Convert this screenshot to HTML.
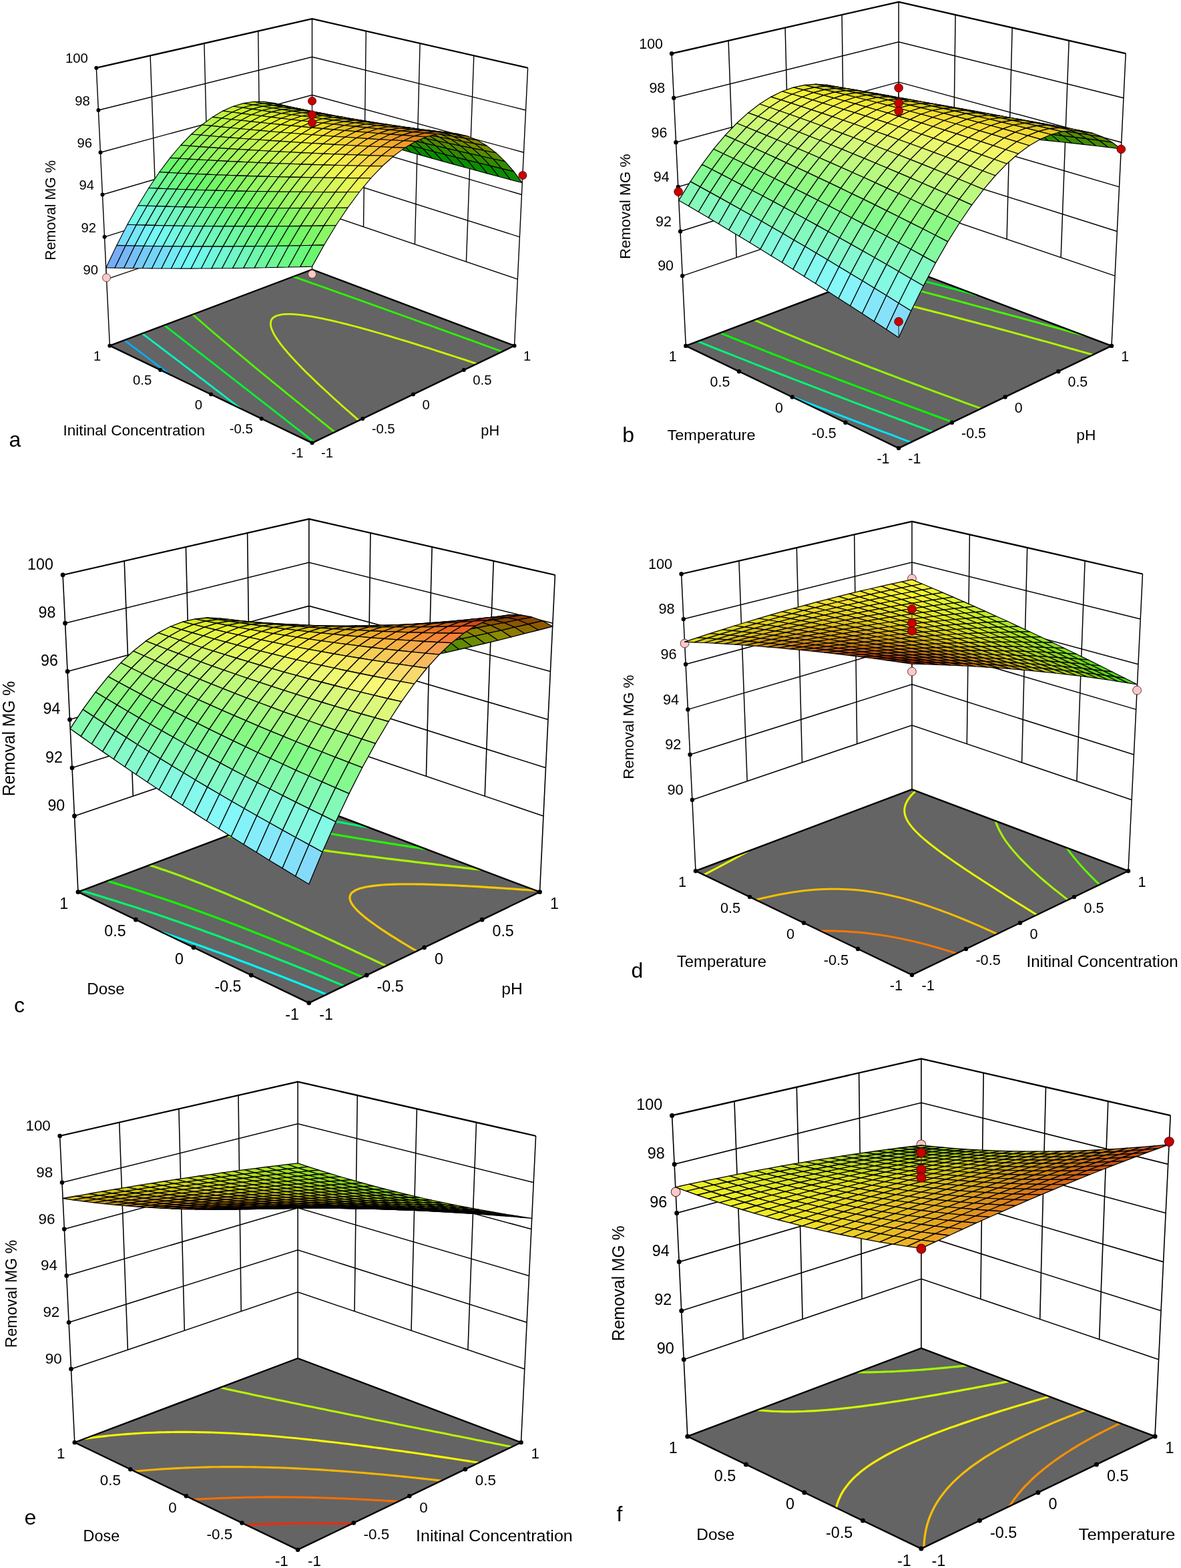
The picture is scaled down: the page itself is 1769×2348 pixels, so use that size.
<!DOCTYPE html>
<html><head><meta charset="utf-8"><style>html,body{margin:0;padding:0;background:#fff}svg{display:block}</style></head>
<body><svg xmlns="http://www.w3.org/2000/svg" width="1769" height="2348" viewBox="0 0 1769 2348" font-family="Liberation Sans, Arial, Helvetica, sans-serif" fill="#000">
<rect width="1769" height="2348" fill="#fff"/>
<path d="M159.6 418.1 L467.5 313.6 L775.3 418.1 M156.6 354.8 L467.5 256.5 L778.4 354.8 M153.5 291.5 L467.5 199.4 L781.5 291.5 M150.5 228.2 L467.5 142.3 L784.5 228.2 M147.4 165 L467.5 85.2 L787.6 165 M236.6 391.9 L225.1 83.3 M698.4 391.9 L709.8 83.3 M313.6 365.8 L305.9 64.9 M621.4 365.8 L629.1 64.9 M390.5 339.7 L386.7 46.5 M544.5 339.7 L548.3 46.5 M164.4 517.7 L144.3 101.7 M467.5 403.5 L467.5 28.2 M770.5 517.7 L790.6 101.7" fill="none" stroke="#000" stroke-width="1.40"/>
<path d="M144.3 101.7 L467.5 28.2 L790.6 101.7" fill="none" stroke="#000" stroke-width="2.30" stroke-linejoin="round"/>
<path d="M164.4 517.7 L467.5 403.5 L770.5 517.7 L467.5 663.3Z" fill="#646464"/>
<path d="M254.8 561.1 L251.3 558.5 L247 555.2 L244 552.9 L240.5 550.3 L236.2 547 L233.3 544.8 L229.8 542.2 L225.5 539 L222.7 536.8 L219.2 534.2 L215 531 L212.2 528.9 L208.8 526.3 L204.7 523.2 L201.8 521.1 L198.5 518.6 L194.4 515.5 L191.5 513.3 L188.4 511 L186.3 509.5" fill="none" stroke="#00adf7" stroke-width="2.80" stroke-linecap="round" stroke-linejoin="round"/>
<path d="M360.3 611.8 L356.7 609 L351.9 605.4 L349.4 603.4 L344.8 599.9 L340.1 596.3 L337.8 594.5 L333.1 590.9 L328.5 587.4 L326.2 585.6 L321.6 582.1 L317.5 578.9 L314.8 576.8 L310.2 573.4 L307 570.9 L303.5 568.2 L299 564.8 L296.7 563.1 L292.4 559.7 L288 556.4 L285.8 554.7 L281.5 551.4 L277.1 548.1 L275 546.5 L270.7 543.2 L266.5 540 L264.3 538.3 L260.1 535.1 L256.6 532.5 L253.7 530.3 L249.6 527.1 L246.8 525.1 L243.3 522.4 L239.2 519.3 L237.2 517.7 L233.1 514.6 L229 511.6 L227 510 L223 507 L218.9 503.9 L216.9 502.4 L213 499.4" fill="none" stroke="#00f7bd" stroke-width="2.80" stroke-linecap="round" stroke-linejoin="round"/>
<path d="M246 487 L249.9 490 L252 491.6 L255.7 494.5 L259.6 497.5 L261.6 499.1 L265.5 502.1 L268.5 504.5 L271.5 506.8 L275.5 509.9 L277.5 511.4 L281.5 514.6 L285.4 517.6 L287.6 519.3 L291.7 522.5 L294.1 524.3 L297.9 527.3 L302.1 530.6 L304.2 532.2 L308.4 535.5 L311.6 538 L314.7 540.4 L319 543.7 L321.1 545.4 L325.4 548.7 L329.6 552 L331.9 553.8 L336.3 557.2 L338.7 559.1 L342.9 562.4 L347.3 565.8 L349.6 567.5 L354 571 L357.3 573.6 L360.8 576.3 L365.3 579.9 L367.6 581.6 L372.2 585.2 L376.5 588.5 L379.2 590.6 L383.8 594.3 L386.2 596.1 L390.9 599.8 L395.6 603.4 L398 605.3 L402.8 609 L406.1 611.6 L410 614.7 L414.8 618.5 L417.3 620.4 L422.2 624.2 L426.5 627.5 L429.6 630 L434.6 633.9 L437.1 635.9 L442.1 639.8 L447.2 643.7 L449.8 645.7 L454.9 649.7 L458.1 652.3 L462.6 655.8 L467.8 659.9 L470.5 661.9" fill="none" stroke="#00f733" stroke-width="2.80" stroke-linecap="round" stroke-linejoin="round"/>
<path d="M288.6 470.9 L290.4 472.4 L293.9 475.5 L295.8 477.2 L299.2 480.1 L301.7 482.3 L304.6 484.8 L307.7 487.5 L310 489.5 L313.7 492.7 L315.5 494.3 L319.3 497.5 L321.1 499.1 L324.9 502.3 L326.8 503.9 L330.6 507.1 L333 509.2 L336.4 512 L339.7 514.8 L342.2 516.9 L346.1 520.2 L348.1 521.9 L352.1 525.2 L354.1 526.9 L358.1 530.2 L360.5 532.2 L364.2 535.3 L367.7 538.2 L370.4 540.4 L374.5 543.9 L376.6 545.6 L380.8 549.1 L382.9 550.8 L387.2 554.3 L390 556.7 L393.6 559.6 L397.8 563 L400.1 564.9 L404.5 568.5 L406.6 570.3 L411.1 573.9 L413.6 576 L417.8 579.4 L421.7 582.6 L424.5 584.9 L429.1 588.6 L431.3 590.5 L435.9 594.2 L438.4 596.2 L442.9 599.8 L446.9 603.1 L449.9 605.5 L454.7 609.4 L457.1 611.3 L461.8 615.2 L464.4 617.3 L469.1 621 L473.4 624.5 L476.4 626.9 L481.3 630.9 L483.8 632.9 L488.8 636.9 L491.8 639.3 L496.3 642.9 L501.2 646.9 L501.4 647" fill="none" stroke="#51f700" stroke-width="2.80" stroke-linecap="round" stroke-linejoin="round"/>
<path d="M714.2 544.8 L706.9 542.4 L699.5 539.9 L695.9 538.7 L688.6 536.4 L681.3 534 L674 531.6 L666.8 529.3 L663.2 528.1 L656 525.8 L648.8 523.5 L641.6 521.2 L634.4 519 L630.8 517.9 L623.7 515.6 L616.5 513.4 L609.4 511.2 L605.8 510.1 L598.7 508 L591.6 505.8 L584.4 503.7 L580.9 502.6 L573.7 500.5 L566.6 498.5 L559.9 496.5 L555.9 495.4 L548.7 493.4 L541.6 491.4 L538 490.4 L530.7 488.5 L523.5 486.6 L519.8 485.7 L512.5 483.8 L507.3 482.5 L501.4 481.2 L493.9 479.4 L490.1 478.6 L482.4 476.9 L478.5 476.2 L470.6 474.6 L466.5 473.9 L459.9 472.8 L453.9 472 L449.5 471.4 L443.4 470.8 L436.5 470.4 L430.6 470.3 L425.3 470.6 L420.9 471.1 L413.8 473 L409.1 475.8 L407.5 477.6 L406.3 479.5 L405.6 482 L405.4 484.4 L405.5 486.7 L405.9 489.2 L406.7 492.1 L407.9 495 L408.9 497.3 L409.9 499.3 L411.1 501.5 L413.2 504.9 L414.6 507.1 L415.9 509 L418.1 512.2 L420.1 514.8 L421.5 516.7 L424.1 519.9 L426.1 522.3 L427.7 524.2 L430.9 528 L432.6 529.9 L434.8 532.5 L437.6 535.5 L439.4 537.4 L442.9 541.2 L444.7 543.1 L447.6 546.1 L450.2 548.8 L452.2 550.9 L455.8 554.5 L457.7 556.4 L461.5 560.2 L463.5 562.1 L467.3 565.8 L469.4 567.8 L472.8 571.1 L475.5 573.6 L478.4 576.4 L481.7 579.5 L484.2 581.8 L488 585.3 L490.2 587.3 L494.4 591.2 L496.6 593.2 L501 597.2 L503.2 599.2 L507.6 603.1 L509.8 605.2 L514.3 609.2 L516.6 611.2 L521.2 615.3 L523.5 617.3 L528.2 621.4 L530.5 623.4 L535.2 627.6 L537.6 629.6" fill="none" stroke="#ccf700" stroke-width="2.80" stroke-linecap="round" stroke-linejoin="round"/>
<path d="M439.2 414.1 L444.9 416.1 L450.6 418.1 L456.3 420.1 L459.9 421.4 L464.9 423.2 L470.7 425.2 L476.5 427.3 L482.3 429.3 L488.1 431.4 L494 433.5 L499.8 435.5 L505.7 437.6 L511.6 439.8 L517.6 441.9 L523.6 444 L529.5 446.1 L532.6 447.2 L538.6 449.4 L544.6 451.5 L550.7 453.7 L556.8 455.9 L562.9 458.1 L569 460.3 L575.2 462.5 L581.4 464.7 L587.6 467 L593.9 469.2 L600.2 471.5 L606.5 473.7 L612.8 476 L619.1 478.3 L622.3 479.5 L628.7 481.8 L635.1 484.1 L641.6 486.4 L648.1 488.8 L654.6 491.1 L661.1 493.5 L667.7 495.9 L674.2 498.2 L680.9 500.6 L687.5 503 L694.2 505.5 L700.9 507.9 L707.6 510.3 L714.4 512.8 L721.2 515.3 L728 517.8 L731.5 519 L738.3 521.5 L745.3 524 L752.2 526.5" fill="none" stroke="#2bf700" stroke-width="2.80" stroke-linecap="round" stroke-linejoin="round"/>
<path d="M164.4 517.7 L467.5 403.5 L770.5 517.7 L467.5 663.3Z" fill="none" stroke="#000" stroke-width="2.40" stroke-linejoin="round"/>
<g fill="#000"><circle cx="164.4" cy="517.7" r="3.0"/><circle cx="240.2" cy="554.1" r="3.0"/><circle cx="316" cy="590.5" r="3.0"/><circle cx="391.7" cy="626.9" r="3.0"/><circle cx="467.5" cy="663.3" r="3.0"/><circle cx="543.2" cy="626.9" r="3.0"/><circle cx="619" cy="590.5" r="3.0"/><circle cx="694.8" cy="554.1" r="3.0"/><circle cx="770.5" cy="517.7" r="3.0"/><circle cx="159.6" cy="418.1" r="3.0"/><circle cx="156.6" cy="354.8" r="3.0"/><circle cx="153.5" cy="291.5" r="3.0"/><circle cx="150.5" cy="228.2" r="3.0"/><circle cx="147.4" cy="165" r="3.0"/><circle cx="144.3" cy="101.7" r="3.0"/></g>
<path d="M159.5 415.8L158.8 400.9" stroke="#222" stroke-width="1.00"/>
<circle cx="159.5" cy="415.8" r="6.0" fill="#ffc8c8" stroke="#533" stroke-width="0.90"/>
<path d="M467.5 410.5L467.5 399.1" stroke="#222" stroke-width="1.00"/>
<circle cx="467.5" cy="410.5" r="6.0" fill="#ffc8c8" stroke="#533" stroke-width="0.90"/>
<g stroke="#000" stroke-width="1.15" stroke-linejoin="round">
<path d="M467.5 177.7 L453.4 173.6 L467.5 184.1 L481.5 188.4Z" fill="#058c00"/>
<path d="M481.7 181.7 L467.5 177.7 L481.5 188.4 L495.8 192.8Z" fill="#048c00"/>
<path d="M453.2 168.9 L439.1 165.2 L453.4 173.6 L467.5 177.7Z" fill="#218c00"/>
<path d="M496.2 185.8 L481.7 181.7 L495.8 192.8 L510.1 197.1Z" fill="#048c00"/>
<path d="M467.5 172.6 L453.2 168.9 L467.5 177.7 L481.7 181.7Z" fill="#218c00"/>
<path d="M438.7 162.2 L424.6 158.7 L439.1 165.2 L453.2 168.9Z" fill="#398c00"/>
<path d="M510.7 189.8 L496.2 185.8 L510.1 197.1 L524.7 201.5Z" fill="#048c00"/>
<path d="M481.9 176.4 L467.5 172.6 L481.7 181.7 L496.2 185.8Z" fill="#228c00"/>
<path d="M453 165.6 L438.7 162.2 L453.2 168.9 L467.5 172.6Z" fill="#3a8c00"/>
<path d="M424 157.6 L409.9 154.4 L424.6 158.7 L438.7 162.2Z" fill="#539603"/>
<path d="M525.5 193.9 L510.7 189.8 L524.7 201.5 L539.4 205.9Z" fill="#048c00"/>
<path d="M496.6 180.2 L481.9 176.4 L496.2 185.8 L510.7 189.8Z" fill="#228c00"/>
<path d="M467.5 169.1 L453 165.6 L467.5 172.6 L481.9 176.4Z" fill="#3b8c00"/>
<path d="M438.3 160.8 L424 157.6 L438.7 162.2 L453 165.6Z" fill="#529202"/>
<path d="M540.4 198 L525.5 193.9 L539.4 205.9 L554.3 210.3Z" fill="#048c00"/>
<path d="M409.1 155.2 L395 152.3 L409.9 154.4 L424 157.6Z" fill="#72aa08"/>
<path d="M511.3 183.9 L496.6 180.2 L510.7 189.8 L525.5 193.9Z" fill="#238c00"/>
<path d="M482.1 172.6 L467.5 169.1 L481.9 176.4 L496.6 180.2Z" fill="#3c8c00"/>
<path d="M452.8 163.9 L438.3 160.8 L453 165.6 L467.5 169.1Z" fill="#528f01"/>
<path d="M555.5 202.1 L540.4 198 L554.3 210.3 L569.3 214.7Z" fill="#048c00"/>
<path d="M423.5 158.1 L409.1 155.2 L424 157.6 L438.3 160.8Z" fill="#72a607"/>
<path d="M394.1 155 L379.9 152.3 L395 152.3 L409.1 155.2Z" fill="#8ebe0e"/>
<path d="M526.3 187.7 L511.3 183.9 L525.5 193.9 L540.4 198Z" fill="#248c00"/>
<path d="M496.9 176 L482.1 172.6 L496.6 180.2 L511.3 183.9Z" fill="#3d8c00"/>
<path d="M467.5 167.1 L452.8 163.9 L467.5 169.1 L482.1 172.6Z" fill="#528c00"/>
<path d="M570.8 206.2 L555.5 202.1 L569.3 214.7 L584.6 219.2Z" fill="#058c00"/>
<path d="M438 160.9 L423.5 158.1 L438.3 160.8 L452.8 163.9Z" fill="#72a306"/>
<path d="M408.4 157.6 L394.1 155 L409.1 155.2 L423.5 158.1Z" fill="#8fbb0d"/>
<path d="M378.8 157 L364.7 154.6 L379.9 152.3 L394.1 155Z" fill="#a7d216"/>
<path d="M541.4 191.5 L526.3 187.7 L540.4 198 L555.5 202.1Z" fill="#248c00"/>
<path d="M511.9 179.5 L496.9 176 L511.3 183.9 L526.3 187.7Z" fill="#3f8c00"/>
<path d="M586.3 210.3 L570.8 206.2 L584.6 219.2 L600 223.6Z" fill="#058c00"/>
<path d="M482.3 170.3 L467.5 167.1 L482.1 172.6 L496.9 176Z" fill="#538c00"/>
<path d="M452.6 163.8 L438 160.9 L452.8 163.9 L467.5 167.1Z" fill="#72a005"/>
<path d="M422.9 160.2 L408.4 157.6 L423.5 158.1 L438 160.9Z" fill="#90b70c"/>
<path d="M363.5 161.3 L349.3 159.2 L364.7 154.6 L378.8 157Z" fill="#bae521"/>
<path d="M393.2 159.3 L378.8 157 L394.1 155 L408.4 157.6Z" fill="#a9cf14"/>
<path d="M556.8 195.3 L541.4 191.5 L555.5 202.1 L570.8 206.2Z" fill="#258c00"/>
<path d="M527.1 183 L511.9 179.5 L526.3 187.7 L541.4 191.5Z" fill="#408c00"/>
<path d="M601.9 214.5 L586.3 210.3 L600 223.6 L615.6 228.1Z" fill="#058c00"/>
<path d="M497.3 173.4 L482.3 170.3 L496.9 176 L511.9 179.5Z" fill="#558c00"/>
<path d="M467.5 166.7 L452.6 163.8 L467.5 167.1 L482.3 170.3Z" fill="#719c04"/>
<path d="M347.9 168 L333.8 166.1 L349.3 159.2 L363.5 161.3Z" fill="#c5f42c"/>
<path d="M437.6 162.8 L422.9 160.2 L438 160.9 L452.6 163.8Z" fill="#90b40b"/>
<path d="M377.8 163.4 L363.5 161.3 L378.8 157 L393.2 159.3Z" fill="#bde21f"/>
<path d="M407.7 161.7 L393.2 159.3 L408.4 157.6 L422.9 160.2Z" fill="#aacb12"/>
<path d="M572.3 199.1 L556.8 195.3 L570.8 206.2 L586.3 210.3Z" fill="#268c00"/>
<path d="M542.5 186.5 L527.1 183 L541.4 191.5 L556.8 195.3Z" fill="#418c00"/>
<path d="M617.8 218.6 L601.9 214.5 L615.6 228.1 L631.3 232.6Z" fill="#068c00"/>
<path d="M512.6 176.6 L497.3 173.4 L511.9 179.5 L527.1 183Z" fill="#578c00"/>
<path d="M332.3 177 L318.2 175.4 L333.8 166.1 L347.9 168Z" fill="#bff53b"/>
<path d="M482.5 169.6 L467.5 166.7 L482.3 170.3 L497.3 173.4Z" fill="#719904"/>
<path d="M362.2 169.9 L347.9 168 L363.5 161.3 L377.8 163.4Z" fill="#c9f229"/>
<path d="M452.4 165.4 L437.6 162.8 L452.6 163.8 L467.5 166.7Z" fill="#91b10a"/>
<path d="M588 202.9 L572.3 199.1 L586.3 210.3 L601.9 214.5Z" fill="#278c00"/>
<path d="M392.2 165.5 L377.8 163.4 L393.2 159.3 L407.7 161.7Z" fill="#c0df1d"/>
<path d="M422.3 164 L407.7 161.7 L422.9 160.2 L437.6 162.8Z" fill="#abc811"/>
<path d="M558 189.9 L542.5 186.5 L556.8 195.3 L572.3 199.1Z" fill="#438c00"/>
<path d="M633.8 222.8 L617.8 218.6 L631.3 232.6 L647.3 237.1Z" fill="#068c00"/>
<path d="M316.5 188.4 L302.5 187 L318.2 175.4 L332.3 177Z" fill="#b5f648"/>
<path d="M527.9 179.8 L512.6 176.6 L527.1 183 L542.5 186.5Z" fill="#598c00"/>
<path d="M346.5 178.7 L332.3 177 L347.9 168 L362.2 169.9Z" fill="#c5f538"/>
<path d="M497.8 172.5 L482.5 169.6 L497.3 173.4 L512.6 176.6Z" fill="#719603"/>
<path d="M376.7 171.7 L362.2 169.9 L377.8 163.4 L392.2 165.5Z" fill="#cdef27"/>
<path d="M467.5 168 L452.4 165.4 L467.5 166.7 L482.5 169.6Z" fill="#91ad09"/>
<path d="M603.9 206.7 L588 202.9 L601.9 214.5 L617.8 218.6Z" fill="#288c00"/>
<path d="M406.9 167.6 L392.2 165.5 L407.7 161.7 L422.3 164Z" fill="#c2db1b"/>
<path d="M437.2 166.4 L422.3 164 L437.6 162.8 L452.4 165.4Z" fill="#adc510"/>
<path d="M573.8 193.4 L558 189.9 L572.3 199.1 L588 202.9Z" fill="#448c00"/>
<path d="M300.7 202.3 L286.7 201 L302.5 187 L316.5 188.4Z" fill="#a6f653"/>
<path d="M650 227 L633.8 222.8 L647.3 237.1 L663.5 241.6Z" fill="#078c00"/>
<path d="M543.5 183 L527.9 179.8 L542.5 186.5 L558 189.9Z" fill="#5b8c00"/>
<path d="M330.7 189.9 L316.5 188.4 L332.3 177 L346.5 178.7Z" fill="#bbf646"/>
<path d="M513.2 175.3 L497.8 172.5 L512.6 176.6 L527.9 179.8Z" fill="#719302"/>
<path d="M361 180.3 L346.5 178.7 L362.2 169.9 L376.7 171.7Z" fill="#cbf536"/>
<path d="M620 210.6 L603.9 206.7 L617.8 218.6 L633.8 222.8Z" fill="#298c00"/>
<path d="M482.7 170.6 L467.5 168 L482.5 169.6 L497.8 172.5Z" fill="#92aa08"/>
<path d="M391.3 173.5 L376.7 171.7 L392.2 165.5 L406.9 167.6Z" fill="#d1ed26"/>
<path d="M452.2 168.7 L437.2 166.4 L452.4 165.4 L467.5 168Z" fill="#afc10f"/>
<path d="M421.8 169.7 L406.9 167.6 L422.3 164 L437.2 166.4Z" fill="#c5d819"/>
<path d="M284.7 218.5 L270.8 217.5 L286.7 201 L300.7 202.3Z" fill="#94f75c"/>
<path d="M589.7 196.9 L573.8 193.4 L588 202.9 L603.9 206.7Z" fill="#468c00"/>
<path d="M314.8 203.5 L300.7 202.3 L316.5 188.4 L330.7 189.9Z" fill="#acf651"/>
<path d="M666.4 231.2 L650 227 L663.5 241.6 L679.8 246.1Z" fill="#078c00"/>
<path d="M559.3 186.1 L543.5 183 L558 189.9 L573.8 193.4Z" fill="#5d8c00"/>
<path d="M345.1 191.3 L330.7 189.9 L346.5 178.7 L361 180.3Z" fill="#c1f643"/>
<path d="M268.7 237.3 L254.8 236.4 L270.8 217.5 L284.7 218.5Z" fill="#7ef763"/>
<path d="M528.8 178.2 L513.2 175.3 L527.9 179.8 L543.5 183Z" fill="#718f01"/>
<path d="M375.6 181.9 L361 180.3 L376.7 171.7 L391.3 173.5Z" fill="#d2f533"/>
<path d="M636.3 214.4 L620 210.6 L633.8 222.8 L650 227Z" fill="#2a8c00"/>
<path d="M498.2 173.2 L482.7 170.6 L497.8 172.5 L513.2 175.3Z" fill="#93a707"/>
<path d="M406.2 175.4 L391.3 173.5 L406.9 167.6 L421.8 169.7Z" fill="#d5ea24"/>
<path d="M467.5 171 L452.2 168.7 L467.5 168 L482.7 170.6Z" fill="#b0be0e"/>
<path d="M436.8 171.7 L421.8 169.7 L437.2 166.4 L452.2 168.7Z" fill="#c7d518"/>
<path d="M298.8 219.6 L284.7 218.5 L300.7 202.3 L314.8 203.5Z" fill="#9af75a"/>
<path d="M605.9 200.4 L589.7 196.9 L603.9 206.7 L620 210.6Z" fill="#478c00"/>
<path d="M252.6 258.4 L238.8 257.7 L254.8 236.4 L268.7 237.3Z" fill="#69f76e"/>
<path d="M329.2 204.7 L314.8 203.5 L330.7 189.9 L345.1 191.3Z" fill="#b3f64f"/>
<path d="M683.1 235.4 L666.4 231.2 L679.8 246.1 L696.4 250.7Z" fill="#088c00"/>
<path d="M575.3 189.3 L559.3 186.1 L573.8 193.4 L589.7 196.9Z" fill="#5f8c00"/>
<path d="M359.7 192.7 L345.1 191.3 L361 180.3 L375.6 181.9Z" fill="#c8f641"/>
<path d="M282.8 238.1 L268.7 237.3 L284.7 218.5 L298.8 219.6Z" fill="#84f762"/>
<path d="M544.6 181.1 L528.8 178.2 L543.5 183 L559.3 186.1Z" fill="#718c00"/>
<path d="M236.6 282.1 L222.8 281.5 L238.8 257.7 L252.6 258.4Z" fill="#6df894"/>
<path d="M390.4 183.5 L375.6 181.9 L391.3 173.5 L406.2 175.4Z" fill="#d8f531"/>
<path d="M652.8 218.3 L636.3 214.4 L650 227 L666.4 231.2Z" fill="#2b8c00"/>
<path d="M513.8 175.7 L498.2 173.2 L513.2 175.3 L528.8 178.2Z" fill="#93a306"/>
<path d="M421.2 177.2 L406.2 175.4 L421.8 169.7 L436.8 171.7Z" fill="#d9e722"/>
<path d="M482.9 173.3 L467.5 171 L482.7 170.6 L498.2 173.2Z" fill="#b1bb0d"/>
<path d="M452 173.8 L436.8 171.7 L452.2 168.7 L467.5 171Z" fill="#cad216"/>
<path d="M313.1 220.6 L298.8 219.6 L314.8 203.5 L329.2 204.7Z" fill="#a1f759"/>
<path d="M622.2 204 L605.9 200.4 L620 210.6 L636.3 214.4Z" fill="#498c00"/>
<path d="M220.4 308.2 L206.8 307.7 L222.8 281.5 L236.6 282.1Z" fill="#71f8bc"/>
<path d="M266.6 259.2 L252.6 258.4 L268.7 237.3 L282.8 238.1Z" fill="#6bf768"/>
<path d="M699.9 239.6 L683.1 235.4 L696.4 250.7 L713.1 255.3Z" fill="#098c00"/>
<path d="M343.7 205.9 L329.2 204.7 L345.1 191.3 L359.7 192.7Z" fill="#baf64d"/>
<path d="M591.5 192.5 L575.3 189.3 L589.7 196.9 L605.9 200.4Z" fill="#618c00"/>
<path d="M374.5 194 L359.7 192.7 L375.6 181.9 L390.4 183.5Z" fill="#cff53f"/>
<path d="M204.3 336.7 L190.8 336.3 L206.8 307.7 L220.4 308.2Z" fill="#73f8e6"/>
<path d="M560.6 184 L544.6 181.1 L559.3 186.1 L575.3 189.3Z" fill="#748c00"/>
<path d="M297 239 L282.8 238.1 L298.8 219.6 L313.1 220.6Z" fill="#8bf760"/>
<path d="M669.5 222.1 L652.8 218.3 L666.4 231.2 L683.1 235.4Z" fill="#2d8c00"/>
<path d="M250.5 282.7 L236.6 282.1 L252.6 258.4 L266.6 259.2Z" fill="#6cf88b"/>
<path d="M405.4 185 L390.4 183.5 L406.2 175.4 L421.2 177.2Z" fill="#dff52e"/>
<path d="M529.6 178.3 L513.8 175.7 L528.8 178.2 L544.6 181.1Z" fill="#94a005"/>
<path d="M436.4 179 L421.2 177.2 L436.8 171.7 L452 173.8Z" fill="#dce420"/>
<path d="M498.6 175.6 L482.9 173.3 L498.2 173.2 L513.8 175.7Z" fill="#b3b80c"/>
<path d="M467.5 175.8 L452 173.8 L467.5 171 L482.9 173.3Z" fill="#cccf14"/>
<path d="M188.2 367.7 L174.8 367.4 L190.8 336.3 L204.3 336.7Z" fill="#75ddf8"/>
<path d="M327.6 221.6 L313.1 220.6 L329.2 204.7 L343.7 205.9Z" fill="#a8f757"/>
<path d="M638.8 207.5 L622.2 204 L636.3 214.4 L652.8 218.3Z" fill="#4b8c00"/>
<path d="M234.3 308.6 L220.4 308.2 L236.6 282.1 L250.5 282.7Z" fill="#70f8b3"/>
<path d="M717 243.8 L699.9 239.6 L713.1 255.3 L730.1 259.9Z" fill="#0a8c00"/>
<path d="M280.8 259.9 L266.6 259.2 L282.8 238.1 L297 239Z" fill="#72f766"/>
<path d="M172.2 401.1 L158.8 400.9 L174.8 367.4 L188.2 367.7Z" fill="#77adf8"/>
<path d="M358.5 207 L343.7 205.9 L359.7 192.7 L374.5 194Z" fill="#c0f64b"/>
<path d="M607.9 195.7 L591.5 192.5 L605.9 200.4 L622.2 204Z" fill="#648c00"/>
<path d="M389.5 195.4 L374.5 194 L390.4 183.5 L405.4 185Z" fill="#d6f53c"/>
<path d="M576.8 186.8 L560.6 184 L575.3 189.3 L591.5 192.5Z" fill="#778c00"/>
<path d="M218.1 337.1 L204.3 336.7 L220.4 308.2 L234.3 308.6Z" fill="#73f8dd"/>
<path d="M686.4 226 L669.5 222.1 L683.1 235.4 L699.9 239.6Z" fill="#2e8c00"/>
<path d="M311.5 239.8 L297 239 L313.1 220.6 L327.6 221.6Z" fill="#92f75f"/>
<path d="M420.6 186.6 L405.4 185 L421.2 177.2 L436.4 179Z" fill="#e6f42b"/>
<path d="M545.7 180.9 L529.6 178.3 L544.6 181.1 L560.6 184Z" fill="#949d04"/>
<path d="M264.6 283.2 L250.5 282.7 L266.6 259.2 L280.8 259.9Z" fill="#6bf882"/>
<path d="M451.9 180.7 L436.4 179 L452 173.8 L467.5 175.8Z" fill="#e0e11f"/>
<path d="M514.4 177.9 L498.6 175.6 L513.8 175.7 L529.6 178.3Z" fill="#b4b40b"/>
<path d="M483.1 177.8 L467.5 175.8 L482.9 173.3 L498.6 175.6Z" fill="#cbc812"/>
<path d="M201.9 368 L188.2 367.7 L204.3 336.7 L218.1 337.1Z" fill="#75e6f8"/>
<path d="M655.5 211 L638.8 207.5 L652.8 218.3 L669.5 222.1Z" fill="#4d8c00"/>
<path d="M342.3 222.6 L327.6 221.6 L343.7 205.9 L358.5 207Z" fill="#aff755"/>
<path d="M734.3 248.1 L717 243.8 L730.1 259.9 L747.3 264.5Z" fill="#0b8c00"/>
<path d="M248.3 309.1 L234.3 308.6 L250.5 282.7 L264.6 283.2Z" fill="#6ff8a9"/>
<path d="M295.2 260.5 L280.8 259.9 L297 239 L311.5 239.8Z" fill="#79f765"/>
<path d="M185.7 401.4 L172.2 401.1 L188.2 367.7 L201.9 368Z" fill="#76b7f8"/>
<path d="M624.5 198.9 L607.9 195.7 L622.2 204 L638.8 207.5Z" fill="#668c00"/>
<path d="M373.4 208.2 L358.5 207 L374.5 194 L389.5 195.4Z" fill="#c8f649"/>
<path d="M593.3 189.7 L576.8 186.8 L591.5 192.5 L607.9 195.7Z" fill="#7a8c00"/>
<path d="M404.7 196.7 L389.5 195.4 L405.4 185 L420.6 186.6Z" fill="#ddf53a"/>
<path d="M703.5 229.9 L686.4 226 L699.9 239.6 L717 243.8Z" fill="#308c00"/>
<path d="M232 337.4 L218.1 337.1 L234.3 308.6 L248.3 309.1Z" fill="#72f8d4"/>
<path d="M326.1 240.6 L311.5 239.8 L327.6 221.6 L342.3 222.6Z" fill="#99f75d"/>
<path d="M561.9 183.5 L545.7 180.9 L560.6 184 L576.8 186.8Z" fill="#949904"/>
<path d="M436 188.1 L420.6 186.6 L436.4 179 L451.9 180.7Z" fill="#ecf229"/>
<path d="M278.9 283.7 L264.6 283.2 L280.8 259.9 L295.2 260.5Z" fill="#6af878"/>
<path d="M530.5 180.2 L514.4 177.9 L529.6 178.3 L545.7 180.9Z" fill="#b1ac0a"/>
<path d="M467.5 182.5 L451.9 180.7 L467.5 175.8 L483.1 177.8Z" fill="#dfd91d"/>
<path d="M499 179.9 L483.1 177.8 L498.6 175.6 L514.4 177.9Z" fill="#c8bf11"/>
<path d="M672.5 214.5 L655.5 211 L669.5 222.1 L686.4 226Z" fill="#4f8c00"/>
<path d="M215.7 368.3 L201.9 368 L218.1 337.1 L232 337.4Z" fill="#74f0f8"/>
<path d="M357.2 223.5 L342.3 222.6 L358.5 207 L373.4 208.2Z" fill="#b6f653"/>
<path d="M751.8 252.4 L734.3 248.1 L747.3 264.5 L764.7 269.1Z" fill="#0c8c00"/>
<path d="M641.3 202.1 L624.5 198.9 L638.8 207.5 L655.5 211Z" fill="#688c00"/>
<path d="M262.5 309.5 L248.3 309.1 L264.6 283.2 L278.9 283.7Z" fill="#6ef8a0"/>
<path d="M309.8 261.1 L295.2 260.5 L311.5 239.8 L326.1 240.6Z" fill="#80f764"/>
<path d="M388.6 209.3 L373.4 208.2 L389.5 195.4 L404.7 196.7Z" fill="#cff647"/>
<path d="M199.5 401.6 L185.7 401.4 L201.9 368 L215.7 368.3Z" fill="#76c0f8"/>
<path d="M609.9 192.6 L593.3 189.7 L607.9 195.7 L624.5 198.9Z" fill="#7d8c00"/>
<path d="M720.9 233.8 L703.5 229.9 L717 243.8 L734.3 248.1Z" fill="#318c00"/>
<path d="M420 198 L404.7 196.7 L420.6 186.6 L436 188.1Z" fill="#e5f538"/>
<path d="M578.4 186 L561.9 183.5 L576.8 186.8 L593.3 189.7Z" fill="#959603"/>
<path d="M340.9 241.4 L326.1 240.6 L342.3 222.6 L357.2 223.5Z" fill="#a0f75c"/>
<path d="M246.1 337.7 L232 337.4 L248.3 309.1 L262.5 309.5Z" fill="#71f8ca"/>
<path d="M451.7 189.6 L436 188.1 L451.9 180.7 L467.5 182.5Z" fill="#efed27"/>
<path d="M546.7 182.4 L530.5 180.2 L545.7 180.9 L561.9 183.5Z" fill="#aea409"/>
<path d="M483.3 184.3 L467.5 182.5 L483.1 177.8 L499 179.9Z" fill="#dbcf1b"/>
<path d="M293.4 284.2 L278.9 283.7 L295.2 260.5 L309.8 261.1Z" fill="#69f86e"/>
<path d="M515 181.9 L499 179.9 L514.4 177.9 L530.5 180.2Z" fill="#c5b710"/>
<path d="M689.7 218.1 L672.5 214.5 L686.4 226 L703.5 229.9Z" fill="#518c00"/>
<path d="M769.5 256.6 L751.8 252.4 L764.7 269.1 L782.3 273.8Z" fill="#0d8c00"/>
<path d="M372.3 224.4 L357.2 223.5 L373.4 208.2 L388.6 209.3Z" fill="#bdf651"/>
<path d="M229.8 368.5 L215.7 368.3 L232 337.4 L246.1 337.7Z" fill="#73f8f7"/>
<path d="M658.4 205.3 L641.3 202.1 L655.5 211 L672.5 214.5Z" fill="#6b8c00"/>
<path d="M324.5 261.8 L309.8 261.1 L326.1 240.6 L340.9 241.4Z" fill="#88f763"/>
<path d="M276.9 309.9 L262.5 309.5 L278.9 283.7 L293.4 284.2Z" fill="#6df896"/>
<path d="M403.9 210.4 L388.6 209.3 L404.7 196.7 L420 198Z" fill="#d7f645"/>
<path d="M213.4 401.7 L199.5 401.6 L215.7 368.3 L229.8 368.5Z" fill="#75caf8"/>
<path d="M626.8 195.4 L609.9 192.6 L624.5 198.9 L641.3 202.1Z" fill="#808c00"/>
<path d="M738.5 237.7 L720.9 233.8 L734.3 248.1 L751.8 252.4Z" fill="#338c00"/>
<path d="M435.6 199.3 L420 198 L436 188.1 L451.7 189.6Z" fill="#edf535"/>
<path d="M595.1 188.6 L578.4 186 L593.3 189.7 L609.9 192.6Z" fill="#939002"/>
<path d="M467.5 191.1 L451.7 189.6 L467.5 182.5 L483.3 184.3Z" fill="#ece325"/>
<path d="M356 242.1 L340.9 241.4 L357.2 223.5 L372.3 224.4Z" fill="#a8f75a"/>
<path d="M260.5 338 L246.1 337.7 L262.5 309.5 L276.9 309.9Z" fill="#70f8c0"/>
<path d="M563.2 184.7 L546.7 182.4 L561.9 183.5 L578.4 186Z" fill="#aa9d08"/>
<path d="M499.4 186 L483.3 184.3 L499 179.9 L515 181.9Z" fill="#d8c519"/>
<path d="M531.3 183.8 L515 181.9 L530.5 180.2 L546.7 182.4Z" fill="#c2ae0f"/>
<path d="M308.1 284.7 L293.4 284.2 L309.8 261.1 L324.5 261.8Z" fill="#6cf768"/>
<path d="M707.2 221.6 L689.7 218.1 L703.5 229.9 L720.9 233.8Z" fill="#538c00"/>
<path d="M387.6 225.3 L372.3 224.4 L388.6 209.3 L403.9 210.4Z" fill="#c5f64f"/>
<path d="M244 368.7 L229.8 368.5 L246.1 337.7 L260.5 338Z" fill="#72f8ed"/>
<path d="M675.6 208.5 L658.4 205.3 L672.5 214.5 L689.7 218.1Z" fill="#6e8c00"/>
<path d="M339.5 262.3 L324.5 261.8 L340.9 241.4 L356 242.1Z" fill="#8ff761"/>
<path d="M419.5 211.4 L403.9 210.4 L420 198 L435.6 199.3Z" fill="#dff642"/>
<path d="M291.6 310.2 L276.9 309.9 L293.4 284.2 L308.1 284.7Z" fill="#6cf88c"/>
<path d="M756.3 241.6 L738.5 237.7 L751.8 252.4 L769.5 256.6Z" fill="#348c00"/>
<path d="M643.9 198.3 L626.8 195.4 L641.3 202.1 L658.4 205.3Z" fill="#838c00"/>
<path d="M227.5 401.9 L213.4 401.7 L229.8 368.5 L244 368.7Z" fill="#74d4f8"/>
<path d="M451.5 200.5 L435.6 199.3 L451.7 189.6 L467.5 191.1Z" fill="#f5f533"/>
<path d="M612 191.1 L595.1 188.6 L609.9 192.6 L626.8 195.4Z" fill="#8f8901"/>
<path d="M483.5 192.6 L467.5 191.1 L483.3 184.3 L499.4 186Z" fill="#ead824"/>
<path d="M371.2 242.8 L356 242.1 L372.3 224.4 L387.6 225.3Z" fill="#b0f758"/>
<path d="M579.9 187 L563.2 184.7 L578.4 186 L595.1 188.6Z" fill="#a79507"/>
<path d="M515.7 187.7 L499.4 186 L515 181.9 L531.3 183.8Z" fill="#d5bb18"/>
<path d="M275 338.3 L260.5 338 L276.9 309.9 L291.6 310.2Z" fill="#6ff8b6"/>
<path d="M547.8 185.8 L531.3 183.8 L546.7 182.4 L563.2 184.7Z" fill="#bea50e"/>
<path d="M724.9 225.2 L707.2 221.6 L720.9 233.8 L738.5 237.7Z" fill="#558c00"/>
<path d="M323 285.1 L308.1 284.7 L324.5 261.8 L339.5 262.3Z" fill="#73f767"/>
<path d="M403.2 226.2 L387.6 225.3 L403.9 210.4 L419.5 211.4Z" fill="#cdf64e"/>
<path d="M693.1 211.7 L675.6 208.5 L689.7 218.1 L707.2 221.6Z" fill="#708c00"/>
<path d="M258.5 368.9 L244 368.7 L260.5 338 L275 338.3Z" fill="#72f8e3"/>
<path d="M435.3 212.5 L419.5 211.4 L435.6 199.3 L451.5 200.5Z" fill="#e7f540"/>
<path d="M354.7 262.9 L339.5 262.3 L356 242.1 L371.2 242.8Z" fill="#97f760"/>
<path d="M306.4 310.5 L291.6 310.2 L308.1 284.7 L323 285.1Z" fill="#6bf882"/>
<path d="M661.2 201.2 L643.9 198.3 L658.4 205.3 L675.6 208.5Z" fill="#868c00"/>
<path d="M241.9 402 L227.5 401.9 L244 368.7 L258.5 368.9Z" fill="#74def8"/>
<path d="M467.5 201.8 L451.5 200.5 L467.5 191.1 L483.5 192.6Z" fill="#f5ec30"/>
<path d="M629.1 193.7 L612 191.1 L626.8 195.4 L643.9 198.3Z" fill="#8c8300"/>
<path d="M499.8 194.1 L483.5 192.6 L499.4 186 L515.7 187.7Z" fill="#e7ce22"/>
<path d="M596.9 189.2 L579.9 187 L595.1 188.6 L612 191.1Z" fill="#a48d06"/>
<path d="M386.7 243.5 L371.2 242.8 L387.6 225.3 L403.2 226.2Z" fill="#b8f757"/>
<path d="M532.2 189.4 L515.7 187.7 L531.3 183.8 L547.8 185.8Z" fill="#d2b116"/>
<path d="M742.8 228.7 L724.9 225.2 L738.5 237.7 L756.3 241.6Z" fill="#578c00"/>
<path d="M564.5 187.8 L547.8 185.8 L563.2 184.7 L579.9 187Z" fill="#bb9c0d"/>
<path d="M289.8 338.5 L275 338.3 L291.6 310.2 L306.4 310.5Z" fill="#6ef8ac"/>
<path d="M338.1 285.5 L323 285.1 L339.5 262.3 L354.7 262.9Z" fill="#7cf765"/>
<path d="M418.9 227 L403.2 226.2 L419.5 211.4 L435.3 212.5Z" fill="#d5f64c"/>
<path d="M710.9 214.9 L693.1 211.7 L707.2 221.6 L724.9 225.2Z" fill="#738c00"/>
<path d="M273.1 369 L258.5 368.9 L275 338.3 L289.8 338.5Z" fill="#71f8d8"/>
<path d="M451.3 213.5 L435.3 212.5 L451.5 200.5 L467.5 201.8Z" fill="#f0f53e"/>
<path d="M678.8 204 L661.2 201.2 L675.6 208.5 L693.1 211.7Z" fill="#898c00"/>
<path d="M370.1 263.4 L354.7 262.9 L371.2 242.8 L386.7 243.5Z" fill="#a0f75e"/>
<path d="M321.5 310.8 L306.4 310.5 L323 285.1 L338.1 285.5Z" fill="#6af878"/>
<path d="M483.7 203 L467.5 201.8 L483.5 192.6 L499.8 194.1Z" fill="#f5e32d"/>
<path d="M646.5 196.2 L629.1 193.7 L643.9 198.3 L661.2 201.2Z" fill="#8c7f00"/>
<path d="M256.5 402 L241.9 402 L258.5 368.9 L273.1 369Z" fill="#73e9f8"/>
<path d="M516.3 195.5 L499.8 194.1 L515.7 187.7 L532.2 189.4Z" fill="#e4c320"/>
<path d="M614 191.4 L596.9 189.2 L612 191.1 L629.1 193.7Z" fill="#a08505"/>
<path d="M548.9 191.1 L532.2 189.4 L547.8 185.8 L564.5 187.8Z" fill="#cfa714"/>
<path d="M581.5 189.7 L564.5 187.8 L579.9 187 L596.9 189.2Z" fill="#b8930c"/>
<path d="M402.4 244.1 L386.7 243.5 L403.2 226.2 L418.9 227Z" fill="#c0f755"/>
<path d="M304.8 338.6 L289.8 338.5 L306.4 310.5 L321.5 310.8Z" fill="#6df8a2"/>
<path d="M353.5 285.9 L338.1 285.5 L354.7 262.9 L370.1 263.4Z" fill="#84f764"/>
<path d="M728.9 218.1 L710.9 214.9 L724.9 225.2 L742.8 228.7Z" fill="#768c00"/>
<path d="M434.9 227.8 L418.9 227 L435.3 212.5 L451.3 213.5Z" fill="#def64a"/>
<path d="M288 369.1 L273.1 369 L289.8 338.5 L304.8 338.6Z" fill="#70f8ce"/>
<path d="M696.6 206.9 L678.8 204 L693.1 211.7 L710.9 214.9Z" fill="#8c8c00"/>
<path d="M467.5 214.5 L451.3 213.5 L467.5 201.8 L483.7 203Z" fill="#f5f23b"/>
<path d="M385.8 263.9 L370.1 263.4 L386.7 243.5 L402.4 244.1Z" fill="#a8f75d"/>
<path d="M336.7 311 L321.5 310.8 L338.1 285.5 L353.5 285.9Z" fill="#69f76d"/>
<path d="M664.1 198.7 L646.5 196.2 L661.2 201.2 L678.8 204Z" fill="#8c7b00"/>
<path d="M500.2 204.2 L483.7 203 L499.8 194.1 L516.3 195.5Z" fill="#f4d92b"/>
<path d="M271.2 402.1 L256.5 402 L273.1 369 L288 369.1Z" fill="#72f3f8"/>
<path d="M631.5 193.7 L614 191.4 L629.1 193.7 L646.5 196.2Z" fill="#9d7e05"/>
<path d="M533 196.9 L516.3 195.5 L532.2 189.4 L548.9 191.1Z" fill="#e1b81f"/>
<path d="M598.7 191.7 L581.5 189.7 L596.9 189.2 L614 191.4Z" fill="#b58b0b"/>
<path d="M565.9 192.8 L548.9 191.1 L564.5 187.8 L581.5 189.7Z" fill="#cb9d12"/>
<path d="M418.3 244.7 L402.4 244.1 L418.9 227 L434.9 227.8Z" fill="#c9f653"/>
<path d="M319.9 338.8 L304.8 338.6 L321.5 310.8 L336.7 311Z" fill="#6df897"/>
<path d="M369.1 286.2 L353.5 285.9 L370.1 263.4 L385.8 263.9Z" fill="#8cf763"/>
<path d="M451.1 228.6 L434.9 227.8 L451.3 213.5 L467.5 214.5Z" fill="#e7f647"/>
<path d="M714.6 209.7 L696.6 206.9 L710.9 214.9 L728.9 218.1Z" fill="#8c8900"/>
<path d="M303.1 369.1 L288 369.1 L304.8 338.6 L319.9 338.8Z" fill="#6ff8c3"/>
<path d="M483.9 215.4 L467.5 214.5 L483.7 203 L500.2 204.2Z" fill="#f5e939"/>
<path d="M401.6 264.3 L385.8 263.9 L402.4 244.1 L418.3 244.7Z" fill="#b0f75b"/>
<path d="M352.2 311.2 L336.7 311 L353.5 285.9 L369.1 286.2Z" fill="#6df768"/>
<path d="M682 201.3 L664.1 198.7 L678.8 204 L696.6 206.9Z" fill="#8c7700"/>
<path d="M516.9 205.3 L500.2 204.2 L516.3 195.5 L533 196.9Z" fill="#f1cd28"/>
<path d="M649.1 195.9 L631.5 193.7 L646.5 196.2 L664.1 198.7Z" fill="#9a7604"/>
<path d="M550 198.3 L533 196.9 L548.9 191.1 L565.9 192.8Z" fill="#dead1d"/>
<path d="M286.2 402.1 L271.2 402.1 L288 369.1 L303.1 369.1Z" fill="#72f8f2"/>
<path d="M616.1 193.6 L598.7 191.7 L614 191.4 L631.5 193.7Z" fill="#b1820a"/>
<path d="M583.1 194.4 L565.9 192.8 L581.5 189.7 L598.7 191.7Z" fill="#c89411"/>
<path d="M434.5 245.3 L418.3 244.7 L434.9 227.8 L451.1 228.6Z" fill="#d2f652"/>
<path d="M335.4 338.9 L319.9 338.8 L336.7 311 L352.2 311.2Z" fill="#6cf88c"/>
<path d="M384.9 286.5 L369.1 286.2 L385.8 263.9 L401.6 264.3Z" fill="#95f762"/>
<path d="M467.5 229.3 L451.1 228.6 L467.5 214.5 L483.9 215.4Z" fill="#f0f645"/>
<path d="M500.6 216.4 L483.9 215.4 L500.2 204.2 L516.9 205.3Z" fill="#f5df37"/>
<path d="M318.4 369.1 L303.1 369.1 L319.9 338.8 L335.4 338.9Z" fill="#6ff8b8"/>
<path d="M417.7 264.7 L401.6 264.3 L418.3 244.7 L434.5 245.3Z" fill="#b9f75a"/>
<path d="M700.1 203.8 L682 201.3 L696.6 206.9 L714.6 209.7Z" fill="#8c7300"/>
<path d="M368 311.4 L352.2 311.2 L369.1 286.2 L384.9 286.5Z" fill="#76f767"/>
<path d="M533.9 206.5 L516.9 205.3 L533 196.9 L550 198.3Z" fill="#efc227"/>
<path d="M667 198.1 L649.1 195.9 L664.1 198.7 L682 201.3Z" fill="#966f03"/>
<path d="M567.2 199.7 L550 198.3 L565.9 192.8 L583.1 194.4Z" fill="#dba31b"/>
<path d="M633.8 195.5 L616.1 193.6 L631.5 193.7 L649.1 195.9Z" fill="#ae7a09"/>
<path d="M600.5 196 L583.1 194.4 L598.7 191.7 L616.1 193.6Z" fill="#c58a10"/>
<path d="M301.5 402 L286.2 402.1 L303.1 369.1 L318.4 369.1Z" fill="#71f8e7"/>
<path d="M450.9 245.9 L434.5 245.3 L451.1 228.6 L467.5 229.3Z" fill="#dbf650"/>
<path d="M351 338.9 L335.4 338.9 L352.2 311.2 L368 311.4Z" fill="#6bf881"/>
<path d="M400.9 286.8 L384.9 286.5 L401.6 264.3 L417.7 264.7Z" fill="#9ef760"/>
<path d="M484.2 230.1 L467.5 229.3 L483.9 215.4 L500.6 216.4Z" fill="#f6f243"/>
<path d="M517.6 217.3 L500.6 216.4 L516.9 205.3 L533.9 206.5Z" fill="#f5d534"/>
<path d="M334 369.1 L318.4 369.1 L335.4 338.9 L351 338.9Z" fill="#6ef8ad"/>
<path d="M434.1 265.1 L417.7 264.7 L434.5 245.3 L450.9 245.9Z" fill="#c2f758"/>
<path d="M551.1 207.6 L533.9 206.5 L550 198.3 L567.2 199.7Z" fill="#ecb625"/>
<path d="M383.9 311.5 L368 311.4 L384.9 286.5 L400.9 286.8Z" fill="#7ff766"/>
<path d="M685.2 200.3 L667 198.1 L682 201.3 L700.1 203.8Z" fill="#936702"/>
<path d="M584.7 201.1 L567.2 199.7 L583.1 194.4 L600.5 196Z" fill="#d89819"/>
<path d="M651.8 197.4 L633.8 195.5 L649.1 195.9 L667 198.1Z" fill="#ab7108"/>
<path d="M618.3 197.6 L600.5 196 L616.1 193.6 L633.8 195.5Z" fill="#c2810f"/>
<path d="M316.9 401.9 L301.5 402 L318.4 369.1 L334 369.1Z" fill="#70f8dc"/>
<path d="M467.5 246.4 L450.9 245.9 L467.5 229.3 L484.2 230.1Z" fill="#e4f64e"/>
<path d="M366.9 338.9 L351 338.9 L368 311.4 L383.9 311.5Z" fill="#6af876"/>
<path d="M417.2 287 L400.9 286.8 L417.7 264.7 L434.1 265.1Z" fill="#a7f75f"/>
<path d="M501.1 230.7 L484.2 230.1 L500.6 216.4 L517.6 217.3Z" fill="#f6e841"/>
<path d="M534.8 218.2 L517.6 217.3 L533.9 206.5 L551.1 207.6Z" fill="#f5ca32"/>
<path d="M349.8 369 L334 369.1 L351 338.9 L366.9 338.9Z" fill="#6df8a2"/>
<path d="M450.7 265.4 L434.1 265.1 L450.9 245.9 L467.5 246.4Z" fill="#ccf757"/>
<path d="M568.6 208.7 L551.1 207.6 L567.2 199.7 L584.7 201.1Z" fill="#e9aa23"/>
<path d="M400.1 311.6 L383.9 311.5 L400.9 286.8 L417.2 287Z" fill="#89f764"/>
<path d="M602.4 202.4 L584.7 201.1 L600.5 196 L618.3 197.6Z" fill="#d58d18"/>
<path d="M670 199.3 L651.8 197.4 L667 198.1 L685.2 200.3Z" fill="#a76907"/>
<path d="M636.2 199.2 L618.3 197.6 L633.8 195.5 L651.8 197.4Z" fill="#bf770e"/>
<path d="M484.4 246.9 L467.5 246.4 L484.2 230.1 L501.1 230.7Z" fill="#eef64c"/>
<path d="M332.6 401.8 L316.9 401.9 L334 369.1 L349.8 369Z" fill="#6ff8d1"/>
<path d="M433.7 287.2 L417.2 287 L434.1 265.1 L450.7 265.4Z" fill="#b0f75e"/>
<path d="M383 338.9 L366.9 338.9 L383.9 311.5 L400.1 311.6Z" fill="#69f76b"/>
<path d="M518.2 231.4 L501.1 230.7 L517.6 217.3 L534.8 218.2Z" fill="#f5de3f"/>
<path d="M552.2 219 L534.8 218.2 L551.1 207.6 L568.6 208.7Z" fill="#f5c02f"/>
<path d="M467.5 265.8 L450.7 265.4 L467.5 246.4 L484.4 246.9Z" fill="#d5f655"/>
<path d="M365.8 368.9 L349.8 369 L366.9 338.9 L383 338.9Z" fill="#6cf897"/>
<path d="M586.3 209.8 L568.6 208.7 L584.7 201.1 L602.4 202.4Z" fill="#e79e22"/>
<path d="M416.6 311.7 L400.1 311.6 L417.2 287 L433.7 287.2Z" fill="#92f763"/>
<path d="M620.4 203.7 L602.4 202.4 L618.3 197.6 L636.2 199.2Z" fill="#d28216"/>
<path d="M654.4 200.8 L636.2 199.2 L651.8 197.4 L670 199.3Z" fill="#bb6e0d"/>
<path d="M501.5 247.3 L484.4 246.9 L501.1 230.7 L518.2 231.4Z" fill="#f6f44a"/>
<path d="M348.6 401.6 L332.6 401.8 L349.8 369 L365.8 368.9Z" fill="#6ff8c5"/>
<path d="M450.5 287.3 L433.7 287.2 L450.7 265.4 L467.5 265.8Z" fill="#baf75c"/>
<path d="M399.4 338.9 L383 338.9 L400.1 311.6 L416.6 311.7Z" fill="#70f768"/>
<path d="M535.7 232 L518.2 231.4 L534.8 218.2 L552.2 219Z" fill="#f5d33d"/>
<path d="M569.9 219.8 L552.2 219 L568.6 208.7 L586.3 209.8Z" fill="#f4b52d"/>
<path d="M484.6 266 L467.5 265.8 L484.4 246.9 L501.5 247.3Z" fill="#dff653"/>
<path d="M604.3 210.8 L586.3 209.8 L602.4 202.4 L620.4 203.7Z" fill="#e49320"/>
<path d="M382.1 368.8 L365.8 368.9 L383 338.9 L399.4 338.9Z" fill="#6bf88b"/>
<path d="M638.6 205 L620.4 203.7 L636.2 199.2 L654.4 200.8Z" fill="#cf7714"/>
<path d="M433.3 311.7 L416.6 311.7 L433.7 287.2 L450.5 287.3Z" fill="#9cf762"/>
<path d="M518.9 247.8 L501.5 247.3 L518.2 231.4 L535.7 232Z" fill="#f6ea48"/>
<path d="M364.7 401.4 L348.6 401.6 L365.8 368.9 L382.1 368.8Z" fill="#6ef8b9"/>
<path d="M467.5 287.5 L450.5 287.3 L467.5 265.8 L484.6 266Z" fill="#c4f75b"/>
<path d="M553.4 232.6 L535.7 232 L552.2 219 L569.9 219.8Z" fill="#f5c83a"/>
<path d="M416 338.7 L399.4 338.9 L416.6 311.7 L433.3 311.7Z" fill="#7af767"/>
<path d="M587.9 220.6 L569.9 219.8 L586.3 209.8 L604.3 210.8Z" fill="#f3a82a"/>
<path d="M622.5 211.8 L604.3 210.8 L620.4 203.7 L638.6 205Z" fill="#e1871e"/>
<path d="M501.9 266.3 L484.6 266 L501.5 247.3 L518.9 247.8Z" fill="#e9f651"/>
<path d="M398.6 368.6 L382.1 368.8 L399.4 338.9 L416 338.7Z" fill="#6af87f"/>
<path d="M450.3 311.6 L433.3 311.7 L450.5 287.3 L467.5 287.5Z" fill="#a6f761"/>
<path d="M536.5 248.2 L518.9 247.8 L535.7 232 L553.4 232.6Z" fill="#f6df46"/>
<path d="M381.2 401.1 L364.7 401.4 L382.1 368.8 L398.6 368.6Z" fill="#6df8ad"/>
<path d="M484.8 287.5 L467.5 287.5 L484.6 266 L501.9 266.3Z" fill="#cef759"/>
<path d="M571.3 233.2 L553.4 232.6 L569.9 219.8 L587.9 220.6Z" fill="#f5bd38"/>
<path d="M432.9 338.6 L416 338.7 L433.3 311.7 L450.3 311.6Z" fill="#84f765"/>
<path d="M606.2 221.4 L587.9 220.6 L604.3 210.8 L622.5 211.8Z" fill="#f19b28"/>
<path d="M519.5 266.5 L501.9 266.3 L518.9 247.8 L536.5 248.2Z" fill="#f4f650"/>
<path d="M415.4 368.3 L398.6 368.6 L416 338.7 L432.9 338.6Z" fill="#69f873"/>
<path d="M467.5 311.6 L450.3 311.6 L467.5 287.5 L484.8 287.5Z" fill="#b0f75f"/>
<path d="M554.5 248.5 L536.5 248.2 L553.4 232.6 L571.3 233.2Z" fill="#f6d444"/>
<path d="M397.9 400.8 L381.2 401.1 L398.6 368.6 L415.4 368.3Z" fill="#6cf8a1"/>
<path d="M589.5 233.7 L571.3 233.2 L587.9 220.6 L606.2 221.4Z" fill="#f5b136"/>
<path d="M502.3 287.6 L484.8 287.5 L501.9 266.3 L519.5 266.5Z" fill="#d8f758"/>
<path d="M450.1 338.4 L432.9 338.6 L450.3 311.6 L467.5 311.6Z" fill="#8ef764"/>
<path d="M537.4 266.6 L519.5 266.5 L536.5 248.2 L554.5 248.5Z" fill="#f6ee4e"/>
<path d="M432.5 368 L415.4 368.3 L432.9 338.6 L450.1 338.4Z" fill="#6af768"/>
<path d="M485 311.5 L467.5 311.6 L484.8 287.5 L502.3 287.6Z" fill="#baf75e"/>
<path d="M572.7 248.8 L554.5 248.5 L571.3 233.2 L589.5 233.7Z" fill="#f6c842"/>
<path d="M414.9 400.4 L397.9 400.8 L415.4 368.3 L432.5 368Z" fill="#6bf895"/>
<path d="M520.2 287.5 L502.3 287.6 L519.5 266.5 L537.4 266.6Z" fill="#e3f756"/>
<path d="M467.5 338.2 L450.1 338.4 L467.5 311.6 L485 311.5Z" fill="#99f763"/>
<path d="M555.6 266.7 L537.4 266.6 L554.5 248.5 L572.7 248.8Z" fill="#f6e24c"/>
<path d="M449.9 367.7 L432.5 368 L450.1 338.4 L467.5 338.2Z" fill="#74f767"/>
<path d="M502.8 311.3 L485 311.5 L502.3 287.6 L520.2 287.5Z" fill="#c5f75d"/>
<path d="M432.1 400 L414.9 400.4 L432.5 368 L449.9 367.7Z" fill="#6af888"/>
<path d="M538.3 287.5 L520.2 287.5 L537.4 266.6 L555.6 266.7Z" fill="#eef655"/>
<path d="M485.2 337.9 L467.5 338.2 L485 311.5 L502.8 311.3Z" fill="#a4f762"/>
<path d="M467.5 367.3 L449.9 367.7 L467.5 338.2 L485.2 337.9Z" fill="#7ff766"/>
<path d="M520.8 311.1 L502.8 311.3 L520.2 287.5 L538.3 287.5Z" fill="#d0f75b"/>
<path d="M449.7 399.6 L432.1 400 L449.9 367.7 L467.5 367.3Z" fill="#6af87c"/>
<path d="M503.2 337.5 L485.2 337.9 L502.8 311.3 L520.8 311.1Z" fill="#aff761"/>
<path d="M485.4 366.9 L467.5 367.3 L485.2 337.9 L503.2 337.5Z" fill="#8af765"/>
<path d="M467.5 399.1 L449.7 399.6 L467.5 367.3 L485.4 366.9Z" fill="#69f76f"/>
</g>
<path d="M467.5 151.3L467.5 191.1" stroke="#222" stroke-width="1.00"/>
<circle cx="467.5" cy="151.3" r="6.0" fill="#c80000" stroke="#500" stroke-width="0.90"/>
<path d="M467.5 171.8L467.5 191.1" stroke="#222" stroke-width="1.00"/>
<circle cx="467.5" cy="171.8" r="6.0" fill="#c80000" stroke="#500" stroke-width="0.90"/>
<path d="M467.5 183.7L467.5 191.1" stroke="#222" stroke-width="1.00"/>
<circle cx="467.5" cy="183.7" r="6.0" fill="#c80000" stroke="#500" stroke-width="0.90"/>
<path d="M782.9 262.6L782.3 273.8" stroke="#222" stroke-width="1.00"/>
<circle cx="782.9" cy="262.6" r="6.0" fill="#c80000" stroke="#500" stroke-width="0.90"/>
<text x="147.1" y="410.8" font-size="20.3" text-anchor="end">90</text>
<text x="144.1" y="347.5" font-size="20.3" text-anchor="end">92</text>
<text x="141" y="284.2" font-size="20.3" text-anchor="end">94</text>
<text x="138" y="220.9" font-size="20.3" text-anchor="end">96</text>
<text x="134.9" y="157.7" font-size="20.3" text-anchor="end">98</text>
<text x="131.8" y="94.4" font-size="20.3" text-anchor="end">100</text>
<text x="151.4" y="539.7" font-size="20.3" text-anchor="end">1</text>
<text x="784" y="539.7" font-size="20.3" text-anchor="start">1</text>
<text x="227.2" y="576.1" font-size="20.3" text-anchor="end">0.5</text>
<text x="708.3" y="576.1" font-size="20.3" text-anchor="start">0.5</text>
<text x="303" y="612.5" font-size="20.3" text-anchor="end">0</text>
<text x="632.5" y="612.5" font-size="20.3" text-anchor="start">0</text>
<text x="378.7" y="648.9" font-size="20.3" text-anchor="end">-0.5</text>
<text x="556.7" y="648.9" font-size="20.3" text-anchor="start">-0.5</text>
<text x="454.5" y="685.3" font-size="20.3" text-anchor="end">-1</text>
<text x="481" y="685.3" font-size="20.3" text-anchor="start">-1</text>
<text x="200.8" y="652.1" font-size="21.5" text-anchor="middle" textLength="212.7" lengthAdjust="spacingAndGlyphs">Initinal Concentration</text>
<text x="734.2" y="652.1" font-size="21.5" text-anchor="middle" textLength="27.7" lengthAdjust="spacingAndGlyphs">pH</text>
<text transform="translate(82.5 314.9) rotate(-90)" font-size="21.7" text-anchor="middle" textLength="149.7" lengthAdjust="spacingAndGlyphs">Removal MG %</text>
<text x="13.4" y="668.9" font-size="32.0" text-anchor="start">a</text>
<path d="M1022.2 413.1 L1346.1 303.1 L1670.1 413.1 M1019 346.5 L1346.1 243 L1673.3 346.5 M1015.8 279.9 L1346.1 183 L1676.5 279.9 M1012.5 213.3 L1346.1 122.9 L1679.7 213.3 M1009.3 146.7 L1346.1 62.8 L1683 146.7 M1103.2 385.6 L1091.1 60.8 M1589.1 385.6 L1601.2 60.8 M1184.2 358.1 L1176.1 41.5 M1508.1 358.1 L1516.2 41.5 M1265.2 330.6 L1261.1 22.1 M1427.1 330.6 L1431.1 22.1 M1027.3 517.9 L1006.1 80.2 M1346.1 397.7 L1346.1 2.8 M1665 517.9 L1686.2 80.2" fill="none" stroke="#000" stroke-width="1.47"/>
<path d="M1006.1 80.2 L1346.1 2.8 L1686.2 80.2" fill="none" stroke="#000" stroke-width="2.30" stroke-linejoin="round"/>
<path d="M1027.3 517.9 L1346.1 397.7 L1665 517.9 L1346.1 671.1Z" fill="#646464"/>
<path d="M1183.4 593 L1189.9 595.5 L1197 598.3 L1204.2 601.1 L1211.5 603.9 L1218.7 606.7 L1222.4 608.1 L1229.7 610.9 L1237.1 613.7 L1244.5 616.6 L1251.9 619.5 L1255.7 620.9 L1263.2 623.8 L1270.7 626.7 L1278.3 629.6 L1286 632.5 L1290.2 634.1 L1297.5 636.9 L1305.2 639.8 L1313 642.8 L1320.8 645.8 L1325.6 647.6 L1332.6 650.2 L1340.5 653.2 L1348.5 656.3 L1356.5 659.3 L1360.9 661 L1364.5 662.3" fill="none" stroke="#00e4f7" stroke-width="2.95" stroke-linecap="round" stroke-linejoin="round"/>
<path d="M1045.4 511.1 L1051.5 513.6 L1057.7 516.1 L1063.9 518.6 L1070.1 521.1 L1076.4 523.6 L1082.7 526.1 L1085.9 527.4 L1092.2 529.9 L1098.6 532.4 L1105.1 535 L1111.5 537.5 L1118 540.1 L1123.7 542.4 L1127.8 544 L1134.4 546.6 L1141.1 549.2 L1147.7 551.8 L1154.4 554.4 L1161.2 557 L1164.5 558.4 L1171.3 561 L1178.2 563.7 L1185 566.3 L1191.9 569 L1198.9 571.7 L1202.3 573 L1209.3 575.7 L1216.4 578.4 L1223.5 581.2 L1230.6 583.9 L1237.7 586.6 L1241.3 588 L1248.5 590.8 L1255.8 593.5 L1263 596.3 L1270.4 599.1 L1276.1 601.3 L1281.4 603.3 L1288.8 606.1 L1296.3 608.9 L1303.8 611.8 L1311.4 614.6 L1315.1 616 L1322.8 618.9 L1330.4 621.8 L1338.1 624.7 L1345.8 627.6 L1349.7 629 L1357.5 631.9 L1365.3 634.9 L1373.2 637.8 L1381.1 640.7 L1385.4 642.3 L1393.1 645.2 L1397.1 646.7" fill="none" stroke="#00f771" stroke-width="2.95" stroke-linecap="round" stroke-linejoin="round"/>
<path d="M1078.8 498.5 L1084.8 501 L1090.9 503.4 L1095.6 505.4 L1100.1 507.1 L1106.3 509.6 L1112.5 512.1 L1118.7 514.6 L1125 517.1 L1131.3 519.6 L1137.7 522.2 L1143.9 524.7 L1147.2 526 L1153.7 528.5 L1160.2 531.1 L1166.7 533.6 L1173.2 536.2 L1179.8 538.8 L1186.4 541.4 L1189.8 542.7 L1196.5 545.3 L1203.2 547.9 L1210 550.5 L1216.7 553.2 L1223.6 555.8 L1230.4 558.4 L1233.9 559.8 L1240.8 562.4 L1247.8 565.1 L1254.8 567.8 L1261.9 570.5 L1269 573.2 L1272.5 574.5 L1279.7 577.2 L1286.9 580 L1294.1 582.7 L1301.3 585.4 L1308.6 588.2 L1312.3 589.6 L1319.7 592.3 L1327.1 595.1 L1334.6 597.9 L1342 600.7 L1349.6 603.5 L1353.4 604.9 L1361 607.8 L1368.6 610.6 L1376.3 613.4 L1384 616.3 L1387.9 617.7 L1395.7 620.6 L1403.5 623.5 L1411.4 626.4 L1419.3 629.3 L1424.7 631.2 L1427.2 632.2" fill="none" stroke="#0af700" stroke-width="2.95" stroke-linecap="round" stroke-linejoin="round"/>
<path d="M1129.9 479.3 L1135.6 481.7 L1141.4 484.2 L1147.2 486.7 L1153.1 489.2 L1159 491.8 L1164.9 494.3 L1170.9 496.8 L1174 498.1 L1180 500.6 L1186.1 503.1 L1192.3 505.7 L1198.5 508.2 L1204.7 510.8 L1211 513.3 L1217.3 515.9 L1223.7 518.4 L1230.1 521 L1236.6 523.6 L1243.1 526.2 L1248.6 528.4 L1252.9 530.1 L1259.5 532.7 L1266.1 535.3 L1272.8 537.9 L1279.6 540.6 L1286.3 543.2 L1293.1 545.9 L1300 548.5 L1304.5 550.3 L1310.4 552.5 L1317.3 555.2 L1324.3 557.8 L1331.4 560.5 L1338.5 563.2 L1345.6 565.9 L1352.8 568.7 L1356.4 570 L1363.6 572.7 L1370.9 575.5 L1378.3 578.2 L1385.6 581 L1393.1 583.7 L1397.7 585.5 L1404.3 587.9 L1411.8 590.6 L1419.4 593.4 L1427 596.2 L1434.7 599 L1439.7 600.9 L1446.2 603.3 L1454 606.1 L1461.8 608.9 L1469.7 611.8" fill="none" stroke="#92f700" stroke-width="2.95" stroke-linecap="round" stroke-linejoin="round"/>
<path d="M1254.6 432.2 L1258.3 433.1 L1265.7 434.7 L1269.5 435.5 L1276.9 437.2 L1282.5 438.5 L1288 439.8 L1295.4 441.5 L1299.1 442.3 L1306.5 444.1 L1310.8 445.1 L1317.7 446.7 L1325.1 448.5 L1328.8 449.4 L1336.2 451.2 L1340.8 452.3 L1347.4 453.9 L1354.9 455.7 L1358.6 456.7 L1366 458.5 L1372.6 460.1 L1377.3 461.3 L1384.8 463.2 L1389.1 464.3 L1396 466 L1403.5 468 L1407.3 468.9 L1414.8 470.9 L1422.4 472.8 L1426.2 473.8 L1433.7 475.7 L1441.3 477.7 L1445.1 478.7 L1452.7 480.7 L1460.4 482.7 L1464.2 483.7 L1471.8 485.8 L1479.5 487.8 L1483.4 488.8 L1491 490.9 L1498.8 493 L1502.6 494 L1510.4 496.1 L1518.1 498.2 L1522 499.3 L1529.8 501.4 L1537.6 503.5 L1541.5 504.6 L1549.4 506.8 L1557.2 509 L1563.2 510.6 L1569 512.2 L1576.9 514.4 L1584.9 516.7 L1588.9 517.8 L1596.8 520 L1604.8 522.3 L1609.4 523.5 L1616.8 525.7 L1624.9 527.9 L1633 530.2 L1637 531.4" fill="none" stroke="#b3f700" stroke-width="2.95" stroke-linecap="round" stroke-linejoin="round"/>
<path d="M1299.1 415.4 L1303 416.4 L1309.5 418.1 L1316.5 419.9 L1320 420.7 L1327 422.5 L1334 424.3 L1337.5 425.2 L1344.6 427 L1351.6 428.8 L1355.2 429.8 L1362.2 431.6 L1369.3 433.4 L1372.9 434.3 L1380 436.2 L1387.1 438.1 L1390.7 439 L1397.9 440.9 L1405.1 442.8 L1408.7 443.7 L1415.9 445.6 L1423.1 447.6 L1427.7 448.8 L1434 450.4 L1441.3 452.4 L1447.4 454 L1452.2 455.3 L1459.5 457.3 L1466.9 459.3 L1470.6 460.3 L1478 462.2 L1485.4 464.2 L1489.1 465.3 L1496.5 467.3 L1504 469.3 L1509.4 470.8 L1515.2 472.4 L1522.7 474.4 L1530.2 476.5 L1534 477.5 L1541.6 479.6 L1549.2 481.7 L1553.7 482.9 L1560.6 484.9 L1568.2 487 L1575.9 489.1 L1579.8 490.2 L1587.5 492.3 L1595.2 494.5 L1600.6 496 L1606.8 497.8 L1614.6 499.9 L1622.5 502.1 L1625.1 502.9" fill="none" stroke="#46f700" stroke-width="2.95" stroke-linecap="round" stroke-linejoin="round"/>
<path d="M1325.3 405.6 L1330 406.8 L1335.5 408.2 L1342.4 410 L1347.8 411.4 L1352.7 412.7 L1359.6 414.5 L1366 416.1 L1370 417.2 L1376.9 419 L1383.9 420.8 L1387.4 421.7 L1394.3 423.6 L1401.3 425.4 L1404.9 426.3 L1411.9 428.2 L1418.9 430.1 L1423.2 431.2 L1429.6 432.9 L1436.7 434.8 L1443.2 436.5 L1447.4 437.7 L1454.5 439.6 L1461.7 441.5 L1463.6 442" fill="none" stroke="#00f71c" stroke-width="2.95" stroke-linecap="round" stroke-linejoin="round"/>
<path d="M1027.3 517.9 L1346.1 397.7 L1665 517.9 L1346.1 671.1Z" fill="none" stroke="#000" stroke-width="2.40" stroke-linejoin="round"/>
<g fill="#000"><circle cx="1027.3" cy="517.9" r="3.2"/><circle cx="1107" cy="556.2" r="3.2"/><circle cx="1186.7" cy="594.5" r="3.2"/><circle cx="1266.4" cy="632.8" r="3.2"/><circle cx="1346.1" cy="671.1" r="3.2"/><circle cx="1425.9" cy="632.8" r="3.2"/><circle cx="1505.6" cy="594.5" r="3.2"/><circle cx="1585.3" cy="556.2" r="3.2"/><circle cx="1665" cy="517.9" r="3.2"/><circle cx="1022.2" cy="413.1" r="3.2"/><circle cx="1019" cy="346.5" r="3.2"/><circle cx="1015.8" cy="279.9" r="3.2"/><circle cx="1012.5" cy="213.3" r="3.2"/><circle cx="1009.3" cy="146.7" r="3.2"/><circle cx="1006.1" cy="80.2" r="3.2"/></g>

<g stroke="#000" stroke-width="1.21" stroke-linejoin="round">
<path d="M1346.1 179.2 L1331.4 178.3 L1346.1 193.8 L1360.9 194.5Z" fill="#008c29"/>
<path d="M1361.1 180.3 L1346.1 179.2 L1360.9 194.5 L1375.8 195.3Z" fill="#008c22"/>
<path d="M1331.1 165.9 L1316.3 164.7 L1331.4 178.3 L1346.1 179.2Z" fill="#008c04"/>
<path d="M1376.3 181.4 L1361.1 180.3 L1375.8 195.3 L1390.9 196.2Z" fill="#008c1b"/>
<path d="M1346.1 167.2 L1331.1 165.9 L1346.1 179.2 L1361.1 180.3Z" fill="#038c00"/>
<path d="M1315.9 154.5 L1301.1 153 L1316.3 164.7 L1331.1 165.9Z" fill="#1e8c00"/>
<path d="M1391.6 182.6 L1376.3 181.4 L1390.9 196.2 L1406.2 197.1Z" fill="#008c14"/>
<path d="M1361.3 168.5 L1346.1 167.2 L1361.1 180.3 L1376.3 181.4Z" fill="#098c00"/>
<path d="M1330.9 156.1 L1315.9 154.5 L1331.1 165.9 L1346.1 167.2Z" fill="#238c00"/>
<path d="M1300.4 145.2 L1285.6 143.4 L1301.1 153 L1315.9 154.5Z" fill="#3b8c00"/>
<path d="M1407.1 183.8 L1391.6 182.6 L1406.2 197.1 L1421.7 198.1Z" fill="#008c0e"/>
<path d="M1376.7 170 L1361.3 168.5 L1376.3 181.4 L1391.6 182.6Z" fill="#0f8c00"/>
<path d="M1346.1 157.7 L1330.9 156.1 L1346.1 167.2 L1361.3 168.5Z" fill="#298c00"/>
<path d="M1315.5 147 L1300.4 145.2 L1315.9 154.5 L1330.9 156.1Z" fill="#408c00"/>
<path d="M1422.8 185.2 L1407.1 183.8 L1421.7 198.1 L1437.4 199.2Z" fill="#008c07"/>
<path d="M1284.8 137.9 L1269.9 135.9 L1285.6 143.4 L1300.4 145.2Z" fill="#538c00"/>
<path d="M1392.3 171.5 L1376.7 170 L1391.6 182.6 L1407.1 183.8Z" fill="#158c00"/>
<path d="M1361.5 159.4 L1346.1 157.7 L1361.3 168.5 L1376.7 170Z" fill="#2f8c00"/>
<path d="M1330.7 148.9 L1315.5 147 L1330.9 156.1 L1346.1 157.7Z" fill="#458c00"/>
<path d="M1438.8 186.6 L1422.8 185.2 L1437.4 199.2 L1453.3 200.4Z" fill="#008c01"/>
<path d="M1299.8 140 L1284.8 137.9 L1300.4 145.2 L1315.5 147Z" fill="#588c00"/>
<path d="M1268.9 132.8 L1254 130.4 L1269.9 135.9 L1284.8 137.9Z" fill="#688c00"/>
<path d="M1408 173.1 L1392.3 171.5 L1407.1 183.8 L1422.8 185.2Z" fill="#1b8c00"/>
<path d="M1377.1 161.2 L1361.5 159.4 L1376.7 170 L1392.3 171.5Z" fill="#348c00"/>
<path d="M1346.1 150.9 L1330.7 148.9 L1346.1 157.7 L1361.5 159.4Z" fill="#4a8c00"/>
<path d="M1454.9 188.1 L1438.8 186.6 L1453.3 200.4 L1469.4 201.6Z" fill="#068c00"/>
<path d="M1315.1 142.3 L1299.8 140 L1315.5 147 L1330.7 148.9Z" fill="#5c8c00"/>
<path d="M1283.9 135.2 L1268.9 132.8 L1284.8 137.9 L1299.8 140Z" fill="#6c8c00"/>
<path d="M1424 174.8 L1408 173.1 L1422.8 185.2 L1438.8 186.6Z" fill="#218c00"/>
<path d="M1252.8 129.9 L1237.9 127.2 L1254 130.4 L1268.9 132.8Z" fill="#879d05"/>
<path d="M1392.9 163.1 L1377.1 161.2 L1392.3 171.5 L1408 173.1Z" fill="#398c00"/>
<path d="M1361.8 153 L1346.1 150.9 L1361.5 159.4 L1377.1 161.2Z" fill="#4e8c00"/>
<path d="M1471.2 189.6 L1454.9 188.1 L1469.4 201.6 L1485.7 202.9Z" fill="#0c8c00"/>
<path d="M1330.5 144.6 L1315.1 142.3 L1330.7 148.9 L1346.1 150.9Z" fill="#608c00"/>
<path d="M1299.2 137.8 L1283.9 135.2 L1299.8 140 L1315.1 142.3Z" fill="#6f8c00"/>
<path d="M1440.1 176.5 L1424 174.8 L1438.8 186.6 L1454.9 188.1Z" fill="#278c00"/>
<path d="M1267.8 132.6 L1252.8 129.9 L1268.9 132.8 L1283.9 135.2Z" fill="#8ea106"/>
<path d="M1236.5 129.2 L1221.6 126.1 L1237.9 127.2 L1252.8 129.9Z" fill="#acb70c"/>
<path d="M1408.9 165 L1392.9 163.1 L1408 173.1 L1424 174.8Z" fill="#3e8c00"/>
<path d="M1377.6 155.2 L1361.8 153 L1377.1 161.2 L1392.9 163.1Z" fill="#538c00"/>
<path d="M1487.8 191.3 L1471.2 189.6 L1485.7 202.9 L1502.2 204.3Z" fill="#128c00"/>
<path d="M1346.1 147 L1330.5 144.6 L1346.1 150.9 L1361.8 153Z" fill="#658c00"/>
<path d="M1314.7 140.4 L1299.2 137.8 L1315.1 142.3 L1330.5 144.6Z" fill="#769001"/>
<path d="M1456.5 178.4 L1440.1 176.5 L1454.9 188.1 L1471.2 189.6Z" fill="#2c8c00"/>
<path d="M1283.1 135.5 L1267.8 132.6 L1283.9 135.2 L1299.2 137.8Z" fill="#95a507"/>
<path d="M1251.6 132.3 L1236.5 129.2 L1252.8 129.9 L1267.8 132.6Z" fill="#b3ba0d"/>
<path d="M1220 130.8 L1205.1 127.4 L1221.6 126.1 L1236.5 129.2Z" fill="#cecf15"/>
<path d="M1425.1 167.1 L1408.9 165 L1424 174.8 L1440.1 176.5Z" fill="#448c00"/>
<path d="M1393.6 157.5 L1377.6 155.2 L1392.9 163.1 L1408.9 165Z" fill="#588c00"/>
<path d="M1504.5 193 L1487.8 191.3 L1502.2 204.3 L1518.9 205.8Z" fill="#188c00"/>
<path d="M1362 149.5 L1346.1 147 L1361.8 153 L1377.6 155.2Z" fill="#698c00"/>
<path d="M1330.3 143.2 L1314.7 140.4 L1330.5 144.6 L1346.1 147Z" fill="#7d9402"/>
<path d="M1473.1 180.3 L1456.5 178.4 L1471.2 189.6 L1487.8 191.3Z" fill="#328c00"/>
<path d="M1298.6 138.5 L1283.1 135.5 L1299.2 137.8 L1314.7 140.4Z" fill="#9ca908"/>
<path d="M1266.8 135.6 L1251.6 132.3 L1267.8 132.6 L1283.1 135.5Z" fill="#babe0e"/>
<path d="M1235.1 134.3 L1220 130.8 L1236.5 129.2 L1251.6 132.3Z" fill="#d3d217"/>
<path d="M1203.4 134.7 L1188.5 130.9 L1205.1 127.4 L1220 130.8Z" fill="#e7e422"/>
<path d="M1441.5 169.3 L1425.1 167.1 L1440.1 176.5 L1456.5 178.4Z" fill="#488c00"/>
<path d="M1409.8 159.8 L1393.6 157.5 L1408.9 165 L1425.1 167.1Z" fill="#5c8c00"/>
<path d="M1521.5 194.9 L1504.5 193 L1518.9 205.8 L1535.8 207.4Z" fill="#1e8c00"/>
<path d="M1378 152.1 L1362 149.5 L1377.6 155.2 L1393.6 157.5Z" fill="#6d8c00"/>
<path d="M1346.1 146 L1330.3 143.2 L1346.1 147 L1362 149.5Z" fill="#849703"/>
<path d="M1314.2 141.6 L1298.6 138.5 L1314.7 140.4 L1330.3 143.2Z" fill="#a3ad09"/>
<path d="M1489.8 182.3 L1473.1 180.3 L1487.8 191.3 L1504.5 193Z" fill="#378c00"/>
<path d="M1282.3 138.9 L1266.8 135.6 L1283.1 135.5 L1298.6 138.5Z" fill="#c1c20f"/>
<path d="M1186.6 141 L1171.7 136.8 L1188.5 130.9 L1203.4 134.7Z" fill="#f5f334"/>
<path d="M1250.4 137.9 L1235.1 134.3 L1251.6 132.3 L1266.8 135.6Z" fill="#d7d319"/>
<path d="M1218.5 138.6 L1203.4 134.7 L1220 130.8 L1235.1 134.3Z" fill="#ebe624"/>
<path d="M1458.1 171.5 L1441.5 169.3 L1456.5 178.4 L1473.1 180.3Z" fill="#4d8c00"/>
<path d="M1426.2 162.3 L1409.8 159.8 L1425.1 167.1 L1441.5 169.3Z" fill="#608c00"/>
<path d="M1394.2 154.8 L1378 152.1 L1393.6 157.5 L1409.8 159.8Z" fill="#708c00"/>
<path d="M1538.6 196.8 L1521.5 194.9 L1535.8 207.4 L1552.9 209Z" fill="#248c00"/>
<path d="M1362.2 148.9 L1346.1 146 L1362 149.5 L1378 152.1Z" fill="#8b9b04"/>
<path d="M1330.1 144.8 L1314.2 141.6 L1330.3 143.2 L1346.1 146Z" fill="#aab10a"/>
<path d="M1169.7 149.7 L1154.8 145.1 L1171.7 136.8 L1186.6 141Z" fill="#f1f648"/>
<path d="M1506.8 184.5 L1489.8 182.3 L1504.5 193 L1521.5 194.9Z" fill="#3c8c00"/>
<path d="M1298 142.4 L1282.3 138.9 L1298.6 138.5 L1314.2 141.6Z" fill="#c6c410"/>
<path d="M1201.7 145.3 L1186.6 141 L1203.4 134.7 L1218.5 138.6Z" fill="#f5f237"/>
<path d="M1265.8 141.6 L1250.4 137.9 L1266.8 135.6 L1282.3 138.9Z" fill="#dbd51b"/>
<path d="M1233.7 142.6 L1218.5 138.6 L1235.1 134.3 L1250.4 137.9Z" fill="#eee726"/>
<path d="M1474.9 173.8 L1458.1 171.5 L1473.1 180.3 L1489.8 182.3Z" fill="#528c00"/>
<path d="M1442.8 164.8 L1426.2 162.3 L1441.5 169.3 L1458.1 171.5Z" fill="#658c00"/>
<path d="M1410.7 157.6 L1394.2 154.8 L1409.8 159.8 L1426.2 162.3Z" fill="#748c00"/>
<path d="M1556 198.8 L1538.6 196.8 L1552.9 209 L1570.3 210.7Z" fill="#298c00"/>
<path d="M1152.7 160.8 L1137.8 155.8 L1154.8 145.1 L1169.7 149.7Z" fill="#e8f75b"/>
<path d="M1378.4 152 L1362.2 148.9 L1378 152.1 L1394.2 154.8Z" fill="#929f05"/>
<path d="M1184.8 154.4 L1169.7 149.7 L1186.6 141 L1201.7 145.3Z" fill="#f1f64b"/>
<path d="M1346.1 148.1 L1330.1 144.8 L1346.1 146 L1362.2 148.9Z" fill="#b1b50b"/>
<path d="M1216.9 149.7 L1201.7 145.3 L1218.5 138.6 L1233.7 142.6Z" fill="#f5f23a"/>
<path d="M1524.1 186.7 L1506.8 184.5 L1521.5 194.9 L1538.6 196.8Z" fill="#418c00"/>
<path d="M1313.8 145.9 L1298 142.4 L1314.2 141.6 L1330.1 144.8Z" fill="#cac512"/>
<path d="M1249.2 146.8 L1233.7 142.6 L1250.4 137.9 L1265.8 141.6Z" fill="#f1e928"/>
<path d="M1281.5 145.5 L1265.8 141.6 L1282.3 138.9 L1298 142.4Z" fill="#ded61d"/>
<path d="M1491.9 176.2 L1474.9 173.8 L1489.8 182.3 L1506.8 184.5Z" fill="#578c00"/>
<path d="M1459.7 167.5 L1442.8 164.8 L1458.1 171.5 L1474.9 173.8Z" fill="#698c00"/>
<path d="M1135.5 174.4 L1120.7 168.9 L1137.8 155.8 L1152.7 160.8Z" fill="#dcf86b"/>
<path d="M1427.3 160.5 L1410.7 157.6 L1426.2 162.3 L1442.8 164.8Z" fill="#798e00"/>
<path d="M1573.7 200.9 L1556 198.8 L1570.3 210.7 L1587.8 212.5Z" fill="#2f8c00"/>
<path d="M1167.7 166 L1152.7 160.8 L1169.7 149.7 L1184.8 154.4Z" fill="#e7f75d"/>
<path d="M1394.9 155.1 L1378.4 152 L1394.2 154.8 L1410.7 157.6Z" fill="#99a306"/>
<path d="M1200 159.3 L1184.8 154.4 L1201.7 145.3 L1216.9 149.7Z" fill="#f1f64e"/>
<path d="M1362.4 151.5 L1346.1 148.1 L1362.2 148.9 L1378.4 152Z" fill="#b8b80c"/>
<path d="M1232.4 154.3 L1216.9 149.7 L1233.7 142.6 L1249.2 146.8Z" fill="#f5f13d"/>
<path d="M1329.9 149.6 L1313.8 145.9 L1330.1 144.8 L1346.1 148.1Z" fill="#cdc613"/>
<path d="M1264.9 151 L1249.2 146.8 L1265.8 141.6 L1281.5 145.5Z" fill="#f4ea2b"/>
<path d="M1297.4 149.5 L1281.5 145.5 L1298 142.4 L1313.8 145.9Z" fill="#e2d71f"/>
<path d="M1541.5 189 L1524.1 186.7 L1538.6 196.8 L1556 198.8Z" fill="#468c00"/>
<path d="M1509.2 178.8 L1491.9 176.2 L1506.8 184.5 L1524.1 186.7Z" fill="#5b8c00"/>
<path d="M1118.3 190.5 L1103.5 184.5 L1120.7 168.9 L1135.5 174.4Z" fill="#cff878"/>
<path d="M1476.7 170.3 L1459.7 167.5 L1474.9 173.8 L1491.9 176.2Z" fill="#6d8c00"/>
<path d="M1150.5 180.1 L1135.5 174.4 L1152.7 160.8 L1167.7 166Z" fill="#dbf86d"/>
<path d="M1444.2 163.5 L1427.3 160.5 L1442.8 164.8 L1459.7 167.5Z" fill="#809201"/>
<path d="M1182.9 171.3 L1167.7 166 L1184.8 154.4 L1200 159.3Z" fill="#e7f760"/>
<path d="M1591.5 203.1 L1573.7 200.9 L1587.8 212.5 L1605.7 214.4Z" fill="#348c00"/>
<path d="M1411.5 158.4 L1394.9 155.1 L1410.7 157.6 L1427.3 160.5Z" fill="#a0a707"/>
<path d="M1215.4 164.3 L1200 159.3 L1216.9 149.7 L1232.4 154.3Z" fill="#f1f651"/>
<path d="M1378.9 155 L1362.4 151.5 L1378.4 152 L1394.9 155.1Z" fill="#bcb90e"/>
<path d="M1248 159 L1232.4 154.3 L1249.2 146.8 L1264.9 151Z" fill="#f5f141"/>
<path d="M1346.1 153.4 L1329.9 149.6 L1346.1 148.1 L1362.4 151.5Z" fill="#d1c816"/>
<path d="M1280.7 155.4 L1264.9 151 L1281.5 145.5 L1297.4 149.5Z" fill="#f5ea2f"/>
<path d="M1313.4 153.5 L1297.4 149.5 L1313.8 145.9 L1329.9 149.6Z" fill="#e5d921"/>
<path d="M1101 209.1 L1086.2 202.6 L1103.5 184.5 L1118.3 190.5Z" fill="#bcf87c"/>
<path d="M1559.2 191.4 L1541.5 189 L1556 198.8 L1573.7 200.9Z" fill="#4b8c00"/>
<path d="M1133.3 196.6 L1118.3 190.5 L1135.5 174.4 L1150.5 180.1Z" fill="#cdf879"/>
<path d="M1526.6 181.4 L1509.2 178.8 L1524.1 186.7 L1541.5 189Z" fill="#5f8c00"/>
<path d="M1165.8 185.8 L1150.5 180.1 L1167.7 166 L1182.9 171.3Z" fill="#dbf86f"/>
<path d="M1494 173.1 L1476.7 170.3 L1491.9 176.2 L1509.2 178.8Z" fill="#708c00"/>
<path d="M1083.6 230.2 L1068.9 223.2 L1086.2 202.6 L1101 209.1Z" fill="#a7f980"/>
<path d="M1198.4 176.8 L1182.9 171.3 L1200 159.3 L1215.4 164.3Z" fill="#e7f762"/>
<path d="M1461.3 166.6 L1444.2 163.5 L1459.7 167.5 L1476.7 170.3Z" fill="#879502"/>
<path d="M1609.6 205.3 L1591.5 203.1 L1605.7 214.4 L1623.7 216.4Z" fill="#398c00"/>
<path d="M1231.1 169.4 L1215.4 164.3 L1232.4 154.3 L1248 159Z" fill="#f1f654"/>
<path d="M1428.4 161.7 L1411.5 158.4 L1427.3 160.5 L1444.2 163.5Z" fill="#a7ab08"/>
<path d="M1263.9 163.8 L1248 159 L1264.9 151 L1280.7 155.4Z" fill="#f6f144"/>
<path d="M1395.5 158.6 L1378.9 155 L1394.9 155.1 L1411.5 158.4Z" fill="#c0ba0f"/>
<path d="M1116 215.7 L1101 209.1 L1118.3 190.5 L1133.3 196.6Z" fill="#baf87d"/>
<path d="M1296.8 159.9 L1280.7 155.4 L1297.4 149.5 L1313.4 153.5Z" fill="#f5e932"/>
<path d="M1362.6 157.3 L1346.1 153.4 L1362.4 151.5 L1378.9 155Z" fill="#d5c918"/>
<path d="M1329.7 157.7 L1313.4 153.5 L1329.9 149.6 L1346.1 153.4Z" fill="#e9da23"/>
<path d="M1577.1 193.9 L1559.2 191.4 L1573.7 200.9 L1591.5 203.1Z" fill="#508c00"/>
<path d="M1148.5 202.9 L1133.3 196.6 L1150.5 180.1 L1165.8 185.8Z" fill="#ccf879"/>
<path d="M1066.2 253.8 L1051.5 246.3 L1068.9 223.2 L1083.6 230.2Z" fill="#8ff982"/>
<path d="M1544.4 184.1 L1526.6 181.4 L1541.5 189 L1559.2 191.4Z" fill="#648c00"/>
<path d="M1181.1 191.7 L1165.8 185.8 L1182.9 171.3 L1198.4 176.8Z" fill="#daf871"/>
<path d="M1511.5 176.1 L1494 173.1 L1509.2 178.8 L1526.6 181.4Z" fill="#748c00"/>
<path d="M1098.6 237.3 L1083.6 230.2 L1101 209.1 L1116 215.7Z" fill="#a5f980"/>
<path d="M1214 182.3 L1198.4 176.8 L1215.4 164.3 L1231.1 169.4Z" fill="#e6f765"/>
<path d="M1478.6 169.8 L1461.3 166.6 L1476.7 170.3 L1494 173.1Z" fill="#8e9904"/>
<path d="M1048.8 279.9 L1034.1 271.9 L1051.5 246.3 L1066.2 253.8Z" fill="#83f994"/>
<path d="M1246.9 174.6 L1231.1 169.4 L1248 159 L1263.9 163.8Z" fill="#f1f757"/>
<path d="M1445.5 165.2 L1428.4 161.7 L1444.2 163.5 L1461.3 166.6Z" fill="#aeaf0a"/>
<path d="M1627.9 207.7 L1609.6 205.3 L1623.7 216.4 L1642 218.5Z" fill="#3e8c00"/>
<path d="M1279.9 168.7 L1263.9 163.8 L1280.7 155.4 L1296.8 159.9Z" fill="#f6f147"/>
<path d="M1131.1 222.4 L1116 215.7 L1133.3 196.6 L1148.5 202.9Z" fill="#b8f97d"/>
<path d="M1412.4 162.4 L1395.5 158.6 L1411.5 158.4 L1428.4 161.7Z" fill="#c4bb10"/>
<path d="M1313 164.5 L1296.8 159.9 L1313.4 153.5 L1329.7 157.7Z" fill="#f5e835"/>
<path d="M1379.3 161.3 L1362.6 157.3 L1378.9 155 L1395.5 158.6Z" fill="#d9ca1a"/>
<path d="M1346.1 162 L1329.7 157.7 L1346.1 153.4 L1362.6 157.3Z" fill="#ecdc25"/>
<path d="M1595.2 196.5 L1577.1 193.9 L1591.5 203.1 L1609.6 205.3Z" fill="#558c00"/>
<path d="M1081.1 261.4 L1066.2 253.8 L1083.6 230.2 L1098.6 237.3Z" fill="#8bf982"/>
<path d="M1163.8 209.3 L1148.5 202.9 L1165.8 185.8 L1181.1 191.7Z" fill="#caf87a"/>
<path d="M1031.4 308.6 L1016.7 300.1 L1034.1 271.9 L1048.8 279.9Z" fill="#84f9b6"/>
<path d="M1562.3 186.9 L1544.4 184.1 L1559.2 191.4 L1577.1 193.9Z" fill="#688c00"/>
<path d="M1196.7 197.8 L1181.1 191.7 L1198.4 176.8 L1214 182.3Z" fill="#d9f873"/>
<path d="M1113.7 244.5 L1098.6 237.3 L1116 215.7 L1131.1 222.4Z" fill="#a2f980"/>
<path d="M1529.2 179.1 L1511.5 176.1 L1526.6 181.4 L1544.4 184.1Z" fill="#788c00"/>
<path d="M1229.8 188 L1214 182.3 L1231.1 169.4 L1246.9 174.6Z" fill="#e5f767"/>
<path d="M1063.7 288.1 L1048.8 279.9 L1066.2 253.8 L1081.1 261.4Z" fill="#83f998"/>
<path d="M1496.1 173.1 L1478.6 169.8 L1494 173.1 L1511.5 176.1Z" fill="#959d05"/>
<path d="M1262.9 180 L1246.9 174.6 L1263.9 163.8 L1279.9 168.7Z" fill="#f1f759"/>
<path d="M1146.4 229.3 L1131.1 222.4 L1148.5 202.9 L1163.8 209.3Z" fill="#b6f97e"/>
<path d="M1462.8 168.8 L1445.5 165.2 L1461.3 166.6 L1478.6 169.8Z" fill="#b2b00b"/>
<path d="M1296.2 173.7 L1279.9 168.7 L1296.8 159.9 L1313 164.5Z" fill="#f6f14a"/>
<path d="M1646.5 210.2 L1627.9 207.7 L1642 218.5 L1660.5 220.7Z" fill="#448c00"/>
<path d="M1429.5 166.2 L1412.4 162.4 L1428.4 161.7 L1445.5 165.2Z" fill="#c8bc11"/>
<path d="M1329.5 169.2 L1313 164.5 L1329.7 157.7 L1346.1 162Z" fill="#f5e839"/>
<path d="M1396.2 165.5 L1379.3 161.3 L1395.5 158.6 L1412.4 162.4Z" fill="#ddcc1c"/>
<path d="M1362.8 166.5 L1346.1 162 L1362.6 157.3 L1379.3 161.3Z" fill="#f0de27"/>
<path d="M1096.2 269.2 L1081.1 261.4 L1098.6 237.3 L1113.7 244.5Z" fill="#88f982"/>
<path d="M1179.4 215.8 L1163.8 209.3 L1181.1 191.7 L1196.7 197.8Z" fill="#c8f87b"/>
<path d="M1613.6 199.2 L1595.2 196.5 L1609.6 205.3 L1627.9 207.7Z" fill="#598c00"/>
<path d="M1046.2 317.3 L1031.4 308.6 L1048.8 279.9 L1063.7 288.1Z" fill="#84f9ba"/>
<path d="M1212.5 204 L1196.7 197.8 L1214 182.3 L1229.8 188Z" fill="#d8f875"/>
<path d="M1580.5 189.9 L1562.3 186.9 L1577.1 193.9 L1595.2 196.5Z" fill="#6c8c00"/>
<path d="M1129 251.9 L1113.7 244.5 L1131.1 222.4 L1146.4 229.3Z" fill="#a0f981"/>
<path d="M1245.8 193.9 L1229.8 188 L1246.9 174.6 L1262.9 180Z" fill="#e5f86a"/>
<path d="M1547.2 182.3 L1529.2 179.1 L1544.4 184.1 L1562.3 186.9Z" fill="#7b8c00"/>
<path d="M1078.7 296.4 L1063.7 288.1 L1081.1 261.4 L1096.2 269.2Z" fill="#83f99c"/>
<path d="M1279.2 185.5 L1262.9 180 L1279.9 168.7 L1296.2 173.7Z" fill="#f0f75c"/>
<path d="M1513.8 176.5 L1496.1 173.1 L1511.5 176.1 L1529.2 179.1Z" fill="#9ca106"/>
<path d="M1162 236.4 L1146.4 229.3 L1163.8 209.3 L1179.4 215.8Z" fill="#b4f97e"/>
<path d="M1312.6 178.9 L1296.2 173.7 L1313 164.5 L1329.5 169.2Z" fill="#f6f24d"/>
<path d="M1480.4 172.5 L1462.8 168.8 L1478.6 169.8 L1496.1 173.1Z" fill="#b6b10c"/>
<path d="M1665.3 212.8 L1646.5 210.2 L1660.5 220.7 L1679.3 222.9Z" fill="#488c00"/>
<path d="M1346.1 174.1 L1329.5 169.2 L1346.1 162 L1362.8 166.5Z" fill="#f5e83c"/>
<path d="M1446.8 170.2 L1429.5 166.2 L1445.5 165.2 L1462.8 168.8Z" fill="#cbbd12"/>
<path d="M1379.7 171 L1362.8 166.5 L1379.3 161.3 L1396.2 165.5Z" fill="#f3e02a"/>
<path d="M1413.3 169.7 L1396.2 165.5 L1412.4 162.4 L1429.5 166.2Z" fill="#e0cd1e"/>
<path d="M1111.5 277.1 L1096.2 269.2 L1113.7 244.5 L1129 251.9Z" fill="#85f983"/>
<path d="M1195.2 222.5 L1179.4 215.8 L1196.7 197.8 L1212.5 204Z" fill="#c7f87b"/>
<path d="M1061.2 326.1 L1046.2 317.3 L1063.7 288.1 L1078.7 296.4Z" fill="#84f9be"/>
<path d="M1632.2 202 L1613.6 199.2 L1627.9 207.7 L1646.5 210.2Z" fill="#5e8c00"/>
<path d="M1228.5 210.3 L1212.5 204 L1229.8 188 L1245.8 193.9Z" fill="#d7f877"/>
<path d="M1144.5 259.5 L1129 251.9 L1146.4 229.3 L1162 236.4Z" fill="#9df981"/>
<path d="M1598.9 192.9 L1580.5 189.9 L1595.2 196.5 L1613.6 199.2Z" fill="#708c00"/>
<path d="M1262 199.9 L1245.8 193.9 L1262.9 180 L1279.2 185.5Z" fill="#e4f86c"/>
<path d="M1093.9 304.9 L1078.7 296.4 L1096.2 269.2 L1111.5 277.1Z" fill="#83f9a0"/>
<path d="M1565.4 185.6 L1547.2 182.3 L1562.3 186.9 L1580.5 189.9Z" fill="#829001"/>
<path d="M1295.6 191.2 L1279.2 185.5 L1296.2 173.7 L1312.6 178.9Z" fill="#f0f75f"/>
<path d="M1177.7 243.6 L1162 236.4 L1179.4 215.8 L1195.2 222.5Z" fill="#b2f97f"/>
<path d="M1531.8 180 L1513.8 176.5 L1529.2 179.1 L1547.2 182.3Z" fill="#a3a507"/>
<path d="M1329.3 184.2 L1312.6 178.9 L1329.5 169.2 L1346.1 174.1Z" fill="#f6f250"/>
<path d="M1498.1 176.3 L1480.4 172.5 L1496.1 173.1 L1513.8 176.5Z" fill="#bab20d"/>
<path d="M1363 179.1 L1346.1 174.1 L1362.8 166.5 L1379.7 171Z" fill="#f5e83f"/>
<path d="M1464.4 174.3 L1446.8 170.2 L1462.8 168.8 L1480.4 172.5Z" fill="#cfbf14"/>
<path d="M1396.8 175.7 L1379.7 171 L1396.2 165.5 L1413.3 169.7Z" fill="#f5e02d"/>
<path d="M1126.9 285.2 L1111.5 277.1 L1129 251.9 L1144.5 259.5Z" fill="#83f984"/>
<path d="M1430.6 174.1 L1413.3 169.7 L1429.5 166.2 L1446.8 170.2Z" fill="#e4cf20"/>
<path d="M1076.4 335.2 L1061.2 326.1 L1078.7 296.4 L1093.9 304.9Z" fill="#84f9c3"/>
<path d="M1211.1 229.3 L1195.2 222.5 L1212.5 204 L1228.5 210.3Z" fill="#c5f87c"/>
<path d="M1651 204.9 L1632.2 202 L1646.5 210.2 L1665.3 212.8Z" fill="#628c00"/>
<path d="M1244.7 216.8 L1228.5 210.3 L1245.8 193.9 L1262 199.9Z" fill="#d5f878"/>
<path d="M1160.2 267.2 L1144.5 259.5 L1162 236.4 L1177.7 243.6Z" fill="#9af982"/>
<path d="M1617.5 196 L1598.9 192.9 L1613.6 199.2 L1632.2 202Z" fill="#738c00"/>
<path d="M1109.3 313.5 L1093.9 304.9 L1111.5 277.1 L1126.9 285.2Z" fill="#83f9a4"/>
<path d="M1278.4 206 L1262 199.9 L1279.2 185.5 L1295.6 191.2Z" fill="#e3f86e"/>
<path d="M1583.8 189 L1565.4 185.6 L1580.5 189.9 L1598.9 192.9Z" fill="#899302"/>
<path d="M1312.2 197 L1295.6 191.2 L1312.6 178.9 L1329.3 184.2Z" fill="#eff761"/>
<path d="M1193.6 250.9 L1177.7 243.6 L1195.2 222.5 L1211.1 229.3Z" fill="#b0f97f"/>
<path d="M1550 183.7 L1531.8 180 L1547.2 182.3 L1565.4 185.6Z" fill="#a9a808"/>
<path d="M1346.1 189.7 L1329.3 184.2 L1346.1 174.1 L1363 179.1Z" fill="#f6f352"/>
<path d="M1516.1 180.2 L1498.1 176.3 L1513.8 176.5 L1531.8 180Z" fill="#beb20e"/>
<path d="M1142.6 293.5 L1126.9 285.2 L1144.5 259.5 L1160.2 267.2Z" fill="#83f987"/>
<path d="M1380.1 184.2 L1363 179.1 L1379.7 171 L1396.8 175.7Z" fill="#f6e842"/>
<path d="M1091.7 344.4 L1076.4 335.2 L1093.9 304.9 L1109.3 313.5Z" fill="#84f9c7"/>
<path d="M1482.2 178.5 L1464.4 174.3 L1480.4 172.5 L1498.1 176.3Z" fill="#d3c017"/>
<path d="M1414.1 180.5 L1396.8 175.7 L1413.3 169.7 L1430.6 174.1Z" fill="#f5e030"/>
<path d="M1448.2 178.6 L1430.6 174.1 L1446.8 170.2 L1464.4 174.3Z" fill="#e7d122"/>
<path d="M1227.3 236.3 L1211.1 229.3 L1228.5 210.3 L1244.7 216.8Z" fill="#c3f87d"/>
<path d="M1261.1 223.4 L1244.7 216.8 L1262 199.9 L1278.4 206Z" fill="#d4f879"/>
<path d="M1176 275.1 L1160.2 267.2 L1177.7 243.6 L1193.6 250.9Z" fill="#97f982"/>
<path d="M1124.9 322.3 L1109.3 313.5 L1126.9 285.2 L1142.6 293.5Z" fill="#83f9a8"/>
<path d="M1295 212.3 L1278.4 206 L1295.6 191.2 L1312.2 197Z" fill="#e2f870"/>
<path d="M1636.4 199.3 L1617.5 196 L1632.2 202 L1651 204.9Z" fill="#778c00"/>
<path d="M1209.7 258.4 L1193.6 250.9 L1211.1 229.3 L1227.3 236.3Z" fill="#adf980"/>
<path d="M1329.1 202.9 L1312.2 197 L1329.3 184.2 L1346.1 189.7Z" fill="#eef764"/>
<path d="M1602.5 192.5 L1583.8 189 L1598.9 192.9 L1617.5 196Z" fill="#909703"/>
<path d="M1363.2 195.3 L1346.1 189.7 L1363 179.1 L1380.1 184.2Z" fill="#f7f455"/>
<path d="M1568.5 187.5 L1550 183.7 L1565.4 185.6 L1583.8 189Z" fill="#ada809"/>
<path d="M1158.4 301.9 L1142.6 293.5 L1160.2 267.2 L1176 275.1Z" fill="#83f98b"/>
<path d="M1107.3 353.8 L1091.7 344.4 L1109.3 313.5 L1124.9 322.3Z" fill="#84f9cc"/>
<path d="M1397.4 189.5 L1380.1 184.2 L1396.8 175.7 L1414.1 180.5Z" fill="#f6e845"/>
<path d="M1534.4 184.3 L1516.1 180.2 L1531.8 180 L1550 183.7Z" fill="#c2b30f"/>
<path d="M1243.6 243.4 L1227.3 236.3 L1244.7 216.8 L1261.1 223.4Z" fill="#c1f97d"/>
<path d="M1431.7 185.5 L1414.1 180.5 L1430.6 174.1 L1448.2 178.6Z" fill="#f5e034"/>
<path d="M1500.2 182.8 L1482.2 178.5 L1498.1 176.3 L1516.1 180.2Z" fill="#d7c119"/>
<path d="M1465.9 183.3 L1448.2 178.6 L1464.4 174.3 L1482.2 178.5Z" fill="#ead224"/>
<path d="M1277.7 230.2 L1261.1 223.4 L1278.4 206 L1295 212.3Z" fill="#d2f87a"/>
<path d="M1192.1 283.2 L1176 275.1 L1193.6 250.9 L1209.7 258.4Z" fill="#94f982"/>
<path d="M1140.7 331.3 L1124.9 322.3 L1142.6 293.5 L1158.4 301.9Z" fill="#84f9ac"/>
<path d="M1311.8 218.7 L1295 212.3 L1312.2 197 L1329.1 202.9Z" fill="#e1f872"/>
<path d="M1226 266.1 L1209.7 258.4 L1227.3 236.3 L1243.6 243.4Z" fill="#abf980"/>
<path d="M1346.1 209 L1329.1 202.9 L1346.1 189.7 L1363.2 195.3Z" fill="#edf766"/>
<path d="M1621.5 196.1 L1602.5 192.5 L1617.5 196 L1636.4 199.3Z" fill="#979b04"/>
<path d="M1123 363.3 L1107.3 353.8 L1124.9 322.3 L1140.7 331.3Z" fill="#84f9d1"/>
<path d="M1174.4 310.5 L1158.4 301.9 L1176 275.1 L1192.1 283.2Z" fill="#83f98f"/>
<path d="M1380.5 201 L1363.2 195.3 L1380.1 184.2 L1397.4 189.5Z" fill="#f7f558"/>
<path d="M1587.2 191.4 L1568.5 187.5 L1583.8 189 L1602.5 192.5Z" fill="#b0a90a"/>
<path d="M1415 194.9 L1397.4 189.5 L1414.1 180.5 L1431.7 185.5Z" fill="#f6e948"/>
<path d="M1260.2 250.7 L1243.6 243.4 L1261.1 223.4 L1277.7 230.2Z" fill="#bef97e"/>
<path d="M1552.9 188.4 L1534.4 184.3 L1550 183.7 L1568.5 187.5Z" fill="#c6b410"/>
<path d="M1449.5 190.5 L1431.7 185.5 L1448.2 178.6 L1465.9 183.3Z" fill="#f5e037"/>
<path d="M1518.4 187.3 L1500.2 182.8 L1516.1 180.2 L1534.4 184.3Z" fill="#dbc31b"/>
<path d="M1484 188 L1465.9 183.3 L1482.2 178.5 L1500.2 182.8Z" fill="#eed426"/>
<path d="M1208.4 291.4 L1192.1 283.2 L1209.7 258.4 L1226 266.1Z" fill="#91f982"/>
<path d="M1294.5 237.1 L1277.7 230.2 L1295 212.3 L1311.8 218.7Z" fill="#d0f87a"/>
<path d="M1156.7 340.5 L1140.7 331.3 L1158.4 301.9 L1174.4 310.5Z" fill="#84f9b1"/>
<path d="M1328.9 225.3 L1311.8 218.7 L1329.1 202.9 L1346.1 209Z" fill="#dff874"/>
<path d="M1242.6 273.9 L1226 266.1 L1243.6 243.4 L1260.2 250.7Z" fill="#a8f981"/>
<path d="M1363.4 215.2 L1346.1 209 L1363.2 195.3 L1380.5 201Z" fill="#ecf768"/>
<path d="M1138.9 373.1 L1123 363.3 L1140.7 331.3 L1156.7 340.5Z" fill="#84f9d5"/>
<path d="M1190.7 319.3 L1174.4 310.5 L1192.1 283.2 L1208.4 291.4Z" fill="#83f993"/>
<path d="M1398.1 206.9 L1380.5 201 L1397.4 189.5 L1415 194.9Z" fill="#f7f55b"/>
<path d="M1606.2 195.4 L1587.2 191.4 L1602.5 192.5 L1621.5 196.1Z" fill="#b4aa0b"/>
<path d="M1276.9 258.2 L1260.2 250.7 L1277.7 230.2 L1294.5 237.1Z" fill="#bcf97e"/>
<path d="M1432.8 200.4 L1415 194.9 L1431.7 185.5 L1449.5 190.5Z" fill="#f6ea4b"/>
<path d="M1571.6 192.7 L1552.9 188.4 L1568.5 187.5 L1587.2 191.4Z" fill="#c9b611"/>
<path d="M1467.5 195.8 L1449.5 190.5 L1465.9 183.3 L1484 188Z" fill="#f5e03a"/>
<path d="M1536.9 191.9 L1518.4 187.3 L1534.4 184.3 L1552.9 188.4Z" fill="#dec51d"/>
<path d="M1502.2 192.9 L1484 188 L1500.2 182.8 L1518.4 187.3Z" fill="#f1d628"/>
<path d="M1224.9 299.8 L1208.4 291.4 L1226 266.1 L1242.6 273.9Z" fill="#8ef983"/>
<path d="M1311.5 244.2 L1294.5 237.1 L1311.8 218.7 L1328.9 225.3Z" fill="#cef87b"/>
<path d="M1172.9 349.8 L1156.7 340.5 L1174.4 310.5 L1190.7 319.3Z" fill="#84f9b5"/>
<path d="M1346.1 232 L1328.9 225.3 L1346.1 209 L1363.4 215.2Z" fill="#def876"/>
<path d="M1259.3 281.9 L1242.6 273.9 L1260.2 250.7 L1276.9 258.2Z" fill="#a5f981"/>
<path d="M1380.9 221.5 L1363.4 215.2 L1380.5 201 L1398.1 206.9Z" fill="#ebf86b"/>
<path d="M1155 383 L1138.9 373.1 L1156.7 340.5 L1172.9 349.8Z" fill="#84f9da"/>
<path d="M1207.1 328.2 L1190.7 319.3 L1208.4 291.4 L1224.9 299.8Z" fill="#83f997"/>
<path d="M1415.8 212.9 L1398.1 206.9 L1415 194.9 L1432.8 200.4Z" fill="#f7f75d"/>
<path d="M1293.9 265.8 L1276.9 258.2 L1294.5 237.1 L1311.5 244.2Z" fill="#baf97f"/>
<path d="M1450.8 206.1 L1432.8 200.4 L1449.5 190.5 L1467.5 195.8Z" fill="#f6ea4e"/>
<path d="M1485.7 201.1 L1467.5 195.8 L1484 188 L1502.2 192.9Z" fill="#f5e03d"/>
<path d="M1590.5 197.1 L1571.6 192.7 L1587.2 191.4 L1606.2 195.4Z" fill="#cdb713"/>
<path d="M1520.7 197.9 L1502.2 192.9 L1518.4 187.3 L1536.9 191.9Z" fill="#f4d82b"/>
<path d="M1555.6 196.6 L1536.9 191.9 L1552.9 188.4 L1571.6 192.7Z" fill="#e2c61f"/>
<path d="M1241.5 308.3 L1224.9 299.8 L1242.6 273.9 L1259.3 281.9Z" fill="#8af983"/>
<path d="M1328.7 251.5 L1311.5 244.2 L1328.9 225.3 L1346.1 232Z" fill="#ccf87c"/>
<path d="M1189.2 359.4 L1172.9 349.8 L1190.7 319.3 L1207.1 328.2Z" fill="#84f9b9"/>
<path d="M1363.6 238.9 L1346.1 232 L1363.4 215.2 L1380.9 221.5Z" fill="#ddf878"/>
<path d="M1276.2 290.1 L1259.3 281.9 L1276.9 258.2 L1293.9 265.8Z" fill="#a2f982"/>
<path d="M1171.4 393.1 L1155 383 L1172.9 349.8 L1189.2 359.4Z" fill="#84f9df"/>
<path d="M1398.7 228.1 L1380.9 221.5 L1398.1 206.9 L1415.8 212.9Z" fill="#eaf86d"/>
<path d="M1223.7 337.4 L1207.1 328.2 L1224.9 299.8 L1241.5 308.3Z" fill="#83f99b"/>
<path d="M1433.8 219.1 L1415.8 212.9 L1432.8 200.4 L1450.8 206.1Z" fill="#f6f760"/>
<path d="M1311.1 273.6 L1293.9 265.8 L1311.5 244.2 L1328.7 251.5Z" fill="#b7f97f"/>
<path d="M1469 211.9 L1450.8 206.1 L1467.5 195.8 L1485.7 201.1Z" fill="#f6eb51"/>
<path d="M1504.2 206.6 L1485.7 201.1 L1502.2 192.9 L1520.7 197.9Z" fill="#f5e041"/>
<path d="M1539.4 203.1 L1520.7 197.9 L1536.9 191.9 L1555.6 196.6Z" fill="#f5d82f"/>
<path d="M1258.4 317 L1241.5 308.3 L1259.3 281.9 L1276.2 290.1Z" fill="#87f983"/>
<path d="M1574.6 201.5 L1555.6 196.6 L1571.6 192.7 L1590.5 197.1Z" fill="#e5c821"/>
<path d="M1205.8 369.1 L1189.2 359.4 L1207.1 328.2 L1223.7 337.4Z" fill="#84f9be"/>
<path d="M1346.1 258.9 L1328.7 251.5 L1346.1 232 L1363.6 238.9Z" fill="#caf87c"/>
<path d="M1381.3 245.9 L1363.6 238.9 L1380.9 221.5 L1398.7 228.1Z" fill="#dbf879"/>
<path d="M1293.4 298.4 L1276.2 290.1 L1293.9 265.8 L1311.1 273.6Z" fill="#a0f982"/>
<path d="M1187.9 403.4 L1171.4 393.1 L1189.2 359.4 L1205.8 369.1Z" fill="#84f9e4"/>
<path d="M1240.5 346.7 L1223.7 337.4 L1241.5 308.3 L1258.4 317Z" fill="#83f99f"/>
<path d="M1416.6 234.7 L1398.7 228.1 L1415.8 212.9 L1433.8 219.1Z" fill="#e9f86f"/>
<path d="M1452 225.4 L1433.8 219.1 L1450.8 206.1 L1469 211.9Z" fill="#f5f762"/>
<path d="M1328.5 281.6 L1311.1 273.6 L1328.7 251.5 L1346.1 258.9Z" fill="#b5f980"/>
<path d="M1487.5 217.9 L1469 211.9 L1485.7 201.1 L1504.2 206.6Z" fill="#f6ec54"/>
<path d="M1275.5 326 L1258.4 317 L1276.2 290.1 L1293.4 298.4Z" fill="#83f983"/>
<path d="M1522.9 212.2 L1504.2 206.6 L1520.7 197.9 L1539.4 203.1Z" fill="#f6e144"/>
<path d="M1222.6 379 L1205.8 369.1 L1223.7 337.4 L1240.5 346.7Z" fill="#84f9c3"/>
<path d="M1558.4 208.4 L1539.4 203.1 L1555.6 196.6 L1574.6 201.5Z" fill="#f5d832"/>
<path d="M1363.8 266.4 L1346.1 258.9 L1363.6 238.9 L1381.3 245.9Z" fill="#c8f87d"/>
<path d="M1399.3 253.1 L1381.3 245.9 L1398.7 228.1 L1416.6 234.7Z" fill="#d9f879"/>
<path d="M1310.7 306.9 L1293.4 298.4 L1311.1 273.6 L1328.5 281.6Z" fill="#9cf982"/>
<path d="M1204.6 413.9 L1187.9 403.4 L1205.8 369.1 L1222.6 379Z" fill="#84f9ea"/>
<path d="M1257.6 356.2 L1240.5 346.7 L1258.4 317 L1275.5 326Z" fill="#84f9a3"/>
<path d="M1434.8 241.6 L1416.6 234.7 L1433.8 219.1 L1452 225.4Z" fill="#e8f871"/>
<path d="M1346.1 289.7 L1328.5 281.6 L1346.1 258.9 L1363.8 266.4Z" fill="#b2f980"/>
<path d="M1470.5 231.9 L1452 225.4 L1469 211.9 L1487.5 217.9Z" fill="#f4f765"/>
<path d="M1506.2 224 L1487.5 217.9 L1504.2 206.6 L1522.9 212.2Z" fill="#f7ed57"/>
<path d="M1292.8 335.1 L1275.5 326 L1293.4 298.4 L1310.7 306.9Z" fill="#83f986"/>
<path d="M1239.6 389.1 L1222.6 379 L1240.5 346.7 L1257.6 356.2Z" fill="#84f9c7"/>
<path d="M1541.9 218 L1522.9 212.2 L1539.4 203.1 L1558.4 208.4Z" fill="#f6e247"/>
<path d="M1381.7 274.2 L1363.8 266.4 L1381.3 245.9 L1399.3 253.1Z" fill="#c6f97d"/>
<path d="M1417.4 260.5 L1399.3 253.1 L1416.6 234.7 L1434.8 241.6Z" fill="#d7f87a"/>
<path d="M1328.3 315.6 L1310.7 306.9 L1328.5 281.6 L1346.1 289.7Z" fill="#99f982"/>
<path d="M1221.5 424.6 L1204.6 413.9 L1222.6 379 L1239.6 389.1Z" fill="#84f9ef"/>
<path d="M1274.9 365.9 L1257.6 356.2 L1275.5 326 L1292.8 335.1Z" fill="#84f9a8"/>
<path d="M1453.3 248.6 L1434.8 241.6 L1452 225.4 L1470.5 231.9Z" fill="#e6f874"/>
<path d="M1364 298 L1346.1 289.7 L1363.8 266.4 L1381.7 274.2Z" fill="#b0f981"/>
<path d="M1489.2 238.5 L1470.5 231.9 L1487.5 217.9 L1506.2 224Z" fill="#f3f767"/>
<path d="M1256.8 399.4 L1239.6 389.1 L1257.6 356.2 L1274.9 365.9Z" fill="#84f9cc"/>
<path d="M1310.4 344.3 L1292.8 335.1 L1310.7 306.9 L1328.3 315.6Z" fill="#83f98a"/>
<path d="M1525.2 230.3 L1506.2 224 L1522.9 212.2 L1541.9 218Z" fill="#f7ee59"/>
<path d="M1399.8 282.1 L1381.7 274.2 L1399.3 253.1 L1417.4 260.5Z" fill="#c3f97e"/>
<path d="M1238.7 435.6 L1221.5 424.6 L1239.6 389.1 L1256.8 399.4Z" fill="#85f9f4"/>
<path d="M1346.1 324.5 L1328.3 315.6 L1346.1 289.7 L1364 298Z" fill="#96f982"/>
<path d="M1435.8 268 L1417.4 260.5 L1434.8 241.6 L1453.3 248.6Z" fill="#d5f87b"/>
<path d="M1292.3 375.7 L1274.9 365.9 L1292.8 335.1 L1310.4 344.3Z" fill="#84f9ac"/>
<path d="M1471.9 255.7 L1453.3 248.6 L1470.5 231.9 L1489.2 238.5Z" fill="#e5f876"/>
<path d="M1382.1 306.5 L1364 298 L1381.7 274.2 L1399.8 282.1Z" fill="#adf981"/>
<path d="M1508.1 245.3 L1489.2 238.5 L1506.2 224 L1525.2 230.3Z" fill="#f2f86a"/>
<path d="M1274.2 409.9 L1256.8 399.4 L1274.9 365.9 L1292.3 375.7Z" fill="#84f9d1"/>
<path d="M1328.2 353.8 L1310.4 344.3 L1328.3 315.6 L1346.1 324.5Z" fill="#83f98e"/>
<path d="M1418.2 290.2 L1399.8 282.1 L1417.4 260.5 L1435.8 268Z" fill="#c1f97f"/>
<path d="M1256 446.7 L1238.7 435.6 L1256.8 399.4 L1274.2 409.9Z" fill="#85f8f9"/>
<path d="M1364.2 333.6 L1346.1 324.5 L1364 298 L1382.1 306.5Z" fill="#92f983"/>
<path d="M1454.5 275.7 L1435.8 268 L1453.3 248.6 L1471.9 255.7Z" fill="#d3f87b"/>
<path d="M1310.1 385.8 L1292.3 375.7 L1310.4 344.3 L1328.2 353.8Z" fill="#84f9b1"/>
<path d="M1490.9 263 L1471.9 255.7 L1489.2 238.5 L1508.1 245.3Z" fill="#e3f878"/>
<path d="M1400.4 315.1 L1382.1 306.5 L1399.8 282.1 L1418.2 290.2Z" fill="#aaf982"/>
<path d="M1291.9 420.5 L1274.2 409.9 L1292.3 375.7 L1310.1 385.8Z" fill="#84f9d6"/>
<path d="M1346.1 363.5 L1328.2 353.8 L1346.1 324.5 L1364.2 333.6Z" fill="#83f993"/>
<path d="M1436.8 298.4 L1418.2 290.2 L1435.8 268 L1454.5 275.7Z" fill="#bef97f"/>
<path d="M1273.6 458 L1256 446.7 L1274.2 409.9 L1291.9 420.5Z" fill="#85f3f9"/>
<path d="M1382.5 342.8 L1364.2 333.6 L1382.1 306.5 L1400.4 315.1Z" fill="#8ff983"/>
<path d="M1473.4 283.6 L1454.5 275.7 L1471.9 255.7 L1490.9 263Z" fill="#d1f87c"/>
<path d="M1328 396.1 L1310.1 385.8 L1328.2 353.8 L1346.1 363.5Z" fill="#84f9b5"/>
<path d="M1419 324 L1400.4 315.1 L1418.2 290.2 L1436.8 298.4Z" fill="#a7f982"/>
<path d="M1309.7 431.4 L1291.9 420.5 L1310.1 385.8 L1328 396.1Z" fill="#84f9db"/>
<path d="M1364.4 373.3 L1346.1 363.5 L1364.2 333.6 L1382.5 342.8Z" fill="#83f997"/>
<path d="M1455.7 306.9 L1436.8 298.4 L1454.5 275.7 L1473.4 283.6Z" fill="#bcf980"/>
<path d="M1291.4 469.5 L1273.6 458 L1291.9 420.5 L1309.7 431.4Z" fill="#85edf9"/>
<path d="M1401 352.3 L1382.5 342.8 L1400.4 315.1 L1419 324Z" fill="#8bf983"/>
<path d="M1346.1 406.5 L1328 396.1 L1346.1 363.5 L1364.4 373.3Z" fill="#84f9ba"/>
<path d="M1437.8 333 L1419 324 L1436.8 298.4 L1455.7 306.9Z" fill="#a4f982"/>
<path d="M1327.8 442.5 L1309.7 431.4 L1328 396.1 L1346.1 406.5Z" fill="#84f9e1"/>
<path d="M1382.8 383.4 L1364.4 373.3 L1382.5 342.8 L1401 352.3Z" fill="#84f99b"/>
<path d="M1309.4 481.3 L1291.4 469.5 L1309.7 431.4 L1327.8 442.5Z" fill="#85e7f9"/>
<path d="M1419.7 361.9 L1401 352.3 L1419 324 L1437.8 333Z" fill="#87f983"/>
<path d="M1364.5 417.2 L1346.1 406.5 L1364.4 373.3 L1382.8 383.4Z" fill="#84f9bf"/>
<path d="M1346.1 453.9 L1327.8 442.5 L1346.1 406.5 L1364.5 417.2Z" fill="#84f9e6"/>
<path d="M1401.5 393.6 L1382.8 383.4 L1401 352.3 L1419.7 361.9Z" fill="#84f9a0"/>
<path d="M1327.7 493.2 L1309.4 481.3 L1327.8 442.5 L1346.1 453.9Z" fill="#85e2f9"/>
<path d="M1383.2 428.1 L1364.5 417.2 L1382.8 383.4 L1401.5 393.6Z" fill="#84f9c4"/>
<path d="M1364.7 465.4 L1346.1 453.9 L1364.5 417.2 L1383.2 428.1Z" fill="#85f9eb"/>
<path d="M1346.1 505.4 L1327.7 493.2 L1346.1 453.9 L1364.7 465.4Z" fill="#85dcf9"/>
</g>
<path d="M1346.1 131.6L1346.1 174.1" stroke="#222" stroke-width="1.05"/>
<circle cx="1346.1" cy="131.6" r="6.3" fill="#c80000" stroke="#500" stroke-width="0.95"/>
<path d="M1346.1 154.3L1346.1 174.1" stroke="#222" stroke-width="1.05"/>
<circle cx="1346.1" cy="154.3" r="6.3" fill="#c80000" stroke="#500" stroke-width="0.95"/>
<path d="M1346.1 166.2L1346.1 174.1" stroke="#222" stroke-width="1.05"/>
<circle cx="1346.1" cy="166.2" r="6.3" fill="#c80000" stroke="#500" stroke-width="0.95"/>
<path d="M1016.1 287.1L1016.7 300.1" stroke="#222" stroke-width="1.05"/>
<circle cx="1016.1" cy="287.1" r="6.3" fill="#c80000" stroke="#500" stroke-width="0.95"/>
<path d="M1346.1 481.6L1346.1 505.4" stroke="#222" stroke-width="1.05"/>
<circle cx="1346.1" cy="481.6" r="6.3" fill="#c80000" stroke="#500" stroke-width="0.95"/>
<path d="M1679.3 223.4L1679.3 222.9" stroke="#222" stroke-width="1.05"/>
<circle cx="1679.3" cy="223.4" r="6.3" fill="#c80000" stroke="#500" stroke-width="0.95"/>
<text x="1009" y="405.4" font-size="21.4" text-anchor="end">90</text>
<text x="1005.8" y="338.8" font-size="21.4" text-anchor="end">92</text>
<text x="1002.6" y="272.2" font-size="21.4" text-anchor="end">94</text>
<text x="999.4" y="205.6" font-size="21.4" text-anchor="end">96</text>
<text x="996.2" y="139.1" font-size="21.4" text-anchor="end">98</text>
<text x="993" y="72.5" font-size="21.4" text-anchor="end">100</text>
<text x="1013.6" y="541.1" font-size="21.4" text-anchor="end">1</text>
<text x="1679.2" y="541.1" font-size="21.4" text-anchor="start">1</text>
<text x="1093.3" y="579.4" font-size="21.4" text-anchor="end">0.5</text>
<text x="1599.5" y="579.4" font-size="21.4" text-anchor="start">0.5</text>
<text x="1173" y="617.7" font-size="21.4" text-anchor="end">0</text>
<text x="1519.8" y="617.7" font-size="21.4" text-anchor="start">0</text>
<text x="1252.7" y="656" font-size="21.4" text-anchor="end">-0.5</text>
<text x="1440.1" y="656" font-size="21.4" text-anchor="start">-0.5</text>
<text x="1332.5" y="694.3" font-size="21.4" text-anchor="end">-1</text>
<text x="1360.3" y="694.3" font-size="21.4" text-anchor="start">-1</text>
<text x="1065.5" y="659.4" font-size="22.6" text-anchor="middle" textLength="132.0" lengthAdjust="spacingAndGlyphs">Temperature</text>
<text x="1626.8" y="659.4" font-size="22.6" text-anchor="middle" textLength="29.1" lengthAdjust="spacingAndGlyphs">pH</text>
<text transform="translate(943.6 309.2) rotate(-90)" font-size="22.9" text-anchor="middle" textLength="157.6" lengthAdjust="spacingAndGlyphs">Removal MG %</text>
<text x="932.2" y="661.6" font-size="32.0" text-anchor="start">b</text>
<path d="M111.5 1222 L462.8 1102.8 L814 1222 M108 1149.8 L462.8 1037.6 L817.5 1149.8 M104.5 1077.6 L462.8 972.5 L821 1077.6 M101.1 1005.4 L462.8 907.4 L824.5 1005.4 M97.6 933.2 L462.8 842.3 L828 933.2 M199.3 1192.2 L186.2 840.1 M726.2 1192.2 L739.3 840.1 M287.1 1162.4 L278.4 819.1 M638.4 1162.4 L647.1 819.1 M374.9 1132.6 L370.6 798.1 M550.6 1132.6 L554.9 798.1 M117 1335.7 L94.1 861 M462.8 1205.3 L462.8 777.1 M808.5 1335.7 L831.4 861" fill="none" stroke="#000" stroke-width="1.60"/>
<path d="M94.1 861 L462.8 777.1 L831.4 861" fill="none" stroke="#000" stroke-width="2.30" stroke-linejoin="round"/>
<path d="M117 1335.7 L462.8 1205.3 L808.5 1335.7 L462.8 1501.8Z" fill="#646464"/>
<path d="M242.5 1396 L249.2 1398.3 L257.1 1401 L265 1403.8 L269.1 1405.3 L276.9 1408 L284.9 1410.9 L292.8 1413.7 L297.9 1415.6 L304.8 1418 L312.8 1420.9 L320.8 1423.9 L328.8 1426.8 L332.9 1428.3 L340.9 1431.3 L349 1434.3 L357.1 1437.4 L364.5 1440.2 L369.2 1442 L377.3 1445.1 L385.5 1448.2 L393.7 1451.3 L401.8 1454.5 L405.9 1456.1 L414.2 1459.3 L422.4 1462.5 L430.6 1465.7 L438.9 1469 L447.2 1472.3 L451.4 1474 L459.7 1477.3 L468.1 1480.7 L476.5 1484.1 L484.9 1487.5 L489.1 1489.2" fill="none" stroke="#00f7f2" stroke-width="3.19" stroke-linecap="round" stroke-linejoin="round"/>
<path d="M122.4 1333.7 L130.1 1336 L134 1337.1 L141.7 1339.5 L149.4 1341.8 L153.3 1343 L161 1345.4 L168.8 1347.8 L172.7 1349 L180.4 1351.4 L188.1 1353.9 L193.9 1355.8 L199.7 1357.6 L207.4 1360.1 L215.1 1362.7 L219 1364 L226.7 1366.5 L234.4 1369.1 L241.2 1371.4 L246 1373.1 L253.7 1375.7 L261.5 1378.4 L267.9 1380.6 L273.1 1382.5 L280.9 1385.2 L288.6 1387.9 L296.4 1390.7 L300.3 1392.1 L308.1 1394.9 L315.8 1397.8 L323.6 1400.6 L330.1 1403 L335.4 1405 L343.2 1407.9 L351 1410.8 L358.9 1413.8 L366.8 1416.8 L370.7 1418.3 L378.6 1421.3 L386.5 1424.4 L394.4 1427.4 L402.3 1430.5 L410.3 1433.7 L414.3 1435.2 L422.3 1438.4 L430.3 1441.6 L438.3 1444.8 L446.3 1448 L454.4 1451.2 L462.5 1454.5 L466.9 1456.3 L474.7 1459.5 L482.8 1462.8 L491 1466.2 L499.2 1469.6 L507.4 1473 L515.6 1476.4" fill="none" stroke="#00f76c" stroke-width="3.19" stroke-linecap="round" stroke-linejoin="round"/>
<path d="M160.8 1319.2 L168.4 1321.5 L172.2 1322.6 L179.8 1324.9 L187.4 1327.3 L191.5 1328.6 L198.8 1330.8 L206.3 1333.2 L213.4 1335.5 L217.7 1336.9 L225.2 1339.4 L232.7 1341.9 L237.5 1343.4 L244 1345.6 L251.6 1348.2 L259.1 1350.8 L264.4 1352.6 L270.3 1354.7 L277.9 1357.3 L285.4 1360 L292.9 1362.7 L296.6 1364 L304.2 1366.8 L311.7 1369.5 L319.2 1372.3 L326.7 1375.1 L331 1376.7 L338 1379.3 L345.6 1382.2 L353.1 1385.1 L360.7 1388 L368.2 1390.9 L375.5 1393.8 L379.6 1395.4 L387.2 1398.4 L394.8 1401.4 L402.5 1404.4 L410.1 1407.5 L417.7 1410.6 L425.4 1413.7 L433.1 1416.8 L436.9 1418.4 L444.7 1421.6 L452.4 1424.8 L460.2 1428 L467.9 1431.2 L475.7 1434.5 L483.6 1437.8 L491.4 1441.1 L499.3 1444.5 L507.2 1447.8 L515.1 1451.2 L523 1454.6 L531 1458.1 L539 1461.5 L543 1463.3" fill="none" stroke="#10f700" stroke-width="3.19" stroke-linecap="round" stroke-linejoin="round"/>
<path d="M223.9 1295.4 L231 1297.8 L236.2 1299.5 L241.7 1301.4 L248.8 1303.8 L255.8 1306.3 L262.8 1308.8 L268.4 1310.8 L273.3 1312.6 L280.2 1315.2 L287.1 1317.8 L294 1320.4 L300.9 1323.1 L307.8 1325.8 L314.7 1328.6 L320.6 1331 L325 1332.7 L331.9 1335.5 L338.7 1338.3 L345.6 1341.2 L352.5 1344.1 L359.4 1347 L366.2 1349.9 L373.1 1352.8 L380 1355.8 L386.9 1358.8 L393.9 1361.8 L400.8 1364.9 L407.8 1367.9 L414.8 1371 L421.7 1374.1 L428.8 1377.3 L435.8 1380.4 L442.9 1383.6 L449.9 1386.8 L457 1390 L464.2 1393.3 L471.3 1396.5 L478.5 1399.8 L485.7 1403.1 L492.9 1406.5 L500.2 1409.8 L507.5 1413.2 L514.8 1416.6 L522.1 1420 L529.5 1423.4 L533.2 1425.2 L540.7 1428.6 L548.1 1432.1 L555.6 1435.6 L563.2 1439.2 L570.7 1442.7 L578.3 1446.3" fill="none" stroke="#9bf700" stroke-width="3.19" stroke-linecap="round" stroke-linejoin="round"/>
<path d="M803.2 1333.7 L794.6 1333 L787.5 1332.5 L781.6 1332.1 L775.6 1331.7 L769 1331.2 L760.5 1330.6 L752.1 1330 L745.6 1329.6 L739.6 1329.2 L733.5 1328.8 L727.3 1328.4 L719.1 1327.9 L711 1327.4 L703.1 1327 L697 1326.7 L690.8 1326.3 L684.6 1326 L678.4 1325.7 L671.5 1325.4 L663.9 1325.1 L656.3 1324.8 L648.8 1324.6 L641.4 1324.4 L634.2 1324.2 L627.3 1324.1 L620.6 1324 L613.8 1324 L607 1324 L599.9 1324 L593 1324.2 L586.7 1324.4 L580.5 1324.7 L574.5 1325 L568.8 1325.4 L560.5 1326.3 L552.8 1327.3 L548.1 1328.2 L539.5 1330.3 L532.4 1333.1 L527.2 1336.6 L525.4 1338.8 L524.1 1342.1 L523.9 1345.2 L524.5 1348 L525.5 1350.6 L527.5 1354.2 L530.2 1357.8 L532.1 1360 L535.2 1363.3 L538.6 1366.6 L541.1 1368.8 L545.9 1372.9 L548.4 1374.9 L553.7 1379 L557.5 1381.8 L562 1385 L567.7 1389 L570.6 1391 L576.5 1394.9 L581.4 1398.1 L585.6 1400.8 L591.8 1404.7 L596.8 1407.8 L601.3 1410.6 L607.8 1414.5 L614.3 1418.4 L617.6 1420.3 L624.2 1424.2" fill="none" stroke="#f7c700" stroke-width="3.19" stroke-linecap="round" stroke-linejoin="round"/>
<path d="M339.8 1251.7 L344.2 1252.5 L353.1 1254 L357.5 1254.8 L364.2 1255.8 L371.1 1257 L375.6 1257.7 L384.8 1259.2 L389.4 1259.9 L395.9 1260.9 L403.4 1262 L408.1 1262.7 L416.6 1264 L422.2 1264.8 L427 1265.5 L436.6 1266.9 L441.4 1267.5 L446.9 1268.3 L455.9 1269.6 L460.7 1270.2 L466.9 1271.1 L475.4 1272.2 L480.3 1272.9 L486.7 1273.7 L495.1 1274.9 L500.1 1275.5 L506.3 1276.3 L515 1277.5 L520 1278.1 L525.9 1278.9 L535.1 1280 L540.2 1280.7 L545.4 1281.3 L555.2 1282.6 L560.5 1283.2 L565.6 1283.9 L574.6 1285 L580.9 1285.8 L586.1 1286.4 L594 1287.4 L601.6 1288.3 L606.7 1288.9 L613.4 1289.7 L622.3 1290.8 L627.5 1291.4 L632.8 1292.1 L642.5 1293.2 L648.4 1293.9 L653.7 1294.6 L661.9 1295.5 L669.4 1296.4 L674.7 1297.1 L681.3 1297.8 L690.6 1298.9 L695.9 1299.6 L701.2 1300.2 L710.4 1301.3 L717.2 1302 L720.1 1302.4" fill="none" stroke="#a6f700" stroke-width="3.19" stroke-linecap="round" stroke-linejoin="round"/>
<path d="M396.9 1230.2 L405.1 1231.8 L409.3 1232.7 L417.7 1234.3 L421.9 1235.1 L430.4 1236.7 L434.6 1237.5 L443.2 1239.1 L447.5 1239.9 L456.1 1241.5 L460.4 1242.3 L469.1 1243.9 L473.6 1244.7 L480.9 1246 L486.8 1247 L492.5 1248 L500.2 1249.3 L504.7 1250.1 L513.7 1251.7 L518.2 1252.4 L527 1253.9 L531.9 1254.7 L538.4 1255.8 L545.7 1257 L550.3 1257.7 L559.6 1259.2 L564.2 1260 L572 1261.2 L578.3 1262.2 L583.1 1263 L592.4 1264.4 L597.2 1265.2 L605.1 1266.4 L611.5 1267.4 L616.3 1268.1 L625.9 1269.5 L630.7 1270.3 L637.8 1271.3" fill="none" stroke="#23f700" stroke-width="3.19" stroke-linecap="round" stroke-linejoin="round"/>
<path d="M433.3 1216.5 L439.4 1217.7 L445.5 1218.9 L452.4 1220.3 L457.8 1221.4 L465.4 1222.9 L470.2 1223.8 L478.1 1225.4 L482.8 1226.3 L490.8 1227.8 L495.5 1228.7 L503.3 1230.1 L508.2 1231.1 L515.7 1232.4 L521.1 1233.5 L528 1234.7 L534.2 1235.8 L540.2 1236.9 L547.3 1238.2 L552.3 1239.1" fill="none" stroke="#00f766" stroke-width="3.19" stroke-linecap="round" stroke-linejoin="round"/>
<path d="M117 1335.7 L462.8 1205.3 L808.5 1335.7 L462.8 1501.8Z" fill="none" stroke="#000" stroke-width="2.40" stroke-linejoin="round"/>
<g fill="#000"><circle cx="117" cy="1335.7" r="3.4"/><circle cx="203.4" cy="1377.2" r="3.4"/><circle cx="289.9" cy="1418.8" r="3.4"/><circle cx="376.3" cy="1460.3" r="3.4"/><circle cx="462.8" cy="1501.8" r="3.4"/><circle cx="549.2" cy="1460.3" r="3.4"/><circle cx="635.6" cy="1418.8" r="3.4"/><circle cx="722.1" cy="1377.2" r="3.4"/><circle cx="808.5" cy="1335.7" r="3.4"/><circle cx="111.5" cy="1222" r="3.4"/><circle cx="108" cy="1149.8" r="3.4"/><circle cx="104.5" cy="1077.6" r="3.4"/><circle cx="101.1" cy="1005.4" r="3.4"/><circle cx="97.6" cy="933.2" r="3.4"/><circle cx="94.1" cy="861" r="3.4"/></g>

<g stroke="#000" stroke-width="1.31" stroke-linejoin="round">
<path d="M462.8 995.3 L446.8 997.4 L462.8 1016.3 L478.7 1013.7Z" fill="#008c60"/>
<path d="M478.9 993.1 L462.8 995.3 L478.7 1013.7 L494.8 1011.1Z" fill="#008c52"/>
<path d="M446.6 978.9 L430.6 980.5 L446.8 997.4 L462.8 995.3Z" fill="#008c36"/>
<path d="M495.3 990.8 L478.9 993.1 L494.8 1011.1 L511.2 1008.3Z" fill="#008c45"/>
<path d="M462.8 977.2 L446.6 978.9 L462.8 995.3 L478.9 993.1Z" fill="#008c2a"/>
<path d="M430.1 964.7 L414.1 965.7 L430.6 980.5 L446.6 978.9Z" fill="#008c11"/>
<path d="M511.9 988.3 L495.3 990.8 L511.2 1008.3 L527.8 1005.3Z" fill="#008c37"/>
<path d="M479.2 975.4 L462.8 977.2 L478.9 993.1 L495.3 990.8Z" fill="#008c1d"/>
<path d="M446.3 963.5 L430.1 964.7 L446.6 978.9 L462.8 977.2Z" fill="#008c05"/>
<path d="M413.3 952.6 L397.3 953.1 L414.1 965.7 L430.1 964.7Z" fill="#108c00"/>
<path d="M528.8 985.8 L511.9 988.3 L527.8 1005.3 L544.6 1002.3Z" fill="#008c29"/>
<path d="M495.8 973.5 L479.2 975.4 L495.3 990.8 L511.9 988.3Z" fill="#008c10"/>
<path d="M462.8 962.2 L446.3 963.5 L462.8 977.2 L479.2 975.4Z" fill="#068c00"/>
<path d="M429.6 952 L413.3 952.6 L430.1 964.7 L446.3 963.5Z" fill="#1b8c00"/>
<path d="M396.4 942.8 L380.3 942.8 L397.3 953.1 L413.3 952.6Z" fill="#2d8c00"/>
<path d="M545.8 983.1 L528.8 985.8 L544.6 1002.3 L561.6 999.1Z" fill="#008c1a"/>
<path d="M512.7 971.4 L495.8 973.5 L511.9 988.3 L528.8 985.8Z" fill="#008c03"/>
<path d="M479.4 960.8 L462.8 962.2 L479.2 975.4 L495.8 973.5Z" fill="#128c00"/>
<path d="M446.1 951.3 L429.6 952 L446.3 963.5 L462.8 962.2Z" fill="#258c00"/>
<path d="M412.6 942.8 L396.4 942.8 L413.3 952.6 L429.6 952Z" fill="#368c00"/>
<path d="M563.1 980.2 L545.8 983.1 L561.6 999.1 L578.9 995.7Z" fill="#008c0c"/>
<path d="M379.2 935.4 L363.1 934.7 L380.3 942.8 L396.4 942.8Z" fill="#458c00"/>
<path d="M529.8 969.2 L512.7 971.4 L528.8 985.8 L545.8 983.1Z" fill="#0a8c00"/>
<path d="M496.3 959.3 L479.4 960.8 L495.8 973.5 L512.7 971.4Z" fill="#1d8c00"/>
<path d="M462.8 950.5 L446.1 951.3 L462.8 962.2 L479.4 960.8Z" fill="#2f8c00"/>
<path d="M429.1 942.7 L412.6 942.8 L429.6 952 L446.1 951.3Z" fill="#3f8c00"/>
<path d="M395.4 936 L379.2 935.4 L396.4 942.8 L412.6 942.8Z" fill="#4d8c00"/>
<path d="M580.7 977.2 L563.1 980.2 L578.9 995.7 L596.4 992.2Z" fill="#028c00"/>
<path d="M361.7 930.3 L345.6 929.1 L363.1 934.7 L379.2 935.4Z" fill="#598c00"/>
<path d="M547.1 966.9 L529.8 969.2 L545.8 983.1 L563.1 980.2Z" fill="#178c00"/>
<path d="M513.4 957.7 L496.3 959.3 L512.7 971.4 L529.8 969.2Z" fill="#298c00"/>
<path d="M479.7 949.5 L462.8 950.5 L479.4 960.8 L496.3 959.3Z" fill="#3a8c00"/>
<path d="M445.8 942.5 L429.1 942.7 L446.1 951.3 L462.8 950.5Z" fill="#498c00"/>
<path d="M411.9 936.5 L395.4 936 L412.6 942.8 L429.1 942.7Z" fill="#558c00"/>
<path d="M598.5 974.1 L580.7 977.2 L596.4 992.2 L614.2 988.6Z" fill="#118c00"/>
<path d="M378 931.5 L361.7 930.3 L379.2 935.4 L395.4 936Z" fill="#608c00"/>
<path d="M344.1 927.7 L327.9 925.8 L345.6 929.1 L361.7 930.3Z" fill="#719603"/>
<path d="M564.7 964.5 L547.1 966.9 L563.1 980.2 L580.7 977.2Z" fill="#248c00"/>
<path d="M530.8 956 L513.4 957.7 L529.8 969.2 L547.1 966.9Z" fill="#358c00"/>
<path d="M496.8 948.5 L479.7 949.5 L496.3 959.3 L513.4 957.7Z" fill="#458c00"/>
<path d="M462.8 942.1 L445.8 942.5 L462.8 950.5 L479.7 949.5Z" fill="#528c00"/>
<path d="M428.7 936.8 L411.9 936.5 L429.1 942.7 L445.8 942.5Z" fill="#5d8c00"/>
<path d="M394.5 932.7 L378 931.5 L395.4 936 L411.9 936.5Z" fill="#678c00"/>
<path d="M616.5 970.9 L598.5 974.1 L614.2 988.6 L632.2 984.8Z" fill="#208c00"/>
<path d="M360.4 929.6 L344.1 927.7 L361.7 930.3 L378 931.5Z" fill="#7b9b04"/>
<path d="M326.2 927.6 L310.1 925 L327.9 925.8 L344.1 927.7Z" fill="#95b20b"/>
<path d="M582.5 961.9 L564.7 964.5 L580.7 977.2 L598.5 974.1Z" fill="#328c00"/>
<path d="M548.4 954.1 L530.8 956 L547.1 966.9 L564.7 964.5Z" fill="#428c00"/>
<path d="M514.2 947.3 L496.8 948.5 L513.4 957.7 L530.8 956Z" fill="#508c00"/>
<path d="M479.9 941.7 L462.8 942.1 L479.7 949.5 L496.8 948.5Z" fill="#5c8c00"/>
<path d="M445.6 937.1 L428.7 936.8 L445.8 942.5 L462.8 942.1Z" fill="#668c00"/>
<path d="M411.3 933.7 L394.5 932.7 L411.9 936.5 L428.7 936.8Z" fill="#6e8c00"/>
<path d="M376.9 931.4 L360.4 929.6 L378 931.5 L394.5 932.7Z" fill="#85a005"/>
<path d="M342.5 930.2 L326.2 927.6 L344.1 927.7 L360.4 929.6Z" fill="#9fb70c"/>
<path d="M308.2 930.1 L292 926.8 L310.1 925 L326.2 927.6Z" fill="#b7ce14"/>
<path d="M634.8 967.5 L616.5 970.9 L632.2 984.8 L650.4 980.9Z" fill="#2f8c00"/>
<path d="M600.6 959.2 L582.5 961.9 L598.5 974.1 L616.5 970.9Z" fill="#408c00"/>
<path d="M566.2 952.1 L548.4 954.1 L564.7 964.5 L582.5 961.9Z" fill="#4e8c00"/>
<path d="M531.8 946.1 L514.2 947.3 L530.8 956 L548.4 954.1Z" fill="#5b8c00"/>
<path d="M497.3 941.1 L479.9 941.7 L496.8 948.5 L514.2 947.3Z" fill="#668c00"/>
<path d="M462.8 937.3 L445.6 937.1 L462.8 942.1 L479.9 941.7Z" fill="#6e8c00"/>
<path d="M428.2 934.6 L411.3 933.7 L428.7 936.8 L445.6 937.1Z" fill="#768d00"/>
<path d="M393.6 933.1 L376.9 931.4 L394.5 932.7 L411.3 933.7Z" fill="#90a507"/>
<path d="M359 932.6 L342.5 930.2 L360.4 929.6 L376.9 931.4Z" fill="#a9bc0d"/>
<path d="M290 935.1 L273.8 931.1 L292 926.8 L308.2 930.1Z" fill="#d4e823"/>
<path d="M324.5 933.3 L308.2 930.1 L326.2 927.6 L342.5 930.2Z" fill="#c0d316"/>
<path d="M653.4 963.9 L634.8 967.5 L650.4 980.9 L669 976.8Z" fill="#3f8c00"/>
<path d="M618.9 956.4 L600.6 959.2 L616.5 970.9 L634.8 967.5Z" fill="#4e8c00"/>
<path d="M584.3 950 L566.2 952.1 L582.5 961.9 L600.6 959.2Z" fill="#5b8c00"/>
<path d="M549.6 944.7 L531.8 946.1 L548.4 954.1 L566.2 952.1Z" fill="#668c00"/>
<path d="M514.9 940.5 L497.3 941.1 L514.2 947.3 L531.8 946.1Z" fill="#708c00"/>
<path d="M480.2 937.4 L462.8 937.3 L479.9 941.7 L497.3 941.1Z" fill="#778c00"/>
<path d="M271.6 942.8 L255.5 938 L273.8 931.1 L290 935.1Z" fill="#def538"/>
<path d="M445.4 935.5 L428.2 934.6 L445.6 937.1 L462.8 937.3Z" fill="#829202"/>
<path d="M306.3 939.1 L290 935.1 L308.2 930.1 L324.5 933.3Z" fill="#dbed26"/>
<path d="M410.6 934.7 L393.6 933.1 L411.3 933.7 L428.2 934.6Z" fill="#9caa08"/>
<path d="M341 936.5 L324.5 933.3 L342.5 930.2 L359 932.6Z" fill="#c9d819"/>
<path d="M375.8 935 L359 932.6 L376.9 931.4 L393.6 933.1Z" fill="#b4c10f"/>
<path d="M672.2 960.2 L653.4 963.9 L669 976.8 L687.8 972.5Z" fill="#4e8c00"/>
<path d="M637.5 953.4 L618.9 956.4 L634.8 967.5 L653.4 963.9Z" fill="#5c8c00"/>
<path d="M602.6 947.7 L584.3 950 L600.6 959.2 L618.9 956.4Z" fill="#688c00"/>
<path d="M567.7 943.2 L549.6 944.7 L566.2 952.1 L584.3 950Z" fill="#728c00"/>
<path d="M253.1 953.1 L237 947.6 L255.5 938 L271.6 942.8Z" fill="#dbf64e"/>
<path d="M532.8 939.7 L514.9 940.5 L531.8 946.1 L549.6 944.7Z" fill="#7a8c00"/>
<path d="M287.9 947.5 L271.6 942.8 L290 935.1 L306.3 939.1Z" fill="#e0f53c"/>
<path d="M497.8 937.4 L480.2 937.4 L497.3 941.1 L514.9 940.5Z" fill="#808c00"/>
<path d="M322.8 943 L306.3 939.1 L324.5 933.3 L341 936.5Z" fill="#e2f128"/>
<path d="M462.8 936.3 L445.4 935.5 L462.8 937.3 L480.2 937.4Z" fill="#8f9703"/>
<path d="M357.7 939.6 L341 936.5 L359 932.6 L375.8 935Z" fill="#d3dc1c"/>
<path d="M427.7 936.2 L410.6 934.7 L428.2 934.6 L445.4 935.5Z" fill="#a8af0a"/>
<path d="M392.7 937.4 L375.8 935 L393.6 933.1 L410.6 934.7Z" fill="#bfc610"/>
<path d="M691.4 956.3 L672.2 960.2 L687.8 972.5 L706.9 968.1Z" fill="#5e8c00"/>
<path d="M656.3 950.3 L637.5 953.4 L653.4 963.9 L672.2 960.2Z" fill="#6a8c00"/>
<path d="M234.5 966.2 L218.4 959.9 L237 947.6 L253.1 953.1Z" fill="#d3f762"/>
<path d="M621.2 945.3 L602.6 947.7 L618.9 956.4 L637.5 953.4Z" fill="#758c00"/>
<path d="M269.4 958.6 L253.1 953.1 L271.6 942.8 L287.9 947.5Z" fill="#dbf652"/>
<path d="M586.1 941.5 L567.7 943.2 L584.3 950 L602.6 947.7Z" fill="#7d8c00"/>
<path d="M304.4 952.2 L287.9 947.5 L306.3 939.1 L322.8 943Z" fill="#e2f53f"/>
<path d="M550.9 938.8 L532.8 939.7 L549.6 944.7 L567.7 943.2Z" fill="#848c00"/>
<path d="M339.5 946.8 L322.8 943 L341 936.5 L357.7 939.6Z" fill="#e9f42c"/>
<path d="M515.6 937.3 L497.8 937.4 L514.9 940.5 L532.8 939.7Z" fill="#898c00"/>
<path d="M374.7 942.7 L357.7 939.6 L375.8 935 L392.7 937.4Z" fill="#dce11e"/>
<path d="M480.4 936.9 L462.8 936.3 L480.2 937.4 L497.8 937.4Z" fill="#9c9c04"/>
<path d="M409.9 939.6 L392.7 937.4 L410.6 934.7 L427.7 936.2Z" fill="#caca12"/>
<path d="M445.1 937.7 L427.7 936.2 L445.4 935.5 L462.8 936.3Z" fill="#b4b30b"/>
<path d="M215.7 982 L199.6 974.9 L218.4 959.9 L234.5 966.2Z" fill="#caf874"/>
<path d="M250.8 972.5 L234.5 966.2 L253.1 953.1 L269.4 958.6Z" fill="#d3f765"/>
<path d="M710.8 952.3 L691.4 956.3 L706.9 968.1 L726.3 963.5Z" fill="#6d8c00"/>
<path d="M285.9 964.1 L269.4 958.6 L287.9 947.5 L304.4 952.2Z" fill="#dcf655"/>
<path d="M675.5 947 L656.3 950.3 L672.2 960.2 L691.4 956.3Z" fill="#798c00"/>
<path d="M321.1 956.8 L304.4 952.2 L322.8 943 L339.5 946.8Z" fill="#e5f643"/>
<path d="M640.1 942.8 L621.2 945.3 L637.5 953.4 L656.3 950.3Z" fill="#828c00"/>
<path d="M356.5 950.6 L339.5 946.8 L357.7 939.6 L374.7 942.7Z" fill="#edf530"/>
<path d="M604.7 939.7 L586.1 941.5 L602.6 947.7 L621.2 945.3Z" fill="#898c00"/>
<path d="M391.8 945.6 L374.7 942.7 L392.7 937.4 L409.9 939.6Z" fill="#e5e421"/>
<path d="M569.2 937.9 L550.9 938.8 L567.7 943.2 L586.1 941.5Z" fill="#8c8a00"/>
<path d="M427.3 941.8 L409.9 939.6 L427.7 936.2 L445.1 937.7Z" fill="#cfc915"/>
<path d="M533.8 937.1 L515.6 937.3 L532.8 939.7 L550.9 938.8Z" fill="#8c8600"/>
<path d="M462.8 939.1 L445.1 937.7 L462.8 936.3 L480.4 936.9Z" fill="#b9b00c"/>
<path d="M498.3 937.5 L480.4 936.9 L497.8 937.4 L515.6 937.3Z" fill="#a19906"/>
<path d="M196.9 1000.5 L180.9 992.6 L199.6 974.9 L215.7 982Z" fill="#bcf87c"/>
<path d="M232 989.1 L215.7 982 L234.5 966.2 L250.8 972.5Z" fill="#c9f876"/>
<path d="M267.2 978.7 L250.8 972.5 L269.4 958.6 L285.9 964.1Z" fill="#d2f768"/>
<path d="M302.6 969.5 L285.9 964.1 L304.4 952.2 L321.1 956.8Z" fill="#ddf758"/>
<path d="M730.5 948.1 L710.8 952.3 L726.3 963.5 L745.9 958.8Z" fill="#7d8c00"/>
<path d="M178 1021.9 L162 1013.1 L180.9 992.6 L196.9 1000.5Z" fill="#aaf980"/>
<path d="M338.1 961.4 L321.1 956.8 L339.5 946.8 L356.5 950.6Z" fill="#e7f647"/>
<path d="M694.9 943.5 L675.5 947 L691.4 956.3 L710.8 952.3Z" fill="#878c00"/>
<path d="M373.6 954.4 L356.5 950.6 L374.7 942.7 L391.8 945.6Z" fill="#f1f534"/>
<path d="M659.3 940.1 L640.1 942.8 L656.3 950.3 L675.5 947Z" fill="#8c8900"/>
<path d="M409.2 948.6 L391.8 945.6 L409.9 939.6 L427.3 941.8Z" fill="#e9e324"/>
<path d="M213.2 1008.5 L196.9 1000.5 L215.7 982 L232 989.1Z" fill="#b9f87c"/>
<path d="M623.6 937.9 L604.7 939.7 L621.2 945.3 L640.1 942.8Z" fill="#8c8300"/>
<path d="M444.9 943.9 L427.3 941.8 L445.1 937.7 L462.8 939.1Z" fill="#d4c617"/>
<path d="M587.9 936.7 L569.2 937.9 L586.1 941.5 L604.7 939.7Z" fill="#8c7f00"/>
<path d="M480.6 940.4 L462.8 939.1 L480.4 936.9 L498.3 937.5Z" fill="#beac0e"/>
<path d="M552.1 936.8 L533.8 937.1 L550.9 938.8 L569.2 937.9Z" fill="#8f7f01"/>
<path d="M516.4 938 L498.3 937.5 L515.6 937.3 L533.8 937.1Z" fill="#a69507"/>
<path d="M248.5 996.1 L232 989.1 L250.8 972.5 L267.2 978.7Z" fill="#c7f878"/>
<path d="M159.1 1046 L143.1 1036.4 L162 1013.1 L178 1021.9Z" fill="#94f983"/>
<path d="M283.9 984.9 L267.2 978.7 L285.9 964.1 L302.6 969.5Z" fill="#d2f86b"/>
<path d="M319.5 974.8 L302.6 969.5 L321.1 956.8 L338.1 961.4Z" fill="#def75b"/>
<path d="M194.3 1030.6 L178 1021.9 L196.9 1000.5 L213.2 1008.5Z" fill="#a6f981"/>
<path d="M355.2 965.9 L338.1 961.4 L356.5 950.6 L373.6 954.4Z" fill="#e9f64a"/>
<path d="M391 958.1 L373.6 954.4 L391.8 945.6 L409.2 948.6Z" fill="#f5f538"/>
<path d="M750.5 943.8 L730.5 948.1 L745.9 958.8 L765.9 953.9Z" fill="#8c8b00"/>
<path d="M229.6 1016.4 L213.2 1008.5 L232 989.1 L248.5 996.1Z" fill="#b6f87d"/>
<path d="M140.2 1072.9 L124.1 1062.4 L143.1 1036.4 L159.1 1046Z" fill="#84f98e"/>
<path d="M426.8 951.4 L409.2 948.6 L427.3 941.8 L444.9 943.9Z" fill="#ede126"/>
<path d="M714.6 940 L694.9 943.5 L710.8 952.3 L730.5 948.1Z" fill="#8c8300"/>
<path d="M462.8 945.9 L444.9 943.9 L462.8 939.1 L480.6 940.4Z" fill="#d9c31a"/>
<path d="M678.7 937.3 L659.3 940.1 L675.5 947 L694.9 943.5Z" fill="#8c7c00"/>
<path d="M498.7 941.6 L480.6 940.4 L498.3 937.5 L516.4 938Z" fill="#c2a80f"/>
<path d="M642.8 935.8 L623.6 937.9 L640.1 942.8 L659.3 940.1Z" fill="#8c7700"/>
<path d="M265.2 1003.2 L248.5 996.1 L267.2 978.7 L283.9 984.9Z" fill="#c6f879"/>
<path d="M534.7 938.4 L516.4 938 L533.8 937.1 L552.1 936.8Z" fill="#ab9009"/>
<path d="M606.8 935.5 L587.9 936.7 L604.7 939.7 L623.6 937.9Z" fill="#8c7400"/>
<path d="M570.8 936.4 L552.1 936.8 L569.2 937.9 L587.9 936.7Z" fill="#947a02"/>
<path d="M175.3 1055.6 L159.1 1046 L178 1021.9 L194.3 1030.6Z" fill="#8ff983"/>
<path d="M300.8 991.1 L283.9 984.9 L302.6 969.5 L319.5 974.8Z" fill="#d2f86d"/>
<path d="M121.2 1102.6 L105.2 1091.2 L124.1 1062.4 L140.2 1072.9Z" fill="#85f9ae"/>
<path d="M210.7 1039.4 L194.3 1030.6 L213.2 1008.5 L229.6 1016.4Z" fill="#a2f981"/>
<path d="M336.6 980.2 L319.5 974.8 L338.1 961.4 L355.2 965.9Z" fill="#dff75e"/>
<path d="M372.5 970.4 L355.2 965.9 L373.6 954.4 L391 958.1Z" fill="#ecf64e"/>
<path d="M156.3 1083.4 L140.2 1072.9 L159.1 1046 L175.3 1055.6Z" fill="#84f994"/>
<path d="M246.3 1024.2 L229.6 1016.4 L248.5 996.1 L265.2 1003.2Z" fill="#b4f97e"/>
<path d="M408.6 961.7 L391 958.1 L409.2 948.6 L426.8 951.4Z" fill="#f5f13c"/>
<path d="M444.7 954.2 L426.8 951.4 L444.9 943.9 L462.8 945.9Z" fill="#f1de28"/>
<path d="M770.8 939.2 L750.5 943.8 L765.9 953.9 L786.2 948.7Z" fill="#8c7b00"/>
<path d="M282 1010.2 L265.2 1003.2 L283.9 984.9 L300.8 991.1Z" fill="#c4f879"/>
<path d="M480.9 947.9 L462.8 945.9 L480.6 940.4 L498.7 941.6Z" fill="#ddc01c"/>
<path d="M191.7 1065.2 L175.3 1055.6 L194.3 1030.6 L210.7 1039.4Z" fill="#8af983"/>
<path d="M734.6 936.2 L714.6 940 L730.5 948.1 L750.5 943.8Z" fill="#8c7400"/>
<path d="M517.1 942.7 L498.7 941.6 L516.4 938 L534.7 938.4Z" fill="#c7a311"/>
<path d="M698.4 934.3 L678.7 937.3 L694.9 943.5 L714.6 940Z" fill="#8c6e00"/>
<path d="M553.4 938.7 L534.7 938.4 L552.1 936.8 L570.8 936.4Z" fill="#b08a0a"/>
<path d="M662.2 933.7 L642.8 935.8 L659.3 940.1 L678.7 937.3Z" fill="#8c6b00"/>
<path d="M589.6 935.8 L570.8 936.4 L587.9 936.7 L606.8 935.5Z" fill="#997403"/>
<path d="M625.9 934.2 L606.8 935.5 L623.6 937.9 L642.8 935.8Z" fill="#8c6900"/>
<path d="M137.3 1114 L121.2 1102.6 L140.2 1072.9 L156.3 1083.4Z" fill="#85f9b4"/>
<path d="M317.9 997.3 L300.8 991.1 L319.5 974.8 L336.6 980.2Z" fill="#d2f86f"/>
<path d="M227.3 1048.1 L210.7 1039.4 L229.6 1016.4 L246.3 1024.2Z" fill="#9ff981"/>
<path d="M354 985.5 L336.6 980.2 L355.2 965.9 L372.5 970.4Z" fill="#e0f761"/>
<path d="M172.7 1093.9 L156.3 1083.4 L175.3 1055.6 L191.7 1065.2Z" fill="#84f99a"/>
<path d="M390.1 974.8 L372.5 970.4 L391 958.1 L408.6 961.7Z" fill="#eff651"/>
<path d="M263.1 1032.1 L246.3 1024.2 L265.2 1003.2 L282 1010.2Z" fill="#b1f97e"/>
<path d="M426.4 965.3 L408.6 961.7 L426.8 951.4 L444.7 954.2Z" fill="#f5ed3f"/>
<path d="M462.8 956.9 L444.7 954.2 L462.8 945.9 L480.9 947.9Z" fill="#f4db2c"/>
<path d="M208.3 1074.9 L191.7 1065.2 L210.7 1039.4 L227.3 1048.1Z" fill="#85f983"/>
<path d="M299.1 1017.2 L282 1010.2 L300.8 991.1 L317.9 997.3Z" fill="#c3f87a"/>
<path d="M153.7 1125.4 L137.3 1114 L156.3 1083.4 L172.7 1093.9Z" fill="#85f9bb"/>
<path d="M499.2 949.7 L480.9 947.9 L498.7 941.6 L517.1 942.7Z" fill="#e2bb1f"/>
<path d="M791.4 934.5 L770.8 939.2 L786.2 948.7 L806.8 943.5Z" fill="#8c6a00"/>
<path d="M535.7 943.7 L517.1 942.7 L534.7 938.4 L553.4 938.7Z" fill="#cc9d13"/>
<path d="M335.2 1003.4 L317.9 997.3 L336.6 980.2 L354 985.5Z" fill="#d2f871"/>
<path d="M755 932.3 L734.6 936.2 L750.5 943.8 L770.8 939.2Z" fill="#8c6400"/>
<path d="M572.2 938.9 L553.4 938.7 L570.8 936.4 L589.6 935.8Z" fill="#b5840b"/>
<path d="M718.5 931.2 L698.4 934.3 L714.6 940 L734.6 936.2Z" fill="#8c6000"/>
<path d="M608.8 935.2 L589.6 935.8 L606.8 935.5 L625.9 934.2Z" fill="#9e6e05"/>
<path d="M244.1 1056.9 L227.3 1048.1 L246.3 1024.2 L263.1 1032.1Z" fill="#9bf982"/>
<path d="M681.9 931.4 L662.2 933.7 L678.7 937.3 L698.4 934.3Z" fill="#8c5e00"/>
<path d="M645.4 932.7 L625.9 934.2 L642.8 935.8 L662.2 933.7Z" fill="#8c5e00"/>
<path d="M371.5 990.7 L354 985.5 L372.5 970.4 L390.1 974.8Z" fill="#e1f763"/>
<path d="M189.3 1104.4 L172.7 1093.9 L191.7 1065.2 L208.3 1074.9Z" fill="#84f9a0"/>
<path d="M280.2 1040 L263.1 1032.1 L282 1010.2 L299.1 1017.2Z" fill="#aff97e"/>
<path d="M407.9 979.2 L390.1 974.8 L408.6 961.7 L426.4 965.3Z" fill="#f1f654"/>
<path d="M444.5 968.8 L426.4 965.3 L444.7 954.2 L462.8 956.9Z" fill="#f6e843"/>
<path d="M225.1 1084.5 L208.3 1074.9 L227.3 1048.1 L244.1 1056.9Z" fill="#83f985"/>
<path d="M316.4 1024.2 L299.1 1017.2 L317.9 997.3 L335.2 1003.4Z" fill="#c2f87b"/>
<path d="M170.2 1136.8 L153.7 1125.4 L172.7 1093.9 L189.3 1104.4Z" fill="#85f9c2"/>
<path d="M481.1 959.6 L462.8 956.9 L480.9 947.9 L499.2 949.7Z" fill="#f5d430"/>
<path d="M517.8 951.5 L499.2 949.7 L517.1 942.7 L535.7 943.7Z" fill="#e6b721"/>
<path d="M352.8 1009.5 L335.2 1003.4 L354 985.5 L371.5 990.7Z" fill="#d3f873"/>
<path d="M261.2 1065.6 L244.1 1056.9 L263.1 1032.1 L280.2 1040Z" fill="#98f982"/>
<path d="M554.6 944.6 L535.7 943.7 L553.4 938.7 L572.2 938.9Z" fill="#d09815"/>
<path d="M591.4 938.9 L572.2 938.9 L589.6 935.8 L608.8 935.2Z" fill="#ba7d0d"/>
<path d="M812.3 929.7 L791.4 934.5 L806.8 943.5 L827.7 938Z" fill="#8c5a00"/>
<path d="M206 1115 L189.3 1104.4 L208.3 1074.9 L225.1 1084.5Z" fill="#84f9a5"/>
<path d="M628.2 934.4 L608.8 935.2 L625.9 934.2 L645.4 932.7Z" fill="#a36606"/>
<path d="M775.6 928.2 L755 932.3 L770.8 939.2 L791.4 934.5Z" fill="#8c5500"/>
<path d="M665.1 931.1 L645.4 932.7 L662.2 933.7 L681.9 931.4Z" fill="#8c5300"/>
<path d="M738.8 928 L718.5 931.2 L734.6 936.2 L755 932.3Z" fill="#8c5200"/>
<path d="M389.3 996 L371.5 990.7 L390.1 974.8 L407.9 979.2Z" fill="#e3f766"/>
<path d="M702 928.9 L681.9 931.4 L698.4 934.3 L718.5 931.2Z" fill="#8c5200"/>
<path d="M297.4 1047.9 L280.2 1040 L299.1 1017.2 L316.4 1024.2Z" fill="#adf97f"/>
<path d="M426 983.6 L407.9 979.2 L426.4 965.3 L444.5 968.8Z" fill="#f4f757"/>
<path d="M242.1 1094.1 L225.1 1084.5 L244.1 1056.9 L261.2 1065.6Z" fill="#83f98a"/>
<path d="M186.9 1148.3 L170.2 1136.8 L189.3 1104.4 L206 1115Z" fill="#85f9c8"/>
<path d="M462.8 972.3 L444.5 968.8 L462.8 956.9 L481.1 959.6Z" fill="#f6e446"/>
<path d="M333.9 1031.2 L316.4 1024.2 L335.2 1003.4 L352.8 1009.5Z" fill="#c1f87b"/>
<path d="M499.7 962.2 L481.1 959.6 L499.2 949.7 L517.8 951.5Z" fill="#f5ce34"/>
<path d="M278.4 1074.4 L261.2 1065.6 L280.2 1040 L297.4 1047.9Z" fill="#95f982"/>
<path d="M370.5 1015.6 L352.8 1009.5 L371.5 990.7 L389.3 996Z" fill="#d3f875"/>
<path d="M536.6 953.2 L517.8 951.5 L535.7 943.7 L554.6 944.6Z" fill="#eab124"/>
<path d="M223 1125.5 L206 1115 L225.1 1084.5 L242.1 1094.1Z" fill="#84f9aa"/>
<path d="M573.7 945.5 L554.6 944.6 L572.2 938.9 L591.4 938.9Z" fill="#d59118"/>
<path d="M610.8 938.9 L591.4 938.9 L608.8 935.2 L628.2 934.4Z" fill="#bf750e"/>
<path d="M407.3 1001.2 L389.3 996 L407.9 979.2 L426 983.6Z" fill="#e5f768"/>
<path d="M648 933.5 L628.2 934.4 L645.4 932.7 L665.1 931.1Z" fill="#a85e08"/>
<path d="M314.9 1055.7 L297.4 1047.9 L316.4 1024.2 L333.9 1031.2Z" fill="#abf97f"/>
<path d="M685.1 929.3 L665.1 931.1 L681.9 931.4 L702 928.9Z" fill="#904a01"/>
<path d="M796.5 924 L775.6 928.2 L791.4 934.5 L812.3 929.7Z" fill="#8c4600"/>
<path d="M722.3 926.3 L702 928.9 L718.5 931.2 L738.8 928Z" fill="#8c4500"/>
<path d="M759.4 924.5 L738.8 928 L755 932.3 L775.6 928.2Z" fill="#8c4400"/>
<path d="M444.2 987.8 L426 983.6 L444.5 968.8 L462.8 972.3Z" fill="#f7f659"/>
<path d="M259.3 1103.8 L242.1 1094.1 L261.2 1065.6 L278.4 1074.4Z" fill="#83f98e"/>
<path d="M203.8 1159.7 L186.9 1148.3 L206 1115 L223 1125.5Z" fill="#85f9ce"/>
<path d="M351.6 1038.1 L333.9 1031.2 L352.8 1009.5 L370.5 1015.6Z" fill="#c0f87c"/>
<path d="M481.3 975.7 L462.8 972.3 L481.1 959.6 L499.7 962.2Z" fill="#f6e049"/>
<path d="M518.5 964.7 L499.7 962.2 L517.8 951.5 L536.6 953.2Z" fill="#f5c837"/>
<path d="M295.8 1083.2 L278.4 1074.4 L297.4 1047.9 L314.9 1055.7Z" fill="#92f982"/>
<path d="M388.5 1021.7 L370.5 1015.6 L389.3 996 L407.3 1001.2Z" fill="#d4f877"/>
<path d="M240.1 1136.1 L223 1125.5 L242.1 1094.1 L259.3 1103.8Z" fill="#84f9b0"/>
<path d="M555.8 954.9 L536.6 953.2 L554.6 944.6 L573.7 945.5Z" fill="#eeac26"/>
<path d="M593.1 946.2 L573.7 945.5 L591.4 938.9 L610.8 938.9Z" fill="#da8b1a"/>
<path d="M425.5 1006.3 L407.3 1001.2 L426 983.6 L444.2 987.8Z" fill="#e6f86a"/>
<path d="M332.6 1063.6 L314.9 1055.7 L333.9 1031.2 L351.6 1038.1Z" fill="#a9f980"/>
<path d="M630.5 938.8 L610.8 938.9 L628.2 934.4 L648 933.5Z" fill="#c36d10"/>
<path d="M220.9 1171.3 L203.8 1159.7 L223 1125.5 L240.1 1136.1Z" fill="#85f9d4"/>
<path d="M668 932.5 L648 933.5 L665.1 931.1 L685.1 929.3Z" fill="#ad5509"/>
<path d="M276.6 1113.5 L259.3 1103.8 L278.4 1074.4 L295.8 1083.2Z" fill="#83f992"/>
<path d="M705.5 927.4 L685.1 929.3 L702 928.9 L722.3 926.3Z" fill="#964103"/>
<path d="M462.8 992.1 L444.2 987.8 L462.8 972.3 L481.3 975.7Z" fill="#f7f35c"/>
<path d="M742.9 923.6 L722.3 926.3 L738.8 928 L759.4 924.5Z" fill="#8c3800"/>
<path d="M780.4 921 L759.4 924.5 L775.6 928.2 L796.5 924Z" fill="#8c3600"/>
<path d="M369.5 1045.1 L351.6 1038.1 L370.5 1015.6 L388.5 1021.7Z" fill="#bff87c"/>
<path d="M500.1 979 L481.3 975.7 L499.7 962.2 L518.5 964.7Z" fill="#f6dc4c"/>
<path d="M313.4 1091.9 L295.8 1083.2 L314.9 1055.7 L332.6 1063.6Z" fill="#8ff982"/>
<path d="M257.4 1146.7 L240.1 1136.1 L259.3 1103.8 L276.6 1113.5Z" fill="#84f9b5"/>
<path d="M537.6 967.1 L518.5 964.7 L536.6 953.2 L555.8 954.9Z" fill="#f5c23b"/>
<path d="M406.7 1027.7 L388.5 1021.7 L407.3 1001.2 L425.5 1006.3Z" fill="#d4f878"/>
<path d="M575.2 956.4 L555.8 954.9 L573.7 945.5 L593.1 946.2Z" fill="#f1a528"/>
<path d="M350.5 1071.4 L332.6 1063.6 L351.6 1038.1 L369.5 1045.1Z" fill="#a7f980"/>
<path d="M444 1011.4 L425.5 1006.3 L444.2 987.8 L462.8 992.1Z" fill="#e8f86c"/>
<path d="M612.8 946.9 L593.1 946.2 L610.8 938.9 L630.5 938.8Z" fill="#de831d"/>
<path d="M238.2 1182.8 L220.9 1171.3 L240.1 1136.1 L257.4 1146.7Z" fill="#85f9da"/>
<path d="M294.2 1123.2 L276.6 1113.5 L295.8 1083.2 L313.4 1091.9Z" fill="#83f996"/>
<path d="M650.5 938.5 L630.5 938.8 L648 933.5 L668 932.5Z" fill="#c86411"/>
<path d="M481.5 996.3 L462.8 992.1 L481.3 975.7 L500.1 979Z" fill="#f7f05f"/>
<path d="M688.3 931.4 L668 932.5 L685.1 929.3 L705.5 927.4Z" fill="#b24c0a"/>
<path d="M387.7 1052 L369.5 1045.1 L388.5 1021.7 L406.7 1027.7Z" fill="#bef87d"/>
<path d="M726.1 925.4 L705.5 927.4 L722.3 926.3 L742.9 923.6Z" fill="#9a3704"/>
<path d="M763.9 920.7 L742.9 923.6 L759.4 924.5 L780.4 921Z" fill="#8c2b00"/>
<path d="M519.2 982.3 L500.1 979 L518.5 964.7 L537.6 967.1Z" fill="#f6d74f"/>
<path d="M331.3 1100.7 L313.4 1091.9 L332.6 1063.6 L350.5 1071.4Z" fill="#8cf982"/>
<path d="M275 1157.3 L257.4 1146.7 L276.6 1113.5 L294.2 1123.2Z" fill="#84f9b9"/>
<path d="M425.1 1033.7 L406.7 1027.7 L425.5 1006.3 L444 1011.4Z" fill="#d5f879"/>
<path d="M556.9 969.5 L537.6 967.1 L555.8 954.9 L575.2 956.4Z" fill="#f5bc3e"/>
<path d="M368.6 1079.2 L350.5 1071.4 L369.5 1045.1 L387.7 1052Z" fill="#a6f980"/>
<path d="M594.8 957.8 L575.2 956.4 L593.1 946.2 L612.8 946.9Z" fill="#f49f2c"/>
<path d="M255.7 1194.4 L238.2 1182.8 L257.4 1146.7 L275 1157.3Z" fill="#85f9e0"/>
<path d="M462.8 1016.5 L444 1011.4 L462.8 992.1 L481.5 996.3Z" fill="#eaf86e"/>
<path d="M312 1132.9 L294.2 1123.2 L313.4 1091.9 L331.3 1100.7Z" fill="#83f99a"/>
<path d="M632.8 947.4 L612.8 946.9 L630.5 938.8 L650.5 938.5Z" fill="#e27b1f"/>
<path d="M670.8 938.1 L650.5 938.5 L668 932.5 L688.3 931.4Z" fill="#cd5b13"/>
<path d="M500.6 1000.4 L481.5 996.3 L500.1 979 L519.2 982.3Z" fill="#f7ed61"/>
<path d="M406.1 1058.9 L387.7 1052 L406.7 1027.7 L425.1 1033.7Z" fill="#bef87d"/>
<path d="M708.9 930.1 L688.3 931.4 L705.5 927.4 L726.1 925.4Z" fill="#b6410c"/>
<path d="M292.7 1168 L275 1157.3 L294.2 1123.2 L312 1132.9Z" fill="#84f9be"/>
<path d="M349.4 1109.4 L331.3 1100.7 L350.5 1071.4 L368.6 1079.2Z" fill="#89f982"/>
<path d="M747 923.3 L726.1 925.4 L742.9 923.6 L763.9 920.7Z" fill="#9f2c05"/>
<path d="M538.5 985.5 L519.2 982.3 L537.6 967.1 L556.9 969.5Z" fill="#f6d352"/>
<path d="M443.8 1039.6 L425.1 1033.7 L444 1011.4 L462.8 1016.5Z" fill="#d6f879"/>
<path d="M576.6 971.8 L556.9 969.5 L575.2 956.4 L594.8 957.8Z" fill="#f6b641"/>
<path d="M273.4 1206 L255.7 1194.4 L275 1157.3 L292.7 1168Z" fill="#85f9e6"/>
<path d="M386.9 1087.1 L368.6 1079.2 L387.7 1052 L406.1 1058.9Z" fill="#a4f980"/>
<path d="M330.1 1142.6 L312 1132.9 L331.3 1100.7 L349.4 1109.4Z" fill="#83f99e"/>
<path d="M481.7 1021.5 L462.8 1016.5 L481.5 996.3 L500.6 1000.4Z" fill="#ecf870"/>
<path d="M614.8 959.2 L594.8 957.8 L612.8 946.9 L632.8 947.4Z" fill="#f5972f"/>
<path d="M653.1 947.8 L632.8 947.4 L650.5 938.5 L670.8 938.1Z" fill="#e67321"/>
<path d="M424.7 1065.8 L406.1 1058.9 L425.1 1033.7 L443.8 1039.6Z" fill="#bef97d"/>
<path d="M519.8 1004.5 L500.6 1000.4 L519.2 982.3 L538.5 985.5Z" fill="#f7ea63"/>
<path d="M310.7 1178.6 L292.7 1168 L312 1132.9 L330.1 1142.6Z" fill="#84f9c3"/>
<path d="M691.4 937.7 L670.8 938.1 L688.3 931.4 L708.9 930.1Z" fill="#d15115"/>
<path d="M367.7 1118.2 L349.4 1109.4 L368.6 1079.2 L386.9 1087.1Z" fill="#87f982"/>
<path d="M729.9 928.7 L708.9 930.1 L726.1 925.4 L747 923.3Z" fill="#bb360d"/>
<path d="M558.1 988.6 L538.5 985.5 L556.9 969.5 L576.6 971.8Z" fill="#f6ce55"/>
<path d="M462.8 1045.6 L443.8 1039.6 L462.8 1016.5 L481.7 1021.5Z" fill="#d6f87a"/>
<path d="M291.3 1217.6 L273.4 1206 L292.7 1168 L310.7 1178.6Z" fill="#85f9eb"/>
<path d="M405.5 1094.9 L386.9 1087.1 L406.1 1058.9 L424.7 1065.8Z" fill="#a3f981"/>
<path d="M596.5 974 L576.6 971.8 L594.8 957.8 L614.8 959.2Z" fill="#f6b044"/>
<path d="M348.3 1152.3 L330.1 1142.6 L349.4 1109.4 L367.7 1118.2Z" fill="#83f9a1"/>
<path d="M501 1026.5 L481.7 1021.5 L500.6 1000.4 L519.8 1004.5Z" fill="#eef872"/>
<path d="M635 960.5 L614.8 959.2 L632.8 947.4 L653.1 947.8Z" fill="#f58f33"/>
<path d="M443.6 1072.6 L424.7 1065.8 L443.8 1039.6 L462.8 1045.6Z" fill="#bdf97e"/>
<path d="M328.9 1189.3 L310.7 1178.6 L330.1 1142.6 L348.3 1152.3Z" fill="#84f9c7"/>
<path d="M673.6 948.2 L653.1 947.8 L670.8 938.1 L691.4 937.7Z" fill="#ea6a24"/>
<path d="M539.4 1008.5 L519.8 1004.5 L538.5 985.5 L558.1 988.6Z" fill="#f7e765"/>
<path d="M386.2 1127 L367.7 1118.2 L386.9 1087.1 L405.5 1094.9Z" fill="#85f983"/>
<path d="M712.3 937.1 L691.4 937.7 L708.9 930.1 L729.9 928.7Z" fill="#d64718"/>
<path d="M578 991.7 L558.1 988.6 L576.6 971.8 L596.5 974Z" fill="#f7ca57"/>
<path d="M309.4 1229.3 L291.3 1217.6 L310.7 1178.6 L328.9 1189.3Z" fill="#85f9f1"/>
<path d="M482 1051.5 L462.8 1045.6 L481.7 1021.5 L501 1026.5Z" fill="#d7f87a"/>
<path d="M366.8 1162 L348.3 1152.3 L367.7 1118.2 L386.2 1127Z" fill="#83f9a4"/>
<path d="M424.4 1102.7 L405.5 1094.9 L424.7 1065.8 L443.6 1072.6Z" fill="#a2f981"/>
<path d="M616.7 976.1 L596.5 974 L614.8 959.2 L635 960.5Z" fill="#f6aa47"/>
<path d="M520.5 1031.4 L501 1026.5 L519.8 1004.5 L539.4 1008.5Z" fill="#f1f873"/>
<path d="M655.6 961.6 L635 960.5 L653.1 947.8 L673.6 948.2Z" fill="#f58636"/>
<path d="M347.3 1200 L328.9 1189.3 L348.3 1152.3 L366.8 1162Z" fill="#84f9cc"/>
<path d="M462.8 1079.5 L443.6 1072.6 L462.8 1045.6 L482 1051.5Z" fill="#bdf97e"/>
<path d="M405 1135.7 L386.2 1127 L405.5 1094.9 L424.4 1102.7Z" fill="#83f983"/>
<path d="M559.2 1012.5 L539.4 1008.5 L558.1 988.6 L578 991.7Z" fill="#f7e467"/>
<path d="M694.5 948.4 L673.6 948.2 L691.4 937.7 L712.3 937.1Z" fill="#ed6026"/>
<path d="M327.8 1241 L309.4 1229.3 L328.9 1189.3 L347.3 1200Z" fill="#85f9f6"/>
<path d="M501.4 1057.3 L482 1051.5 L501 1026.5 L520.5 1031.4Z" fill="#d8f87b"/>
<path d="M598.1 994.7 L578 991.7 L596.5 974 L616.7 976.1Z" fill="#f7c55a"/>
<path d="M385.5 1171.8 L366.8 1162 L386.2 1127 L405 1135.7Z" fill="#83f9a8"/>
<path d="M443.4 1110.5 L424.4 1102.7 L443.6 1072.6 L462.8 1079.5Z" fill="#a1f981"/>
<path d="M637.2 978.1 L616.7 976.1 L635 960.5 L655.6 961.6Z" fill="#f6a34a"/>
<path d="M540.3 1036.3 L520.5 1031.4 L539.4 1008.5 L559.2 1012.5Z" fill="#f3f875"/>
<path d="M365.9 1210.8 L347.3 1200 L366.8 1162 L385.5 1171.8Z" fill="#84f9d0"/>
<path d="M482.2 1086.3 L462.8 1079.5 L482 1051.5 L501.4 1057.3Z" fill="#bdf97e"/>
<path d="M676.4 962.7 L655.6 961.6 L673.6 948.2 L694.5 948.4Z" fill="#f57e3a"/>
<path d="M424 1144.5 L405 1135.7 L424.4 1102.7 L443.4 1110.5Z" fill="#83f985"/>
<path d="M579.3 1016.4 L559.2 1012.5 L578 991.7 L598.1 994.7Z" fill="#f8e069"/>
<path d="M346.3 1252.7 L327.8 1241 L347.3 1200 L365.9 1210.8Z" fill="#84f7f9"/>
<path d="M521.1 1063.2 L501.4 1057.3 L520.5 1031.4 L540.3 1036.3Z" fill="#daf87b"/>
<path d="M404.4 1181.5 L385.5 1171.8 L405 1135.7 L424 1144.5Z" fill="#83f9ab"/>
<path d="M618.6 997.7 L598.1 994.7 L616.7 976.1 L637.2 978.1Z" fill="#f7c05c"/>
<path d="M462.8 1118.3 L443.4 1110.5 L462.8 1079.5 L482.2 1086.3Z" fill="#a0f981"/>
<path d="M658 980.1 L637.2 978.1 L655.6 961.6 L676.4 962.7Z" fill="#f69d4d"/>
<path d="M560.3 1041.2 L540.3 1036.3 L559.2 1012.5 L579.3 1016.4Z" fill="#f6f876"/>
<path d="M384.8 1221.5 L365.9 1210.8 L385.5 1171.8 L404.4 1181.5Z" fill="#84f9d4"/>
<path d="M501.8 1093.1 L482.2 1086.3 L501.4 1057.3 L521.1 1063.2Z" fill="#bef97e"/>
<path d="M443.2 1153.3 L424 1144.5 L443.4 1110.5 L462.8 1118.3Z" fill="#83f987"/>
<path d="M365.1 1264.5 L346.3 1252.7 L365.9 1210.8 L384.8 1221.5Z" fill="#84f2f9"/>
<path d="M599.7 1020.3 L579.3 1016.4 L598.1 994.7 L618.6 997.7Z" fill="#f8dd6b"/>
<path d="M423.6 1191.3 L404.4 1181.5 L424 1144.5 L443.2 1153.3Z" fill="#83f9ae"/>
<path d="M541.1 1069 L521.1 1063.2 L540.3 1036.3 L560.3 1041.2Z" fill="#dbf87b"/>
<path d="M482.4 1126 L462.8 1118.3 L482.2 1086.3 L501.8 1093.1Z" fill="#9ff981"/>
<path d="M639.3 1000.5 L618.6 997.7 L637.2 978.1 L658 980.1Z" fill="#f7bb5e"/>
<path d="M403.9 1232.3 L384.8 1221.5 L404.4 1181.5 L423.6 1191.3Z" fill="#84f9d8"/>
<path d="M580.7 1046 L560.3 1041.2 L579.3 1016.4 L599.7 1020.3Z" fill="#f8f877"/>
<path d="M462.8 1162 L443.2 1153.3 L462.8 1118.3 L482.4 1126Z" fill="#83f989"/>
<path d="M521.7 1099.9 L501.8 1093.1 L521.1 1063.2 L541.1 1069Z" fill="#bef97f"/>
<path d="M384.2 1276.3 L365.1 1264.5 L384.8 1221.5 L403.9 1232.3Z" fill="#84edf9"/>
<path d="M620.4 1024.1 L599.7 1020.3 L618.6 997.7 L639.3 1000.5Z" fill="#f8d96c"/>
<path d="M443.1 1201.1 L423.6 1191.3 L443.2 1153.3 L462.8 1162Z" fill="#83f9b0"/>
<path d="M561.4 1074.7 L541.1 1069 L560.3 1041.2 L580.7 1046Z" fill="#dcf87c"/>
<path d="M502.2 1133.8 L482.4 1126 L501.8 1093.1 L521.7 1099.9Z" fill="#9ef981"/>
<path d="M423.3 1243.1 L403.9 1232.3 L423.6 1191.3 L443.1 1201.1Z" fill="#84f9db"/>
<path d="M601.3 1050.7 L580.7 1046 L599.7 1020.3 L620.4 1024.1Z" fill="#f8f678"/>
<path d="M482.5 1170.8 L462.8 1162 L482.4 1126 L502.2 1133.8Z" fill="#83f98b"/>
<path d="M541.9 1106.6 L521.7 1099.9 L541.1 1069 L561.4 1074.7Z" fill="#bef97f"/>
<path d="M403.4 1288.2 L384.2 1276.3 L403.9 1232.3 L423.3 1243.1Z" fill="#84e8f9"/>
<path d="M462.8 1210.9 L443.1 1201.1 L462.8 1162 L482.5 1170.8Z" fill="#83f9b3"/>
<path d="M582 1080.5 L561.4 1074.7 L580.7 1046 L601.3 1050.7Z" fill="#def87c"/>
<path d="M522.3 1141.6 L502.2 1133.8 L521.7 1099.9 L541.9 1106.6Z" fill="#9ef981"/>
<path d="M442.9 1254 L423.3 1243.1 L443.1 1201.1 L462.8 1210.9Z" fill="#84f9df"/>
<path d="M502.6 1179.6 L482.5 1170.8 L502.2 1133.8 L522.3 1141.6Z" fill="#83f98c"/>
<path d="M423 1300.1 L403.4 1288.2 L423.3 1243.1 L442.9 1254Z" fill="#84e4f9"/>
<path d="M562.4 1113.4 L541.9 1106.6 L561.4 1074.7 L582 1080.5Z" fill="#bff97f"/>
<path d="M482.7 1220.7 L462.8 1210.9 L482.5 1170.8 L502.6 1179.6Z" fill="#83f9b6"/>
<path d="M542.7 1149.3 L522.3 1141.6 L541.9 1106.6 L562.4 1113.4Z" fill="#9df982"/>
<path d="M462.8 1264.9 L442.9 1254 L462.8 1210.9 L482.7 1220.7Z" fill="#84f9e2"/>
<path d="M442.7 1312 L423 1300.1 L442.9 1254 L462.8 1264.9Z" fill="#84dff9"/>
<path d="M522.9 1188.4 L502.6 1179.6 L522.3 1141.6 L542.7 1149.3Z" fill="#83f98e"/>
<path d="M502.9 1230.6 L482.7 1220.7 L502.6 1179.6 L522.9 1188.4Z" fill="#83f9b8"/>
<path d="M482.9 1275.8 L462.8 1264.9 L482.7 1220.7 L502.9 1230.6Z" fill="#84f9e6"/>
<path d="M462.8 1324 L442.7 1312 L462.8 1264.9 L482.9 1275.8Z" fill="#84dbf9"/>
</g>

<text x="97.2" y="1213.7" font-size="23.2" text-anchor="end">90</text>
<text x="93.8" y="1141.5" font-size="23.2" text-anchor="end">92</text>
<text x="90.3" y="1069.3" font-size="23.2" text-anchor="end">94</text>
<text x="86.8" y="997.1" font-size="23.2" text-anchor="end">96</text>
<text x="83.3" y="924.9" font-size="23.2" text-anchor="end">98</text>
<text x="79.8" y="852.7" font-size="23.2" text-anchor="end">100</text>
<text x="102.2" y="1360.8" font-size="23.2" text-anchor="end">1</text>
<text x="823.9" y="1360.8" font-size="23.2" text-anchor="start">1</text>
<text x="188.6" y="1402.3" font-size="23.2" text-anchor="end">0.5</text>
<text x="737.5" y="1402.3" font-size="23.2" text-anchor="start">0.5</text>
<text x="275" y="1443.9" font-size="23.2" text-anchor="end">0</text>
<text x="651" y="1443.9" font-size="23.2" text-anchor="start">0</text>
<text x="361.5" y="1485.4" font-size="23.2" text-anchor="end">-0.5</text>
<text x="564.6" y="1485.4" font-size="23.2" text-anchor="start">-0.5</text>
<text x="447.9" y="1526.9" font-size="23.2" text-anchor="end">-1</text>
<text x="478.2" y="1526.9" font-size="23.2" text-anchor="start">-1</text>
<text x="158.5" y="1489" font-size="24.5" text-anchor="middle" textLength="56.5" lengthAdjust="spacingAndGlyphs">Dose</text>
<text x="767.1" y="1489" font-size="24.5" text-anchor="middle" textLength="31.5" lengthAdjust="spacingAndGlyphs">pH</text>
<text transform="translate(22 1106.1) rotate(-90)" font-size="25.0" text-anchor="middle" textLength="172.3" lengthAdjust="spacingAndGlyphs">Removal MG %</text>
<text x="21.1" y="1515.5" font-size="32.0" text-anchor="start">c</text>
<path d="M1036.9 1197.7 L1366 1086 L1695.1 1197.7 M1033.6 1130 L1366 1024.9 L1698.4 1130 M1030.4 1062.4 L1366 963.9 L1701.7 1062.4 M1027.1 994.7 L1366 902.9 L1704.9 994.7 M1023.8 927.1 L1366 841.9 L1708.2 927.1 M1119.2 1169.7 L1106.9 839.8 M1612.9 1169.7 L1625.1 839.8 M1201.5 1141.8 L1193.3 820.1 M1530.6 1141.8 L1538.7 820.1 M1283.7 1113.9 L1279.7 800.5 M1448.3 1113.9 L1452.4 800.5 M1042 1304.2 L1020.6 859.5 M1366 1182.1 L1366 780.8 M1690 1304.2 L1711.5 859.5" fill="none" stroke="#000" stroke-width="1.50"/>
<path d="M1020.6 859.5 L1366 780.8 L1711.5 859.5" fill="none" stroke="#000" stroke-width="2.30" stroke-linejoin="round"/>
<path d="M1042 1304.2 L1366 1182.1 L1690 1304.2 L1366 1459.9Z" fill="#646464"/>
<path d="M1054.2 1310.1 L1058.8 1307.7 L1063.6 1305.2 L1069.7 1302 L1075.8 1298.8 L1078.9 1297.2 L1084.9 1294 L1090.9 1290.8 L1093.9 1289.2 L1099.8 1286 L1105.6 1282.8 L1108.5 1281.3 L1114.3 1278.1 L1120 1274.9 L1120.5 1274.6" fill="none" stroke="#eaf700" stroke-width="2.99" stroke-linecap="round" stroke-linejoin="round"/>
<path d="M1132.2 1347.5 L1141 1345.3 L1145.5 1344.3 L1154.6 1342.2 L1159.2 1341.2 L1168.6 1339.3 L1173.4 1338.5 L1181.7 1337 L1188.1 1336 L1193.2 1335.3 L1202.2 1334.1 L1209 1333.3 L1214.5 1332.8 L1220.1 1332.3 L1227.6 1331.8 L1235.1 1331.5 L1242.2 1331.3 L1249 1331.2 L1255.5 1331.3 L1261.8 1331.4 L1267.8 1331.7 L1273.6 1332 L1280.3 1332.5 L1288.7 1333.3 L1295.3 1334.1 L1300.4 1334.8 L1307.7 1335.8 L1315 1337.1 L1319.6 1337.9 L1328.8 1339.7 L1333.2 1340.7 L1342 1342.7 L1346.3 1343.7 L1354.7 1345.9 L1361.5 1347.8 L1367 1349.4 L1375 1351.8 L1382.9 1354.3 L1386.8 1355.5 L1394.5 1358.1 L1402.2 1360.8 L1409.7 1363.5 L1417.2 1366.3 L1421 1367.7 L1428.4 1370.6 L1435.7 1373.5 L1443 1376.5 L1450.3 1379.5 L1457.6 1382.6 L1464.8 1385.7 L1472 1388.9 L1479.2 1392.1 L1486.4 1395.3 L1493.6 1398.6" fill="none" stroke="#f7bd00" stroke-width="2.99" stroke-linecap="round" stroke-linejoin="round"/>
<path d="M1229.1 1394.1 L1235.9 1394 L1243 1394 L1250.2 1394.1 L1257.6 1394.4 L1264 1394.6 L1270.2 1395 L1276.3 1395.4 L1282.2 1395.8 L1290.3 1396.6 L1299.4 1397.5 L1304.9 1398.2 L1310.4 1398.9 L1319 1400.1 L1326.2 1401.3 L1331.3 1402.1 L1341.2 1403.9 L1346.4 1404.9 L1353.6 1406.4 L1360.9 1408 L1367.2 1409.4 L1375 1411.3 L1382.3 1413.1 L1388.7 1414.8 L1397.8 1417.2 L1402.2 1418.5 L1411 1421.1 L1419.5 1423.6 L1424.1 1425.1 L1432.7 1427.8" fill="none" stroke="#f77800" stroke-width="2.99" stroke-linecap="round" stroke-linejoin="round"/>
<path d="M1371.7 1184.2 L1370.1 1185.8 L1367.9 1187.9 L1365.4 1190.6 L1363.9 1192.3 L1362.1 1194.6 L1360.1 1197.5 L1358.9 1199.4 L1357.9 1201.2 L1357 1203.3 L1356 1205.9 L1355.3 1208.5 L1354.9 1210.9 L1354.7 1213.3 L1354.8 1215.6 L1355.1 1217.8 L1355.5 1220 L1356.1 1222.1 L1356.9 1224.1 L1358.1 1226.9 L1359.8 1230 L1361.1 1232 L1362.4 1233.9 L1364.4 1236.6 L1366.7 1239.4 L1368.3 1241.2 L1370.9 1244.1 L1373.4 1246.5 L1375.2 1248.3 L1378.9 1251.8 L1380.8 1253.5 L1384.7 1257 L1386.8 1258.7 L1390.8 1262 L1393 1263.8 L1397.3 1267.1 L1399.5 1268.8 L1404 1272.2 L1406.2 1273.9 L1410.8 1277.3 L1413.1 1279 L1417.8 1282.3 L1420.5 1284.2 L1425 1287.4 L1429.5 1290.5 L1432.4 1292.4 L1437.3 1295.8 L1439.8 1297.5 L1444.9 1300.9 L1449.1 1303.7 L1452.6 1306 L1457.7 1309.5 L1460.4 1311.2 L1465.6 1314.6 L1470.8 1318 L1473.6 1319.8 L1479 1323.3 L1482.5 1325.5 L1487.2 1328.5 L1492.7 1332 L1495.4 1333.8 L1501 1337.3 L1506.6 1340.9 L1509.4 1342.7 L1515.1 1346.3 L1520.1 1349.4 L1523.7 1351.7 L1529.5 1355.3 L1533.6 1357.8 L1538.3 1360.8 L1544.2 1364.4 L1547.4 1366.4 L1553.1 1370" fill="none" stroke="#e7f700" stroke-width="2.99" stroke-linecap="round" stroke-linejoin="round"/>
<path d="M1491.2 1229.3 L1492.1 1231.9 L1493 1234.6 L1494.1 1237.2 L1495.1 1239.4 L1496 1241.5 L1497.1 1243.7 L1498.2 1245.8 L1499.9 1248.8 L1501.7 1251.9 L1503.1 1254.2 L1504.4 1256.2 L1505.8 1258.3 L1508.1 1261.5 L1510.2 1264.4 L1511.8 1266.4 L1513.4 1268.5 L1516.2 1271.9 L1518.4 1274.5 L1520.1 1276.5 L1522.6 1279.3 L1525.5 1282.5 L1527.3 1284.5 L1529.8 1287.1 L1533.1 1290.4 L1535 1292.4 L1538.1 1295.4 L1541.1 1298.3 L1543.2 1300.3 L1547.3 1304.2 L1549.6 1306.2 L1552.4 1308.7 L1556.2 1312.1 L1558.4 1314.1 L1562.9 1318 L1565.3 1320 L1569.1 1323.2 L1572.3 1325.9 L1575.3 1328.3 L1579.5 1331.8 L1582 1333.7 L1587 1337.7 L1589.5 1339.7 L1594.5 1343.6 L1597.1 1345.6 L1599.7 1347.6" fill="none" stroke="#a7f700" stroke-width="2.99" stroke-linecap="round" stroke-linejoin="round"/>
<path d="M1597.8 1269.5 L1599.6 1272 L1601.1 1274.2 L1602.7 1276.3 L1605.1 1279.4 L1607.7 1282.7 L1609.4 1284.8 L1611.1 1286.9 L1613.6 1289.9 L1616.5 1293.3 L1618.4 1295.4 L1620.3 1297.5 L1623.5 1301.1 L1626.1 1303.8 L1628.1 1305.9 L1631 1309 L1634.2 1312.2 L1636.3 1314.3 L1639.2 1317.2 L1642.7 1320.6 L1644.9 1322.7 L1647.1 1324.8" fill="none" stroke="#61f700" stroke-width="2.99" stroke-linecap="round" stroke-linejoin="round"/>
<path d="M1042 1304.2 L1366 1182.1 L1690 1304.2 L1366 1459.9Z" fill="none" stroke="#000" stroke-width="2.40" stroke-linejoin="round"/>
<g fill="#000"><circle cx="1042" cy="1304.2" r="3.2"/><circle cx="1123" cy="1343.1" r="3.2"/><circle cx="1204" cy="1382" r="3.2"/><circle cx="1285" cy="1421" r="3.2"/><circle cx="1366" cy="1459.9" r="3.2"/><circle cx="1447" cy="1421" r="3.2"/><circle cx="1528" cy="1382" r="3.2"/><circle cx="1609" cy="1343.1" r="3.2"/><circle cx="1690" cy="1304.2" r="3.2"/><circle cx="1036.9" cy="1197.7" r="3.2"/><circle cx="1033.6" cy="1130" r="3.2"/><circle cx="1030.4" cy="1062.4" r="3.2"/><circle cx="1027.1" cy="994.7" r="3.2"/><circle cx="1023.8" cy="927.1" r="3.2"/><circle cx="1020.6" cy="859.5" r="3.2"/></g>
<path d="M1025.6 963.5L1025.5 961.2" stroke="#222" stroke-width="1.07"/>
<circle cx="1025.6" cy="963.5" r="6.4" fill="#ffc8c8" stroke="#533" stroke-width="0.96"/>
<path d="M1366 866.4L1366 867.9" stroke="#222" stroke-width="1.07"/>
<circle cx="1366" cy="866.4" r="6.4" fill="#ffc8c8" stroke="#533" stroke-width="0.96"/>
<path d="M1366 1005.6L1366 994.2" stroke="#222" stroke-width="1.07"/>
<circle cx="1366" cy="1005.6" r="6.4" fill="#ffc8c8" stroke="#533" stroke-width="0.96"/>
<path d="M1703.1 1033.7L1703.5 1025" stroke="#222" stroke-width="1.07"/>
<circle cx="1703.1" cy="1033.7" r="6.4" fill="#ffc8c8" stroke="#533" stroke-width="0.96"/>
<g stroke="#000" stroke-width="1.23" stroke-linejoin="round">
<path d="M1366 877.2 L1350.8 871.1 L1366 867.9 L1381.2 874.3Z" fill="#f5f134"/>
<path d="M1381.4 883.4 L1366 877.2 L1381.2 874.3 L1396.6 880.7Z" fill="#f3f531"/>
<path d="M1350.6 880.2 L1335.4 874.4 L1350.8 871.1 L1366 877.2Z" fill="#f5ee32"/>
<path d="M1396.9 889.7 L1381.4 883.4 L1396.6 880.7 L1412.1 887.4Z" fill="#ecf52f"/>
<path d="M1366 886.1 L1350.6 880.2 L1366 877.2 L1381.4 883.4Z" fill="#f5f330"/>
<path d="M1335.1 883.4 L1319.9 877.9 L1335.4 874.4 L1350.6 880.2Z" fill="#f5ec30"/>
<path d="M1412.6 896.2 L1396.9 889.7 L1412.1 887.4 L1427.8 894.1Z" fill="#e6f52d"/>
<path d="M1381.6 892.2 L1366 886.1 L1381.4 883.4 L1396.9 889.7Z" fill="#f0f52e"/>
<path d="M1350.5 889 L1335.1 883.4 L1350.6 880.2 L1366 886.1Z" fill="#f5f02e"/>
<path d="M1319.3 886.7 L1304.1 881.5 L1319.9 877.9 L1335.1 883.4Z" fill="#f5ea2f"/>
<path d="M1428.5 902.9 L1412.6 896.2 L1427.8 894.1 L1443.7 901.1Z" fill="#def42b"/>
<path d="M1397.3 898.4 L1381.6 892.2 L1396.9 889.7 L1412.6 896.2Z" fill="#eaf42b"/>
<path d="M1366 894.8 L1350.5 889 L1366 886.1 L1381.6 892.2Z" fill="#f4f42c"/>
<path d="M1334.7 892.1 L1319.3 886.7 L1335.1 883.4 L1350.5 889Z" fill="#f4ed2c"/>
<path d="M1303.4 890.2 L1288.2 885.2 L1304.1 881.5 L1319.3 886.7Z" fill="#f4e82d"/>
<path d="M1444.6 909.7 L1428.5 902.9 L1443.7 901.1 L1459.7 908.1Z" fill="#d5f229"/>
<path d="M1413.2 904.8 L1397.3 898.4 L1412.6 896.2 L1428.5 902.9Z" fill="#e2f229"/>
<path d="M1381.8 900.8 L1366 894.8 L1381.6 892.2 L1397.3 898.4Z" fill="#eef32a"/>
<path d="M1350.3 897.6 L1334.7 892.1 L1350.5 889 L1366 894.8Z" fill="#f3f02a"/>
<path d="M1318.8 895.3 L1303.4 890.2 L1319.3 886.7 L1334.7 892.1Z" fill="#f4ea2b"/>
<path d="M1287.3 893.8 L1272.1 889.1 L1288.2 885.2 L1303.4 890.2Z" fill="#f4e62b"/>
<path d="M1460.8 916.6 L1444.6 909.7 L1459.7 908.1 L1475.9 915.4Z" fill="#cbef27"/>
<path d="M1429.3 911.3 L1413.2 904.8 L1428.5 902.9 L1444.6 909.7Z" fill="#daf028"/>
<path d="M1397.7 906.9 L1381.8 900.8 L1397.3 898.4 L1413.2 904.8Z" fill="#e7f128"/>
<path d="M1366 903.3 L1350.3 897.6 L1366 894.8 L1381.8 900.8Z" fill="#f1f128"/>
<path d="M1334.4 900.5 L1318.8 895.3 L1334.7 892.1 L1350.3 897.6Z" fill="#f2eb29"/>
<path d="M1302.7 898.6 L1287.3 893.8 L1303.4 890.2 L1318.8 895.3Z" fill="#f2e629"/>
<path d="M1271 897.6 L1255.8 893.2 L1272.1 889.1 L1287.3 893.8Z" fill="#f2e329"/>
<path d="M1477.2 923.8 L1460.8 916.6 L1475.9 915.4 L1492.3 922.8Z" fill="#c2ed26"/>
<path d="M1445.5 918 L1429.3 911.3 L1444.6 909.7 L1460.8 916.6Z" fill="#d2ee26"/>
<path d="M1413.7 913.1 L1397.7 906.9 L1413.2 904.8 L1429.3 911.3Z" fill="#dfef27"/>
<path d="M1381.9 909.1 L1366 903.3 L1381.8 900.8 L1397.7 906.9Z" fill="#eaef27"/>
<path d="M1350.1 905.9 L1334.4 900.5 L1350.3 897.6 L1366 903.3Z" fill="#f0ec27"/>
<path d="M1318.2 903.6 L1302.7 898.6 L1318.8 895.3 L1334.4 900.5Z" fill="#f0e628"/>
<path d="M1286.4 902.1 L1271 897.6 L1287.3 893.8 L1302.7 898.6Z" fill="#f0e228"/>
<path d="M1254.5 901.5 L1239.3 897.4 L1255.8 893.2 L1271 897.6Z" fill="#f1e128"/>
<path d="M1493.8 931.1 L1477.2 923.8 L1492.3 922.8 L1508.9 930.3Z" fill="#b8eb25"/>
<path d="M1461.9 924.9 L1445.5 918 L1460.8 916.6 L1477.2 923.8Z" fill="#c9ec25"/>
<path d="M1430 919.6 L1413.7 913.1 L1429.3 911.3 L1445.5 918Z" fill="#d8ec25"/>
<path d="M1398 915.1 L1381.9 909.1 L1397.7 906.9 L1413.7 913.1Z" fill="#e4ed26"/>
<path d="M1366 911.5 L1350.1 905.9 L1366 903.3 L1381.9 909.1Z" fill="#eded26"/>
<path d="M1334 908.7 L1318.2 903.6 L1334.4 900.5 L1350.1 905.9Z" fill="#eee626"/>
<path d="M1301.9 906.8 L1286.4 902.1 L1302.7 898.6 L1318.2 903.6Z" fill="#eee227"/>
<path d="M1269.8 905.8 L1254.5 901.5 L1271 897.6 L1286.4 902.1Z" fill="#efdf27"/>
<path d="M1237.8 905.6 L1222.6 901.7 L1239.3 897.4 L1254.5 901.5Z" fill="#efdf27"/>
<path d="M1510.6 938.5 L1493.8 931.1 L1508.9 930.3 L1525.6 938.1Z" fill="#aee923"/>
<path d="M1478.6 931.9 L1461.9 924.9 L1477.2 923.8 L1493.8 931.1Z" fill="#c0ea24"/>
<path d="M1446.5 926.1 L1430 919.6 L1445.5 918 L1461.9 924.9Z" fill="#d0ea24"/>
<path d="M1414.3 921.2 L1398 915.1 L1413.7 913.1 L1430 919.6Z" fill="#ddeb24"/>
<path d="M1382.1 917.1 L1366 911.5 L1381.9 909.1 L1398 915.1Z" fill="#e8eb25"/>
<path d="M1349.9 913.9 L1334 908.7 L1350.1 905.9 L1366 911.5Z" fill="#ece725"/>
<path d="M1317.6 911.6 L1301.9 906.8 L1318.2 903.6 L1334 908.7Z" fill="#ece125"/>
<path d="M1285.4 910.2 L1269.8 905.8 L1286.4 902.1 L1301.9 906.8Z" fill="#ecdd25"/>
<path d="M1220.9 909.8 L1205.7 906.3 L1222.6 901.7 L1237.8 905.6Z" fill="#eddd26"/>
<path d="M1253.1 909.6 L1237.8 905.6 L1254.5 901.5 L1269.8 905.8Z" fill="#eddc26"/>
<path d="M1527.5 946.1 L1510.6 938.5 L1525.6 938.1 L1542.5 946Z" fill="#a4e722"/>
<path d="M1495.4 939.1 L1478.6 931.9 L1493.8 931.1 L1510.6 938.5Z" fill="#b7e722"/>
<path d="M1463.1 932.8 L1446.5 926.1 L1461.9 924.9 L1478.6 931.9Z" fill="#c8e823"/>
<path d="M1430.8 927.5 L1414.3 921.2 L1430 919.6 L1446.5 926.1Z" fill="#d6e923"/>
<path d="M1398.4 923 L1382.1 917.1 L1398 915.1 L1414.3 921.2Z" fill="#e2e923"/>
<path d="M1366 919.3 L1349.9 913.9 L1366 911.5 L1382.1 917.1Z" fill="#eae724"/>
<path d="M1333.6 916.6 L1317.6 911.6 L1334 908.7 L1349.9 913.9Z" fill="#eae024"/>
<path d="M1301.1 914.7 L1285.4 910.2 L1301.9 906.8 L1317.6 911.6Z" fill="#eadc24"/>
<path d="M1203.8 914.2 L1188.6 911 L1205.7 906.3 L1220.9 909.8Z" fill="#ebdb25"/>
<path d="M1268.7 913.7 L1253.1 909.6 L1269.8 905.8 L1285.4 910.2Z" fill="#ebda24"/>
<path d="M1236.2 913.5 L1220.9 909.8 L1237.8 905.6 L1253.1 909.6Z" fill="#ebd924"/>
<path d="M1544.7 953.9 L1527.5 946.1 L1542.5 946 L1559.6 954Z" fill="#9ae420"/>
<path d="M1512.4 946.4 L1495.4 939.1 L1510.6 938.5 L1527.5 946.1Z" fill="#aee521"/>
<path d="M1479.9 939.7 L1463.1 932.8 L1478.6 931.9 L1495.4 939.1Z" fill="#c0e621"/>
<path d="M1447.5 933.9 L1430.8 927.5 L1446.5 926.1 L1463.1 932.8Z" fill="#cfe622"/>
<path d="M1414.9 929 L1398.4 923 L1414.3 921.2 L1430.8 927.5Z" fill="#dce722"/>
<path d="M1382.3 924.9 L1366 919.3 L1382.1 917.1 L1398.4 923Z" fill="#e7e722"/>
<path d="M1349.7 921.7 L1333.6 916.6 L1349.9 913.9 L1366 919.3Z" fill="#e8e023"/>
<path d="M1317.1 919.4 L1301.1 914.7 L1317.6 911.6 L1333.6 916.6Z" fill="#e8db23"/>
<path d="M1186.5 918.8 L1171.4 915.8 L1188.6 911 L1203.8 914.2Z" fill="#e9da23"/>
<path d="M1284.4 917.9 L1268.7 913.7 L1285.4 910.2 L1301.1 914.7Z" fill="#e9d723"/>
<path d="M1219.1 917.6 L1203.8 914.2 L1220.9 909.8 L1236.2 913.5Z" fill="#e9d723"/>
<path d="M1251.7 917.3 L1236.2 913.5 L1253.1 909.6 L1268.7 913.7Z" fill="#e9d623"/>
<path d="M1562 961.9 L1544.7 953.9 L1559.6 954 L1576.9 962.3Z" fill="#90e21f"/>
<path d="M1529.5 953.9 L1512.4 946.4 L1527.5 946.1 L1544.7 953.9Z" fill="#a5e31f"/>
<path d="M1497 946.8 L1479.9 939.7 L1495.4 939.1 L1512.4 946.4Z" fill="#b7e320"/>
<path d="M1464.3 940.5 L1447.5 933.9 L1463.1 932.8 L1479.9 939.7Z" fill="#c8e420"/>
<path d="M1431.6 935.1 L1414.9 929 L1430.8 927.5 L1447.5 933.9Z" fill="#d6e521"/>
<path d="M1398.8 930.6 L1382.3 924.9 L1398.4 923 L1414.9 929Z" fill="#e2e521"/>
<path d="M1366 927 L1349.7 921.7 L1366 919.3 L1382.3 924.9Z" fill="#e6e021"/>
<path d="M1333.2 924.2 L1317.1 919.4 L1333.6 916.6 L1349.7 921.7Z" fill="#e6d922"/>
<path d="M1168.9 923.6 L1153.9 920.9 L1171.4 915.8 L1186.5 918.8Z" fill="#e7d922"/>
<path d="M1300.3 922.3 L1284.4 917.9 L1301.1 914.7 L1317.1 919.4Z" fill="#e7d522"/>
<path d="M1579.6 970 L1562 961.9 L1576.9 962.3 L1594.4 970.7Z" fill="#85e01e"/>
<path d="M1201.8 921.9 L1186.5 918.8 L1203.8 914.2 L1219.1 917.6Z" fill="#e7d522"/>
<path d="M1267.5 921.3 L1251.7 917.3 L1268.7 913.7 L1284.4 917.9Z" fill="#e7d322"/>
<path d="M1234.6 921.2 L1219.1 917.6 L1236.2 913.5 L1251.7 917.3Z" fill="#e7d322"/>
<path d="M1546.9 961.6 L1529.5 953.9 L1544.7 953.9 L1562 961.9Z" fill="#9be01e"/>
<path d="M1514.2 954 L1497 946.8 L1512.4 946.4 L1529.5 953.9Z" fill="#afe11f"/>
<path d="M1481.4 947.3 L1464.3 940.5 L1479.9 939.7 L1497 946.8Z" fill="#c0e21f"/>
<path d="M1448.5 941.4 L1431.6 935.1 L1447.5 933.9 L1464.3 940.5Z" fill="#cfe21f"/>
<path d="M1415.5 936.4 L1398.8 930.6 L1414.9 929 L1431.6 935.1Z" fill="#dce320"/>
<path d="M1382.5 932.4 L1366 927 L1382.3 924.9 L1398.8 930.6Z" fill="#e3e020"/>
<path d="M1597.3 978.3 L1579.6 970 L1594.4 970.7 L1612.1 979.3Z" fill="#7bdd1c"/>
<path d="M1349.5 929.1 L1333.2 924.2 L1349.7 921.7 L1366 927Z" fill="#e4d820"/>
<path d="M1151.2 928.5 L1136.2 926.1 L1153.9 920.9 L1168.9 923.6Z" fill="#e5d821"/>
<path d="M1316.4 926.8 L1300.3 922.3 L1317.1 919.4 L1333.2 924.2Z" fill="#e4d320"/>
<path d="M1184.2 926.4 L1168.9 923.6 L1186.5 918.8 L1201.8 921.9Z" fill="#e5d321"/>
<path d="M1283.4 925.4 L1267.5 921.3 L1284.4 917.9 L1300.3 922.3Z" fill="#e5d021"/>
<path d="M1217.2 925.2 L1201.8 921.9 L1219.1 917.6 L1234.6 921.2Z" fill="#e5cf21"/>
<path d="M1250.3 924.8 L1234.6 921.2 L1251.7 917.3 L1267.5 921.3Z" fill="#e5ce21"/>
<path d="M1564.5 969.4 L1546.9 961.6 L1562 961.9 L1579.6 970Z" fill="#92de1d"/>
<path d="M1531.6 961.4 L1514.2 954 L1529.5 953.9 L1546.9 961.6Z" fill="#a6df1d"/>
<path d="M1498.6 954.2 L1481.4 947.3 L1497 946.8 L1514.2 954Z" fill="#b8df1e"/>
<path d="M1465.6 947.9 L1448.5 941.4 L1464.3 940.5 L1481.4 947.3Z" fill="#c9e01e"/>
<path d="M1432.4 942.5 L1415.5 936.4 L1431.6 935.1 L1448.5 941.4Z" fill="#d7e11e"/>
<path d="M1615.2 986.8 L1597.3 978.3 L1612.1 979.3 L1630 988.1Z" fill="#70db1b"/>
<path d="M1399.2 937.9 L1382.5 932.4 L1398.8 930.6 L1415.5 936.4Z" fill="#e1e01f"/>
<path d="M1366 934.3 L1349.5 929.1 L1366 927 L1382.5 932.4Z" fill="#e2d71f"/>
<path d="M1133.3 933.6 L1118.3 931.5 L1136.2 926.1 L1151.2 928.5Z" fill="#e3d720"/>
<path d="M1332.8 931.5 L1316.4 926.8 L1333.2 924.2 L1349.5 929.1Z" fill="#e2d11f"/>
<path d="M1166.4 931 L1151.2 928.5 L1168.9 923.6 L1184.2 926.4Z" fill="#e3d120"/>
<path d="M1299.5 929.6 L1283.4 925.4 L1300.3 922.3 L1316.4 926.8Z" fill="#e2cd1f"/>
<path d="M1199.7 929.3 L1184.2 926.4 L1201.8 921.9 L1217.2 925.2Z" fill="#e3cd20"/>
<path d="M1582.3 977.4 L1564.5 969.4 L1579.6 970 L1597.3 978.3Z" fill="#88dc1b"/>
<path d="M1266.2 928.6 L1250.3 924.8 L1267.5 921.3 L1283.4 925.4Z" fill="#e3ca20"/>
<path d="M1232.9 928.5 L1217.2 925.2 L1234.6 921.2 L1250.3 924.8Z" fill="#e3ca20"/>
<path d="M1549.2 968.9 L1531.6 961.4 L1546.9 961.6 L1564.5 969.4Z" fill="#9ddc1c"/>
<path d="M1516.1 961.3 L1498.6 954.2 L1514.2 954 L1531.6 961.4Z" fill="#b1dd1c"/>
<path d="M1482.9 954.5 L1465.6 947.9 L1481.4 947.3 L1498.6 954.2Z" fill="#c2de1d"/>
<path d="M1449.5 948.6 L1432.4 942.5 L1448.5 941.4 L1465.6 947.9Z" fill="#d1de1d"/>
<path d="M1633.4 995.5 L1615.2 986.8 L1630 988.1 L1648 997Z" fill="#65d81a"/>
<path d="M1416.2 943.6 L1399.2 937.9 L1415.5 936.4 L1432.4 942.5Z" fill="#dedf1d"/>
<path d="M1382.7 939.5 L1366 934.3 L1382.5 932.4 L1399.2 937.9Z" fill="#dfd71e"/>
<path d="M1115.1 938.8 L1100.2 937 L1118.3 931.5 L1133.3 933.6Z" fill="#e1d71f"/>
<path d="M1600.3 985.6 L1582.3 977.4 L1597.3 978.3 L1615.2 986.8Z" fill="#7ed91a"/>
<path d="M1349.3 936.3 L1332.8 931.5 L1349.5 929.1 L1366 934.3Z" fill="#e0cf1e"/>
<path d="M1148.5 935.8 L1133.3 933.6 L1151.2 928.5 L1166.4 931Z" fill="#e1cf1f"/>
<path d="M1315.8 934 L1299.5 929.6 L1316.4 926.8 L1332.8 931.5Z" fill="#e0ca1e"/>
<path d="M1181.9 933.6 L1166.4 931 L1184.2 926.4 L1199.7 929.3Z" fill="#e1ca1f"/>
<path d="M1282.3 932.5 L1266.2 928.6 L1283.4 925.4 L1299.5 929.6Z" fill="#e1c71e"/>
<path d="M1215.3 932.4 L1199.7 929.3 L1217.2 925.2 L1232.9 928.5Z" fill="#e1c71f"/>
<path d="M1248.8 932 L1232.9 928.5 L1250.3 924.8 L1266.2 928.6Z" fill="#e1c61e"/>
<path d="M1567.1 976.6 L1549.2 968.9 L1564.5 969.4 L1582.3 977.4Z" fill="#94da1a"/>
<path d="M1533.7 968.5 L1516.1 961.3 L1531.6 961.4 L1549.2 968.9Z" fill="#a9db1b"/>
<path d="M1500.3 961.3 L1482.9 954.5 L1498.6 954.2 L1516.1 961.3Z" fill="#bbdb1b"/>
<path d="M1651.7 1004.3 L1633.4 995.5 L1648 997 L1666.3 1006.2Z" fill="#5ad618"/>
<path d="M1466.9 955 L1449.5 948.6 L1465.6 947.9 L1482.9 954.5Z" fill="#cbdc1c"/>
<path d="M1433.3 949.5 L1416.2 943.6 L1432.4 942.5 L1449.5 948.6Z" fill="#d8dd1c"/>
<path d="M1618.5 994 L1600.3 985.6 L1615.2 986.8 L1633.4 995.5Z" fill="#74d719"/>
<path d="M1399.7 944.9 L1382.7 939.5 L1399.2 937.9 L1416.2 943.6Z" fill="#ddd61c"/>
<path d="M1096.7 944.3 L1081.8 942.8 L1100.2 937 L1115.1 938.8Z" fill="#dfd71d"/>
<path d="M1366 941.2 L1349.3 936.3 L1366 934.3 L1382.7 939.5Z" fill="#dece1c"/>
<path d="M1130.3 940.8 L1115.1 938.8 L1133.3 933.6 L1148.5 935.8Z" fill="#dfce1d"/>
<path d="M1332.3 938.5 L1315.8 934 L1332.8 931.5 L1349.3 936.3Z" fill="#dec71d"/>
<path d="M1163.9 938.1 L1148.5 935.8 L1166.4 931 L1181.9 933.6Z" fill="#dfc81d"/>
<path d="M1298.6 936.6 L1282.3 932.5 L1299.5 929.6 L1315.8 934Z" fill="#dec31d"/>
<path d="M1197.5 936.4 L1181.9 933.6 L1199.7 929.3 L1215.3 932.4Z" fill="#dfc31d"/>
<path d="M1264.9 935.6 L1248.8 932 L1266.2 928.6 L1282.3 932.5Z" fill="#dfc11d"/>
<path d="M1585.1 984.6 L1567.1 976.6 L1582.3 977.4 L1600.3 985.6Z" fill="#8bd819"/>
<path d="M1231.2 935.6 L1215.3 932.4 L1232.9 928.5 L1248.8 932Z" fill="#dfc11d"/>
<path d="M1551.6 976 L1533.7 968.5 L1549.2 968.9 L1567.1 976.6Z" fill="#a0d819"/>
<path d="M1518 968.3 L1500.3 961.3 L1516.1 961.3 L1533.7 968.5Z" fill="#b3d91a"/>
<path d="M1670.2 1013.4 L1651.7 1004.3 L1666.3 1006.2 L1684.8 1015.5Z" fill="#4fd417"/>
<path d="M1484.4 961.4 L1466.9 955 L1482.9 954.5 L1500.3 961.3Z" fill="#c4da1a"/>
<path d="M1450.6 955.5 L1433.3 949.5 L1449.5 948.6 L1466.9 955Z" fill="#d3da1b"/>
<path d="M1636.9 1002.6 L1618.5 994 L1633.4 995.5 L1651.7 1004.3Z" fill="#6ad417"/>
<path d="M1416.8 950.5 L1399.7 944.9 L1416.2 943.6 L1433.3 949.5Z" fill="#dbd61b"/>
<path d="M1078.1 949.9 L1063.3 948.7 L1081.8 942.8 L1096.7 944.3Z" fill="#ddd71c"/>
<path d="M1383 946.4 L1366 941.2 L1382.7 939.5 L1399.7 944.9Z" fill="#dbcc1b"/>
<path d="M1111.9 945.9 L1096.7 944.3 L1115.1 938.8 L1130.3 940.8Z" fill="#ddcd1c"/>
<path d="M1603.3 992.6 L1585.1 984.6 L1600.3 985.6 L1618.5 994Z" fill="#82d518"/>
<path d="M1349.1 943.1 L1332.3 938.5 L1349.3 936.3 L1366 941.2Z" fill="#dcc51b"/>
<path d="M1145.6 942.8 L1130.3 940.8 L1148.5 935.8 L1163.9 938.1Z" fill="#ddc61c"/>
<path d="M1315.1 940.8 L1298.6 936.6 L1315.8 934 L1332.3 938.5Z" fill="#dcc01c"/>
<path d="M1179.5 940.6 L1163.9 938.1 L1181.9 933.6 L1197.5 936.4Z" fill="#ddc01c"/>
<path d="M1281.2 939.4 L1264.9 935.6 L1282.3 932.5 L1298.6 936.6Z" fill="#dcbd1c"/>
<path d="M1213.4 939.3 L1197.5 936.4 L1215.3 932.4 L1231.2 935.6Z" fill="#ddbd1c"/>
<path d="M1247.3 938.9 L1231.2 935.6 L1248.8 932 L1264.9 935.6Z" fill="#ddbc1c"/>
<path d="M1569.7 983.6 L1551.6 976 L1567.1 976.6 L1585.1 984.6Z" fill="#98d618"/>
<path d="M1535.9 975.4 L1518 968.3 L1533.7 968.5 L1551.6 976Z" fill="#acd718"/>
<path d="M1689 1022.6 L1670.2 1013.4 L1684.8 1015.5 L1703.5 1025Z" fill="#44d115"/>
<path d="M1502.1 968.1 L1484.4 961.4 L1500.3 961.3 L1518 968.3Z" fill="#bed719"/>
<path d="M1655.5 1011.3 L1636.9 1002.6 L1651.7 1004.3 L1670.2 1013.4Z" fill="#5fd216"/>
<path d="M1468.2 961.7 L1450.6 955.5 L1466.9 955 L1484.4 961.4Z" fill="#ced819"/>
<path d="M1434.2 956.2 L1416.8 950.5 L1433.3 949.5 L1450.6 955.5Z" fill="#d8d61a"/>
<path d="M1059.3 955.7 L1044.5 954.8 L1063.3 948.7 L1078.1 949.9Z" fill="#dbd71b"/>
<path d="M1400.1 951.6 L1383 946.4 L1399.7 944.9 L1416.8 950.5Z" fill="#d9cb1a"/>
<path d="M1621.8 1000.9 L1603.3 992.6 L1618.5 994 L1636.9 1002.6Z" fill="#78d316"/>
<path d="M1093.2 951.2 L1078.1 949.9 L1096.7 944.3 L1111.9 945.9Z" fill="#dbcc1b"/>
<path d="M1366 947.9 L1349.1 943.1 L1366 941.2 L1383 946.4Z" fill="#d9c31a"/>
<path d="M1127.2 947.6 L1111.9 945.9 L1130.3 940.8 L1145.6 942.8Z" fill="#dbc41b"/>
<path d="M1331.9 945.1 L1315.1 940.8 L1332.3 938.5 L1349.1 943.1Z" fill="#dabd1a"/>
<path d="M1161.2 944.9 L1145.6 942.8 L1163.9 938.1 L1179.5 940.6Z" fill="#dbbd1b"/>
<path d="M1297.7 943.3 L1281.2 939.4 L1298.6 936.6 L1315.1 940.8Z" fill="#dab91b"/>
<path d="M1195.3 943.1 L1179.5 940.6 L1197.5 936.4 L1213.4 939.3Z" fill="#dbb91b"/>
<path d="M1263.6 942.3 L1247.3 938.9 L1264.9 935.6 L1281.2 939.4Z" fill="#dbb71b"/>
<path d="M1229.4 942.3 L1213.4 939.3 L1231.2 935.6 L1247.3 938.9Z" fill="#dbb71b"/>
<path d="M1588 991.4 L1569.7 983.6 L1585.1 984.6 L1603.3 992.6Z" fill="#8fd317"/>
<path d="M1554.1 982.7 L1535.9 975.4 L1551.6 976 L1569.7 983.6Z" fill="#a4d417"/>
<path d="M1520.1 974.9 L1502.1 968.1 L1518 968.3 L1535.9 975.4Z" fill="#b7d517"/>
<path d="M1674.3 1020.3 L1655.5 1011.3 L1670.2 1013.4 L1689 1022.6Z" fill="#55cf15"/>
<path d="M1485.9 968.1 L1468.2 961.7 L1484.4 961.4 L1502.1 968.1Z" fill="#c8d518"/>
<path d="M1451.7 962.1 L1434.2 956.2 L1450.6 955.5 L1468.2 961.7Z" fill="#d6d618"/>
<path d="M1040.2 961.8 L1025.5 961.2 L1044.5 954.8 L1059.3 955.7Z" fill="#d9d71a"/>
<path d="M1640.5 1009.4 L1621.8 1000.9 L1636.9 1002.6 L1655.5 1011.3Z" fill="#6fd015"/>
<path d="M1417.5 957 L1400.1 951.6 L1416.8 950.5 L1434.2 956.2Z" fill="#d7ca18"/>
<path d="M1074.3 956.8 L1059.3 955.7 L1078.1 949.9 L1093.2 951.2Z" fill="#d9cc1a"/>
<path d="M1383.2 952.9 L1366 947.9 L1383 946.4 L1400.1 951.6Z" fill="#d7c119"/>
<path d="M1108.5 952.7 L1093.2 951.2 L1111.9 945.9 L1127.2 947.6Z" fill="#d9c21a"/>
<path d="M1348.8 949.6 L1331.9 945.1 L1349.1 943.1 L1366 947.9Z" fill="#d8ba19"/>
<path d="M1606.5 999.3 L1588 991.4 L1603.3 992.6 L1621.8 1000.9Z" fill="#87d115"/>
<path d="M1142.7 949.5 L1127.2 947.6 L1145.6 942.8 L1161.2 944.9Z" fill="#d9bb1a"/>
<path d="M1314.5 947.3 L1297.7 943.3 L1315.1 940.8 L1331.9 945.1Z" fill="#d8b519"/>
<path d="M1177 947.2 L1161.2 944.9 L1179.5 940.6 L1195.3 943.1Z" fill="#d9b51a"/>
<path d="M1280.1 945.9 L1263.6 942.3 L1281.2 939.4 L1297.7 943.3Z" fill="#d8b219"/>
<path d="M1211.4 945.8 L1195.3 943.1 L1213.4 939.3 L1229.4 942.3Z" fill="#d9b21a"/>
<path d="M1245.7 945.4 L1229.4 942.3 L1247.3 938.9 L1263.6 942.3Z" fill="#d9b11a"/>
<path d="M1572.4 990.2 L1554.1 982.7 L1569.7 983.6 L1588 991.4Z" fill="#9dd216"/>
<path d="M1538.2 981.9 L1520.1 974.9 L1535.9 975.4 L1554.1 982.7Z" fill="#b0d216"/>
<path d="M1503.9 974.6 L1485.9 968.1 L1502.1 968.1 L1520.1 974.9Z" fill="#c2d316"/>
<path d="M1469.5 968.1 L1451.7 962.1 L1468.2 961.7 L1485.9 968.1Z" fill="#d2d417"/>
<path d="M1659.4 1018 L1640.5 1009.4 L1655.5 1011.3 L1674.3 1020.3Z" fill="#65ce14"/>
<path d="M1435.1 962.6 L1417.5 957 L1434.2 956.2 L1451.7 962.1Z" fill="#d4c917"/>
<path d="M1055.2 962.5 L1040.2 961.8 L1059.3 955.7 L1074.3 956.8Z" fill="#d7cb19"/>
<path d="M1400.6 958 L1383.2 952.9 L1400.1 951.6 L1417.5 957Z" fill="#d5bf17"/>
<path d="M1089.6 957.9 L1074.3 956.8 L1093.2 951.2 L1108.5 952.7Z" fill="#d7c119"/>
<path d="M1625.2 1007.5 L1606.5 999.3 L1621.8 1000.9 L1640.5 1009.4Z" fill="#7ecf14"/>
<path d="M1366 954.3 L1348.8 949.6 L1366 947.9 L1383.2 952.9Z" fill="#d5b718"/>
<path d="M1124 954.2 L1108.5 952.7 L1127.2 947.6 L1142.7 949.5Z" fill="#d7b819"/>
<path d="M1331.4 951.5 L1314.5 947.3 L1331.9 945.1 L1348.8 949.6Z" fill="#d6b118"/>
<path d="M1158.5 951.4 L1142.7 949.5 L1161.2 944.9 L1177 947.2Z" fill="#d7b219"/>
<path d="M1296.8 949.6 L1280.1 945.9 L1297.7 943.3 L1314.5 947.3Z" fill="#d6ad18"/>
<path d="M1193 949.6 L1177 947.2 L1195.3 943.1 L1211.4 945.8Z" fill="#d7ad19"/>
<path d="M1262.2 948.7 L1245.7 945.4 L1263.6 942.3 L1280.1 945.9Z" fill="#d6ab18"/>
<path d="M1227.6 948.7 L1211.4 945.8 L1229.4 942.3 L1245.7 945.4Z" fill="#d6ab18"/>
<path d="M1591 997.8 L1572.4 990.2 L1588 991.4 L1606.5 999.3Z" fill="#95cf14"/>
<path d="M1556.6 989.1 L1538.2 981.9 L1554.1 982.7 L1572.4 990.2Z" fill="#a9d015"/>
<path d="M1522.1 981.3 L1503.9 974.6 L1520.1 974.9 L1538.2 981.9Z" fill="#bcd115"/>
<path d="M1487.6 974.3 L1469.5 968.1 L1485.9 968.1 L1503.9 974.6Z" fill="#ccd115"/>
<path d="M1452.9 968.3 L1435.1 962.6 L1451.7 962.1 L1469.5 968.1Z" fill="#d2c916"/>
<path d="M1644.2 1015.8 L1625.2 1007.5 L1640.5 1009.4 L1659.4 1018Z" fill="#75cc13"/>
<path d="M1418.2 963.2 L1400.6 958 L1417.5 957 L1435.1 962.6Z" fill="#d2be16"/>
<path d="M1070.4 963.2 L1055.2 962.5 L1074.3 956.8 L1089.6 957.9Z" fill="#d5c017"/>
<path d="M1383.4 959 L1366 954.3 L1383.2 952.9 L1400.6 958Z" fill="#d3b416"/>
<path d="M1105 959.1 L1089.6 957.9 L1108.5 952.7 L1124 954.2Z" fill="#d5b617"/>
<path d="M1348.6 955.8 L1331.4 951.5 L1348.8 949.6 L1366 954.3Z" fill="#d3ad17"/>
<path d="M1139.7 955.8 L1124 954.2 L1142.7 949.5 L1158.5 951.4Z" fill="#d5af17"/>
<path d="M1609.8 1005.7 L1591 997.8 L1606.5 999.3 L1625.2 1007.5Z" fill="#8dcd13"/>
<path d="M1313.8 953.5 L1296.8 949.6 L1314.5 947.3 L1331.4 951.5Z" fill="#d4a817"/>
<path d="M1174.5 953.5 L1158.5 951.4 L1177 947.2 L1193 949.6Z" fill="#d5a917"/>
<path d="M1278.9 952.1 L1262.2 948.7 L1280.1 945.9 L1296.8 949.6Z" fill="#d4a517"/>
<path d="M1209.3 952.1 L1193 949.6 L1211.4 945.8 L1227.6 948.7Z" fill="#d4a617"/>
<path d="M1244.1 951.6 L1227.6 948.7 L1245.7 945.4 L1262.2 948.7Z" fill="#d4a517"/>
<path d="M1575.2 996.5 L1556.6 989.1 L1572.4 990.2 L1591 997.8Z" fill="#a2cd13"/>
<path d="M1540.6 988.1 L1522.1 981.3 L1538.2 981.9 L1556.6 989.1Z" fill="#b6ce14"/>
<path d="M1505.8 980.7 L1487.6 974.3 L1503.9 974.6 L1522.1 981.3Z" fill="#c7cf14"/>
<path d="M1471 974.2 L1452.9 968.3 L1469.5 968.1 L1487.6 974.3Z" fill="#cfc814"/>
<path d="M1436 968.6 L1418.2 963.2 L1435.1 962.6 L1452.9 968.3Z" fill="#d0bc15"/>
<path d="M1085.8 964.1 L1070.4 963.2 L1089.6 957.9 L1105 959.1Z" fill="#d3b416"/>
<path d="M1401 964 L1383.4 959 L1400.6 958 L1418.2 963.2Z" fill="#d0b215"/>
<path d="M1628.8 1013.7 L1609.8 1005.7 L1625.2 1007.5 L1644.2 1015.8Z" fill="#84ca12"/>
<path d="M1120.7 960.4 L1105 959.1 L1124 954.2 L1139.7 955.8Z" fill="#d3ac16"/>
<path d="M1366 960.3 L1348.6 955.8 L1366 954.3 L1383.4 959Z" fill="#d1aa15"/>
<path d="M1155.7 957.6 L1139.7 955.8 L1158.5 951.4 L1174.5 953.5Z" fill="#d2a516"/>
<path d="M1331 957.5 L1313.8 953.5 L1331.4 951.5 L1348.6 955.8Z" fill="#d1a415"/>
<path d="M1190.7 955.7 L1174.5 953.5 L1193 949.6 L1209.3 952.1Z" fill="#d2a116"/>
<path d="M1295.9 955.6 L1278.9 952.1 L1296.8 949.6 L1313.8 953.5Z" fill="#d2a016"/>
<path d="M1225.7 954.7 L1209.3 952.1 L1227.6 948.7 L1244.1 951.6Z" fill="#d29e16"/>
<path d="M1260.8 954.7 L1244.1 951.6 L1262.2 948.7 L1278.9 952.1Z" fill="#d29e16"/>
<path d="M1594.1 1004 L1575.2 996.5 L1591 997.8 L1609.8 1005.7Z" fill="#9bcb12"/>
<path d="M1559.2 995.2 L1540.6 988.1 L1556.6 989.1 L1575.2 996.5Z" fill="#afcc12"/>
<path d="M1524.3 987.3 L1505.8 980.7 L1522.1 981.3 L1540.6 988.1Z" fill="#c2cc13"/>
<path d="M1489.2 980.3 L1471 974.2 L1487.6 974.3 L1505.8 980.7Z" fill="#cdc813"/>
<path d="M1454.1 974.2 L1436 968.6 L1452.9 968.3 L1471 974.2Z" fill="#cdbb13"/>
<path d="M1418.9 969.1 L1401 964 L1418.2 963.2 L1436 968.6Z" fill="#ceb014"/>
<path d="M1101.4 965.1 L1085.8 964.1 L1105 959.1 L1120.7 960.4Z" fill="#d0a915"/>
<path d="M1383.7 964.9 L1366 960.3 L1383.4 959 L1401 964Z" fill="#cea714"/>
<path d="M1136.6 961.8 L1120.7 960.4 L1139.7 955.8 L1155.7 957.6Z" fill="#d0a115"/>
<path d="M1348.4 961.6 L1331 957.5 L1348.6 955.8 L1366 960.3Z" fill="#cfa014"/>
<path d="M1613.1 1011.7 L1594.1 1004 L1609.8 1005.7 L1628.8 1013.7Z" fill="#94c911"/>
<path d="M1171.8 959.4 L1155.7 957.6 L1174.5 953.5 L1190.7 955.7Z" fill="#d09c15"/>
<path d="M1313.1 959.3 L1295.9 955.6 L1313.8 953.5 L1331 957.5Z" fill="#cf9b14"/>
<path d="M1207.1 958 L1190.7 955.7 L1209.3 952.1 L1225.7 954.7Z" fill="#d09915"/>
<path d="M1277.7 957.9 L1260.8 954.7 L1278.9 952.1 L1295.9 955.6Z" fill="#d09815"/>
<path d="M1242.4 957.5 L1225.7 954.7 L1244.1 951.6 L1260.8 954.7Z" fill="#d09715"/>
<path d="M1578.1 1002.4 L1559.2 995.2 L1575.2 996.5 L1594.1 1004Z" fill="#a9c911"/>
<path d="M1543 994 L1524.3 987.3 L1540.6 988.1 L1559.2 995.2Z" fill="#bcca12"/>
<path d="M1507.7 986.5 L1489.2 980.3 L1505.8 980.7 L1524.3 987.3Z" fill="#cac812"/>
<path d="M1472.4 980 L1454.1 974.2 L1471 974.2 L1489.2 980.3Z" fill="#cbba12"/>
<path d="M1437 974.3 L1418.9 969.1 L1436 968.6 L1454.1 974.2Z" fill="#cbae12"/>
<path d="M1401.5 969.7 L1383.7 964.9 L1401 964 L1418.9 969.1Z" fill="#cca413"/>
<path d="M1117.3 966.2 L1101.4 965.1 L1120.7 960.4 L1136.6 961.8Z" fill="#ce9e14"/>
<path d="M1366 965.9 L1348.4 961.6 L1366 960.3 L1383.7 964.9Z" fill="#cc9c13"/>
<path d="M1152.7 963.3 L1136.6 961.8 L1155.7 957.6 L1171.8 959.4Z" fill="#ce9814"/>
<path d="M1330.5 963.1 L1313.1 959.3 L1331 957.5 L1348.4 961.6Z" fill="#cd9613"/>
<path d="M1188.2 961.4 L1171.8 959.4 L1190.7 955.7 L1207.1 958Z" fill="#ce9314"/>
<path d="M1294.9 961.3 L1277.7 957.9 L1295.9 955.6 L1313.1 959.3Z" fill="#cd9213"/>
<path d="M1223.8 960.4 L1207.1 958 L1225.7 954.7 L1242.4 957.5Z" fill="#ce9114"/>
<path d="M1259.3 960.4 L1242.4 957.5 L1260.8 954.7 L1277.7 957.9Z" fill="#cd9013"/>
<path d="M1597.3 1009.8 L1578.1 1002.4 L1594.1 1004 L1613.1 1011.7Z" fill="#a2c711"/>
<path d="M1561.9 1000.9 L1543 994 L1559.2 995.2 L1578.1 1002.4Z" fill="#b6c711"/>
<path d="M1526.5 992.9 L1507.7 986.5 L1524.3 987.3 L1543 994Z" fill="#c8c811"/>
<path d="M1491 985.9 L1472.4 980 L1489.2 980.3 L1507.7 986.5Z" fill="#c9b911"/>
<path d="M1455.3 979.7 L1437 974.3 L1454.1 974.2 L1472.4 980Z" fill="#c9ac11"/>
<path d="M1419.7 974.6 L1401.5 969.7 L1418.9 969.1 L1437 974.3Z" fill="#caa112"/>
<path d="M1383.9 970.3 L1366 965.9 L1383.7 964.9 L1401.5 969.7Z" fill="#ca9812"/>
<path d="M1133.4 967.5 L1117.3 966.2 L1136.6 961.8 L1152.7 963.3Z" fill="#cc9313"/>
<path d="M1348.1 967.1 L1330.5 963.1 L1348.4 961.6 L1366 965.9Z" fill="#ca9112"/>
<path d="M1169.1 965 L1152.7 963.3 L1171.8 959.4 L1188.2 961.4Z" fill="#cc8e13"/>
<path d="M1312.3 964.7 L1294.9 961.3 L1313.1 959.3 L1330.5 963.1Z" fill="#cb8d12"/>
<path d="M1204.9 963.5 L1188.2 961.4 L1207.1 958 L1223.8 960.4Z" fill="#cc8a12"/>
<path d="M1276.5 963.4 L1259.3 960.4 L1277.7 957.9 L1294.9 961.3Z" fill="#cb8a12"/>
<path d="M1240.7 963 L1223.8 960.4 L1242.4 957.5 L1259.3 960.4Z" fill="#cb8912"/>
<path d="M1581.1 1008 L1561.9 1000.9 L1578.1 1002.4 L1597.3 1009.8Z" fill="#b0c510"/>
<path d="M1545.5 999.5 L1526.5 992.9 L1543 994 L1561.9 1000.9Z" fill="#c3c610"/>
<path d="M1509.8 991.9 L1491 985.9 L1507.7 986.5 L1526.5 992.9Z" fill="#c6b811"/>
<path d="M1473.9 985.3 L1455.3 979.7 L1472.4 980 L1491 985.9Z" fill="#c7ab11"/>
<path d="M1438 979.7 L1419.7 974.6 L1437 974.3 L1455.3 979.7Z" fill="#c79f11"/>
<path d="M1402 974.9 L1383.9 970.3 L1401.5 969.7 L1419.7 974.6Z" fill="#c89511"/>
<path d="M1366 971.2 L1348.1 967.1 L1366 965.9 L1383.9 970.3Z" fill="#c88d11"/>
<path d="M1149.7 968.8 L1133.4 967.5 L1152.7 963.3 L1169.1 965Z" fill="#ca8912"/>
<path d="M1330 968.4 L1312.3 964.7 L1330.5 963.1 L1348.1 967.1Z" fill="#c88711"/>
<path d="M1185.7 966.8 L1169.1 965 L1188.2 961.4 L1204.9 963.5Z" fill="#c98512"/>
<path d="M1293.9 966.5 L1276.5 963.4 L1294.9 961.3 L1312.3 964.7Z" fill="#c98411"/>
<path d="M1221.8 965.7 L1204.9 963.5 L1223.8 960.4 L1240.7 963Z" fill="#c98211"/>
<path d="M1257.8 965.7 L1240.7 963 L1259.3 960.4 L1276.5 963.4Z" fill="#c98211"/>
<path d="M1564.7 1006.3 L1545.5 999.5 L1561.9 1000.9 L1581.1 1008Z" fill="#bec310"/>
<path d="M1528.8 998.2 L1509.8 991.9 L1526.5 992.9 L1545.5 999.5Z" fill="#c4b810"/>
<path d="M1492.7 991.1 L1473.9 985.3 L1491 985.9 L1509.8 991.9Z" fill="#c4a910"/>
<path d="M1456.6 984.9 L1438 979.7 L1455.3 979.7 L1473.9 985.3Z" fill="#c59d10"/>
<path d="M1420.4 979.7 L1402 974.9 L1419.7 974.6 L1438 979.7Z" fill="#c59210"/>
<path d="M1384.2 975.4 L1366 971.2 L1383.9 970.3 L1402 974.9Z" fill="#c68910"/>
<path d="M1347.9 972.2 L1330 968.4 L1348.1 967.1 L1366 971.2Z" fill="#c68311"/>
<path d="M1166.3 970.2 L1149.7 968.8 L1169.1 965 L1185.7 966.8Z" fill="#c77f11"/>
<path d="M1311.5 969.8 L1293.9 966.5 L1312.3 964.7 L1330 968.4Z" fill="#c67e11"/>
<path d="M1202.6 968.7 L1185.7 966.8 L1204.9 963.5 L1221.8 965.7Z" fill="#c77c11"/>
<path d="M1275.2 968.5 L1257.8 965.7 L1276.5 963.4 L1293.9 966.5Z" fill="#c77b11"/>
<path d="M1238.9 968.1 L1221.8 965.7 L1240.7 963 L1257.8 965.7Z" fill="#c77a11"/>
<path d="M1548.1 1004.6 L1528.8 998.2 L1545.5 999.5 L1564.7 1006.3Z" fill="#c1b70f"/>
<path d="M1511.8 997 L1492.7 991.1 L1509.8 991.9 L1528.8 998.2Z" fill="#c2a80f"/>
<path d="M1475.5 990.3 L1456.6 984.9 L1473.9 985.3 L1492.7 991.1Z" fill="#c29b0f"/>
<path d="M1439.1 984.6 L1420.4 979.7 L1438 979.7 L1456.6 984.9Z" fill="#c38f10"/>
<path d="M1402.6 979.9 L1384.2 975.4 L1402 974.9 L1420.4 979.7Z" fill="#c38510"/>
<path d="M1366 976.1 L1347.9 972.2 L1366 971.2 L1384.2 975.4Z" fill="#c47e10"/>
<path d="M1329.4 973.3 L1311.5 969.8 L1330 968.4 L1347.9 972.2Z" fill="#c47810"/>
<path d="M1183.1 971.8 L1166.3 970.2 L1185.7 966.8 L1202.6 968.7Z" fill="#c57610"/>
<path d="M1292.9 971.4 L1275.2 968.5 L1293.9 966.5 L1311.5 969.8Z" fill="#c47510"/>
<path d="M1219.7 970.7 L1202.6 968.7 L1221.8 965.7 L1238.9 968.1Z" fill="#c57310"/>
<path d="M1256.3 970.6 L1238.9 968.1 L1257.8 965.7 L1275.2 968.5Z" fill="#c57310"/>
<path d="M1531.2 1003.1 L1511.8 997 L1528.8 998.2 L1548.1 1004.6Z" fill="#c0a70f"/>
<path d="M1494.6 995.9 L1475.5 990.3 L1492.7 991.1 L1511.8 997Z" fill="#c0990f"/>
<path d="M1457.9 989.7 L1439.1 984.6 L1456.6 984.9 L1475.5 990.3Z" fill="#c18c0f"/>
<path d="M1421.2 984.4 L1402.6 979.9 L1420.4 979.7 L1439.1 984.6Z" fill="#c1820f"/>
<path d="M1384.4 980.1 L1366 976.1 L1384.2 975.4 L1402.6 979.9Z" fill="#c1790f"/>
<path d="M1347.6 976.8 L1329.4 973.3 L1347.9 972.2 L1366 976.1Z" fill="#c2730f"/>
<path d="M1310.7 974.5 L1292.9 971.4 L1311.5 969.8 L1329.4 973.3Z" fill="#c26e0f"/>
<path d="M1200.2 973.4 L1183.1 971.8 L1202.6 968.7 L1219.7 970.7Z" fill="#c36d10"/>
<path d="M1273.9 973.2 L1256.3 970.6 L1275.2 968.5 L1292.9 971.4Z" fill="#c26c0f"/>
<path d="M1237 972.8 L1219.7 970.7 L1238.9 968.1 L1256.3 970.6Z" fill="#c36b0f"/>
<path d="M1514 1001.6 L1494.6 995.9 L1511.8 997 L1531.2 1003.1Z" fill="#be970e"/>
<path d="M1477.1 994.9 L1457.9 989.7 L1475.5 990.3 L1494.6 995.9Z" fill="#be8a0e"/>
<path d="M1440.1 989.2 L1421.2 984.4 L1439.1 984.6 L1457.9 989.7Z" fill="#bf7f0e"/>
<path d="M1403.1 984.4 L1384.4 980.1 L1402.6 979.9 L1421.2 984.4Z" fill="#bf750e"/>
<path d="M1366 980.6 L1347.6 976.8 L1366 976.1 L1384.4 980.1Z" fill="#bf6e0e"/>
<path d="M1328.9 977.7 L1310.7 974.5 L1329.4 973.3 L1347.6 976.8Z" fill="#c0680f"/>
<path d="M1291.8 975.9 L1273.9 973.2 L1292.9 971.4 L1310.7 974.5Z" fill="#c0650f"/>
<path d="M1217.5 975.2 L1200.2 973.4 L1219.7 970.7 L1237 972.8Z" fill="#c1640f"/>
<path d="M1254.6 975.1 L1237 972.8 L1256.3 970.6 L1273.9 973.2Z" fill="#c0630f"/>
<path d="M1496.5 1000.3 L1477.1 994.9 L1494.6 995.9 L1514 1001.6Z" fill="#bc880d"/>
<path d="M1459.3 994 L1440.1 989.2 L1457.9 989.7 L1477.1 994.9Z" fill="#bc7c0e"/>
<path d="M1422 988.7 L1403.1 984.4 L1421.2 984.4 L1440.1 989.2Z" fill="#bd710e"/>
<path d="M1384.7 984.4 L1366 980.6 L1384.4 980.1 L1403.1 984.4Z" fill="#bd690e"/>
<path d="M1347.3 981.1 L1328.9 977.7 L1347.6 976.8 L1366 980.6Z" fill="#bd630e"/>
<path d="M1309.9 978.8 L1291.8 975.9 L1310.7 974.5 L1328.9 977.7Z" fill="#be5e0e"/>
<path d="M1272.5 977.5 L1254.6 975.1 L1273.9 973.2 L1291.8 975.9Z" fill="#be5c0e"/>
<path d="M1235.1 977.1 L1217.5 975.2 L1237 972.8 L1254.6 975.1Z" fill="#be5b0e"/>
<path d="M1478.8 999.1 L1459.3 994 L1477.1 994.9 L1496.5 1000.3Z" fill="#ba790d"/>
<path d="M1441.2 993.3 L1422 988.7 L1440.1 989.2 L1459.3 994Z" fill="#ba6e0d"/>
<path d="M1403.7 988.5 L1384.7 984.4 L1403.1 984.4 L1422 988.7Z" fill="#bb640d"/>
<path d="M1366 984.6 L1347.3 981.1 L1366 980.6 L1384.7 984.4Z" fill="#bb5d0d"/>
<path d="M1328.3 981.8 L1309.9 978.8 L1328.9 977.7 L1347.3 981.1Z" fill="#bb580d"/>
<path d="M1290.7 980 L1272.5 977.5 L1291.8 975.9 L1309.9 978.8Z" fill="#bc540d"/>
<path d="M1253 979.2 L1235.1 977.1 L1254.6 975.1 L1272.5 977.5Z" fill="#bc530d"/>
<path d="M1460.7 998 L1441.2 993.3 L1459.3 994 L1478.8 999.1Z" fill="#b86a0c"/>
<path d="M1422.9 992.6 L1403.7 988.5 L1422 988.7 L1441.2 993.3Z" fill="#b8600c"/>
<path d="M1385 988.3 L1366 984.6 L1384.7 984.4 L1403.7 988.5Z" fill="#b9580c"/>
<path d="M1347 985 L1328.3 981.8 L1347.3 981.1 L1366 984.6Z" fill="#b9520d"/>
<path d="M1309.1 982.6 L1290.7 980 L1309.9 978.8 L1328.3 981.8Z" fill="#b94d0d"/>
<path d="M1271.1 981.3 L1253 979.2 L1272.5 977.5 L1290.7 980Z" fill="#ba4b0d"/>
<path d="M1442.4 997 L1422.9 992.6 L1441.2 993.3 L1460.7 998Z" fill="#b65c0c"/>
<path d="M1404.2 992.1 L1385 988.3 L1403.7 988.5 L1422.9 992.6Z" fill="#b6530c"/>
<path d="M1366 988.3 L1347 985 L1366 984.6 L1385 988.3Z" fill="#b74c0c"/>
<path d="M1327.8 985.4 L1309.1 982.6 L1328.3 981.8 L1347 985Z" fill="#b7470c"/>
<path d="M1289.5 983.6 L1271.1 981.3 L1290.7 980 L1309.1 982.6Z" fill="#b7430c"/>
<path d="M1423.8 996.1 L1404.2 992.1 L1422.9 992.6 L1442.4 997Z" fill="#b44e0b"/>
<path d="M1385.3 991.7 L1366 988.3 L1385 988.3 L1404.2 992.1Z" fill="#b4460b"/>
<path d="M1346.7 988.4 L1327.8 985.4 L1347 985 L1366 988.3Z" fill="#b5400b"/>
<path d="M1308.2 986 L1289.5 983.6 L1309.1 982.6 L1327.8 985.4Z" fill="#b53c0b"/>
<path d="M1404.8 995.3 L1385.3 991.7 L1404.2 992.1 L1423.8 996.1Z" fill="#b2410b"/>
<path d="M1366 991.5 L1346.7 988.4 L1366 988.3 L1385.3 991.7Z" fill="#b23a0b"/>
<path d="M1327.2 988.6 L1308.2 986 L1327.8 985.4 L1346.7 988.4Z" fill="#b3350b"/>
<path d="M1385.6 994.7 L1366 991.5 L1385.3 991.7 L1404.8 995.3Z" fill="#b0340a"/>
<path d="M1346.4 991.3 L1327.2 988.6 L1346.7 988.4 L1366 991.5Z" fill="#b02e0a"/>
<path d="M1366 994.2 L1346.4 991.3 L1366 991.5 L1385.6 994.7Z" fill="#ae2809"/>
</g>
<path d="M1366 912L1366 947.9" stroke="#222" stroke-width="1.07"/>
<circle cx="1366" cy="912" r="6.4" fill="#c80000" stroke="#500" stroke-width="0.96"/>
<path d="M1366 933.1L1366 947.9" stroke="#222" stroke-width="1.07"/>
<circle cx="1366" cy="933.1" r="6.4" fill="#c80000" stroke="#500" stroke-width="0.96"/>
<path d="M1366 944.8L1366 947.9" stroke="#222" stroke-width="1.07"/>
<circle cx="1366" cy="944.8" r="6.4" fill="#c80000" stroke="#500" stroke-width="0.96"/>
<text x="1023.5" y="1189.9" font-size="21.7" text-anchor="end">90</text>
<text x="1020.3" y="1122.2" font-size="21.7" text-anchor="end">92</text>
<text x="1017" y="1054.6" font-size="21.7" text-anchor="end">94</text>
<text x="1013.7" y="986.9" font-size="21.7" text-anchor="end">96</text>
<text x="1010.5" y="919.3" font-size="21.7" text-anchor="end">98</text>
<text x="1007.2" y="851.7" font-size="21.7" text-anchor="end">100</text>
<text x="1028.1" y="1327.7" font-size="21.7" text-anchor="end">1</text>
<text x="1704.4" y="1327.7" font-size="21.7" text-anchor="start">1</text>
<text x="1109.1" y="1366.6" font-size="21.7" text-anchor="end">0.5</text>
<text x="1623.4" y="1366.6" font-size="21.7" text-anchor="start">0.5</text>
<text x="1190.1" y="1405.6" font-size="21.7" text-anchor="end">0</text>
<text x="1542.4" y="1405.6" font-size="21.7" text-anchor="start">0</text>
<text x="1271.1" y="1444.5" font-size="21.7" text-anchor="end">-0.5</text>
<text x="1461.4" y="1444.5" font-size="21.7" text-anchor="start">-0.5</text>
<text x="1352.1" y="1483.4" font-size="21.7" text-anchor="end">-1</text>
<text x="1380.5" y="1483.4" font-size="21.7" text-anchor="start">-1</text>
<text x="1080.9" y="1447.9" font-size="23.0" text-anchor="middle" textLength="134.1" lengthAdjust="spacingAndGlyphs">Temperature</text>
<text x="1651.1" y="1447.9" font-size="23.0" text-anchor="middle" textLength="227.3" lengthAdjust="spacingAndGlyphs">Initinal Concentration</text>
<text transform="translate(949.4 1088.7) rotate(-90)" font-size="22.7" text-anchor="middle" textLength="156.2" lengthAdjust="spacingAndGlyphs">Removal MG %</text>
<text x="945.4" y="1463.7" font-size="32.0" text-anchor="start">d</text>
<path d="M106.5 2050.1 L446.1 1934.8 L785.8 2050.1 M103.1 1980.2 L446.1 1871.8 L789.2 1980.2 M99.7 1910.4 L446.1 1808.8 L792.5 1910.4 M96.3 1840.6 L446.1 1745.8 L795.9 1840.6 M93 1770.8 L446.1 1682.8 L799.3 1770.8 M191.4 2021.2 L178.7 1680.7 M700.9 2021.2 L713.5 1680.7 M276.3 1992.4 L267.9 1660.4 M616 1992.4 L624.4 1660.4 M361.2 1963.6 L357 1640.1 M531 1963.6 L535.3 1640.1 M111.8 2160 L89.6 1701 M446.1 2034 L446.1 1619.9 M780.5 2160 L802.6 1701" fill="none" stroke="#000" stroke-width="1.54"/>
<path d="M89.6 1701 L446.1 1619.9 L802.6 1701" fill="none" stroke="#000" stroke-width="2.30" stroke-linejoin="round"/>
<path d="M111.8 2160 L446.1 2034 L780.5 2160 L446.1 2320.7Z" fill="#646464"/>
<path d="M329.7 2077.8 L335.6 2079.1 L341.5 2080.4 L349 2082 L353.5 2083 L361.5 2084.7 L365.5 2085.6 L373.6 2087.3 L377.6 2088.2 L385.8 2089.9 L389.8 2090.7 L398 2092.5 L402.1 2093.3 L410.4 2095 L414.5 2095.9 L422.8 2097.6 L427.5 2098.6 L435.4 2100.2 L440.5 2101.3 L448 2102.8 L453.5 2103.9 L460.6 2105.4 L466.5 2106.6 L473.4 2108 L479.5 2109.2 L486.2 2110.6 L492.6 2111.9 L499.1 2113.2 L505.7 2114.6 L512 2115.8 L518.8 2117.2 L525.1 2118.5 L531.9 2119.9 L538.2 2121.1 L545.1 2122.5 L551.3 2123.8 L558.3 2125.2 L564.6 2126.4 L571.6 2127.8 L577.9 2129.1 L584.9 2130.5 L591.2 2131.8 L598.2 2133.2 L604.7 2134.5 L611.6 2135.9 L618.2 2137.2 L625.1 2138.5 L631.8 2139.9 L638.6 2141.2 L645.4 2142.6 L652.1 2143.9 L659.1 2145.3 L665.7 2146.6 L672.9 2148.1 L679.3 2149.4 L686.8 2150.8 L693 2152.1 L700.7 2153.6 L706.8 2154.8 L714.7 2156.4 L720.6 2157.6 L728.8 2159.2 L734.5 2160.3 L742.9 2162 L748.4 2163.1 L757.1 2164.8 L762.3 2165.8 L766.6 2166.7" fill="none" stroke="#b8f700" stroke-width="3.09" stroke-linecap="round" stroke-linejoin="round"/>
<path d="M126.8 2154.4 L137 2153 L142.2 2152.3 L147.5 2151.6 L156.6 2150.6 L163.5 2149.8 L169 2149.3 L174.7 2148.8 L183.3 2148 L191.3 2147.4 L197 2147 L202.8 2146.6 L208.6 2146.2 L215.4 2145.8 L223 2145.5 L230.3 2145.2 L237.6 2144.9 L244.7 2144.7 L251.2 2144.6 L257.6 2144.5 L264 2144.4 L270.5 2144.4 L277.1 2144.4 L283.8 2144.4 L290.6 2144.5 L297.4 2144.6 L304.1 2144.7 L310.3 2144.9 L316.5 2145 L322.6 2145.2 L328.6 2145.5 L334.6 2145.7 L340.5 2146 L347.7 2146.3 L355.3 2146.8 L362.9 2147.2 L369.6 2147.6 L375.3 2148 L380.9 2148.4 L386.6 2148.8 L394.5 2149.4 L402.6 2150 L408.8 2150.5 L414.3 2151 L419.8 2151.5 L427.6 2152.2 L436.1 2153 L441.6 2153.5 L446.9 2154 L453.5 2154.7 L462.4 2155.6 L468.3 2156.3 L473.7 2156.8 L480.4 2157.6 L489.5 2158.6 L494.8 2159.2 L500.1 2159.8 L508.2 2160.8 L515.8 2161.7 L521 2162.3 L527.2 2163.1 L536.7 2164.3 L541.9 2165 L547.1 2165.6 L556.5 2166.9 L562.6 2167.7 L567.8 2168.4 L576.6 2169.5 L583.3 2170.5 L588.5 2171.2 L597 2172.4 L603.9 2173.3 L609.1 2174.1 L617.9 2175.3 L624.5 2176.3 L629.7 2177 L639.2 2178.4 L645.1 2179.3 L650.3 2180.1 L660.6 2181.6 L665.7 2182.4 L671.8 2183.3 L681.2 2184.7 L686.3 2185.5 L694 2186.7 L701.8 2187.9 L707 2188.7 L716.7 2190.3 L717.3 2190.4" fill="none" stroke="#f7f700" stroke-width="3.09" stroke-linecap="round" stroke-linejoin="round"/>
<path d="M201.7 2203.2 L207.5 2202.7 L215.1 2202 L223.8 2201.3 L231.1 2200.7 L237.1 2200.3 L243.2 2199.9 L249.3 2199.5 L256.9 2199.1 L264.9 2198.6 L272.7 2198.3 L280.4 2197.9 L286.8 2197.7 L293.2 2197.5 L299.7 2197.3 L306.2 2197.1 L312.8 2196.9 L319.4 2196.8 L326.1 2196.7 L332.8 2196.6 L339.6 2196.6 L346.5 2196.6 L353.4 2196.6 L360.4 2196.6 L367.4 2196.7 L374.5 2196.8 L381.6 2196.9 L388.8 2197 L396.1 2197.2 L403.4 2197.4 L410.9 2197.6 L418.3 2197.8 L425 2198.1 L431.3 2198.3 L437.6 2198.6 L443.9 2198.9 L450.1 2199.2 L456.7 2199.5 L464.6 2200 L472.6 2200.4 L480.6 2200.9 L486.9 2201.3 L492.9 2201.7 L498.9 2202.1 L505.2 2202.5 L513.5 2203.1 L521.9 2203.8 L528.7 2204.3 L534.6 2204.8 L540.5 2205.2 L547.6 2205.8 L556.4 2206.6 L563.9 2207.2 L569.7 2207.8 L575.5 2208.3 L583 2209 L592.1 2209.9 L598.6 2210.5 L604.3 2211.1 L610.4 2211.7 L619.7 2212.7 L627.2 2213.5 L632.9 2214.1 L638.6 2214.7 L648.1 2215.7 L655.7 2216.6 L661.4 2217.2" fill="none" stroke="#f7b500" stroke-width="3.09" stroke-linecap="round" stroke-linejoin="round"/>
<path d="M289.7 2245.5 L296.1 2245.1 L302.9 2244.8 L311 2244.3 L319.1 2244 L327 2243.6 L334.9 2243.3 L341.9 2243.1 L348.6 2242.8 L355.4 2242.6 L362.1 2242.5 L369 2242.3 L375.9 2242.2 L382.8 2242.1 L389.8 2242 L396.8 2241.9 L403.8 2241.9 L411 2241.9 L418.1 2241.9 L425.3 2241.9 L432.6 2242 L439.9 2242 L447.3 2242.1 L454.7 2242.2 L462.2 2242.4 L469.7 2242.6 L477.3 2242.7 L484.9 2243 L492.6 2243.2 L499.4 2243.4 L506 2243.7 L512.6 2243.9 L519.2 2244.2 L525.8 2244.5 L532.3 2244.8 L540.1 2245.2 L548.2 2245.6 L556.3 2246 L564.6 2246.5 L571 2246.8 L577.4 2247.2 L583.7 2247.6 L590.1 2248 L596.4 2248.4" fill="none" stroke="#f76e00" stroke-width="3.09" stroke-linecap="round" stroke-linejoin="round"/>
<path d="M368.3 2283.3 L375.1 2283 L382 2282.7 L388.8 2282.5 L395.8 2282.3 L402.7 2282.1 L409.8 2281.9 L416.8 2281.7 L424.1 2281.6 L431.7 2281.5 L439.3 2281.4 L446.9 2281.3 L454.4 2281.2 L461.8 2281.2 L469.2 2281.2 L476.6 2281.2 L483.9 2281.2 L491.2 2281.3 L498.4 2281.4 L505.6 2281.4 L512.8 2281.5 L520 2281.7 L527 2281.8" fill="none" stroke="#f72900" stroke-width="3.09" stroke-linecap="round" stroke-linejoin="round"/>
<path d="M111.8 2160 L446.1 2034 L780.5 2160 L446.1 2320.7Z" fill="none" stroke="#000" stroke-width="2.40" stroke-linejoin="round"/>
<g fill="#000"><circle cx="111.8" cy="2160" r="3.3"/><circle cx="195.3" cy="2200.2" r="3.3"/><circle cx="278.9" cy="2240.3" r="3.3"/><circle cx="362.5" cy="2280.5" r="3.3"/><circle cx="446.1" cy="2320.7" r="3.3"/><circle cx="529.7" cy="2280.5" r="3.3"/><circle cx="613.3" cy="2240.3" r="3.3"/><circle cx="696.9" cy="2200.2" r="3.3"/><circle cx="780.5" cy="2160" r="3.3"/><circle cx="106.5" cy="2050.1" r="3.3"/><circle cx="103.1" cy="1980.2" r="3.3"/><circle cx="99.7" cy="1910.4" r="3.3"/><circle cx="96.3" cy="1840.6" r="3.3"/><circle cx="93" cy="1770.8" r="3.3"/><circle cx="89.6" cy="1701" r="3.3"/></g>

<g stroke="#000" stroke-width="1.27" stroke-linejoin="round">
<path d="M446.1 1748.8 L430.5 1743.7 L446.1 1741.9 L461.7 1747.1Z" fill="#97e420"/>
<path d="M461.9 1753.7 L446.1 1748.8 L461.7 1747.1 L477.5 1752.2Z" fill="#93e11e"/>
<path d="M430.3 1750.5 L414.7 1745.6 L430.5 1743.7 L446.1 1748.8Z" fill="#9de320"/>
<path d="M477.9 1758.5 L461.9 1753.7 L477.5 1752.2 L493.5 1757.1Z" fill="#8fde1d"/>
<path d="M446.1 1755.3 L430.3 1750.5 L446.1 1748.8 L461.9 1753.7Z" fill="#99e01e"/>
<path d="M414.3 1752.3 L398.7 1747.5 L414.7 1745.6 L430.3 1750.5Z" fill="#a3e21f"/>
<path d="M494.1 1763.2 L477.9 1758.5 L493.5 1757.1 L509.7 1762Z" fill="#8bdb1b"/>
<path d="M462.1 1760 L446.1 1755.3 L461.9 1753.7 L477.9 1758.5Z" fill="#96dd1c"/>
<path d="M430.1 1757 L414.3 1752.3 L430.3 1750.5 L446.1 1755.3Z" fill="#9fdf1d"/>
<path d="M398.1 1754.2 L382.5 1749.6 L398.7 1747.5 L414.3 1752.3Z" fill="#a8e11e"/>
<path d="M510.4 1767.8 L494.1 1763.2 L509.7 1762 L526 1766.7Z" fill="#88d819"/>
<path d="M478.3 1764.5 L462.1 1760 L477.9 1758.5 L494.1 1763.2Z" fill="#92da1a"/>
<path d="M446.1 1761.5 L430.1 1757 L446.1 1755.3 L462.1 1760Z" fill="#9cdc1b"/>
<path d="M413.9 1758.7 L398.1 1754.2 L414.3 1752.3 L430.1 1757Z" fill="#a5de1d"/>
<path d="M381.7 1756.2 L366.1 1751.7 L382.5 1749.6 L398.1 1754.2Z" fill="#ade01e"/>
<path d="M527 1772.3 L510.4 1767.8 L526 1766.7 L542.5 1771.4Z" fill="#85d517"/>
<path d="M494.7 1769 L478.3 1764.5 L494.1 1763.2 L510.4 1767.8Z" fill="#8fd719"/>
<path d="M462.3 1765.9 L446.1 1761.5 L462.1 1760 L478.3 1764.5Z" fill="#99d91a"/>
<path d="M429.9 1763.1 L413.9 1758.7 L430.1 1757 L446.1 1761.5Z" fill="#a2db1b"/>
<path d="M397.5 1760.5 L381.7 1756.2 L398.1 1754.2 L413.9 1758.7Z" fill="#abdd1c"/>
<path d="M365.1 1758.2 L349.5 1753.9 L366.1 1751.7 L381.7 1756.2Z" fill="#b2df1d"/>
<path d="M543.7 1776.7 L527 1772.3 L542.5 1771.4 L559.3 1775.9Z" fill="#83d216"/>
<path d="M511.2 1773.4 L494.7 1769 L510.4 1767.8 L527 1772.3Z" fill="#8dd417"/>
<path d="M478.7 1770.2 L462.3 1765.9 L478.3 1764.5 L494.7 1769Z" fill="#97d618"/>
<path d="M446.1 1767.4 L429.9 1763.1 L446.1 1761.5 L462.3 1765.9Z" fill="#a0d819"/>
<path d="M413.5 1764.8 L397.5 1760.5 L413.9 1758.7 L429.9 1763.1Z" fill="#a8da1a"/>
<path d="M380.9 1762.5 L365.1 1758.2 L381.7 1756.2 L397.5 1760.5Z" fill="#b0dc1b"/>
<path d="M348.3 1760.4 L332.7 1756.2 L349.5 1753.9 L365.1 1758.2Z" fill="#b7de1d"/>
<path d="M560.7 1781 L543.7 1776.7 L559.3 1775.9 L576.2 1780.4Z" fill="#81cf14"/>
<path d="M528 1777.6 L511.2 1773.4 L527 1772.3 L543.7 1776.7Z" fill="#8bd115"/>
<path d="M495.3 1774.5 L478.7 1770.2 L494.7 1769 L511.2 1773.4Z" fill="#95d316"/>
<path d="M462.5 1771.6 L446.1 1767.4 L462.3 1765.9 L478.7 1770.2Z" fill="#9ed517"/>
<path d="M429.7 1768.9 L413.5 1764.8 L429.9 1763.1 L446.1 1767.4Z" fill="#a6d719"/>
<path d="M396.9 1766.6 L380.9 1762.5 L397.5 1760.5 L413.5 1764.8Z" fill="#aed91a"/>
<path d="M364.1 1764.5 L348.3 1760.4 L365.1 1758.2 L380.9 1762.5Z" fill="#b5db1b"/>
<path d="M331.3 1762.6 L315.7 1758.6 L332.7 1756.2 L348.3 1760.4Z" fill="#bcdd1c"/>
<path d="M577.8 1785.2 L560.7 1781 L576.2 1780.4 L593.3 1784.7Z" fill="#7fcb12"/>
<path d="M544.9 1781.7 L528 1777.6 L543.7 1776.7 L560.7 1781Z" fill="#89cd13"/>
<path d="M512 1778.6 L495.3 1774.5 L511.2 1773.4 L528 1777.6Z" fill="#93d015"/>
<path d="M479.1 1775.6 L462.5 1771.6 L478.7 1770.2 L495.3 1774.5Z" fill="#9cd216"/>
<path d="M446.1 1773 L429.7 1768.9 L446.1 1767.4 L462.5 1771.6Z" fill="#a4d417"/>
<path d="M413.1 1770.6 L396.9 1766.6 L413.5 1764.8 L429.7 1768.9Z" fill="#acd618"/>
<path d="M380.1 1768.4 L364.1 1764.5 L380.9 1762.5 L396.9 1766.6Z" fill="#b4d819"/>
<path d="M347.1 1766.5 L331.3 1762.6 L348.3 1760.4 L364.1 1764.5Z" fill="#bada1a"/>
<path d="M314.1 1764.9 L298.4 1761 L315.7 1758.6 L331.3 1762.6Z" fill="#c0dc1b"/>
<path d="M595.2 1789.2 L577.8 1785.2 L593.3 1784.7 L610.7 1788.9Z" fill="#7ec811"/>
<path d="M562.1 1785.8 L544.9 1781.7 L560.7 1781 L577.8 1785.2Z" fill="#88ca12"/>
<path d="M529 1782.5 L512 1778.6 L528 1777.6 L544.9 1781.7Z" fill="#91cc13"/>
<path d="M495.9 1779.6 L479.1 1775.6 L495.3 1774.5 L512 1778.6Z" fill="#9bcf14"/>
<path d="M462.7 1776.9 L446.1 1773 L462.5 1771.6 L479.1 1775.6Z" fill="#a3d115"/>
<path d="M429.5 1774.4 L413.1 1770.6 L429.7 1768.9 L446.1 1773Z" fill="#abd316"/>
<path d="M396.3 1772.3 L380.1 1768.4 L396.9 1766.6 L413.1 1770.6Z" fill="#b2d517"/>
<path d="M363.1 1770.4 L347.1 1766.5 L364.1 1764.5 L380.1 1768.4Z" fill="#b9d719"/>
<path d="M329.9 1768.7 L314.1 1764.9 L331.3 1762.6 L347.1 1766.5Z" fill="#bfd91a"/>
<path d="M296.6 1767.3 L281 1763.6 L298.4 1761 L314.1 1764.9Z" fill="#c5db1b"/>
<path d="M612.8 1793.2 L595.2 1789.2 L610.7 1788.9 L628.2 1793Z" fill="#7dc510"/>
<path d="M579.5 1789.7 L562.1 1785.8 L577.8 1785.2 L595.2 1789.2Z" fill="#87c711"/>
<path d="M546.2 1786.4 L529 1782.5 L544.9 1781.7 L562.1 1785.8Z" fill="#91c911"/>
<path d="M512.9 1783.4 L495.9 1779.6 L512 1778.6 L529 1782.5Z" fill="#9acb12"/>
<path d="M479.5 1780.7 L462.7 1776.9 L479.1 1775.6 L495.9 1779.6Z" fill="#a2cd13"/>
<path d="M446.1 1778.2 L429.5 1774.4 L446.1 1773 L462.7 1776.9Z" fill="#aad015"/>
<path d="M412.7 1776 L396.3 1772.3 L413.1 1770.6 L429.5 1774.4Z" fill="#b1d216"/>
<path d="M379.3 1774.1 L363.1 1770.4 L380.1 1768.4 L396.3 1772.3Z" fill="#b8d417"/>
<path d="M345.9 1772.4 L329.9 1768.7 L347.1 1766.5 L363.1 1770.4Z" fill="#bed618"/>
<path d="M312.4 1771 L296.6 1767.3 L314.1 1764.9 L329.9 1768.7Z" fill="#c4d819"/>
<path d="M279 1769.8 L263.4 1766.2 L281 1763.6 L296.6 1767.3Z" fill="#c9da1a"/>
<path d="M630.6 1797 L612.8 1793.2 L628.2 1793 L646 1797Z" fill="#7dc20f"/>
<path d="M597.1 1793.4 L579.5 1789.7 L595.2 1789.2 L612.8 1793.2Z" fill="#87c410"/>
<path d="M563.6 1790.1 L546.2 1786.4 L562.1 1785.8 L579.5 1789.7Z" fill="#90c611"/>
<path d="M530.1 1787.1 L512.9 1783.4 L529 1782.5 L546.2 1786.4Z" fill="#99c811"/>
<path d="M496.5 1784.3 L479.5 1780.7 L495.9 1779.6 L512.9 1783.4Z" fill="#a1ca12"/>
<path d="M462.9 1781.8 L446.1 1778.2 L462.7 1776.9 L479.5 1780.7Z" fill="#a9cc13"/>
<path d="M429.3 1779.6 L412.7 1776 L429.5 1774.4 L446.1 1778.2Z" fill="#b1ce14"/>
<path d="M395.7 1777.6 L379.3 1774.1 L396.3 1772.3 L412.7 1776Z" fill="#b8d115"/>
<path d="M362 1775.9 L345.9 1772.4 L363.1 1770.4 L379.3 1774.1Z" fill="#bed316"/>
<path d="M328.4 1774.5 L312.4 1771 L329.9 1768.7 L345.9 1772.4Z" fill="#c3d517"/>
<path d="M294.7 1773.3 L279 1769.8 L296.6 1767.3 L312.4 1771Z" fill="#c8d719"/>
<path d="M261.1 1772.4 L245.5 1769 L263.4 1766.2 L279 1769.8Z" fill="#cdd91a"/>
<path d="M648.6 1800.7 L630.6 1797 L646 1797 L664 1800.8Z" fill="#7dbf0e"/>
<path d="M614.9 1797.1 L597.1 1793.4 L612.8 1793.2 L630.6 1797Z" fill="#87c10f"/>
<path d="M581.2 1793.8 L563.6 1790.1 L579.5 1789.7 L597.1 1793.4Z" fill="#90c310"/>
<path d="M547.5 1790.7 L530.1 1787.1 L546.2 1786.4 L563.6 1790.1Z" fill="#99c510"/>
<path d="M513.7 1787.9 L496.5 1784.3 L512.9 1783.4 L530.1 1787.1Z" fill="#a1c711"/>
<path d="M479.9 1785.3 L462.9 1781.8 L479.5 1780.7 L496.5 1784.3Z" fill="#a9c911"/>
<path d="M446.1 1783.1 L429.3 1779.6 L446.1 1778.2 L462.9 1781.8Z" fill="#b0cb12"/>
<path d="M412.3 1781.1 L395.7 1777.6 L412.7 1776 L429.3 1779.6Z" fill="#b7cd13"/>
<path d="M378.4 1779.3 L362 1775.9 L379.3 1774.1 L395.7 1777.6Z" fill="#becf15"/>
<path d="M344.6 1777.9 L328.4 1774.5 L345.9 1772.4 L362 1775.9Z" fill="#c3d216"/>
<path d="M310.7 1776.7 L294.7 1773.3 L312.4 1771 L328.4 1774.5Z" fill="#c8d417"/>
<path d="M276.8 1775.8 L261.1 1772.4 L279 1769.8 L294.7 1773.3Z" fill="#cdd618"/>
<path d="M243 1775.1 L227.4 1771.8 L245.5 1769 L261.1 1772.4Z" fill="#d1d819"/>
<path d="M666.8 1804.3 L648.6 1800.7 L664 1800.8 L682.2 1804.6Z" fill="#7dbc0d"/>
<path d="M633 1800.6 L614.9 1797.1 L630.6 1797 L648.6 1800.7Z" fill="#87be0e"/>
<path d="M599.1 1797.2 L581.2 1793.8 L597.1 1793.4 L614.9 1797.1Z" fill="#90c00f"/>
<path d="M565.1 1794.1 L547.5 1790.7 L563.6 1790.1 L581.2 1793.8Z" fill="#99c20f"/>
<path d="M531.2 1791.3 L513.7 1787.9 L530.1 1787.1 L547.5 1790.7Z" fill="#a2c410"/>
<path d="M497.2 1788.7 L479.9 1785.3 L496.5 1784.3 L513.7 1787.9Z" fill="#a9c611"/>
<path d="M463.1 1786.4 L446.1 1783.1 L462.9 1781.8 L479.9 1785.3Z" fill="#b1c811"/>
<path d="M429.1 1784.4 L412.3 1781.1 L429.3 1779.6 L446.1 1783.1Z" fill="#b7ca12"/>
<path d="M395 1782.6 L378.4 1779.3 L395.7 1777.6 L412.3 1781.1Z" fill="#becc13"/>
<path d="M361 1781.2 L344.6 1777.9 L362 1775.9 L378.4 1779.3Z" fill="#c3ce14"/>
<path d="M326.9 1779.9 L310.7 1776.7 L328.4 1774.5 L344.6 1777.9Z" fill="#c9d015"/>
<path d="M292.8 1779 L276.8 1775.8 L294.7 1773.3 L310.7 1776.7Z" fill="#cdd216"/>
<path d="M258.7 1778.3 L243 1775.1 L261.1 1772.4 L276.8 1775.8Z" fill="#d1d417"/>
<path d="M224.6 1777.9 L209.1 1774.7 L227.4 1771.8 L243 1775.1Z" fill="#d4d718"/>
<path d="M685.3 1807.7 L666.8 1804.3 L682.2 1804.6 L700.7 1808.2Z" fill="#7eb90d"/>
<path d="M651.3 1804 L633 1800.6 L648.6 1800.7 L666.8 1804.3Z" fill="#88bb0d"/>
<path d="M617.2 1800.6 L599.1 1797.2 L614.9 1797.1 L633 1800.6Z" fill="#91bd0e"/>
<path d="M583 1797.5 L565.1 1794.1 L581.2 1793.8 L599.1 1797.2Z" fill="#9abf0e"/>
<path d="M548.8 1794.6 L531.2 1791.3 L547.5 1790.7 L565.1 1794.1Z" fill="#a2c10f"/>
<path d="M514.6 1792 L497.2 1788.7 L513.7 1787.9 L531.2 1791.3Z" fill="#aac310"/>
<path d="M480.4 1789.7 L463.1 1786.4 L479.9 1785.3 L497.2 1788.7Z" fill="#b1c510"/>
<path d="M446.1 1787.6 L429.1 1784.4 L446.1 1783.1 L463.1 1786.4Z" fill="#b8c711"/>
<path d="M411.8 1785.8 L395 1782.6 L412.3 1781.1 L429.1 1784.4Z" fill="#bec911"/>
<path d="M377.6 1784.3 L361 1781.2 L378.4 1779.3 L395 1782.6Z" fill="#c4cb12"/>
<path d="M343.3 1783 L326.9 1779.9 L344.6 1777.9 L361 1781.2Z" fill="#c9cd13"/>
<path d="M308.9 1782.1 L292.8 1779 L310.7 1776.7 L326.9 1779.9Z" fill="#cecf14"/>
<path d="M274.6 1781.4 L258.7 1778.3 L276.8 1775.8 L292.8 1779Z" fill="#d1d116"/>
<path d="M240.3 1780.9 L224.6 1777.9 L243 1775.1 L258.7 1778.3Z" fill="#d3d217"/>
<path d="M206 1780.8 L190.5 1777.8 L209.1 1774.7 L224.6 1777.9Z" fill="#d5d318"/>
<path d="M704.1 1811 L685.3 1807.7 L700.7 1808.2 L719.4 1811.7Z" fill="#7fb60c"/>
<path d="M669.8 1807.3 L651.3 1804 L666.8 1804.3 L685.3 1807.7Z" fill="#89b80c"/>
<path d="M635.5 1803.9 L617.2 1800.6 L633 1800.6 L651.3 1804Z" fill="#92ba0d"/>
<path d="M601.1 1800.7 L583 1797.5 L599.1 1797.2 L617.2 1800.6Z" fill="#9bbc0d"/>
<path d="M566.7 1797.8 L548.8 1794.6 L565.1 1794.1 L583 1797.5Z" fill="#a3be0e"/>
<path d="M532.3 1795.1 L514.6 1792 L531.2 1791.3 L548.8 1794.6Z" fill="#abc00f"/>
<path d="M497.8 1792.8 L480.4 1789.7 L497.2 1788.7 L514.6 1792Z" fill="#b2c20f"/>
<path d="M463.4 1790.7 L446.1 1787.6 L463.1 1786.4 L480.4 1789.7Z" fill="#b9c410"/>
<path d="M428.9 1788.8 L411.8 1785.8 L429.1 1784.4 L446.1 1787.6Z" fill="#bfc610"/>
<path d="M394.4 1787.3 L377.6 1784.3 L395 1782.6 L411.8 1785.8Z" fill="#c5c811"/>
<path d="M359.8 1786 L343.3 1783 L361 1781.2 L377.6 1784.3Z" fill="#caca12"/>
<path d="M325.3 1785 L308.9 1782.1 L326.9 1779.9 L343.3 1783Z" fill="#ccca13"/>
<path d="M290.8 1784.3 L274.6 1781.4 L292.8 1779 L308.9 1782.1Z" fill="#ceca14"/>
<path d="M256.3 1783.9 L240.3 1780.9 L258.7 1778.3 L274.6 1781.4Z" fill="#d0cb15"/>
<path d="M221.7 1783.7 L206 1780.8 L224.6 1777.9 L240.3 1780.9Z" fill="#d2cc16"/>
<path d="M187.2 1783.8 L171.7 1780.9 L190.5 1777.8 L206 1780.8Z" fill="#d4ce17"/>
<path d="M723.1 1814.2 L704.1 1811 L719.4 1811.7 L738.3 1815Z" fill="#80b20b"/>
<path d="M688.6 1810.5 L669.8 1807.3 L685.3 1807.7 L704.1 1811Z" fill="#8ab40b"/>
<path d="M654 1807 L635.5 1803.9 L651.3 1804 L669.8 1807.3Z" fill="#93b70c"/>
<path d="M619.5 1803.7 L601.1 1800.7 L617.2 1800.6 L635.5 1803.9Z" fill="#9cb90c"/>
<path d="M584.8 1800.8 L566.7 1797.8 L583 1797.5 L601.1 1800.7Z" fill="#a4bb0d"/>
<path d="M550.2 1798.1 L532.3 1795.1 L548.8 1794.6 L566.7 1797.8Z" fill="#acbd0e"/>
<path d="M515.5 1795.7 L497.8 1792.8 L514.6 1792 L532.3 1795.1Z" fill="#b3bf0e"/>
<path d="M480.8 1793.6 L463.4 1790.7 L480.4 1789.7 L497.8 1792.8Z" fill="#bac10f"/>
<path d="M446.1 1791.7 L428.9 1788.8 L446.1 1787.6 L463.4 1790.7Z" fill="#c0c310"/>
<path d="M411.4 1790.2 L394.4 1787.3 L411.8 1785.8 L428.9 1788.8Z" fill="#c5c410"/>
<path d="M376.6 1788.9 L359.8 1786 L377.6 1784.3 L394.4 1787.3Z" fill="#c7c311"/>
<path d="M341.9 1787.8 L325.3 1785 L343.3 1783 L359.8 1786Z" fill="#c9c211"/>
<path d="M307.1 1787.1 L290.8 1784.3 L308.9 1782.1 L325.3 1785Z" fill="#cbc212"/>
<path d="M272.4 1786.6 L256.3 1783.9 L274.6 1781.4 L290.8 1784.3Z" fill="#cdc313"/>
<path d="M168.1 1786.9 L152.7 1784.2 L171.7 1780.9 L187.2 1783.8Z" fill="#d3c917"/>
<path d="M237.6 1786.4 L221.7 1783.7 L240.3 1780.9 L256.3 1783.9Z" fill="#cfc414"/>
<path d="M202.9 1786.5 L187.2 1783.8 L206 1780.8 L221.7 1783.7Z" fill="#d1c615"/>
<path d="M742.3 1817.3 L723.1 1814.2 L738.3 1815 L757.5 1818.3Z" fill="#82af0a"/>
<path d="M707.6 1813.5 L688.6 1810.5 L704.1 1811 L723.1 1814.2Z" fill="#8bb10a"/>
<path d="M672.8 1809.9 L654 1807 L669.8 1807.3 L688.6 1810.5Z" fill="#94b30b"/>
<path d="M638.1 1806.7 L619.5 1803.7 L635.5 1803.9 L654 1807Z" fill="#9db50c"/>
<path d="M603.2 1803.7 L584.8 1800.8 L601.1 1800.7 L619.5 1803.7Z" fill="#a5b80c"/>
<path d="M568.4 1801 L550.2 1798.1 L566.7 1797.8 L584.8 1800.8Z" fill="#adba0d"/>
<path d="M533.5 1798.5 L515.5 1795.7 L532.3 1795.1 L550.2 1798.1Z" fill="#b5bc0d"/>
<path d="M498.5 1796.4 L480.8 1793.6 L497.8 1792.8 L515.5 1795.7Z" fill="#bbbe0e"/>
<path d="M463.6 1794.5 L446.1 1791.7 L463.4 1790.7 L480.8 1793.6Z" fill="#c0be0f"/>
<path d="M428.6 1792.9 L411.4 1790.2 L428.9 1788.8 L446.1 1791.7Z" fill="#c2bc0f"/>
<path d="M393.7 1791.6 L376.6 1788.9 L394.4 1787.3 L411.4 1790.2Z" fill="#c4bb10"/>
<path d="M358.7 1790.5 L341.9 1787.8 L359.8 1786 L376.6 1788.9Z" fill="#c6ba10"/>
<path d="M323.7 1789.8 L307.1 1787.1 L325.3 1785 L341.9 1787.8Z" fill="#c8ba11"/>
<path d="M148.8 1790.1 L133.4 1787.5 L152.7 1784.2 L168.1 1786.9Z" fill="#d2c316"/>
<path d="M288.7 1789.3 L272.4 1786.6 L290.8 1784.3 L307.1 1787.1Z" fill="#cabb12"/>
<path d="M183.8 1789.4 L168.1 1786.9 L187.2 1783.8 L202.9 1786.5Z" fill="#d0c015"/>
<path d="M253.7 1789 L237.6 1786.4 L256.3 1783.9 L272.4 1786.6Z" fill="#ccbc13"/>
<path d="M218.7 1789.1 L202.9 1786.5 L221.7 1783.7 L237.6 1786.4Z" fill="#cebe14"/>
<path d="M761.8 1820.2 L742.3 1817.3 L757.5 1818.3 L777 1821.4Z" fill="#83ac09"/>
<path d="M726.9 1816.4 L707.6 1813.5 L723.1 1814.2 L742.3 1817.3Z" fill="#8dae09"/>
<path d="M691.9 1812.8 L672.8 1809.9 L688.6 1810.5 L707.6 1813.5Z" fill="#96b00a"/>
<path d="M656.9 1809.5 L638.1 1806.7 L654 1807 L672.8 1809.9Z" fill="#9fb20b"/>
<path d="M621.8 1806.5 L603.2 1803.7 L619.5 1803.7 L638.1 1806.7Z" fill="#a7b40b"/>
<path d="M586.7 1803.7 L568.4 1801 L584.8 1800.8 L603.2 1803.7Z" fill="#afb60c"/>
<path d="M551.6 1801.2 L533.5 1798.5 L550.2 1798.1 L568.4 1801Z" fill="#b6b90c"/>
<path d="M516.5 1799 L498.5 1796.4 L515.5 1795.7 L533.5 1798.5Z" fill="#bbb80d"/>
<path d="M481.3 1797.1 L463.6 1794.5 L480.8 1793.6 L498.5 1796.4Z" fill="#bdb60e"/>
<path d="M446.1 1795.5 L428.6 1792.9 L446.1 1791.7 L463.6 1794.5Z" fill="#bfb40e"/>
<path d="M410.9 1794.1 L393.7 1791.6 L411.4 1790.2 L428.6 1792.9Z" fill="#c1b30f"/>
<path d="M375.7 1793.1 L358.7 1790.5 L376.6 1788.9 L393.7 1791.6Z" fill="#c3b20f"/>
<path d="M129.3 1793.4 L113.9 1791 L133.4 1787.5 L148.8 1790.1Z" fill="#d1bf15"/>
<path d="M340.5 1792.3 L323.7 1789.8 L341.9 1787.8 L358.7 1790.5Z" fill="#c5b210"/>
<path d="M164.4 1792.5 L148.8 1790.1 L168.1 1786.9 L183.8 1789.4Z" fill="#cfbb14"/>
<path d="M305.3 1791.7 L288.7 1789.3 L307.1 1787.1 L323.7 1789.8Z" fill="#c7b311"/>
<path d="M199.6 1791.9 L183.8 1789.4 L202.9 1786.5 L218.7 1789.1Z" fill="#cdb813"/>
<path d="M270 1791.5 L253.7 1789 L272.4 1786.6 L288.7 1789.3Z" fill="#c9b411"/>
<path d="M234.8 1791.6 L218.7 1789.1 L237.6 1786.4 L253.7 1789Z" fill="#cbb512"/>
<path d="M781.6 1823 L761.8 1820.2 L777 1821.4 L796.7 1824.3Z" fill="#85a908"/>
<path d="M746.4 1819.1 L726.9 1816.4 L742.3 1817.3 L761.8 1820.2Z" fill="#8fab09"/>
<path d="M711.2 1815.5 L691.9 1812.8 L707.6 1813.5 L726.9 1816.4Z" fill="#98ad09"/>
<path d="M676 1812.2 L656.9 1809.5 L672.8 1809.9 L691.9 1812.8Z" fill="#a1af0a"/>
<path d="M640.7 1809.1 L621.8 1806.5 L638.1 1806.7 L656.9 1809.5Z" fill="#a9b10a"/>
<path d="M605.4 1806.3 L586.7 1803.7 L603.2 1803.7 L621.8 1806.5Z" fill="#b1b30b"/>
<path d="M570 1803.8 L551.6 1801.2 L568.4 1801 L586.7 1803.7Z" fill="#b5b30c"/>
<path d="M534.7 1801.6 L516.5 1799 L533.5 1798.5 L551.6 1801.2Z" fill="#b7b00c"/>
<path d="M499.3 1799.6 L481.3 1797.1 L498.5 1796.4 L516.5 1799Z" fill="#b9ae0d"/>
<path d="M463.8 1797.9 L446.1 1795.5 L463.6 1794.5 L481.3 1797.1Z" fill="#bcac0d"/>
<path d="M428.4 1796.6 L410.9 1794.1 L428.6 1792.9 L446.1 1795.5Z" fill="#beab0e"/>
<path d="M109.4 1796.8 L94.1 1794.5 L113.9 1791 L129.3 1793.4Z" fill="#d0ba15"/>
<path d="M393 1795.5 L375.7 1793.1 L393.7 1791.6 L410.9 1794.1Z" fill="#c0aa0f"/>
<path d="M144.8 1795.6 L129.3 1793.4 L148.8 1790.1 L164.4 1792.5Z" fill="#ceb614"/>
<path d="M357.5 1794.6 L340.5 1792.3 L358.7 1790.5 L375.7 1793.1Z" fill="#c2aa0f"/>
<path d="M180.2 1794.8 L164.4 1792.5 L183.8 1789.4 L199.6 1791.9Z" fill="#ccb213"/>
<path d="M322 1794.1 L305.3 1791.7 L323.7 1789.8 L340.5 1792.3Z" fill="#c4aa10"/>
<path d="M215.7 1794.2 L199.6 1791.9 L218.7 1789.1 L234.8 1791.6Z" fill="#caaf12"/>
<path d="M286.6 1793.8 L270 1791.5 L288.7 1789.3 L305.3 1791.7Z" fill="#c6ab10"/>
<path d="M251.1 1793.9 L234.8 1791.6 L253.7 1789 L270 1791.5Z" fill="#c8ad11"/>
<path d="M766.3 1821.7 L746.4 1819.1 L761.8 1820.2 L781.6 1823Z" fill="#91a808"/>
<path d="M730.8 1818.1 L711.2 1815.5 L726.9 1816.4 L746.4 1819.1Z" fill="#9aaa08"/>
<path d="M695.4 1814.7 L676 1812.2 L691.9 1812.8 L711.2 1815.5Z" fill="#a3ac09"/>
<path d="M659.8 1811.6 L640.7 1809.1 L656.9 1809.5 L676 1812.2Z" fill="#abae09"/>
<path d="M624.3 1808.7 L605.4 1806.3 L621.8 1806.5 L640.7 1809.1Z" fill="#b0ae0a"/>
<path d="M588.7 1806.2 L570 1803.8 L586.7 1803.7 L605.4 1806.3Z" fill="#b2aa0b"/>
<path d="M553.1 1803.9 L534.7 1801.6 L551.6 1801.2 L570 1803.8Z" fill="#b4a80b"/>
<path d="M517.5 1802 L499.3 1799.6 L516.5 1799 L534.7 1801.6Z" fill="#b6a50c"/>
<path d="M481.8 1800.3 L463.8 1797.9 L481.3 1797.1 L499.3 1799.6Z" fill="#b8a30c"/>
<path d="M446.1 1798.8 L428.4 1796.6 L446.1 1795.5 L463.8 1797.9Z" fill="#baa20d"/>
<path d="M125 1798.9 L109.4 1796.8 L129.3 1793.4 L144.8 1795.6Z" fill="#cdb013"/>
<path d="M410.4 1797.7 L393 1795.5 L410.9 1794.1 L428.4 1796.6Z" fill="#bca10e"/>
<path d="M160.6 1797.7 L144.8 1795.6 L164.4 1792.5 L180.2 1794.8Z" fill="#cbac12"/>
<path d="M374.7 1796.9 L357.5 1794.6 L375.7 1793.1 L393 1795.5Z" fill="#bfa10e"/>
<path d="M196.3 1796.9 L180.2 1794.8 L199.6 1791.9 L215.7 1794.2Z" fill="#c9a911"/>
<path d="M339 1796.3 L322 1794.1 L340.5 1792.3 L357.5 1794.6Z" fill="#c1a20f"/>
<path d="M231.9 1796.3 L215.7 1794.2 L234.8 1791.6 L251.1 1793.9Z" fill="#c7a611"/>
<path d="M303.3 1796 L286.6 1793.8 L305.3 1791.7 L322 1794.1Z" fill="#c3a20f"/>
<path d="M267.6 1796 L251.1 1793.9 L270 1791.5 L286.6 1793.8Z" fill="#c5a410"/>
<path d="M750.7 1820.5 L730.8 1818.1 L746.4 1819.1 L766.3 1821.7Z" fill="#9ca707"/>
<path d="M715 1817.1 L695.4 1814.7 L711.2 1815.5 L730.8 1818.1Z" fill="#a5a908"/>
<path d="M679.3 1813.9 L659.8 1811.6 L676 1812.2 L695.4 1814.7Z" fill="#aba908"/>
<path d="M643.5 1811 L624.3 1808.7 L640.7 1809.1 L659.8 1811.6Z" fill="#ada509"/>
<path d="M607.6 1808.5 L588.7 1806.2 L605.4 1806.3 L624.3 1808.7Z" fill="#afa20a"/>
<path d="M571.8 1806.2 L553.1 1803.9 L570 1803.8 L588.7 1806.2Z" fill="#b19f0a"/>
<path d="M535.9 1804.1 L517.5 1802 L534.7 1801.6 L553.1 1803.9Z" fill="#b39d0b"/>
<path d="M500 1802.4 L481.8 1800.3 L499.3 1799.6 L517.5 1802Z" fill="#b59b0b"/>
<path d="M464.1 1801 L446.1 1798.8 L463.8 1797.9 L481.8 1800.3Z" fill="#b7990c"/>
<path d="M140.7 1800.8 L125 1798.9 L144.8 1795.6 L160.6 1797.7Z" fill="#c9a712"/>
<path d="M428.2 1799.8 L410.4 1797.7 L428.4 1796.6 L446.1 1798.8Z" fill="#b9990d"/>
<path d="M176.6 1799.7 L160.6 1797.7 L180.2 1794.8 L196.3 1796.9Z" fill="#c7a311"/>
<path d="M392.2 1798.9 L374.7 1796.9 L393 1795.5 L410.4 1797.7Z" fill="#bb980d"/>
<path d="M212.5 1798.9 L196.3 1796.9 L215.7 1794.2 L231.9 1796.3Z" fill="#c5a010"/>
<path d="M356.3 1798.4 L339 1796.3 L357.5 1794.6 L374.7 1796.9Z" fill="#bd990e"/>
<path d="M248.4 1798.3 L231.9 1796.3 L251.1 1793.9 L267.6 1796Z" fill="#c39d10"/>
<path d="M320.3 1798 L303.3 1796 L322 1794.1 L339 1796.3Z" fill="#bf9a0f"/>
<path d="M284.4 1798 L267.6 1796 L286.6 1793.8 L303.3 1796Z" fill="#c19b0f"/>
<path d="M734.9 1819.3 L715 1817.1 L730.8 1818.1 L750.7 1820.5Z" fill="#a6a407"/>
<path d="M698.9 1816.1 L679.3 1813.9 L695.4 1814.7 L715 1817.1Z" fill="#a8a008"/>
<path d="M662.9 1813.2 L643.5 1811 L659.8 1811.6 L679.3 1813.9Z" fill="#aa9c08"/>
<path d="M626.8 1810.6 L607.6 1808.5 L624.3 1808.7 L643.5 1811Z" fill="#ac9909"/>
<path d="M590.7 1808.2 L571.8 1806.2 L588.7 1806.2 L607.6 1808.5Z" fill="#ae9609"/>
<path d="M554.6 1806.2 L535.9 1804.1 L553.1 1803.9 L571.8 1806.2Z" fill="#b0940a"/>
<path d="M518.5 1804.4 L500 1802.4 L517.5 1802 L535.9 1804.1Z" fill="#b2920b"/>
<path d="M482.3 1803 L464.1 1801 L481.8 1800.3 L500 1802.4Z" fill="#b4900b"/>
<path d="M446.1 1801.8 L428.2 1799.8 L446.1 1798.8 L464.1 1801Z" fill="#b6900c"/>
<path d="M156.7 1802.6 L140.7 1800.8 L160.6 1797.7 L176.6 1799.7Z" fill="#c69d11"/>
<path d="M409.9 1800.9 L392.2 1798.9 L410.4 1797.7 L428.2 1799.8Z" fill="#b88f0c"/>
<path d="M192.8 1801.5 L176.6 1799.7 L196.3 1796.9 L212.5 1798.9Z" fill="#c49910"/>
<path d="M373.7 1800.3 L356.3 1798.4 L374.7 1796.9 L392.2 1798.9Z" fill="#ba900d"/>
<path d="M229 1800.7 L212.5 1798.9 L231.9 1796.3 L248.4 1798.3Z" fill="#c2960f"/>
<path d="M337.5 1799.9 L320.3 1798 L339 1796.3 L356.3 1798.4Z" fill="#bc900e"/>
<path d="M265.1 1800.1 L248.4 1798.3 L267.6 1796 L284.4 1798Z" fill="#c0940f"/>
<path d="M301.3 1799.9 L284.4 1798 L303.3 1796 L320.3 1798Z" fill="#be920e"/>
<path d="M718.9 1818.1 L698.9 1816.1 L715 1817.1 L734.9 1819.3Z" fill="#a49707"/>
<path d="M682.6 1815.2 L662.9 1813.2 L679.3 1813.9 L698.9 1816.1Z" fill="#a79307"/>
<path d="M646.3 1812.5 L626.8 1810.6 L643.5 1811 L662.9 1813.2Z" fill="#a99008"/>
<path d="M610 1810.2 L590.7 1808.2 L607.6 1808.5 L626.8 1810.6Z" fill="#ab8d08"/>
<path d="M573.6 1808.1 L554.6 1806.2 L571.8 1806.2 L590.7 1808.2Z" fill="#ad8b09"/>
<path d="M537.2 1806.3 L518.5 1804.4 L535.9 1804.1 L554.6 1806.2Z" fill="#af890a"/>
<path d="M500.8 1804.8 L482.3 1803 L500 1802.4 L518.5 1804.4Z" fill="#b1870a"/>
<path d="M464.3 1803.6 L446.1 1801.8 L464.1 1801 L482.3 1803Z" fill="#b3860b"/>
<path d="M172.8 1804.3 L156.7 1802.6 L176.6 1799.7 L192.8 1801.5Z" fill="#c39310"/>
<path d="M427.9 1802.6 L409.9 1800.9 L428.2 1799.8 L446.1 1801.8Z" fill="#b5860b"/>
<path d="M209.2 1803.2 L192.8 1801.5 L212.5 1798.9 L229 1800.7Z" fill="#c18f0f"/>
<path d="M391.4 1802 L373.7 1800.3 L392.2 1798.9 L409.9 1800.9Z" fill="#b7860c"/>
<path d="M245.7 1802.3 L229 1800.7 L248.4 1798.3 L265.1 1800.1Z" fill="#bf8c0e"/>
<path d="M355 1801.7 L337.5 1799.9 L356.3 1798.4 L373.7 1800.3Z" fill="#b9870d"/>
<path d="M282.1 1801.8 L265.1 1800.1 L284.4 1798 L301.3 1799.9Z" fill="#bd8a0e"/>
<path d="M318.5 1801.6 L301.3 1799.9 L320.3 1798 L337.5 1799.9Z" fill="#bb880d"/>
<path d="M702.6 1817 L682.6 1815.2 L698.9 1816.1 L718.9 1818.1Z" fill="#a38a06"/>
<path d="M666.1 1814.3 L646.3 1812.5 L662.9 1813.2 L682.6 1815.2Z" fill="#a58707"/>
<path d="M629.5 1811.9 L610 1810.2 L626.8 1810.6 L646.3 1812.5Z" fill="#a78408"/>
<path d="M592.8 1809.8 L573.6 1808.1 L590.7 1808.2 L610 1810.2Z" fill="#aa8108"/>
<path d="M556.2 1808 L537.2 1806.3 L554.6 1806.2 L573.6 1808.1Z" fill="#ac7f09"/>
<path d="M519.5 1806.5 L500.8 1804.8 L518.5 1804.4 L537.2 1806.3Z" fill="#ae7e09"/>
<path d="M482.8 1805.2 L464.3 1803.6 L482.3 1803 L500.8 1804.8Z" fill="#b07d0a"/>
<path d="M189.2 1805.7 L172.8 1804.3 L192.8 1801.5 L209.2 1803.2Z" fill="#c0890f"/>
<path d="M446.1 1804.3 L427.9 1802.6 L446.1 1801.8 L464.3 1803.6Z" fill="#b27d0b"/>
<path d="M225.9 1804.7 L209.2 1803.2 L229 1800.7 L245.7 1802.3Z" fill="#be850e"/>
<path d="M409.4 1803.6 L391.4 1802 L409.9 1800.9 L427.9 1802.6Z" fill="#b47d0b"/>
<path d="M262.6 1803.9 L245.7 1802.3 L265.1 1800.1 L282.1 1801.8Z" fill="#bc820e"/>
<path d="M372.7 1803.2 L355 1801.7 L373.7 1800.3 L391.4 1802Z" fill="#b67d0c"/>
<path d="M299.3 1803.3 L282.1 1801.8 L301.3 1799.9 L318.5 1801.6Z" fill="#ba800d"/>
<path d="M336 1803.1 L318.5 1801.6 L337.5 1799.9 L355 1801.7Z" fill="#b87e0c"/>
<path d="M686.1 1816 L666.1 1814.3 L682.6 1815.2 L702.6 1817Z" fill="#a27d06"/>
<path d="M649.3 1813.5 L629.5 1811.9 L646.3 1812.5 L666.1 1814.3Z" fill="#a47b07"/>
<path d="M612.4 1811.4 L592.8 1809.8 L610 1810.2 L629.5 1811.9Z" fill="#a67807"/>
<path d="M575.5 1809.5 L556.2 1808 L573.6 1808.1 L592.8 1809.8Z" fill="#a87608"/>
<path d="M538.5 1808 L519.5 1806.5 L537.2 1806.3 L556.2 1808Z" fill="#ab7508"/>
<path d="M501.6 1806.7 L482.8 1805.2 L500.8 1804.8 L519.5 1806.5Z" fill="#ad7409"/>
<path d="M205.8 1807.1 L189.2 1805.7 L209.2 1803.2 L225.9 1804.7Z" fill="#bd7f0e"/>
<path d="M464.6 1805.7 L446.1 1804.3 L464.3 1803.6 L482.8 1805.2Z" fill="#af730a"/>
<path d="M242.8 1806 L225.9 1804.7 L245.7 1802.3 L262.6 1803.9Z" fill="#bb7b0d"/>
<path d="M427.6 1805 L409.4 1803.6 L427.9 1802.6 L446.1 1804.3Z" fill="#b1730a"/>
<path d="M279.7 1805.2 L262.6 1803.9 L282.1 1801.8 L299.3 1803.3Z" fill="#b9780d"/>
<path d="M390.7 1804.6 L372.7 1803.2 L391.4 1802 L409.4 1803.6Z" fill="#b3730b"/>
<path d="M316.7 1804.7 L299.3 1803.3 L318.5 1801.6 L336 1803.1Z" fill="#b7760c"/>
<path d="M353.7 1804.5 L336 1803.1 L355 1801.7 L372.7 1803.2Z" fill="#b5750b"/>
<path d="M669.3 1815 L649.3 1813.5 L666.1 1814.3 L686.1 1816Z" fill="#a17106"/>
<path d="M632.2 1812.8 L612.4 1811.4 L629.5 1811.9 L649.3 1813.5Z" fill="#a36f06"/>
<path d="M595 1810.9 L575.5 1809.5 L592.8 1809.8 L612.4 1811.4Z" fill="#a56d07"/>
<path d="M557.8 1809.3 L538.5 1808 L556.2 1808 L575.5 1809.5Z" fill="#a76b07"/>
<path d="M520.6 1808 L501.6 1806.7 L519.5 1806.5 L538.5 1808Z" fill="#a96a08"/>
<path d="M222.7 1808.2 L205.8 1807.1 L225.9 1804.7 L242.8 1806Z" fill="#ba740d"/>
<path d="M483.4 1807 L464.6 1805.7 L482.8 1805.2 L501.6 1806.7Z" fill="#ab6909"/>
<path d="M259.9 1807.1 L242.8 1806 L262.6 1803.9 L279.7 1805.2Z" fill="#b8710c"/>
<path d="M446.1 1806.3 L427.6 1805 L446.1 1804.3 L464.6 1805.7Z" fill="#ae6909"/>
<path d="M297.1 1806.4 L279.7 1805.2 L299.3 1803.3 L316.7 1804.7Z" fill="#b66e0c"/>
<path d="M408.9 1805.9 L390.7 1804.6 L409.4 1803.6 L427.6 1805Z" fill="#b06a0a"/>
<path d="M334.4 1805.9 L316.7 1804.7 L336 1803.1 L353.7 1804.5Z" fill="#b46c0b"/>
<path d="M371.6 1805.7 L353.7 1804.5 L372.7 1803.2 L390.7 1804.6Z" fill="#b26b0a"/>
<path d="M652.3 1814.1 L632.2 1812.8 L649.3 1813.5 L669.3 1815Z" fill="#a06505"/>
<path d="M614.9 1812.1 L595 1810.9 L612.4 1811.4 L632.2 1812.8Z" fill="#a26306"/>
<path d="M577.4 1810.5 L557.8 1809.3 L575.5 1809.5 L595 1810.9Z" fill="#a46107"/>
<path d="M539.9 1809.2 L520.6 1808 L538.5 1808 L557.8 1809.3Z" fill="#a66007"/>
<path d="M239.8 1809.2 L222.7 1808.2 L242.8 1806 L259.9 1807.1Z" fill="#b7690c"/>
<path d="M502.4 1808.1 L483.4 1807 L501.6 1806.7 L520.6 1808Z" fill="#a85f08"/>
<path d="M277.3 1808.1 L259.9 1807.1 L279.7 1805.2 L297.1 1806.4Z" fill="#b5660b"/>
<path d="M464.9 1807.4 L446.1 1806.3 L464.6 1805.7 L483.4 1807Z" fill="#aa5f08"/>
<path d="M314.8 1807.4 L297.1 1806.4 L316.7 1804.7 L334.4 1805.9Z" fill="#b3640b"/>
<path d="M427.4 1806.9 L408.9 1805.9 L427.6 1805 L446.1 1806.3Z" fill="#ac5f09"/>
<path d="M352.3 1806.9 L334.4 1805.9 L353.7 1804.5 L371.6 1805.7Z" fill="#b1620a"/>
<path d="M389.8 1806.8 L371.6 1805.7 L390.7 1804.6 L408.9 1805.9Z" fill="#af600a"/>
<path d="M635 1813.2 L614.9 1812.1 L632.2 1812.8 L652.3 1814.1Z" fill="#9f5905"/>
<path d="M597.3 1811.5 L577.4 1810.5 L595 1810.9 L614.9 1812.1Z" fill="#a15706"/>
<path d="M559.5 1810.1 L539.9 1809.2 L557.8 1809.3 L577.4 1810.5Z" fill="#a35606"/>
<path d="M257.2 1810 L239.8 1809.2 L259.9 1807.1 L277.3 1808.1Z" fill="#b45f0b"/>
<path d="M521.7 1809.1 L502.4 1808.1 L520.6 1808 L539.9 1809.2Z" fill="#a55507"/>
<path d="M294.9 1809 L277.3 1808.1 L297.1 1806.4 L314.8 1807.4Z" fill="#b15c0a"/>
<path d="M483.9 1808.3 L464.9 1807.4 L483.4 1807 L502.4 1808.1Z" fill="#a75507"/>
<path d="M332.7 1808.2 L314.8 1807.4 L334.4 1805.9 L352.3 1806.9Z" fill="#af590a"/>
<path d="M446.1 1807.8 L427.4 1806.9 L446.1 1806.3 L464.9 1807.4Z" fill="#a95508"/>
<path d="M370.5 1807.8 L352.3 1806.9 L371.6 1805.7 L389.8 1806.8Z" fill="#ad5709"/>
<path d="M408.3 1807.7 L389.8 1806.8 L408.9 1805.9 L427.4 1806.9Z" fill="#ab5609"/>
<path d="M617.4 1812.3 L597.3 1811.5 L614.9 1812.1 L635 1813.2Z" fill="#9e4d05"/>
<path d="M579.4 1810.9 L559.5 1810.1 L577.4 1810.5 L597.3 1811.5Z" fill="#a04c05"/>
<path d="M541.3 1809.8 L521.7 1809.1 L539.9 1809.2 L559.5 1810.1Z" fill="#a24b06"/>
<path d="M274.8 1810.6 L257.2 1810 L277.3 1808.1 L294.9 1809Z" fill="#b0540a"/>
<path d="M503.3 1809 L483.9 1808.3 L502.4 1808.1 L521.7 1809.1Z" fill="#a44b07"/>
<path d="M312.8 1809.6 L294.9 1809 L314.8 1807.4 L332.7 1808.2Z" fill="#ae5109"/>
<path d="M465.2 1808.5 L446.1 1807.8 L464.9 1807.4 L483.9 1808.3Z" fill="#a64b07"/>
<path d="M350.9 1808.9 L332.7 1808.2 L352.3 1806.9 L370.5 1807.8Z" fill="#ac4f09"/>
<path d="M427.1 1808.4 L408.3 1807.7 L427.4 1806.9 L446.1 1807.8Z" fill="#a84c08"/>
<path d="M389 1808.5 L370.5 1807.8 L389.8 1806.8 L408.3 1807.7Z" fill="#aa4d08"/>
<path d="M599.6 1811.6 L579.4 1810.9 L597.3 1811.5 L617.4 1812.3Z" fill="#9d4204"/>
<path d="M561.2 1810.4 L541.3 1809.8 L559.5 1810.1 L579.4 1810.9Z" fill="#9f4105"/>
<path d="M292.6 1811.1 L274.8 1810.6 L294.9 1809 L312.8 1809.6Z" fill="#ad4909"/>
<path d="M522.9 1809.6 L503.3 1809 L521.7 1809.1 L541.3 1809.8Z" fill="#a14106"/>
<path d="M331 1810.1 L312.8 1809.6 L332.7 1808.2 L350.9 1808.9Z" fill="#ab4609"/>
<path d="M484.5 1809.1 L465.2 1808.5 L483.9 1808.3 L503.3 1809Z" fill="#a34106"/>
<path d="M369.4 1809.4 L350.9 1808.9 L370.5 1807.8 L389 1808.5Z" fill="#a94408"/>
<path d="M446.1 1808.9 L427.1 1808.4 L446.1 1807.8 L465.2 1808.5Z" fill="#a54107"/>
<path d="M407.7 1809 L389 1808.5 L408.3 1807.7 L427.1 1808.4Z" fill="#a74207"/>
<path d="M581.5 1810.8 L561.2 1810.4 L579.4 1810.9 L599.6 1811.6Z" fill="#9b3704"/>
<path d="M310.8 1811.3 L292.6 1811.1 L312.8 1809.6 L331 1810.1Z" fill="#aa3e08"/>
<path d="M542.8 1810 L522.9 1809.6 L541.3 1809.8 L561.2 1810.4Z" fill="#9d3605"/>
<path d="M349.4 1810.3 L331 1810.1 L350.9 1808.9 L369.4 1809.4Z" fill="#a83b08"/>
<path d="M504.1 1809.4 L484.5 1809.1 L503.3 1809 L522.9 1809.6Z" fill="#a03605"/>
<path d="M388.1 1809.6 L369.4 1809.4 L389 1808.5 L407.7 1809Z" fill="#a63907"/>
<path d="M465.5 1809.2 L446.1 1808.9 L465.2 1808.5 L484.5 1809.1Z" fill="#a23706"/>
<path d="M426.8 1809.3 L407.7 1809 L427.1 1808.4 L446.1 1808.9Z" fill="#a43706"/>
<path d="M329.2 1811.4 L310.8 1811.3 L331 1810.1 L349.4 1810.3Z" fill="#a73207"/>
<path d="M563 1810.2 L542.8 1810 L561.2 1810.4 L581.5 1810.8Z" fill="#9a2c04"/>
<path d="M368.2 1810.4 L349.4 1810.3 L369.4 1809.4 L388.1 1809.6Z" fill="#a53007"/>
<path d="M524.1 1809.6 L504.1 1809.4 L522.9 1809.6 L542.8 1810Z" fill="#9c2c04"/>
<path d="M407.1 1809.8 L388.1 1809.6 L407.7 1809 L426.8 1809.3Z" fill="#a32e06"/>
<path d="M485.1 1809.3 L465.5 1809.2 L484.5 1809.1 L504.1 1809.4Z" fill="#9e2c05"/>
<path d="M446.1 1809.4 L426.8 1809.3 L446.1 1808.9 L465.5 1809.2Z" fill="#a12d06"/>
<path d="M347.9 1811.3 L329.2 1811.4 L349.4 1810.3 L368.2 1810.4Z" fill="#a42706"/>
<path d="M387.2 1810.3 L368.2 1810.4 L388.1 1809.6 L407.1 1809.8Z" fill="#a12506"/>
<path d="M544.3 1809.6 L524.1 1809.6 L542.8 1810 L563 1810.2Z" fill="#992104"/>
<path d="M426.5 1809.7 L407.1 1809.8 L426.8 1809.3 L446.1 1809.4Z" fill="#9f2305"/>
<path d="M505.1 1809.3 L485.1 1809.3 L504.1 1809.4 L524.1 1809.6Z" fill="#9b2104"/>
<path d="M465.8 1809.3 L446.1 1809.4 L465.5 1809.2 L485.1 1809.3Z" fill="#9d2205"/>
<path d="M366.9 1810.9 L347.9 1811.3 L368.2 1810.4 L387.2 1810.3Z" fill="#a01c06"/>
<path d="M406.5 1810 L387.2 1810.3 L407.1 1809.8 L426.5 1809.7Z" fill="#9e1a05"/>
<path d="M446.1 1809.4 L426.5 1809.7 L446.1 1809.4 L465.8 1809.3Z" fill="#9c1804"/>
<path d="M525.3 1809 L505.1 1809.3 L524.1 1809.6 L544.3 1809.6Z" fill="#981603"/>
<path d="M485.7 1809.1 L465.8 1809.3 L485.1 1809.3 L505.1 1809.3Z" fill="#9a1704"/>
<path d="M386.3 1810.4 L366.9 1810.9 L387.2 1810.3 L406.5 1810Z" fill="#9d1105"/>
<path d="M426.2 1809.5 L406.5 1810 L426.5 1809.7 L446.1 1809.4Z" fill="#9b0f04"/>
<path d="M466.1 1808.9 L446.1 1809.4 L465.8 1809.3 L485.7 1809.1Z" fill="#990d03"/>
<path d="M506 1808.6 L485.7 1809.1 L505.1 1809.3 L525.3 1809Z" fill="#970c03"/>
<path d="M405.9 1809.7 L386.3 1810.4 L406.5 1810 L426.2 1809.5Z" fill="#9a0504"/>
<path d="M446.1 1808.8 L426.2 1809.5 L446.1 1809.4 L466.1 1808.9Z" fill="#980303"/>
<path d="M486.4 1808.2 L466.1 1808.9 L485.7 1809.1 L506 1808.6Z" fill="#960303"/>
<path d="M425.8 1808.7 L405.9 1809.7 L426.2 1809.5 L446.1 1808.8Z" fill="#970303"/>
<path d="M466.4 1807.8 L446.1 1808.8 L466.1 1808.9 L486.4 1808.2Z" fill="#950202"/>
<path d="M446.1 1807.6 L425.8 1808.7 L446.1 1808.8 L466.4 1807.8Z" fill="#930202"/>
</g>

<text x="92.7" y="2042" font-size="22.4" text-anchor="end">90</text>
<text x="89.3" y="1972.2" font-size="22.4" text-anchor="end">92</text>
<text x="85.9" y="1902.4" font-size="22.4" text-anchor="end">94</text>
<text x="82.5" y="1832.6" font-size="22.4" text-anchor="end">96</text>
<text x="79.2" y="1762.7" font-size="22.4" text-anchor="end">98</text>
<text x="75.8" y="1692.9" font-size="22.4" text-anchor="end">100</text>
<text x="97.4" y="2184.3" font-size="22.4" text-anchor="end">1</text>
<text x="795.4" y="2184.3" font-size="22.4" text-anchor="start">1</text>
<text x="181" y="2224.4" font-size="22.4" text-anchor="end">0.5</text>
<text x="711.8" y="2224.4" font-size="22.4" text-anchor="start">0.5</text>
<text x="264.6" y="2264.6" font-size="22.4" text-anchor="end">0</text>
<text x="628.2" y="2264.6" font-size="22.4" text-anchor="start">0</text>
<text x="348.2" y="2304.8" font-size="22.4" text-anchor="end">-0.5</text>
<text x="544.6" y="2304.8" font-size="22.4" text-anchor="start">-0.5</text>
<text x="431.8" y="2344.9" font-size="22.4" text-anchor="end">-1</text>
<text x="461" y="2344.9" font-size="22.4" text-anchor="start">-1</text>
<text x="151.9" y="2308.3" font-size="23.7" text-anchor="middle" textLength="54.6" lengthAdjust="spacingAndGlyphs">Dose</text>
<text x="740.4" y="2308.3" font-size="23.7" text-anchor="middle" textLength="234.6" lengthAdjust="spacingAndGlyphs">Initinal Concentration</text>
<text transform="translate(24.9 1937.5) rotate(-90)" font-size="23.4" text-anchor="middle" textLength="161.3" lengthAdjust="spacingAndGlyphs">Removal MG %</text>
<text x="36.5" y="2282.5" font-size="32.0" text-anchor="start">e</text>
<path d="M1024.3 2035.8 L1379.9 1915.1 L1735.5 2035.8 M1020.8 1962.7 L1379.9 1849.2 L1739 1962.7 M1017.2 1889.6 L1379.9 1783.2 L1742.6 1889.6 M1013.7 1816.5 L1379.9 1717.3 L1746.1 1816.5 M1010.2 1743.4 L1379.9 1651.3 L1749.6 1743.4 M1113.2 2005.6 L1100 1649.1 M1646.6 2005.6 L1659.8 1649.1 M1202.1 1975.4 L1193.3 1627.9 M1557.7 1975.4 L1566.5 1627.9 M1291 1945.3 L1286.6 1606.6 M1468.8 1945.3 L1473.2 1606.6 M1029.8 2150.9 L1006.6 1670.4 M1379.9 2018.9 L1379.9 1585.4 M1730 2150.9 L1753.2 1670.4" fill="none" stroke="#000" stroke-width="1.62"/>
<path d="M1006.6 1670.4 L1379.9 1585.4 L1753.2 1670.4" fill="none" stroke="#000" stroke-width="2.30" stroke-linejoin="round"/>
<path d="M1029.8 2150.9 L1379.9 2018.9 L1730 2150.9 L1379.9 2319.1Z" fill="#646464"/>
<path d="M1284.4 2054.9 L1290.9 2054.9 L1297.5 2054.9 L1304.2 2054.8 L1311 2054.7 L1317.9 2054.5 L1325 2054.2 L1331.1 2054 L1336.9 2053.8 L1342.6 2053.5 L1348.4 2053.2 L1354.3 2052.9 L1361.9 2052.4 L1369.7 2051.9 L1376.1 2051.5 L1381.5 2051.1 L1386.9 2050.6 L1393.6 2050.1 L1401.8 2049.4 L1407.9 2048.9 L1413.1 2048.4 L1418.6 2047.9 L1427.1 2047 L1433.5 2046.4 L1438.5 2045.9 L1444.5 2045.2 L1448.5 2044.8" fill="none" stroke="#a1f700" stroke-width="3.23" stroke-linecap="round" stroke-linejoin="round"/>
<path d="M1134.6 2111.4 L1139.9 2112 L1146.7 2112.5 L1154.7 2113.1 L1162.3 2113.5 L1169.3 2113.7 L1175.8 2113.8 L1182.5 2113.9 L1189.4 2113.8 L1196.5 2113.7 L1203 2113.5 L1209.2 2113.2 L1215.3 2112.9 L1221.3 2112.6 L1227.6 2112.2 L1235.9 2111.5 L1244.4 2110.8 L1250 2110.3 L1255.5 2109.8 L1262.5 2109.1 L1271.8 2108.1 L1277.1 2107.5 L1282.4 2106.9 L1291.2 2105.8 L1297.9 2104.9 L1303.1 2104.2 L1311.5 2103.1 L1318.2 2102.1 L1323.2 2101.4 L1332.5 2100 L1338 2099.2 L1343.4 2098.4 L1352.6 2097 L1357.4 2096.2 L1365.5 2094.9 L1371.7 2093.9 L1376.8 2093 L1385.9 2091.5 L1390.5 2090.7 L1399.8 2089.1 L1404.4 2088.3 L1411.6 2087 L1418.2 2085.9 L1423.5 2084.9 L1431.8 2083.4 L1436.4 2082.6 L1445.3 2080.9 L1449.8 2080.1 L1458.7 2078.5 L1463.1 2077.6 L1471.8 2076 L1476.4 2075.1 L1484.1 2073.6 L1489.5 2072.6 L1496.4 2071.3 L1502.5 2070.1 L1508.8 2068.9 L1511.1 2068.4" fill="none" stroke="#d0f700" stroke-width="3.23" stroke-linecap="round" stroke-linejoin="round"/>
<path d="M1252.5 2257.9 L1253.3 2254.6 L1254.2 2251.5 L1255.4 2248.2 L1257 2244.2 L1258.9 2240.1 L1260.7 2236.6 L1262.3 2233.9 L1264 2231.2 L1267 2226.9 L1269.7 2223.4 L1271.7 2220.9 L1275.3 2216.9 L1278.4 2213.7 L1280.7 2211.4 L1285.7 2207 L1288.2 2204.8 L1293.5 2200.6 L1296.3 2198.5 L1301.9 2194.5 L1307.7 2190.7 L1310.7 2188.8 L1316.8 2185.1 L1323.1 2181.5 L1326.9 2179.3 L1332.7 2176.3 L1339.3 2172.9 L1346 2169.6 L1352.8 2166.4 L1359.7 2163.3 L1366.6 2160.2 L1373.7 2157.2 L1380.8 2154.3 L1388 2151.4 L1395.2 2148.5 L1402.5 2145.7 L1409.8 2143 L1417.2 2140.3 L1424.6 2137.6 L1428.7 2136.2 L1435.7 2133.7 L1443.2 2131.1 L1450.7 2128.6 L1458.2 2126 L1463.3 2124.4 L1469.5 2122.3 L1477.1 2119.9 L1484.6 2117.5 L1491.1 2115.4 L1496 2113.9 L1503.5 2111.5 L1511.1 2109.2 L1515.7 2107.8 L1522.5 2105.7 L1530.1 2103.5 L1537.7 2101.2 L1541.5 2100.1 L1549 2097.9 L1556.6 2095.6 L1560.4 2094.5 L1568 2092.4 L1571.8 2091.3" fill="none" stroke="#f7ed00" stroke-width="3.23" stroke-linecap="round" stroke-linejoin="round"/>
<path d="M1625.7 2111.6 L1618.9 2114.2 L1612.2 2116.8 L1605.4 2119.4 L1598.7 2122.1 L1595.4 2123.4 L1588.7 2126.1 L1582 2128.8 L1575.4 2131.6 L1568.8 2134.4 L1562.3 2137.3 L1555.7 2140.2 L1549.2 2143.1 L1542.8 2146.1 L1536.4 2149.1 L1530 2152.2 L1523.7 2155.3 L1520.2 2157 L1514.3 2160 L1508.2 2163.3 L1502.1 2166.6 L1496.1 2169.9 L1490.1 2173.4 L1487.2 2175.1 L1481.3 2178.6 L1475.6 2182.2 L1470 2185.9 L1467.1 2187.8 L1461.6 2191.6 L1456.8 2195 L1453.6 2197.4 L1448.4 2201.4 L1445.8 2203.5 L1440.8 2207.6 L1437.9 2210.1 L1433.6 2214 L1430.8 2216.7 L1426.7 2220.7 L1424.5 2223 L1420.2 2227.6 L1418.1 2230 L1414.6 2234.2 L1412.1 2237.4 L1410.2 2239.9 L1406.9 2244.6 L1404.9 2247.6 L1403.2 2250.3 L1400.9 2254.3 L1398.6 2258.5 L1397.1 2261.4 L1395.8 2264.3 L1394.1 2268 L1392.4 2272.4 L1391 2276.2 L1390 2279.3 L1389 2282.5 L1388.2 2285.7 L1387.3 2289.3 L1386.4 2293.4 L1385.7 2297.5 L1385.1 2301.5 L1384.7 2305.4 L1384.3 2309.4 L1384.1 2313.3 L1383.9 2317.2" fill="none" stroke="#f7be00" stroke-width="3.23" stroke-linecap="round" stroke-linejoin="round"/>
<path d="M1677.8 2131.2 L1671.7 2134.2 L1665.7 2137.1 L1659.7 2140.1 L1653.7 2143.1 L1647.7 2146.2 L1641.8 2149.3 L1638.4 2151.2 L1633.1 2154.1 L1627.3 2157.3 L1621.5 2160.6 L1615.8 2163.9 L1610.2 2167.3 L1607.4 2169 L1601.9 2172.5 L1596.4 2176 L1591 2179.6 L1588.3 2181.4 L1583 2185.1 L1577.8 2188.8 L1575.2 2190.7 L1570.2 2194.5 L1565.2 2198.5 L1562.7 2200.4 L1557.8 2204.5 L1555.2 2206.7 L1550.7 2210.7 L1547.1 2214 L1543.9 2217.1 L1540.2 2220.8 L1537.3 2223.7 L1534 2227.2 L1531 2230.5 L1528.6 2233.3 L1525 2237.6 L1523.1 2240 L1519.4 2244.8 L1517.6 2247.4 L1515.5 2250.3 L1512.4 2255 L1512 2255.6" fill="none" stroke="#f78f00" stroke-width="3.23" stroke-linecap="round" stroke-linejoin="round"/>
<path d="M1029.8 2150.9 L1379.9 2018.9 L1730 2150.9 L1379.9 2319.1Z" fill="none" stroke="#000" stroke-width="2.40" stroke-linejoin="round"/>
<g fill="#000"><circle cx="1029.8" cy="2150.9" r="3.5"/><circle cx="1117.4" cy="2193" r="3.5"/><circle cx="1204.9" cy="2235" r="3.5"/><circle cx="1292.4" cy="2277.1" r="3.5"/><circle cx="1379.9" cy="2319.1" r="3.5"/><circle cx="1467.4" cy="2277.1" r="3.5"/><circle cx="1554.9" cy="2235" r="3.5"/><circle cx="1642.4" cy="2193" r="3.5"/><circle cx="1730" cy="2150.9" r="3.5"/><circle cx="1024.3" cy="2035.8" r="3.5"/><circle cx="1020.8" cy="1962.7" r="3.5"/><circle cx="1017.2" cy="1889.6" r="3.5"/><circle cx="1013.7" cy="1816.5" r="3.5"/><circle cx="1010.2" cy="1743.4" r="3.5"/><circle cx="1006.6" cy="1670.4" r="3.5"/></g>
<path d="M1012.2 1784.8L1011.8 1777.7" stroke="#222" stroke-width="1.16"/>
<circle cx="1012.2" cy="1784.8" r="6.9" fill="#ffc8c8" stroke="#533" stroke-width="1.04"/>
<path d="M1379.9 1714L1379.9 1715" stroke="#222" stroke-width="1.16"/>
<circle cx="1379.9" cy="1714" r="6.9" fill="#ffc8c8" stroke="#533" stroke-width="1.04"/>
<g stroke="#000" stroke-width="1.33" stroke-linejoin="round">
<path d="M1379.9 1718.8 L1363.5 1717 L1379.9 1715 L1396.3 1716.7Z" fill="#80c711"/>
<path d="M1363.3 1721.1 L1347 1719 L1363.5 1717 L1379.9 1718.8Z" fill="#87c911"/>
<path d="M1396.5 1720.5 L1379.9 1718.8 L1396.3 1716.7 L1412.8 1718.2Z" fill="#86c711"/>
<path d="M1346.6 1723.4 L1330.2 1721.2 L1347 1719 L1363.3 1721.1Z" fill="#8ecb12"/>
<path d="M1379.9 1723 L1363.3 1721.1 L1379.9 1718.8 L1396.5 1720.5Z" fill="#8dc911"/>
<path d="M1413.2 1722.1 L1396.5 1720.5 L1412.8 1718.2 L1429.6 1719.6Z" fill="#8dc711"/>
<path d="M1329.6 1725.9 L1313.3 1723.5 L1330.2 1721.2 L1346.6 1723.4Z" fill="#95ce14"/>
<path d="M1363.1 1725.5 L1346.6 1723.4 L1363.3 1721.1 L1379.9 1723Z" fill="#94cb12"/>
<path d="M1396.7 1724.7 L1379.9 1723 L1396.5 1720.5 L1413.2 1722.1Z" fill="#93c911"/>
<path d="M1430.2 1723.5 L1413.2 1722.1 L1429.6 1719.6 L1446.5 1720.8Z" fill="#94c611"/>
<path d="M1312.5 1728.5 L1296.1 1725.9 L1313.3 1723.5 L1329.6 1725.9Z" fill="#9cd015"/>
<path d="M1346.2 1728.2 L1329.6 1725.9 L1346.6 1723.4 L1363.1 1725.5Z" fill="#9bce13"/>
<path d="M1379.9 1727.5 L1363.1 1725.5 L1379.9 1723 L1396.7 1724.7Z" fill="#9acb12"/>
<path d="M1413.6 1726.3 L1396.7 1724.7 L1413.2 1722.1 L1430.2 1723.5Z" fill="#9ac911"/>
<path d="M1447.4 1724.7 L1430.2 1723.5 L1446.5 1720.8 L1463.7 1721.8Z" fill="#9bc611"/>
<path d="M1295.1 1731.3 L1278.7 1728.4 L1296.1 1725.9 L1312.5 1728.5Z" fill="#a3d216"/>
<path d="M1329 1731 L1312.5 1728.5 L1329.6 1725.9 L1346.2 1728.2Z" fill="#a1d015"/>
<path d="M1362.9 1730.3 L1346.2 1728.2 L1363.1 1725.5 L1379.9 1727.5Z" fill="#a0cd13"/>
<path d="M1396.9 1729.2 L1379.9 1727.5 L1396.7 1724.7 L1413.6 1726.3Z" fill="#a0cb12"/>
<path d="M1430.8 1727.7 L1413.6 1726.3 L1430.2 1723.5 L1447.4 1724.7Z" fill="#a1c811"/>
<path d="M1464.8 1725.7 L1447.4 1724.7 L1463.7 1721.8 L1481.1 1722.6Z" fill="#a3c610"/>
<path d="M1277.5 1734.1 L1261.2 1731.1 L1278.7 1728.4 L1295.1 1731.3Z" fill="#aad517"/>
<path d="M1311.6 1733.9 L1295.1 1731.3 L1312.5 1728.5 L1329 1731Z" fill="#a8d216"/>
<path d="M1345.8 1733.3 L1329 1731 L1346.2 1728.2 L1362.9 1730.3Z" fill="#a7d015"/>
<path d="M1379.9 1732.3 L1362.9 1730.3 L1379.9 1727.5 L1396.9 1729.2Z" fill="#a6cd13"/>
<path d="M1414 1730.8 L1396.9 1729.2 L1413.6 1726.3 L1430.8 1727.7Z" fill="#a7cb12"/>
<path d="M1448.2 1728.9 L1430.8 1727.7 L1447.4 1724.7 L1464.8 1725.7Z" fill="#a9c811"/>
<path d="M1482.4 1726.6 L1464.8 1725.7 L1481.1 1722.6 L1498.8 1723.3Z" fill="#acc610"/>
<path d="M1294 1737 L1277.5 1734.1 L1295.1 1731.3 L1311.6 1733.9Z" fill="#aed417"/>
<path d="M1259.7 1737.1 L1243.4 1733.8 L1261.2 1731.1 L1277.5 1734.1Z" fill="#b0d719"/>
<path d="M1328.4 1736.5 L1311.6 1733.9 L1329 1731 L1345.8 1733.3Z" fill="#add216"/>
<path d="M1362.7 1735.5 L1345.8 1733.3 L1362.9 1730.3 L1379.9 1732.3Z" fill="#accf14"/>
<path d="M1397.1 1734.1 L1379.9 1732.3 L1396.9 1729.2 L1414 1730.8Z" fill="#adcd13"/>
<path d="M1431.4 1732.2 L1414 1730.8 L1430.8 1727.7 L1448.2 1728.9Z" fill="#aeca12"/>
<path d="M1465.8 1730 L1448.2 1728.9 L1464.8 1725.7 L1482.4 1726.6Z" fill="#b1c811"/>
<path d="M1500.2 1727.2 L1482.4 1726.6 L1498.8 1723.3 L1516.6 1723.8Z" fill="#b5c510"/>
<path d="M1276.2 1740.2 L1259.7 1737.1 L1277.5 1734.1 L1294 1737Z" fill="#b4d718"/>
<path d="M1241.7 1740.2 L1225.4 1736.7 L1243.4 1733.8 L1259.7 1737.1Z" fill="#b7d91a"/>
<path d="M1310.8 1739.7 L1294 1737 L1311.6 1733.9 L1328.4 1736.5Z" fill="#b3d417"/>
<path d="M1345.3 1738.8 L1328.4 1736.5 L1345.8 1733.3 L1362.7 1735.5Z" fill="#b2d216"/>
<path d="M1379.9 1737.5 L1362.7 1735.5 L1379.9 1732.3 L1397.1 1734.1Z" fill="#b3cf14"/>
<path d="M1414.5 1735.7 L1397.1 1734.1 L1414 1730.8 L1431.4 1732.2Z" fill="#b4cd13"/>
<path d="M1449.1 1733.5 L1431.4 1732.2 L1448.2 1728.9 L1465.8 1730Z" fill="#b6ca12"/>
<path d="M1483.7 1730.8 L1465.8 1730 L1482.4 1726.6 L1500.2 1727.2Z" fill="#bac811"/>
<path d="M1518.3 1727.7 L1500.2 1727.2 L1516.6 1723.8 L1534.7 1724.1Z" fill="#bec510"/>
<path d="M1258.2 1743.5 L1241.7 1740.2 L1259.7 1737.1 L1276.2 1740.2Z" fill="#bad91a"/>
<path d="M1223.4 1743.4 L1207.1 1739.8 L1225.4 1736.7 L1241.7 1740.2Z" fill="#bddb1b"/>
<path d="M1293 1743.1 L1276.2 1740.2 L1294 1737 L1310.8 1739.7Z" fill="#b9d618"/>
<path d="M1327.7 1742.3 L1310.8 1739.7 L1328.4 1736.5 L1345.3 1738.8Z" fill="#b8d417"/>
<path d="M1362.5 1741 L1345.3 1738.8 L1362.7 1735.5 L1379.9 1737.5Z" fill="#b8d116"/>
<path d="M1397.3 1739.3 L1379.9 1737.5 L1397.1 1734.1 L1414.5 1735.7Z" fill="#b9cf14"/>
<path d="M1432.1 1737.2 L1414.5 1735.7 L1431.4 1732.2 L1449.1 1733.5Z" fill="#bbcc13"/>
<path d="M1466.9 1734.6 L1449.1 1733.5 L1465.8 1730 L1483.7 1730.8Z" fill="#beca12"/>
<path d="M1501.8 1731.5 L1483.7 1730.8 L1500.2 1727.2 L1518.3 1727.7Z" fill="#c2c711"/>
<path d="M1536.7 1728 L1518.3 1727.7 L1534.7 1724.1 L1553 1724.2Z" fill="#c5c310"/>
<path d="M1240 1747 L1223.4 1743.4 L1241.7 1740.2 L1258.2 1743.5Z" fill="#c0db1b"/>
<path d="M1274.9 1746.6 L1258.2 1743.5 L1276.2 1740.2 L1293 1743.1Z" fill="#bed91a"/>
<path d="M1205 1746.8 L1188.7 1742.9 L1207.1 1739.8 L1223.4 1743.4Z" fill="#c3dd1c"/>
<path d="M1309.9 1745.9 L1293 1743.1 L1310.8 1739.7 L1327.7 1742.3Z" fill="#bdd618"/>
<path d="M1344.9 1744.7 L1327.7 1742.3 L1345.3 1738.8 L1362.5 1741Z" fill="#bdd417"/>
<path d="M1379.9 1743.1 L1362.5 1741 L1379.9 1737.5 L1397.3 1739.3Z" fill="#bed115"/>
<path d="M1414.9 1741 L1397.3 1739.3 L1414.5 1735.7 L1432.1 1737.2Z" fill="#c0cf14"/>
<path d="M1449.9 1738.4 L1432.1 1737.2 L1449.1 1733.5 L1466.9 1734.6Z" fill="#c3cc13"/>
<path d="M1485 1735.4 L1466.9 1734.6 L1483.7 1730.8 L1501.8 1731.5Z" fill="#c7ca12"/>
<path d="M1520.1 1732 L1501.8 1731.5 L1518.3 1727.7 L1536.7 1728Z" fill="#c7c311"/>
<path d="M1555.2 1728.1 L1536.7 1728 L1553 1724.2 L1571.6 1724.1Z" fill="#c5b810"/>
<path d="M1221.5 1750.5 L1205 1746.8 L1223.4 1743.4 L1240 1747Z" fill="#c6dd1c"/>
<path d="M1256.7 1750.3 L1240 1747 L1258.2 1743.5 L1274.9 1746.6Z" fill="#c3db1b"/>
<path d="M1186.3 1750.3 L1170 1746.2 L1188.7 1742.9 L1205 1746.8Z" fill="#c9df1e"/>
<path d="M1291.9 1749.6 L1274.9 1746.6 L1293 1743.1 L1309.9 1745.9Z" fill="#c2d819"/>
<path d="M1327.1 1748.5 L1309.9 1745.9 L1327.7 1742.3 L1344.9 1744.7Z" fill="#c2d618"/>
<path d="M1362.3 1746.9 L1344.9 1744.7 L1362.5 1741 L1379.9 1743.1Z" fill="#c3d317"/>
<path d="M1397.5 1744.9 L1379.9 1743.1 L1397.3 1739.3 L1414.9 1741Z" fill="#c5d115"/>
<path d="M1432.8 1742.4 L1414.9 1741 L1432.1 1737.2 L1449.9 1738.4Z" fill="#c8ce14"/>
<path d="M1468 1739.5 L1449.9 1738.4 L1466.9 1734.6 L1485 1735.4Z" fill="#cbcc13"/>
<path d="M1503.3 1736.1 L1485 1735.4 L1501.8 1731.5 L1520.1 1732Z" fill="#c9c312"/>
<path d="M1538.7 1732.3 L1520.1 1732 L1536.7 1728 L1555.2 1728.1Z" fill="#c7b811"/>
<path d="M1574.1 1728 L1555.2 1728.1 L1571.6 1724.1 L1590.4 1723.8Z" fill="#c4ad10"/>
<path d="M1202.8 1754.3 L1186.3 1750.3 L1205 1746.8 L1221.5 1750.5Z" fill="#cbdf1d"/>
<path d="M1238.2 1754.1 L1221.5 1750.5 L1240 1747 L1256.7 1750.3Z" fill="#c9dd1c"/>
<path d="M1167.4 1754 L1151.1 1749.7 L1170 1746.2 L1186.3 1750.3Z" fill="#cee21f"/>
<path d="M1273.6 1753.5 L1256.7 1750.3 L1274.9 1746.6 L1291.9 1749.6Z" fill="#c7db1b"/>
<path d="M1309 1752.5 L1291.9 1749.6 L1309.9 1745.9 L1327.1 1748.5Z" fill="#c7d819"/>
<path d="M1344.5 1751 L1327.1 1748.5 L1344.9 1744.7 L1362.3 1746.9Z" fill="#c8d618"/>
<path d="M1379.9 1749 L1362.3 1746.9 L1379.9 1743.1 L1397.5 1744.9Z" fill="#cad317"/>
<path d="M1415.4 1746.6 L1397.5 1744.9 L1414.9 1741 L1432.8 1742.4Z" fill="#ccd115"/>
<path d="M1450.8 1743.7 L1432.8 1742.4 L1449.9 1738.4 L1468 1739.5Z" fill="#cecd14"/>
<path d="M1486.4 1740.4 L1468 1739.5 L1485 1735.4 L1503.3 1736.1Z" fill="#ccc312"/>
<path d="M1521.9 1736.7 L1503.3 1736.1 L1520.1 1732 L1538.7 1732.3Z" fill="#c9b911"/>
<path d="M1557.5 1732.4 L1538.7 1732.3 L1555.2 1728.1 L1574.1 1728Z" fill="#c7ae11"/>
<path d="M1593.2 1727.7 L1574.1 1728 L1590.4 1723.8 L1609.5 1723.3Z" fill="#c4a210"/>
<path d="M1219.5 1758.1 L1202.8 1754.3 L1221.5 1750.5 L1238.2 1754.1Z" fill="#cedf1d"/>
<path d="M1183.8 1758.2 L1167.4 1754 L1186.3 1750.3 L1202.8 1754.3Z" fill="#d0e11f"/>
<path d="M1255.1 1757.6 L1238.2 1754.1 L1256.7 1750.3 L1273.6 1753.5Z" fill="#ccdd1c"/>
<path d="M1148.2 1757.8 L1131.9 1753.2 L1151.1 1749.7 L1167.4 1754Z" fill="#d3e420"/>
<path d="M1290.8 1756.6 L1273.6 1753.5 L1291.9 1749.6 L1309 1752.5Z" fill="#ccda1b"/>
<path d="M1326.4 1755.1 L1309 1752.5 L1327.1 1748.5 L1344.5 1751Z" fill="#ccd819"/>
<path d="M1362.1 1753.3 L1344.5 1751 L1362.3 1746.9 L1379.9 1749Z" fill="#ced518"/>
<path d="M1397.7 1750.9 L1379.9 1749 L1397.5 1744.9 L1415.4 1746.6Z" fill="#d0d316"/>
<path d="M1433.4 1748.1 L1415.4 1746.6 L1432.8 1742.4 L1450.8 1743.7Z" fill="#d0cd15"/>
<path d="M1469.2 1744.9 L1450.8 1743.7 L1468 1739.5 L1486.4 1740.4Z" fill="#cec414"/>
<path d="M1504.9 1741.1 L1486.4 1740.4 L1503.3 1736.1 L1521.9 1736.7Z" fill="#cbba12"/>
<path d="M1540.7 1737 L1521.9 1736.7 L1538.7 1732.3 L1557.5 1732.4Z" fill="#c9af11"/>
<path d="M1576.6 1732.3 L1557.5 1732.4 L1574.1 1728 L1593.2 1727.7Z" fill="#c6a311"/>
<path d="M1612.5 1727.2 L1593.2 1727.7 L1609.5 1723.3 L1628.9 1722.6Z" fill="#c49610"/>
<path d="M1200.5 1762.2 L1183.8 1758.2 L1202.8 1754.3 L1219.5 1758.1Z" fill="#d2e11f"/>
<path d="M1164.7 1762.2 L1148.2 1757.8 L1167.4 1754 L1183.8 1758.2Z" fill="#d5e320"/>
<path d="M1236.4 1761.7 L1219.5 1758.1 L1238.2 1754.1 L1255.1 1757.6Z" fill="#d1df1d"/>
<path d="M1128.8 1761.7 L1112.5 1756.9 L1131.9 1753.2 L1148.2 1757.8Z" fill="#d8e621"/>
<path d="M1272.3 1760.8 L1255.1 1757.6 L1273.6 1753.5 L1290.8 1756.6Z" fill="#d0dd1c"/>
<path d="M1308.1 1759.5 L1290.8 1756.6 L1309 1752.5 L1326.4 1755.1Z" fill="#d1da1a"/>
<path d="M1344 1757.6 L1326.4 1755.1 L1344.5 1751 L1362.1 1753.3Z" fill="#d2d819"/>
<path d="M1379.9 1755.4 L1362.1 1753.3 L1379.9 1749 L1397.7 1750.9Z" fill="#d4d518"/>
<path d="M1415.8 1752.6 L1397.7 1750.9 L1415.4 1746.6 L1433.4 1748.1Z" fill="#d3ce16"/>
<path d="M1451.8 1749.4 L1433.4 1748.1 L1450.8 1743.7 L1469.2 1744.9Z" fill="#d0c515"/>
<path d="M1487.7 1745.8 L1469.2 1744.9 L1486.4 1740.4 L1504.9 1741.1Z" fill="#cebb14"/>
<path d="M1523.8 1741.7 L1504.9 1741.1 L1521.9 1736.7 L1540.7 1737Z" fill="#cbb012"/>
<path d="M1559.8 1737.1 L1540.7 1737 L1557.5 1732.4 L1576.6 1732.3Z" fill="#c9a411"/>
<path d="M1596 1732.1 L1576.6 1732.3 L1593.2 1727.7 L1612.5 1727.2Z" fill="#c69711"/>
<path d="M1632.2 1726.5 L1612.5 1727.2 L1628.9 1722.6 L1648.5 1721.7Z" fill="#c48a10"/>
<path d="M1181.4 1766.4 L1164.7 1762.2 L1183.8 1758.2 L1200.5 1762.2Z" fill="#d7e320"/>
<path d="M1217.4 1766.1 L1200.5 1762.2 L1219.5 1758.1 L1236.4 1761.7Z" fill="#d5e11e"/>
<path d="M1145.3 1766.3 L1128.8 1761.7 L1148.2 1757.8 L1164.7 1762.2Z" fill="#dae621"/>
<path d="M1253.5 1765.2 L1236.4 1761.7 L1255.1 1757.6 L1272.3 1760.8Z" fill="#d4df1d"/>
<path d="M1109.1 1765.8 L1092.9 1760.8 L1112.5 1756.9 L1128.8 1761.7Z" fill="#dde822"/>
<path d="M1289.6 1763.9 L1272.3 1760.8 L1290.8 1756.6 L1308.1 1759.5Z" fill="#d5dc1c"/>
<path d="M1325.7 1762.2 L1308.1 1759.5 L1326.4 1755.1 L1344 1757.6Z" fill="#d6da1a"/>
<path d="M1361.8 1760 L1344 1757.6 L1362.1 1753.3 L1379.9 1755.4Z" fill="#d7d719"/>
<path d="M1398 1757.3 L1379.9 1755.4 L1397.7 1750.9 L1415.8 1752.6Z" fill="#d5cf18"/>
<path d="M1434.1 1754.2 L1415.8 1752.6 L1433.4 1748.1 L1451.8 1749.4Z" fill="#d3c616"/>
<path d="M1470.3 1750.6 L1451.8 1749.4 L1469.2 1744.9 L1487.7 1745.8Z" fill="#d0bc15"/>
<path d="M1506.6 1746.5 L1487.7 1745.8 L1504.9 1741.1 L1523.8 1741.7Z" fill="#cdb113"/>
<path d="M1542.9 1742 L1523.8 1741.7 L1540.7 1737 L1559.8 1737.1Z" fill="#cba512"/>
<path d="M1579.2 1737 L1559.8 1737.1 L1576.6 1732.3 L1596 1732.1Z" fill="#c89911"/>
<path d="M1615.6 1731.6 L1596 1732.1 L1612.5 1727.2 L1632.2 1726.5Z" fill="#c68c10"/>
<path d="M1652.1 1725.6 L1632.2 1726.5 L1648.5 1721.7 L1668.4 1720.6Z" fill="#c37e10"/>
<path d="M1161.9 1770.8 L1145.3 1766.3 L1164.7 1762.2 L1181.4 1766.4Z" fill="#dbe521"/>
<path d="M1198.2 1770.5 L1181.4 1766.4 L1200.5 1762.2 L1217.4 1766.1Z" fill="#d9e320"/>
<path d="M1125.6 1770.7 L1109.1 1765.8 L1128.8 1761.7 L1145.3 1766.3Z" fill="#dee822"/>
<path d="M1234.6 1769.8 L1217.4 1766.1 L1236.4 1761.7 L1253.5 1765.2Z" fill="#d8e11e"/>
<path d="M1089.2 1770 L1073 1764.8 L1092.9 1760.8 L1109.1 1765.8Z" fill="#e2ea24"/>
<path d="M1270.9 1768.6 L1253.5 1765.2 L1272.3 1760.8 L1289.6 1763.9Z" fill="#d9de1d"/>
<path d="M1307.2 1766.9 L1289.6 1763.9 L1308.1 1759.5 L1325.7 1762.2Z" fill="#dadc1c"/>
<path d="M1343.5 1764.7 L1325.7 1762.2 L1344 1757.6 L1361.8 1760Z" fill="#dad81a"/>
<path d="M1379.9 1762.1 L1361.8 1760 L1379.9 1755.4 L1398 1757.3Z" fill="#d7d019"/>
<path d="M1416.3 1759.1 L1398 1757.3 L1415.8 1752.6 L1434.1 1754.2Z" fill="#d5c717"/>
<path d="M1452.7 1755.6 L1434.1 1754.2 L1451.8 1749.4 L1470.3 1750.6Z" fill="#d2bd16"/>
<path d="M1489.2 1751.6 L1470.3 1750.6 L1487.7 1745.8 L1506.6 1746.5Z" fill="#d0b315"/>
<path d="M1525.7 1747.1 L1506.6 1746.5 L1523.8 1741.7 L1542.9 1742Z" fill="#cda713"/>
<path d="M1562.2 1742.1 L1542.9 1742 L1559.8 1737.1 L1579.2 1737Z" fill="#cb9a12"/>
<path d="M1598.8 1736.7 L1579.2 1737 L1596 1732.1 L1615.6 1731.6Z" fill="#c88d11"/>
<path d="M1635.5 1730.9 L1615.6 1731.6 L1632.2 1726.5 L1652.1 1725.6Z" fill="#c67f10"/>
<path d="M1672.3 1724.5 L1652.1 1725.6 L1668.4 1720.6 L1688.6 1719.2Z" fill="#c37110"/>
<path d="M1142.3 1775.4 L1125.6 1770.7 L1145.3 1766.3 L1161.9 1770.8Z" fill="#dfe722"/>
<path d="M1178.8 1775.2 L1161.9 1770.8 L1181.4 1766.4 L1198.2 1770.5Z" fill="#dde521"/>
<path d="M1105.7 1775.1 L1089.2 1770 L1109.1 1765.8 L1125.6 1770.7Z" fill="#e2ea24"/>
<path d="M1215.4 1774.5 L1198.2 1770.5 L1217.4 1766.1 L1234.6 1769.8Z" fill="#dce320"/>
<path d="M1069.1 1774.4 L1052.9 1768.9 L1073 1764.8 L1089.2 1770Z" fill="#e6ec25"/>
<path d="M1251.9 1773.3 L1234.6 1769.8 L1253.5 1765.2 L1270.9 1768.6Z" fill="#dce11e"/>
<path d="M1288.5 1771.7 L1270.9 1768.6 L1289.6 1763.9 L1307.2 1766.9Z" fill="#ddde1d"/>
<path d="M1325 1769.7 L1307.2 1766.9 L1325.7 1762.2 L1343.5 1764.7Z" fill="#dcd91b"/>
<path d="M1361.6 1767.1 L1343.5 1764.7 L1361.8 1760 L1379.9 1762.1Z" fill="#d9d11a"/>
<path d="M1398.2 1764.1 L1379.9 1762.1 L1398 1757.3 L1416.3 1759.1Z" fill="#d7c819"/>
<path d="M1434.8 1760.7 L1416.3 1759.1 L1434.1 1754.2 L1452.7 1755.6Z" fill="#d5bf17"/>
<path d="M1471.5 1756.7 L1452.7 1755.6 L1470.3 1750.6 L1489.2 1751.6Z" fill="#d2b416"/>
<path d="M1508.3 1752.3 L1489.2 1751.6 L1506.6 1746.5 L1525.7 1747.1Z" fill="#cfa915"/>
<path d="M1545 1747.4 L1525.7 1747.1 L1542.9 1742 L1562.2 1742.1Z" fill="#cd9c13"/>
<path d="M1581.9 1742.1 L1562.2 1742.1 L1579.2 1737 L1598.8 1736.7Z" fill="#ca8f12"/>
<path d="M1618.8 1736.3 L1598.8 1736.7 L1615.6 1731.6 L1635.5 1730.9Z" fill="#c88111"/>
<path d="M1655.7 1729.9 L1635.5 1730.9 L1652.1 1725.6 L1672.3 1724.5Z" fill="#c57310"/>
<path d="M1159.1 1780 L1142.3 1775.4 L1161.9 1770.8 L1178.8 1775.2Z" fill="#e1e722"/>
<path d="M1122.3 1780.1 L1105.7 1775.1 L1125.6 1770.7 L1142.3 1775.4Z" fill="#e3e924"/>
<path d="M1195.9 1779.4 L1178.8 1775.2 L1198.2 1770.5 L1215.4 1774.5Z" fill="#e0e521"/>
<path d="M1085.5 1779.8 L1069.1 1774.4 L1089.2 1770 L1105.7 1775.1Z" fill="#e6ec25"/>
<path d="M1692.8 1723.2 L1672.3 1724.5 L1688.6 1719.2 L1709.1 1717.7Z" fill="#c3630f"/>
<path d="M1232.7 1778.3 L1215.4 1774.5 L1234.6 1769.8 L1251.9 1773.3Z" fill="#e0e31f"/>
<path d="M1048.7 1778.9 L1032.5 1773.2 L1052.9 1768.9 L1069.1 1774.4Z" fill="#ebee26"/>
<path d="M1269.5 1776.8 L1251.9 1773.3 L1270.9 1768.6 L1288.5 1771.7Z" fill="#e0e01e"/>
<path d="M1306.3 1774.8 L1288.5 1771.7 L1307.2 1766.9 L1325 1769.7Z" fill="#deda1d"/>
<path d="M1343.1 1772.3 L1325 1769.7 L1343.5 1764.7 L1361.6 1767.1Z" fill="#dcd31b"/>
<path d="M1379.9 1769.4 L1361.6 1767.1 L1379.9 1762.1 L1398.2 1764.1Z" fill="#d9ca1a"/>
<path d="M1416.8 1766 L1398.2 1764.1 L1416.3 1759.1 L1434.8 1760.7Z" fill="#d7c119"/>
<path d="M1453.7 1762.1 L1434.8 1760.7 L1452.7 1755.6 L1471.5 1756.7Z" fill="#d4b617"/>
<path d="M1490.6 1757.7 L1471.5 1756.7 L1489.2 1751.6 L1508.3 1752.3Z" fill="#d2ab16"/>
<path d="M1527.6 1752.9 L1508.3 1752.3 L1525.7 1747.1 L1545 1747.4Z" fill="#cf9f14"/>
<path d="M1564.7 1747.6 L1545 1747.4 L1562.2 1742.1 L1581.9 1742.1Z" fill="#cd9113"/>
<path d="M1601.8 1741.8 L1581.9 1742.1 L1598.8 1736.7 L1618.8 1736.3Z" fill="#ca8312"/>
<path d="M1639 1735.5 L1618.8 1736.3 L1635.5 1730.9 L1655.7 1729.9Z" fill="#c77511"/>
<path d="M1676.3 1728.8 L1655.7 1729.9 L1672.3 1724.5 L1692.8 1723.2Z" fill="#c56610"/>
<path d="M1139.2 1784.9 L1122.3 1780.1 L1142.3 1775.4 L1159.1 1780Z" fill="#e4e923"/>
<path d="M1102.1 1785 L1085.5 1779.8 L1105.7 1775.1 L1122.3 1780.1Z" fill="#e7eb25"/>
<path d="M1176.2 1784.4 L1159.1 1780 L1178.8 1775.2 L1195.9 1779.4Z" fill="#e3e722"/>
<path d="M1065.1 1784.5 L1048.7 1778.9 L1069.1 1774.4 L1085.5 1779.8Z" fill="#eaee26"/>
<path d="M1213.2 1783.4 L1195.9 1779.4 L1215.4 1774.5 L1232.7 1778.3Z" fill="#e3e521"/>
<path d="M1028 1783.6 L1011.8 1777.7 L1032.5 1773.2 L1048.7 1778.9Z" fill="#eff027"/>
<path d="M1250.2 1781.9 L1232.7 1778.3 L1251.9 1773.3 L1269.5 1776.8Z" fill="#e2e21f"/>
<path d="M1287.3 1780 L1269.5 1776.8 L1288.5 1771.7 L1306.3 1774.8Z" fill="#e0db1e"/>
<path d="M1324.3 1777.6 L1306.3 1774.8 L1325 1769.7 L1343.1 1772.3Z" fill="#ded41d"/>
<path d="M1713.6 1721.6 L1692.8 1723.2 L1709.1 1717.7 L1729.9 1715.9Z" fill="#c2560f"/>
<path d="M1361.4 1774.7 L1343.1 1772.3 L1361.6 1767.1 L1379.9 1769.4Z" fill="#dbcc1b"/>
<path d="M1398.5 1771.4 L1379.9 1769.4 L1398.2 1764.1 L1416.8 1766Z" fill="#d9c31a"/>
<path d="M1435.6 1767.6 L1416.8 1766 L1434.8 1760.7 L1453.7 1762.1Z" fill="#d6b818"/>
<path d="M1472.7 1763.3 L1453.7 1762.1 L1471.5 1756.7 L1490.6 1757.7Z" fill="#d4ad17"/>
<path d="M1510 1758.5 L1490.6 1757.7 L1508.3 1752.3 L1527.6 1752.9Z" fill="#d1a116"/>
<path d="M1547.2 1753.3 L1527.6 1752.9 L1545 1747.4 L1564.7 1747.6Z" fill="#cf9414"/>
<path d="M1584.6 1747.5 L1564.7 1747.6 L1581.9 1742.1 L1601.8 1741.8Z" fill="#cc8613"/>
<path d="M1622 1741.3 L1601.8 1741.8 L1618.8 1736.3 L1639 1735.5Z" fill="#ca7712"/>
<path d="M1659.5 1734.6 L1639 1735.5 L1655.7 1729.9 L1676.3 1728.8Z" fill="#c76811"/>
<path d="M1119 1790 L1102.1 1785 L1122.3 1780.1 L1139.2 1784.9Z" fill="#e8eb25"/>
<path d="M1081.7 1790 L1065.1 1784.5 L1085.5 1779.8 L1102.1 1785Z" fill="#eaed26"/>
<path d="M1156.2 1789.6 L1139.2 1784.9 L1159.1 1780 L1176.2 1784.4Z" fill="#e6e923"/>
<path d="M1044.4 1789.5 L1028 1783.6 L1048.7 1778.9 L1065.1 1784.5Z" fill="#eeef27"/>
<path d="M1193.5 1788.7 L1176.2 1784.4 L1195.9 1779.4 L1213.2 1783.4Z" fill="#e6e722"/>
<path d="M1230.7 1787.3 L1213.2 1783.4 L1232.7 1778.3 L1250.2 1781.9Z" fill="#e5e321"/>
<path d="M1268 1785.4 L1250.2 1781.9 L1269.5 1776.8 L1287.3 1780Z" fill="#e2dd1f"/>
<path d="M1697.1 1727.4 L1676.3 1728.8 L1692.8 1723.2 L1713.6 1721.6Z" fill="#c55810"/>
<path d="M1305.3 1783.1 L1287.3 1780 L1306.3 1774.8 L1324.3 1777.6Z" fill="#e0d61e"/>
<path d="M1342.6 1780.3 L1324.3 1777.6 L1343.1 1772.3 L1361.4 1774.7Z" fill="#dece1c"/>
<path d="M1379.9 1777 L1361.4 1774.7 L1379.9 1769.4 L1398.5 1771.4Z" fill="#dbc51b"/>
<path d="M1734.7 1719.8 L1713.6 1721.6 L1729.9 1715.9 L1751.1 1713.9Z" fill="#c2480f"/>
<path d="M1417.3 1773.3 L1398.5 1771.4 L1416.8 1766 L1435.6 1767.6Z" fill="#d9bb1a"/>
<path d="M1454.7 1769 L1435.6 1767.6 L1453.7 1762.1 L1472.7 1763.3Z" fill="#d6b018"/>
<path d="M1492.1 1764.3 L1472.7 1763.3 L1490.6 1757.7 L1510 1758.5Z" fill="#d4a417"/>
<path d="M1529.6 1759.1 L1510 1758.5 L1527.6 1752.9 L1547.2 1753.3Z" fill="#d19715"/>
<path d="M1567.2 1753.4 L1547.2 1753.3 L1564.7 1747.6 L1584.6 1747.5Z" fill="#cf8914"/>
<path d="M1604.8 1747.3 L1584.6 1747.5 L1601.8 1741.8 L1622 1741.3Z" fill="#cc7a13"/>
<path d="M1642.5 1740.6 L1622 1741.3 L1639 1735.5 L1659.5 1734.6Z" fill="#c96b12"/>
<path d="M1098.5 1795.3 L1081.7 1790 L1102.1 1785 L1119 1790Z" fill="#ebed26"/>
<path d="M1136 1794.9 L1119 1790 L1139.2 1784.9 L1156.2 1789.6Z" fill="#e9eb25"/>
<path d="M1061 1795.2 L1044.4 1789.5 L1065.1 1784.5 L1081.7 1790Z" fill="#edef27"/>
<path d="M1173.5 1794.1 L1156.2 1789.6 L1176.2 1784.4 L1193.5 1788.7Z" fill="#e8e923"/>
<path d="M1211 1792.8 L1193.5 1788.7 L1213.2 1783.4 L1230.7 1787.3Z" fill="#e7e522"/>
<path d="M1248.5 1791 L1230.7 1787.3 L1250.2 1781.9 L1268 1785.4Z" fill="#e4df20"/>
<path d="M1680.3 1733.5 L1659.5 1734.6 L1676.3 1728.8 L1697.1 1727.4Z" fill="#c75b11"/>
<path d="M1286 1788.8 L1268 1785.4 L1287.3 1780 L1305.3 1783.1Z" fill="#e2d81f"/>
<path d="M1323.6 1786 L1305.3 1783.1 L1324.3 1777.6 L1342.6 1780.3Z" fill="#e0d01e"/>
<path d="M1361.1 1782.8 L1342.6 1780.3 L1361.4 1774.7 L1379.9 1777Z" fill="#ddc71c"/>
<path d="M1718.2 1725.8 L1697.1 1727.4 L1713.6 1721.6 L1734.7 1719.8Z" fill="#c44a10"/>
<path d="M1398.7 1779.1 L1379.9 1777 L1398.5 1771.4 L1417.3 1773.3Z" fill="#dbbd1b"/>
<path d="M1436.3 1774.9 L1417.3 1773.3 L1435.6 1767.6 L1454.7 1769Z" fill="#d8b219"/>
<path d="M1474 1770.3 L1454.7 1769 L1472.7 1763.3 L1492.1 1764.3Z" fill="#d6a618"/>
<path d="M1511.7 1765.1 L1492.1 1764.3 L1510 1758.5 L1529.6 1759.1Z" fill="#d39a17"/>
<path d="M1549.5 1759.5 L1529.6 1759.1 L1547.2 1753.3 L1567.2 1753.4Z" fill="#d18c15"/>
<path d="M1587.4 1753.4 L1567.2 1753.4 L1584.6 1747.5 L1604.8 1747.3Z" fill="#ce7d14"/>
<path d="M1625.3 1746.8 L1604.8 1747.3 L1622 1741.3 L1642.5 1740.6Z" fill="#cc6e12"/>
<path d="M1077.8 1800.8 L1061 1795.2 L1081.7 1790 L1098.5 1795.3Z" fill="#edef27"/>
<path d="M1115.6 1800.5 L1098.5 1795.3 L1119 1790 L1136 1794.9Z" fill="#ebed26"/>
<path d="M1153.3 1799.7 L1136 1794.9 L1156.2 1789.6 L1173.5 1794.1Z" fill="#ebeb24"/>
<path d="M1191 1798.5 L1173.5 1794.1 L1193.5 1788.7 L1211 1792.8Z" fill="#e9e723"/>
<path d="M1228.8 1796.8 L1211 1792.8 L1230.7 1787.3 L1248.5 1791Z" fill="#e6e122"/>
<path d="M1663.3 1739.7 L1642.5 1740.6 L1659.5 1734.6 L1680.3 1733.5Z" fill="#c95e11"/>
<path d="M1266.5 1794.6 L1248.5 1791 L1268 1785.4 L1286 1788.8Z" fill="#e4da20"/>
<path d="M1304.3 1791.9 L1286 1788.8 L1305.3 1783.1 L1323.6 1786Z" fill="#e2d21f"/>
<path d="M1701.4 1732.1 L1680.3 1733.5 L1697.1 1727.4 L1718.2 1725.8Z" fill="#c74d11"/>
<path d="M1342.1 1788.8 L1323.6 1786 L1342.6 1780.3 L1361.1 1782.8Z" fill="#dfca1e"/>
<path d="M1379.9 1785.2 L1361.1 1782.8 L1379.9 1777 L1398.7 1779.1Z" fill="#ddc01c"/>
<path d="M1417.8 1781 L1398.7 1779.1 L1417.3 1773.3 L1436.3 1774.9Z" fill="#dbb51b"/>
<path d="M1455.7 1776.4 L1436.3 1774.9 L1454.7 1769 L1474 1770.3Z" fill="#d8a919"/>
<path d="M1493.6 1771.4 L1474 1770.3 L1492.1 1764.3 L1511.7 1765.1Z" fill="#d69d18"/>
<path d="M1531.6 1765.8 L1511.7 1765.1 L1529.6 1759.1 L1549.5 1759.5Z" fill="#d38f17"/>
<path d="M1569.7 1759.7 L1549.5 1759.5 L1567.2 1753.4 L1587.4 1753.4Z" fill="#d18115"/>
<path d="M1607.9 1753.2 L1587.4 1753.4 L1604.8 1747.3 L1625.3 1746.8Z" fill="#ce7114"/>
<path d="M1094.8 1806.2 L1077.8 1800.8 L1098.5 1795.3 L1115.6 1800.5Z" fill="#eeef27"/>
<path d="M1132.8 1805.5 L1115.6 1800.5 L1136 1794.9 L1153.3 1799.7Z" fill="#eded26"/>
<path d="M1170.8 1804.4 L1153.3 1799.7 L1173.5 1794.1 L1191 1798.5Z" fill="#ebe924"/>
<path d="M1646.1 1746.1 L1625.3 1746.8 L1642.5 1740.6 L1663.3 1739.7Z" fill="#cb6112"/>
<path d="M1208.8 1802.7 L1191 1798.5 L1211 1792.8 L1228.8 1796.8Z" fill="#e8e323"/>
<path d="M1246.8 1800.6 L1228.8 1796.8 L1248.5 1791 L1266.5 1794.6Z" fill="#e6dd22"/>
<path d="M1284.8 1798 L1266.5 1794.6 L1286 1788.8 L1304.3 1791.9Z" fill="#e4d520"/>
<path d="M1684.5 1738.6 L1663.3 1739.7 L1680.3 1733.5 L1701.4 1732.1Z" fill="#c95111"/>
<path d="M1322.8 1794.9 L1304.3 1791.9 L1323.6 1786 L1342.1 1788.8Z" fill="#e2cc1f"/>
<path d="M1360.9 1791.4 L1342.1 1788.8 L1361.1 1782.8 L1379.9 1785.2Z" fill="#dfc31d"/>
<path d="M1399 1787.3 L1379.9 1785.2 L1398.7 1779.1 L1417.8 1781Z" fill="#ddb81c"/>
<path d="M1437.1 1782.8 L1417.8 1781 L1436.3 1774.9 L1455.7 1776.4Z" fill="#daad1b"/>
<path d="M1475.3 1777.7 L1455.7 1776.4 L1474 1770.3 L1493.6 1771.4Z" fill="#d8a019"/>
<path d="M1513.5 1772.2 L1493.6 1771.4 L1511.7 1765.1 L1531.6 1765.8Z" fill="#d59318"/>
<path d="M1551.8 1766.2 L1531.6 1765.8 L1549.5 1759.5 L1569.7 1759.7Z" fill="#d38416"/>
<path d="M1590.2 1759.7 L1569.7 1759.7 L1587.4 1753.4 L1607.9 1753.2Z" fill="#d07515"/>
<path d="M1112.1 1811.5 L1094.8 1806.2 L1115.6 1800.5 L1132.8 1805.5Z" fill="#efef27"/>
<path d="M1628.7 1752.7 L1607.9 1753.2 L1625.3 1746.8 L1646.1 1746.1Z" fill="#ce6514"/>
<path d="M1150.3 1810.4 L1132.8 1805.5 L1153.3 1799.7 L1170.8 1804.4Z" fill="#edeb26"/>
<path d="M1188.5 1808.8 L1170.8 1804.4 L1191 1798.5 L1208.8 1802.7Z" fill="#eae524"/>
<path d="M1226.7 1806.8 L1208.8 1802.7 L1228.8 1796.8 L1246.8 1800.6Z" fill="#e8df23"/>
<path d="M1265 1804.3 L1246.8 1800.6 L1266.5 1794.6 L1284.8 1798Z" fill="#e6d821"/>
<path d="M1667.3 1745.2 L1646.1 1746.1 L1663.3 1739.7 L1684.5 1738.6Z" fill="#cb5412"/>
<path d="M1303.3 1801.3 L1284.8 1798 L1304.3 1791.9 L1322.8 1794.9Z" fill="#e4cf20"/>
<path d="M1341.6 1797.8 L1322.8 1794.9 L1342.1 1788.8 L1360.9 1791.4Z" fill="#e1c61f"/>
<path d="M1379.9 1793.8 L1360.9 1791.4 L1379.9 1785.2 L1399 1787.3Z" fill="#dfbb1d"/>
<path d="M1418.3 1789.3 L1399 1787.3 L1417.8 1781 L1437.1 1782.8Z" fill="#dcb01c"/>
<path d="M1456.7 1784.3 L1437.1 1782.8 L1455.7 1776.4 L1475.3 1777.7Z" fill="#daa41a"/>
<path d="M1495.2 1778.9 L1475.3 1777.7 L1493.6 1771.4 L1513.5 1772.2Z" fill="#d89619"/>
<path d="M1533.7 1772.9 L1513.5 1772.2 L1531.6 1765.8 L1551.8 1766.2Z" fill="#d58818"/>
<path d="M1572.4 1766.4 L1551.8 1766.2 L1569.7 1759.7 L1590.2 1759.7Z" fill="#d27916"/>
<path d="M1611.1 1759.5 L1590.2 1759.7 L1607.9 1753.2 L1628.7 1752.7Z" fill="#d06915"/>
<path d="M1129.5 1816.6 L1112.1 1811.5 L1132.8 1805.5 L1150.3 1810.4Z" fill="#efed27"/>
<path d="M1168 1815.1 L1150.3 1810.4 L1170.8 1804.4 L1188.5 1808.8Z" fill="#ece825"/>
<path d="M1206.5 1813.2 L1188.5 1808.8 L1208.8 1802.7 L1226.7 1806.8Z" fill="#eae224"/>
<path d="M1245 1810.7 L1226.7 1806.8 L1246.8 1800.6 L1265 1804.3Z" fill="#e8db23"/>
<path d="M1649.8 1752 L1628.7 1752.7 L1646.1 1746.1 L1667.3 1745.2Z" fill="#cd5813"/>
<path d="M1283.5 1807.8 L1265 1804.3 L1284.8 1798 L1303.3 1801.3Z" fill="#e6d221"/>
<path d="M1322 1804.3 L1303.3 1801.3 L1322.8 1794.9 L1341.6 1797.8Z" fill="#e3c920"/>
<path d="M1360.6 1800.4 L1341.6 1797.8 L1360.9 1791.4 L1379.9 1793.8Z" fill="#e1bf1e"/>
<path d="M1399.2 1796 L1379.9 1793.8 L1399 1787.3 L1418.3 1789.3Z" fill="#dfb41d"/>
<path d="M1437.9 1791.1 L1418.3 1789.3 L1437.1 1782.8 L1456.7 1784.3Z" fill="#dca71c"/>
<path d="M1476.6 1785.7 L1456.7 1784.3 L1475.3 1777.7 L1495.2 1778.9Z" fill="#da9a1a"/>
<path d="M1515.4 1779.8 L1495.2 1778.9 L1513.5 1772.2 L1533.7 1772.9Z" fill="#d78c19"/>
<path d="M1554.2 1773.4 L1533.7 1772.9 L1551.8 1766.2 L1572.4 1766.4Z" fill="#d57d17"/>
<path d="M1593.2 1766.4 L1572.4 1766.4 L1590.2 1759.7 L1611.1 1759.5Z" fill="#d26d16"/>
<path d="M1147.2 1821.6 L1129.5 1816.6 L1150.3 1810.4 L1168 1815.1Z" fill="#eeeb27"/>
<path d="M1185.9 1819.7 L1168 1815.1 L1188.5 1808.8 L1206.5 1813.2Z" fill="#ece525"/>
<path d="M1632.2 1759 L1611.1 1759.5 L1628.7 1752.7 L1649.8 1752Z" fill="#d05d15"/>
<path d="M1224.7 1817.4 L1206.5 1813.2 L1226.7 1806.8 L1245 1810.7Z" fill="#eade24"/>
<path d="M1263.4 1814.5 L1245 1810.7 L1265 1804.3 L1283.5 1807.8Z" fill="#e8d623"/>
<path d="M1302.2 1811.1 L1283.5 1807.8 L1303.3 1801.3 L1322 1804.3Z" fill="#e5cd21"/>
<path d="M1341 1807.2 L1322 1804.3 L1341.6 1797.8 L1360.6 1800.4Z" fill="#e3c320"/>
<path d="M1379.9 1802.9 L1360.6 1800.4 L1379.9 1793.8 L1399.2 1796Z" fill="#e1b81e"/>
<path d="M1418.8 1798 L1399.2 1796 L1418.3 1789.3 L1437.9 1791.1Z" fill="#deab1d"/>
<path d="M1457.8 1792.7 L1437.9 1791.1 L1456.7 1784.3 L1476.6 1785.7Z" fill="#dc9e1b"/>
<path d="M1496.8 1786.8 L1476.6 1785.7 L1495.2 1778.9 L1515.4 1779.8Z" fill="#d9901a"/>
<path d="M1535.9 1780.5 L1515.4 1779.8 L1533.7 1772.9 L1554.2 1773.4Z" fill="#d78219"/>
<path d="M1575 1773.6 L1554.2 1773.4 L1572.4 1766.4 L1593.2 1766.4Z" fill="#d47217"/>
<path d="M1165.1 1826.5 L1147.2 1821.6 L1168 1815.1 L1185.9 1819.7Z" fill="#eee826"/>
<path d="M1614.3 1766.2 L1593.2 1766.4 L1611.1 1759.5 L1632.2 1759Z" fill="#d26116"/>
<path d="M1204.1 1824.2 L1185.9 1819.7 L1206.5 1813.2 L1224.7 1817.4Z" fill="#ece125"/>
<path d="M1243.1 1821.4 L1224.7 1817.4 L1245 1810.7 L1263.4 1814.5Z" fill="#ead924"/>
<path d="M1282.2 1818.1 L1263.4 1814.5 L1283.5 1807.8 L1302.2 1811.1Z" fill="#e8d122"/>
<path d="M1321.2 1814.3 L1302.2 1811.1 L1322 1804.3 L1341 1807.2Z" fill="#e5c721"/>
<path d="M1360.3 1810 L1341 1807.2 L1360.6 1800.4 L1379.9 1802.9Z" fill="#e3bc20"/>
<path d="M1399.5 1805.2 L1379.9 1802.9 L1399.2 1796 L1418.8 1798Z" fill="#e0b01e"/>
<path d="M1438.7 1799.9 L1418.8 1798 L1437.9 1791.1 L1457.8 1792.7Z" fill="#dea31d"/>
<path d="M1477.9 1794.1 L1457.8 1792.7 L1476.6 1785.7 L1496.8 1786.8Z" fill="#dc951b"/>
<path d="M1517.3 1787.8 L1496.8 1786.8 L1515.4 1779.8 L1535.9 1780.5Z" fill="#d9861a"/>
<path d="M1556.7 1781 L1535.9 1780.5 L1554.2 1773.4 L1575 1773.6Z" fill="#d77618"/>
<path d="M1596.2 1773.6 L1575 1773.6 L1593.2 1766.4 L1614.3 1766.2Z" fill="#d46617"/>
<path d="M1183.3 1831.2 L1165.1 1826.5 L1185.9 1819.7 L1204.1 1824.2Z" fill="#eee526"/>
<path d="M1222.6 1828.5 L1204.1 1824.2 L1224.7 1817.4 L1243.1 1821.4Z" fill="#ecdd25"/>
<path d="M1261.8 1825.2 L1243.1 1821.4 L1263.4 1814.5 L1282.2 1818.1Z" fill="#ead424"/>
<path d="M1301.2 1821.5 L1282.2 1818.1 L1302.2 1811.1 L1321.2 1814.3Z" fill="#e7cb22"/>
<path d="M1340.5 1817.3 L1321.2 1814.3 L1341 1807.2 L1360.3 1810Z" fill="#e5c021"/>
<path d="M1379.9 1812.5 L1360.3 1810 L1379.9 1802.9 L1399.5 1805.2Z" fill="#e3b41f"/>
<path d="M1419.3 1807.3 L1399.5 1805.2 L1418.8 1798 L1438.7 1799.9Z" fill="#e0a71e"/>
<path d="M1458.9 1801.6 L1438.7 1799.9 L1457.8 1792.7 L1477.9 1794.1Z" fill="#de9a1d"/>
<path d="M1498.4 1795.3 L1477.9 1794.1 L1496.8 1786.8 L1517.3 1787.8Z" fill="#db8b1b"/>
<path d="M1538.1 1788.5 L1517.3 1787.8 L1535.9 1780.5 L1556.7 1781Z" fill="#d97b1a"/>
<path d="M1577.8 1781.3 L1556.7 1781 L1575 1773.6 L1596.2 1773.6Z" fill="#d66b18"/>
<path d="M1201.7 1835.8 L1183.3 1831.2 L1204.1 1824.2 L1222.6 1828.5Z" fill="#eee126"/>
<path d="M1241.2 1832.6 L1222.6 1828.5 L1243.1 1821.4 L1261.8 1825.2Z" fill="#ecd925"/>
<path d="M1280.8 1828.9 L1261.8 1825.2 L1282.2 1818.1 L1301.2 1821.5Z" fill="#e9cf23"/>
<path d="M1320.4 1824.8 L1301.2 1821.5 L1321.2 1814.3 L1340.5 1817.3Z" fill="#e7c422"/>
<path d="M1360.1 1820.1 L1340.5 1817.3 L1360.3 1810 L1379.9 1812.5Z" fill="#e5b921"/>
<path d="M1399.8 1814.9 L1379.9 1812.5 L1399.5 1805.2 L1419.3 1807.3Z" fill="#e2ac1f"/>
<path d="M1439.5 1809.2 L1419.3 1807.3 L1438.7 1799.9 L1458.9 1801.6Z" fill="#e09f1e"/>
<path d="M1479.3 1803 L1458.9 1801.6 L1477.9 1794.1 L1498.4 1795.3Z" fill="#dd901c"/>
<path d="M1519.2 1796.3 L1498.4 1795.3 L1517.3 1787.8 L1538.1 1788.5Z" fill="#db811b"/>
<path d="M1559.2 1789.1 L1538.1 1788.5 L1556.7 1781 L1577.8 1781.3Z" fill="#d8701a"/>
<path d="M1220.4 1840.2 L1201.7 1835.8 L1222.6 1828.5 L1241.2 1832.6Z" fill="#eedd26"/>
<path d="M1260.2 1836.6 L1241.2 1832.6 L1261.8 1825.2 L1280.8 1828.9Z" fill="#ebd425"/>
<path d="M1300.1 1832.5 L1280.8 1828.9 L1301.2 1821.5 L1320.4 1824.8Z" fill="#e9c923"/>
<path d="M1340 1827.9 L1320.4 1824.8 L1340.5 1817.3 L1360.1 1820.1Z" fill="#e7be22"/>
<path d="M1379.9 1822.7 L1360.1 1820.1 L1379.9 1812.5 L1399.8 1814.9Z" fill="#e4b120"/>
<path d="M1419.9 1817.1 L1399.8 1814.9 L1419.3 1807.3 L1439.5 1809.2Z" fill="#e2a41f"/>
<path d="M1460 1811 L1439.5 1809.2 L1458.9 1801.6 L1479.3 1803Z" fill="#e0951e"/>
<path d="M1500.1 1804.3 L1479.3 1803 L1498.4 1795.3 L1519.2 1796.3Z" fill="#dd861c"/>
<path d="M1540.3 1797.1 L1519.2 1796.3 L1538.1 1788.5 L1559.2 1789.1Z" fill="#db761b"/>
<path d="M1239.3 1844.4 L1220.4 1840.2 L1241.2 1832.6 L1260.2 1836.6Z" fill="#edd826"/>
<path d="M1279.4 1840.4 L1260.2 1836.6 L1280.8 1828.9 L1300.1 1832.5Z" fill="#ebce25"/>
<path d="M1319.6 1835.8 L1300.1 1832.5 L1320.4 1824.8 L1340 1827.9Z" fill="#e9c323"/>
<path d="M1359.8 1830.8 L1340 1827.9 L1360.1 1820.1 L1379.9 1822.7Z" fill="#e6b722"/>
<path d="M1400 1825.2 L1379.9 1822.7 L1399.8 1814.9 L1419.9 1817.1Z" fill="#e4a920"/>
<path d="M1440.4 1819.1 L1419.9 1817.1 L1439.5 1809.2 L1460 1811Z" fill="#e29b1f"/>
<path d="M1480.7 1812.5 L1460 1811 L1479.3 1803 L1500.1 1804.3Z" fill="#df8c1d"/>
<path d="M1521.2 1805.4 L1500.1 1804.3 L1519.2 1796.3 L1540.3 1797.1Z" fill="#dd7c1c"/>
<path d="M1258.5 1848.5 L1239.3 1844.4 L1260.2 1836.6 L1279.4 1840.4Z" fill="#edd326"/>
<path d="M1298.9 1844 L1279.4 1840.4 L1300.1 1832.5 L1319.6 1835.8Z" fill="#ebc824"/>
<path d="M1339.4 1839 L1319.6 1835.8 L1340 1827.9 L1359.8 1830.8Z" fill="#e8bc23"/>
<path d="M1379.9 1833.5 L1359.8 1830.8 L1379.9 1822.7 L1400 1825.2Z" fill="#e6af22"/>
<path d="M1420.5 1827.5 L1400 1825.2 L1419.9 1817.1 L1440.4 1819.1Z" fill="#e4a120"/>
<path d="M1461.1 1820.9 L1440.4 1819.1 L1460 1811 L1480.7 1812.5Z" fill="#e1921f"/>
<path d="M1501.8 1813.8 L1480.7 1812.5 L1500.1 1804.3 L1521.2 1805.4Z" fill="#df821d"/>
<path d="M1278 1852.4 L1258.5 1848.5 L1279.4 1840.4 L1298.9 1844Z" fill="#edce26"/>
<path d="M1318.7 1847.5 L1298.9 1844 L1319.6 1835.8 L1339.4 1839Z" fill="#eac224"/>
<path d="M1359.5 1842 L1339.4 1839 L1359.8 1830.8 L1379.9 1833.5Z" fill="#e8b523"/>
<path d="M1400.3 1836 L1379.9 1833.5 L1400 1825.2 L1420.5 1827.5Z" fill="#e6a721"/>
<path d="M1441.2 1829.5 L1420.5 1827.5 L1440.4 1819.1 L1461.1 1820.9Z" fill="#e39820"/>
<path d="M1482.2 1822.5 L1461.1 1820.9 L1480.7 1812.5 L1501.8 1813.8Z" fill="#e1881e"/>
<path d="M1297.8 1856.2 L1278 1852.4 L1298.9 1844 L1318.7 1847.5Z" fill="#ecc825"/>
<path d="M1338.8 1850.8 L1318.7 1847.5 L1339.4 1839 L1359.5 1842Z" fill="#eabb24"/>
<path d="M1379.9 1844.9 L1359.5 1842 L1379.9 1833.5 L1400.3 1836Z" fill="#e8ad23"/>
<path d="M1421.1 1838.4 L1400.3 1836 L1420.5 1827.5 L1441.2 1829.5Z" fill="#e69e21"/>
<path d="M1462.3 1831.4 L1441.2 1829.5 L1461.1 1820.9 L1482.2 1822.5Z" fill="#e38e20"/>
<path d="M1317.8 1859.8 L1297.8 1856.2 L1318.7 1847.5 L1338.8 1850.8Z" fill="#ecc125"/>
<path d="M1359.2 1853.9 L1338.8 1850.8 L1359.5 1842 L1379.9 1844.9Z" fill="#eab424"/>
<path d="M1400.6 1847.5 L1379.9 1844.9 L1400.3 1836 L1421.1 1838.4Z" fill="#e8a522"/>
<path d="M1442.1 1840.6 L1421.1 1838.4 L1441.2 1829.5 L1462.3 1831.4Z" fill="#e59521"/>
<path d="M1338.2 1863.2 L1317.8 1859.8 L1338.8 1850.8 L1359.2 1853.9Z" fill="#ecba25"/>
<path d="M1379.9 1856.8 L1359.2 1853.9 L1379.9 1844.9 L1400.6 1847.5Z" fill="#eaac24"/>
<path d="M1421.7 1850 L1400.6 1847.5 L1421.1 1838.4 L1442.1 1840.6Z" fill="#e79c22"/>
<path d="M1358.9 1866.4 L1338.2 1863.2 L1359.2 1853.9 L1379.9 1856.8Z" fill="#ecb325"/>
<path d="M1400.9 1859.6 L1379.9 1856.8 L1400.6 1847.5 L1421.7 1850Z" fill="#e9a323"/>
<path d="M1379.9 1869.4 L1358.9 1866.4 L1379.9 1856.8 L1400.9 1859.6Z" fill="#ebab25"/>
</g>
<path d="M1379.9 1726L1379.9 1769.4" stroke="#222" stroke-width="1.16"/>
<circle cx="1379.9" cy="1726" r="6.9" fill="#c80000" stroke="#500" stroke-width="1.04"/>
<path d="M1379.9 1751.2L1379.9 1769.4" stroke="#222" stroke-width="1.16"/>
<circle cx="1379.9" cy="1751.2" r="6.9" fill="#c80000" stroke="#500" stroke-width="1.04"/>
<path d="M1379.9 1763.2L1379.9 1769.4" stroke="#222" stroke-width="1.16"/>
<circle cx="1379.9" cy="1763.2" r="6.9" fill="#c80000" stroke="#500" stroke-width="1.04"/>
<path d="M1379.9 1870L1379.9 1869.4" stroke="#222" stroke-width="1.16"/>
<circle cx="1379.9" cy="1870" r="6.9" fill="#c80000" stroke="#500" stroke-width="1.04"/>
<path d="M1751.3 1709.6L1751.1 1713.9" stroke="#222" stroke-width="1.16"/>
<circle cx="1751.3" cy="1709.6" r="6.9" fill="#c80000" stroke="#500" stroke-width="1.04"/>
<text x="1009.8" y="2027.4" font-size="23.4" text-anchor="end">90</text>
<text x="1006.3" y="1954.3" font-size="23.4" text-anchor="end">92</text>
<text x="1002.8" y="1881.2" font-size="23.4" text-anchor="end">94</text>
<text x="999.3" y="1808.1" font-size="23.4" text-anchor="end">96</text>
<text x="995.7" y="1735" font-size="23.4" text-anchor="end">98</text>
<text x="992.2" y="1661.9" font-size="23.4" text-anchor="end">100</text>
<text x="1014.8" y="2176.3" font-size="23.4" text-anchor="end">1</text>
<text x="1745.6" y="2176.3" font-size="23.4" text-anchor="start">1</text>
<text x="1102.3" y="2218.4" font-size="23.4" text-anchor="end">0.5</text>
<text x="1658" y="2218.4" font-size="23.4" text-anchor="start">0.5</text>
<text x="1189.9" y="2260.4" font-size="23.4" text-anchor="end">0</text>
<text x="1570.5" y="2260.4" font-size="23.4" text-anchor="start">0</text>
<text x="1277.4" y="2302.5" font-size="23.4" text-anchor="end">-0.5</text>
<text x="1483" y="2302.5" font-size="23.4" text-anchor="start">-0.5</text>
<text x="1364.9" y="2344.5" font-size="23.4" text-anchor="end">-1</text>
<text x="1395.5" y="2344.5" font-size="23.4" text-anchor="start">-1</text>
<text x="1071.8" y="2306.2" font-size="24.8" text-anchor="middle" textLength="57.1" lengthAdjust="spacingAndGlyphs">Dose</text>
<text x="1688" y="2306.2" font-size="24.8" text-anchor="middle" textLength="144.8" lengthAdjust="spacingAndGlyphs">Temperature</text>
<text transform="translate(935.1 1921.8) rotate(-90)" font-size="25.1" text-anchor="middle" textLength="172.8" lengthAdjust="spacingAndGlyphs">Removal MG %</text>
<text x="923.5" y="2277.5" font-size="32.0" text-anchor="start">f</text>
</svg></body></html>
